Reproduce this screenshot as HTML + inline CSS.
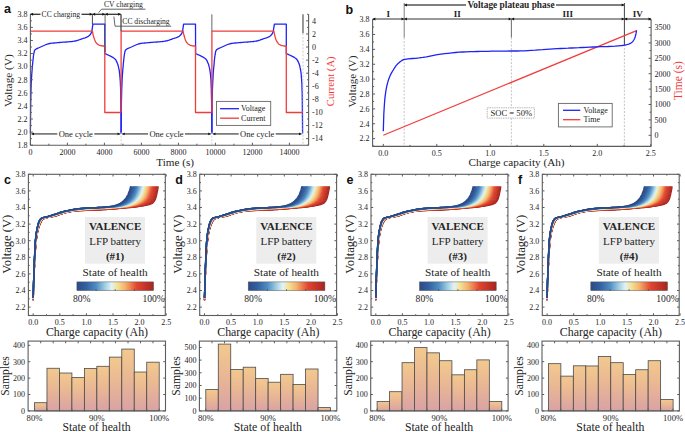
<!DOCTYPE html>
<html><head><meta charset="utf-8"><style>
html,body{margin:0;padding:0;background:#fff;width:685px;height:432px;overflow:hidden;}
svg{display:block;}

</style></head><body>
<svg width="685" height="432" viewBox="0 0 685 432">
<rect width="685" height="432" fill="#ffffff"/>
<path d="M30.4,133.4 30.7,104.0 31,90.5 31.2,83.2 31.5,78.1 31.8,73.7 32.1,70.0 32.3,66.9 32.6,64.0 32.9,61.1 33.2,58.3 33.4,56.0 33.7,54.3 34,52.8 34.3,51.5 34.5,50.6 34.8,50.1 35.1,49.8 35.4,49.6 35.6,49.4 35.9,49.2 36.2,49.0 36.5,48.8 36.7,48.7 37,48.6 37.3,48.4 37.6,48.3 37.8,48.2 38.1,48.1 38.4,48.0 39.5,47.5 40.6,47.0 41.7,46.5 42.8,46.0 44,45.5 45.1,45.0 46.2,44.5 47.3,44.1 48.4,43.8 49.5,43.5 50.6,43.3 51.7,43.2 52.9,43.1 54,43.0 55.1,42.9 56.2,42.8 57.3,42.7 58.4,42.6 59.5,42.5 60.6,42.4 61.8,42.3 62.9,42.2 64,42.1 65.1,42.1 66.2,42.0 67.3,41.9 68.4,41.8 69.5,41.7 70.7,41.6 71.8,41.5 72.9,41.3 74,41.2 75.1,41.0 76.2,40.8 77.3,40.4 78.4,40.1 79.6,39.7 80.7,39.3 81.8,38.9 82.9,38.5 84,38.1 85.1,37.8 86.2,37.4 87.3,36.9 88.5,36.2 89.6,35.3 90.7,34.0 91.8,31.7 92.9,24.1 104.8,24.1 104.8,53.6 105.3,53.8 105.8,54.0 106.3,54.2 106.7,54.4 107.2,54.6 107.7,54.8 108.1,55.0 108.6,55.2 109.1,55.5 109.5,55.7 110,55.9 110.5,56.1 110.9,56.4 111.4,56.6 111.9,56.9 112.3,57.1 112.8,57.4 113.3,57.7 113.7,58.0 114.2,58.3 114.7,58.7 115.1,59.2 115.6,59.7 116.1,60.4 116.5,61.4 117,62.4 117.5,63.6 117.9,64.8 118.4,66.5 118.5,67.1 118.7,67.7 118.8,68.4 119,69.1 119.1,70.0 119.3,70.8 119.4,71.8 119.5,73.0 119.7,74.2 119.8,75.7 120,77.3 120.1,79.1 120.3,81.2 120.4,84.0 120.6,88.4 120.7,94.5 120.8,102.3 121,114.0 121.1,133.4" fill="none" stroke="#1f22f5" stroke-width="1.3" stroke-linejoin="round" />
<path d="M30.4,31.1 30.4,31.1 92.4,31.1 92.9,33.8 93.4,36.0 94,37.9 94.5,39.4 95,40.6 95.5,41.6 96,42.5 96.5,43.1 97.1,43.7 97.6,44.2 98.1,44.5 98.6,44.8 99.1,45.1 99.6,45.3 100.2,45.5 100.7,45.6 101.2,45.7 101.7,45.8 102.2,45.9 102.7,46.0 103.2,46.0 103.8,46.0 104.3,46.1 104.8,46.1 104.8,46.2 104.8,112.5 121.1,112.5" fill="none" stroke="#f03c3c" stroke-width="1.3" stroke-linejoin="round" />
<path d="M121.1,133.4 121.4,104.0 121.7,90.5 122,83.2 122.2,78.1 122.5,73.7 122.8,70.0 123.1,66.9 123.3,64.0 123.6,61.1 123.9,58.3 124.2,56.0 124.4,54.3 124.7,52.8 125,51.5 125.3,50.6 125.5,50.1 125.8,49.8 126.1,49.6 126.4,49.4 126.6,49.2 126.9,49.0 127.2,48.8 127.5,48.7 127.8,48.6 128,48.4 128.3,48.3 128.6,48.2 128.9,48.1 129.1,48.0 130.2,47.5 131.4,47.0 132.5,46.5 133.6,46.0 134.7,45.5 135.8,45.0 136.9,44.5 138,44.1 139.1,43.8 140.3,43.5 141.4,43.3 142.5,43.2 143.6,43.1 144.7,43.0 145.8,42.9 146.9,42.8 148,42.7 149.2,42.6 150.3,42.5 151.4,42.4 152.5,42.3 153.6,42.2 154.7,42.1 155.8,42.1 156.9,42.0 158,41.9 159.2,41.8 160.3,41.7 161.4,41.6 162.5,41.5 163.6,41.3 164.7,41.2 165.8,41.0 166.9,40.8 168.1,40.4 169.2,40.1 170.3,39.7 171.4,39.3 172.5,38.9 173.6,38.5 174.7,38.1 175.8,37.8 177,37.4 178.1,36.9 179.2,36.2 180.3,35.3 181.4,34.0 182.5,31.7 183.6,24.1 195.5,24.1 195.6,53.6 196,53.8 196.5,54.0 197,54.2 197.4,54.4 197.9,54.6 198.4,54.8 198.9,55.0 199.3,55.2 199.8,55.5 200.3,55.7 200.7,55.9 201.2,56.1 201.7,56.4 202.1,56.6 202.6,56.9 203.1,57.1 203.5,57.4 204,57.7 204.5,58.0 204.9,58.3 205.4,58.7 205.9,59.2 206.3,59.7 206.8,60.4 207.3,61.4 207.7,62.4 208.2,63.6 208.7,64.8 209.1,66.5 209.3,67.1 209.4,67.7 209.6,68.4 209.7,69.1 209.8,70.0 210,70.8 210.1,71.8 210.3,73.0 210.4,74.2 210.6,75.7 210.7,77.3 210.9,79.1 211,81.2 211.1,84.0 211.3,88.4 211.4,94.5 211.6,102.3 211.7,114.0 211.9,133.4" fill="none" stroke="#1f22f5" stroke-width="1.3" stroke-linejoin="round" />
<path d="M121.1,112.5 121.1,31.1 183.1,31.1 183.6,33.8 184.2,36.0 184.7,37.9 185.2,39.4 185.7,40.6 186.2,41.6 186.7,42.5 187.3,43.1 187.8,43.7 188.3,44.2 188.8,44.5 189.3,44.8 189.8,45.1 190.4,45.3 190.9,45.5 191.4,45.6 191.9,45.7 192.4,45.8 192.9,45.9 193.5,46.0 194,46.0 194.5,46.0 195,46.1 195.5,46.1 195.5,46.2 195.5,112.5 211.9,112.5" fill="none" stroke="#f03c3c" stroke-width="1.3" stroke-linejoin="round" />
<path d="M211.9,133.4 212.1,104.0 212.4,90.5 212.7,83.2 213,78.1 213.2,73.7 213.5,70.0 213.8,66.9 214.1,64.0 214.3,61.1 214.6,58.3 214.9,56.0 215.2,54.3 215.4,52.8 215.7,51.5 216,50.6 216.3,50.1 216.5,49.8 216.8,49.6 217.1,49.4 217.4,49.2 217.7,49.0 217.9,48.8 218.2,48.7 218.5,48.6 218.8,48.4 219,48.3 219.3,48.2 219.6,48.1 219.9,48.0 221,47.5 222.1,47.0 223.2,46.5 224.3,46.0 225.4,45.5 226.5,45.0 227.6,44.5 228.8,44.1 229.9,43.8 231,43.5 232.1,43.3 233.2,43.2 234.3,43.1 235.4,43.0 236.5,42.9 237.7,42.8 238.8,42.7 239.9,42.6 241,42.5 242.1,42.4 243.2,42.3 244.3,42.2 245.4,42.1 246.6,42.1 247.7,42.0 248.8,41.9 249.9,41.8 251,41.7 252.1,41.6 253.2,41.5 254.3,41.3 255.5,41.2 256.6,41.0 257.7,40.8 258.8,40.4 259.9,40.1 261,39.7 262.1,39.3 263.2,38.9 264.3,38.5 265.5,38.1 266.6,37.8 267.7,37.4 268.8,36.9 269.9,36.2 271,35.3 272.1,34.0 273.2,31.7 274.4,24.1 286.3,24.1 286.3,53.6 286.8,53.8 287.2,54.0 287.7,54.2 288.2,54.4 288.6,54.6 289.1,54.8 289.6,55.0 290,55.2 290.5,55.5 291,55.7 291.4,55.9 291.9,56.1 292.4,56.4 292.9,56.6 293.3,56.9 293.8,57.1 294.3,57.4 294.7,57.7 295.2,58.0 295.7,58.3 296.1,58.7 296.6,59.2 297.1,59.7 297.5,60.4 298,61.4 298.5,62.4 298.9,63.6 299.4,64.8 299.9,66.5 300,67.1 300.1,67.7 300.3,68.4 300.4,69.1 300.6,70.0 300.7,70.8 300.9,71.8 301,73.0 301.2,74.2 301.3,75.7 301.4,77.3 301.6,79.1 301.7,81.2 301.9,84.0 302,88.4 302.2,94.5 302.3,102.3 302.4,114.0 302.6,133.4" fill="none" stroke="#1f22f5" stroke-width="1.3" stroke-linejoin="round" />
<path d="M211.9,112.5 211.9,31.1 273.9,31.1 274.4,33.8 274.9,36.0 275.4,37.9 275.9,39.4 276.4,40.6 277,41.6 277.5,42.5 278,43.1 278.5,43.7 279,44.2 279.5,44.5 280.1,44.8 280.6,45.1 281.1,45.3 281.6,45.5 282.1,45.6 282.6,45.7 283.2,45.8 283.7,45.9 284.2,46.0 284.7,46.0 285.2,46.0 285.7,46.1 286.3,46.1 286.3,46.2 286.3,112.5 302.6,112.5" fill="none" stroke="#f03c3c" stroke-width="1.3" stroke-linejoin="round" />
<line x1="302.99" y1="14.3" x2="302.99" y2="33.28" stroke="#333" stroke-width="1" />
<line x1="302.99" y1="33.28" x2="302.99" y2="145.2" stroke="#c0c0c0" stroke-width="0.8" stroke-dasharray="2,1.5"/>
<line x1="121.13" y1="14.3" x2="121.13" y2="31.06" stroke="#555" stroke-width="0.9" />
<line x1="211.86" y1="14.3" x2="211.86" y2="31.06" stroke="#555" stroke-width="0.9" />
<line x1="121.13" y1="132.11" x2="121.13" y2="145.2" stroke="#c4c4c4" stroke-width="0.8" stroke-dasharray="2,1.5"/>
<line x1="211.86" y1="132.11" x2="211.86" y2="145.2" stroke="#c4c4c4" stroke-width="0.8" stroke-dasharray="2,1.5"/>
<line x1="92.4" y1="14.3" x2="92.4" y2="24.12" stroke="#333" stroke-width="0.9" />
<line x1="105.1" y1="14.3" x2="105.1" y2="52" stroke="#555" stroke-width="0.9" />
<line x1="120.9" y1="14.3" x2="120.9" y2="31.06" stroke="#555" stroke-width="0.9" />
<line x1="30.4" y1="14.3" x2="30.4" y2="145.2" stroke="#5c5c5c" stroke-width="1.1" />
<line x1="30.4" y1="145.2" x2="308.6" y2="145.2" stroke="#5c5c5c" stroke-width="1.1" />
<line x1="308.6" y1="14.3" x2="308.6" y2="145.2" stroke="#5c5c5c" stroke-width="1.1" />
<line x1="30.4" y1="145.2" x2="32.9" y2="145.2" stroke="#5c5c5c" stroke-width="1" />
<line x1="30.4" y1="132.11" x2="32.9" y2="132.11" stroke="#5c5c5c" stroke-width="1" />
<line x1="30.4" y1="119.02" x2="32.9" y2="119.02" stroke="#5c5c5c" stroke-width="1" />
<line x1="30.4" y1="105.93" x2="32.9" y2="105.93" stroke="#5c5c5c" stroke-width="1" />
<line x1="30.4" y1="92.84" x2="32.9" y2="92.84" stroke="#5c5c5c" stroke-width="1" />
<line x1="30.4" y1="79.75" x2="32.9" y2="79.75" stroke="#5c5c5c" stroke-width="1" />
<line x1="30.4" y1="66.66" x2="32.9" y2="66.66" stroke="#5c5c5c" stroke-width="1" />
<line x1="30.4" y1="53.57" x2="32.9" y2="53.57" stroke="#5c5c5c" stroke-width="1" />
<line x1="30.4" y1="40.48" x2="32.9" y2="40.48" stroke="#5c5c5c" stroke-width="1" />
<line x1="30.4" y1="27.39" x2="32.9" y2="27.39" stroke="#5c5c5c" stroke-width="1" />
<line x1="30.4" y1="14.3" x2="32.9" y2="14.3" stroke="#5c5c5c" stroke-width="1" />
<line x1="30.4" y1="138.66" x2="31.9" y2="138.66" stroke="#5c5c5c" stroke-width="1" />
<line x1="30.4" y1="125.56" x2="31.9" y2="125.56" stroke="#5c5c5c" stroke-width="1" />
<line x1="30.4" y1="112.47" x2="31.9" y2="112.47" stroke="#5c5c5c" stroke-width="1" />
<line x1="30.4" y1="99.38" x2="31.9" y2="99.38" stroke="#5c5c5c" stroke-width="1" />
<line x1="30.4" y1="86.29" x2="31.9" y2="86.29" stroke="#5c5c5c" stroke-width="1" />
<line x1="30.4" y1="73.2" x2="31.9" y2="73.2" stroke="#5c5c5c" stroke-width="1" />
<line x1="30.4" y1="60.11" x2="31.9" y2="60.11" stroke="#5c5c5c" stroke-width="1" />
<line x1="30.4" y1="47.03" x2="31.9" y2="47.03" stroke="#5c5c5c" stroke-width="1" />
<line x1="30.4" y1="33.93" x2="31.9" y2="33.93" stroke="#5c5c5c" stroke-width="1" />
<line x1="30.4" y1="20.84" x2="31.9" y2="20.84" stroke="#5c5c5c" stroke-width="1" />
<line x1="30.4" y1="145.2" x2="30.4" y2="142.7" stroke="#5c5c5c" stroke-width="1" />
<line x1="67.4" y1="145.2" x2="67.4" y2="142.7" stroke="#5c5c5c" stroke-width="1" />
<line x1="104.4" y1="145.2" x2="104.4" y2="142.7" stroke="#5c5c5c" stroke-width="1" />
<line x1="141.4" y1="145.2" x2="141.4" y2="142.7" stroke="#5c5c5c" stroke-width="1" />
<line x1="178.4" y1="145.2" x2="178.4" y2="142.7" stroke="#5c5c5c" stroke-width="1" />
<line x1="215.4" y1="145.2" x2="215.4" y2="142.7" stroke="#5c5c5c" stroke-width="1" />
<line x1="252.4" y1="145.2" x2="252.4" y2="142.7" stroke="#5c5c5c" stroke-width="1" />
<line x1="289.4" y1="145.2" x2="289.4" y2="142.7" stroke="#5c5c5c" stroke-width="1" />
<line x1="48.9" y1="145.2" x2="48.9" y2="143.7" stroke="#5c5c5c" stroke-width="1" />
<line x1="85.9" y1="145.2" x2="85.9" y2="143.7" stroke="#5c5c5c" stroke-width="1" />
<line x1="122.9" y1="145.2" x2="122.9" y2="143.7" stroke="#5c5c5c" stroke-width="1" />
<line x1="159.9" y1="145.2" x2="159.9" y2="143.7" stroke="#5c5c5c" stroke-width="1" />
<line x1="196.9" y1="145.2" x2="196.9" y2="143.7" stroke="#5c5c5c" stroke-width="1" />
<line x1="233.9" y1="145.2" x2="233.9" y2="143.7" stroke="#5c5c5c" stroke-width="1" />
<line x1="270.9" y1="145.2" x2="270.9" y2="143.7" stroke="#5c5c5c" stroke-width="1" />
<line x1="308.6" y1="138.66" x2="306.1" y2="138.66" stroke="#5c5c5c" stroke-width="1" />
<line x1="308.6" y1="125.56" x2="306.1" y2="125.56" stroke="#5c5c5c" stroke-width="1" />
<line x1="308.6" y1="112.47" x2="306.1" y2="112.47" stroke="#5c5c5c" stroke-width="1" />
<line x1="308.6" y1="99.38" x2="306.1" y2="99.38" stroke="#5c5c5c" stroke-width="1" />
<line x1="308.6" y1="86.3" x2="306.1" y2="86.3" stroke="#5c5c5c" stroke-width="1" />
<line x1="308.6" y1="73.2" x2="306.1" y2="73.2" stroke="#5c5c5c" stroke-width="1" />
<line x1="308.6" y1="60.11" x2="306.1" y2="60.11" stroke="#5c5c5c" stroke-width="1" />
<line x1="308.6" y1="47.03" x2="306.1" y2="47.03" stroke="#5c5c5c" stroke-width="1" />
<line x1="308.6" y1="33.94" x2="306.1" y2="33.94" stroke="#5c5c5c" stroke-width="1" />
<line x1="308.6" y1="20.84" x2="306.1" y2="20.84" stroke="#5c5c5c" stroke-width="1" />
<line x1="308.6" y1="145.2" x2="307.1" y2="145.2" stroke="#5c5c5c" stroke-width="1" />
<line x1="308.6" y1="132.11" x2="307.1" y2="132.11" stroke="#5c5c5c" stroke-width="1" />
<line x1="308.6" y1="119.02" x2="307.1" y2="119.02" stroke="#5c5c5c" stroke-width="1" />
<line x1="308.6" y1="105.93" x2="307.1" y2="105.93" stroke="#5c5c5c" stroke-width="1" />
<line x1="308.6" y1="92.84" x2="307.1" y2="92.84" stroke="#5c5c5c" stroke-width="1" />
<line x1="308.6" y1="79.75" x2="307.1" y2="79.75" stroke="#5c5c5c" stroke-width="1" />
<line x1="308.6" y1="66.66" x2="307.1" y2="66.66" stroke="#5c5c5c" stroke-width="1" />
<line x1="308.6" y1="53.57" x2="307.1" y2="53.57" stroke="#5c5c5c" stroke-width="1" />
<line x1="308.6" y1="40.48" x2="307.1" y2="40.48" stroke="#5c5c5c" stroke-width="1" />
<line x1="308.6" y1="27.39" x2="307.1" y2="27.39" stroke="#5c5c5c" stroke-width="1" />
<line x1="308.6" y1="14.3" x2="307.1" y2="14.3" stroke="#5c5c5c" stroke-width="1" />
<text x="27.4" y="148" font-size="8" text-anchor="end" fill="#242424" font-weight="normal" font-family='"Liberation Serif", serif' >1.8</text>
<text x="27.4" y="134.91" font-size="8" text-anchor="end" fill="#242424" font-weight="normal" font-family='"Liberation Serif", serif' >2.0</text>
<text x="27.4" y="121.82" font-size="8" text-anchor="end" fill="#242424" font-weight="normal" font-family='"Liberation Serif", serif' >2.2</text>
<text x="27.4" y="108.73" font-size="8" text-anchor="end" fill="#242424" font-weight="normal" font-family='"Liberation Serif", serif' >2.4</text>
<text x="27.4" y="95.64" font-size="8" text-anchor="end" fill="#242424" font-weight="normal" font-family='"Liberation Serif", serif' >2.6</text>
<text x="27.4" y="82.55" font-size="8" text-anchor="end" fill="#242424" font-weight="normal" font-family='"Liberation Serif", serif' >2.8</text>
<text x="27.4" y="69.46" font-size="8" text-anchor="end" fill="#242424" font-weight="normal" font-family='"Liberation Serif", serif' >3.0</text>
<text x="27.4" y="56.37" font-size="8" text-anchor="end" fill="#242424" font-weight="normal" font-family='"Liberation Serif", serif' >3.2</text>
<text x="27.4" y="43.28" font-size="8" text-anchor="end" fill="#242424" font-weight="normal" font-family='"Liberation Serif", serif' >3.4</text>
<text x="27.4" y="30.19" font-size="8" text-anchor="end" fill="#242424" font-weight="normal" font-family='"Liberation Serif", serif' >3.6</text>
<text x="27.4" y="17.1" font-size="8" text-anchor="end" fill="#242424" font-weight="normal" font-family='"Liberation Serif", serif' >3.8</text>
<text x="30.4" y="154.8" font-size="8" text-anchor="middle" fill="#242424" font-weight="normal" font-family='"Liberation Serif", serif' >0</text>
<text x="67.4" y="154.8" font-size="8" text-anchor="middle" fill="#242424" font-weight="normal" font-family='"Liberation Serif", serif' >2000</text>
<text x="104.4" y="154.8" font-size="8" text-anchor="middle" fill="#242424" font-weight="normal" font-family='"Liberation Serif", serif' >4000</text>
<text x="141.4" y="154.8" font-size="8" text-anchor="middle" fill="#242424" font-weight="normal" font-family='"Liberation Serif", serif' >6000</text>
<text x="178.4" y="154.8" font-size="8" text-anchor="middle" fill="#242424" font-weight="normal" font-family='"Liberation Serif", serif' >8000</text>
<text x="215.4" y="154.8" font-size="8" text-anchor="middle" fill="#242424" font-weight="normal" font-family='"Liberation Serif", serif' >10000</text>
<text x="252.4" y="154.8" font-size="8" text-anchor="middle" fill="#242424" font-weight="normal" font-family='"Liberation Serif", serif' >12000</text>
<text x="289.4" y="154.8" font-size="8" text-anchor="middle" fill="#242424" font-weight="normal" font-family='"Liberation Serif", serif' >14000</text>
<text x="312.1" y="141.46" font-size="8" text-anchor="start" fill="#242424" font-weight="normal" font-family='"Liberation Serif", serif' >-14</text>
<text x="312.1" y="128.37" font-size="8" text-anchor="start" fill="#242424" font-weight="normal" font-family='"Liberation Serif", serif' >-12</text>
<text x="312.1" y="115.27" font-size="8" text-anchor="start" fill="#242424" font-weight="normal" font-family='"Liberation Serif", serif' >-10</text>
<text x="312.1" y="102.18" font-size="8" text-anchor="start" fill="#242424" font-weight="normal" font-family='"Liberation Serif", serif' >-8</text>
<text x="312.1" y="89.09" font-size="8" text-anchor="start" fill="#242424" font-weight="normal" font-family='"Liberation Serif", serif' >-6</text>
<text x="312.1" y="76" font-size="8" text-anchor="start" fill="#242424" font-weight="normal" font-family='"Liberation Serif", serif' >-4</text>
<text x="312.1" y="62.91" font-size="8" text-anchor="start" fill="#242424" font-weight="normal" font-family='"Liberation Serif", serif' >-2</text>
<text x="312.1" y="49.83" font-size="8" text-anchor="start" fill="#242424" font-weight="normal" font-family='"Liberation Serif", serif' >0</text>
<text x="312.1" y="36.73" font-size="8" text-anchor="start" fill="#242424" font-weight="normal" font-family='"Liberation Serif", serif' >2</text>
<text x="312.1" y="23.64" font-size="8" text-anchor="start" fill="#242424" font-weight="normal" font-family='"Liberation Serif", serif' >4</text>
<text x="175.2" y="165.8" font-size="11.2" text-anchor="middle" fill="#242424" font-weight="normal" font-family='"Liberation Serif", serif' >Time (s)</text>
<text x="0" y="0" font-size="11.3" text-anchor="middle" fill="#242424" font-weight="normal" font-family='"Liberation Serif", serif' transform="translate(8.4,80.6) rotate(-90)" dominant-baseline="central">Voltage (V)</text>
<text x="0" y="0" font-size="10.6" text-anchor="middle" fill="#f03a3a" font-weight="normal" font-family='"Liberation Serif", serif' transform="translate(330.5,81.3) rotate(-90)" dominant-baseline="central">Current (A)</text>
<text x="4" y="13.4" font-size="12.5" text-anchor="start" fill="#111" font-weight="bold" font-family='"Liberation Sans", sans-serif' >a</text>
<line x1="30.4" y1="14.3" x2="40.5" y2="14.3" stroke="#333" stroke-width="1.3" />
<line x1="81.5" y1="14.3" x2="92.4" y2="14.3" stroke="#333" stroke-width="1.3" />
<line x1="92.4" y1="14.3" x2="105.1" y2="14.3" stroke="#333" stroke-width="1.3" />
<line x1="105.1" y1="14.3" x2="120.9" y2="14.3" stroke="#333" stroke-width="1.3" />
<polygon points="30.6,14.3 33.12,12.86 33.12,15.74" fill="#111"/>
<polygon points="92.2,14.3 89.68,12.86 89.68,15.74" fill="#111"/>
<polygon points="92.6,14.3 95.12,12.86 95.12,15.74" fill="#111"/>
<polygon points="104.9,14.3 102.38,12.86 102.38,15.74" fill="#111"/>
<polygon points="105.3,14.3 107.82,12.86 107.82,15.74" fill="#111"/>
<polygon points="120.7,14.3 118.18,12.86 118.18,15.74" fill="#111"/>
<text x="60.8" y="17" font-size="7.6" text-anchor="middle" fill="#242424" font-weight="normal" font-family='"Liberation Serif", serif' >CC charging</text>
<text x="123.4" y="6.8" font-size="7.6" text-anchor="middle" fill="#242424" font-weight="normal" font-family='"Liberation Serif", serif' >CV charging</text>
<line x1="101.5" y1="9.2" x2="145.5" y2="9.2" stroke="#555" stroke-width="0.9" />
<line x1="101.5" y1="9.2" x2="98.6" y2="12.6" stroke="#555" stroke-width="0.9" />
<text x="146" y="23.6" font-size="7.6" text-anchor="middle" fill="#242424" font-weight="normal" font-family='"Liberation Serif", serif' >CC discharging</text>
<line x1="115" y1="26.2" x2="171.2" y2="26.2" stroke="#555" stroke-width="0.9" />
<line x1="115" y1="26.2" x2="113.9" y2="16.6" stroke="#555" stroke-width="0.9" />
<line x1="31.4" y1="133.9" x2="57.27" y2="133.9" stroke="#6e6e6e" stroke-width="1.6" />
<line x1="94.27" y1="133.9" x2="120.13" y2="133.9" stroke="#6e6e6e" stroke-width="1.6" />
<polygon points="31.6,133.9 33.98,132.54 33.98,135.26" fill="#111"/>
<polygon points="119.93,133.9 117.55,132.54 117.55,135.26" fill="#111"/>
<text x="75.77" y="136.6" font-size="8.5" text-anchor="middle" fill="#242424" font-weight="normal" font-family='"Liberation Serif", serif' >One cycle</text>
<line x1="122.13" y1="133.9" x2="148" y2="133.9" stroke="#6e6e6e" stroke-width="1.6" />
<line x1="185" y1="133.9" x2="210.86" y2="133.9" stroke="#6e6e6e" stroke-width="1.6" />
<polygon points="122.33,133.9 124.71,132.54 124.71,135.26" fill="#111"/>
<polygon points="210.66,133.9 208.28,132.54 208.28,135.26" fill="#111"/>
<text x="166.5" y="136.6" font-size="8.5" text-anchor="middle" fill="#242424" font-weight="normal" font-family='"Liberation Serif", serif' >One cycle</text>
<line x1="212.86" y1="133.9" x2="238.73" y2="133.9" stroke="#6e6e6e" stroke-width="1.6" />
<line x1="275.73" y1="133.9" x2="301.59" y2="133.9" stroke="#6e6e6e" stroke-width="1.6" />
<polygon points="213.06,133.9 215.44,132.54 215.44,135.26" fill="#111"/>
<polygon points="301.39,133.9 299.01,132.54 299.01,135.26" fill="#111"/>
<text x="257.23" y="136.6" font-size="8.5" text-anchor="middle" fill="#242424" font-weight="normal" font-family='"Liberation Serif", serif' >One cycle</text>
<rect x="216.5" y="101.4" width="54.2" height="24" fill="#fff" stroke="#666" stroke-width="0.9"/>
<line x1="220.1" y1="108.7" x2="239" y2="108.7" stroke="#1f22f5" stroke-width="1.3" />
<line x1="220.1" y1="118.2" x2="239" y2="118.2" stroke="#f03c3c" stroke-width="1.3" />
<text x="241.1" y="111.4" font-size="8" text-anchor="start" fill="#242424" font-weight="normal" font-family='"Liberation Serif", serif' >Voltage</text>
<text x="241.1" y="121" font-size="8" text-anchor="start" fill="#242424" font-weight="normal" font-family='"Liberation Serif", serif' >Current</text>
<line x1="404.2" y1="37.5" x2="404.2" y2="146.4" stroke="#b8b8b8" stroke-width="0.8" stroke-dasharray="2,1.5"/>
<line x1="511.4" y1="37.5" x2="511.4" y2="146.4" stroke="#b8b8b8" stroke-width="0.8" stroke-dasharray="2,1.5"/>
<line x1="624.4" y1="37.5" x2="624.4" y2="146.4" stroke="#b8b8b8" stroke-width="0.8" stroke-dasharray="2,1.5"/>
<line x1="404.2" y1="3" x2="404.2" y2="37.5" stroke="#8a8a8a" stroke-width="1.1" />
<line x1="511.4" y1="19.2" x2="511.4" y2="37.5" stroke="#777" stroke-width="1.1" />
<line x1="624.4" y1="3" x2="624.4" y2="45" stroke="#444" stroke-width="1" />
<path d="M383.3,135.3 636.6,30.6" fill="none" stroke="#f03c3c" stroke-width="1.2" stroke-linejoin="round" />
<path d="M383.3,131.2 383.8,114.2 384.4,104.5 384.9,98.1 385.5,93.6 386,90.2 386.6,87.2 387.1,84.7 387.7,82.6 388.2,80.7 388.8,79.0 389.3,77.6 389.9,76.2 390.4,75.0 391,73.9 391.5,72.9 392.1,71.9 392.6,71.0 393.2,70.1 393.7,69.2 394.3,68.4 394.8,67.5 395.4,66.7 395.9,65.9 396.5,65.2 397,64.6 397.6,64.0 398.1,63.5 398.7,63.0 399.2,62.5 399.8,62.0 400.3,61.6 400.9,61.2 401.4,60.8 402,60.4 402.5,60.1 403.1,59.8 403.6,59.6 404.2,59.5 404.7,59.3 404.7,59.3 408.3,58.8 412,58.5 415.6,58.3 419.2,57.9 422.8,57.4 426.5,56.8 430.1,56.1 433.7,55.4 437.3,54.7 441,54.2 444.6,53.7 448.2,53.3 451.9,52.9 455.5,52.5 459.1,52.2 462.7,52.0 466.4,51.9 470,51.7 473.6,51.6 477.2,51.5 480.9,51.4 484.5,51.3 488.1,51.3 491.8,51.2 495.4,51.2 499,51.1 502.6,51.1 506.3,51.1 509.9,51.0 513.5,51.0 517.1,51.0 520.8,50.9 524.4,50.8 528,50.6 531.6,50.4 535.3,50.2 538.9,49.9 542.5,49.7 546.2,49.4 549.8,49.1 553.4,48.9 557,48.7 560.7,48.5 564.3,48.3 567.9,48.2 571.5,48.0 575.2,47.8 578.8,47.7 582.4,47.5 586.1,47.4 589.7,47.2 593.3,47.0 596.9,46.9 600.6,46.7 604.2,46.6 607.8,46.5 611.4,46.3 615.1,46.1 618.7,45.8 618.7,45.8 619.3,45.8 619.9,45.7 620.5,45.7 621.2,45.6 621.8,45.6 622.4,45.5 623,45.4 623.6,45.3 624.2,45.2 624.9,45.1 625.5,45.0 626.1,44.8 626.7,44.7 627.3,44.5 627.9,44.3 628.6,44.1 629.2,43.9 629.8,43.6 630.4,43.3 631,43.0 631.6,42.5 632.3,42.0 632.9,41.4 633.5,40.5 634.1,39.5 634.7,38.2 635.3,36.5 636,33.7 636.6,30.3" fill="none" stroke="#1f22f5" stroke-width="1.3" stroke-linejoin="round" />
<line x1="372.6" y1="19.2" x2="372.6" y2="146.4" stroke="#5c5c5c" stroke-width="1.1" />
<line x1="372.6" y1="146.4" x2="651.1" y2="146.4" stroke="#5c5c5c" stroke-width="1.1" />
<line x1="651.1" y1="19.2" x2="651.1" y2="146.4" stroke="#5c5c5c" stroke-width="1.1" />
<line x1="372.6" y1="138.64" x2="375.1" y2="138.64" stroke="#5c5c5c" stroke-width="1" />
<line x1="372.6" y1="123.76" x2="375.1" y2="123.76" stroke="#5c5c5c" stroke-width="1" />
<line x1="372.6" y1="108.88" x2="375.1" y2="108.88" stroke="#5c5c5c" stroke-width="1" />
<line x1="372.6" y1="94" x2="375.1" y2="94" stroke="#5c5c5c" stroke-width="1" />
<line x1="372.6" y1="79.12" x2="375.1" y2="79.12" stroke="#5c5c5c" stroke-width="1" />
<line x1="372.6" y1="64.24" x2="375.1" y2="64.24" stroke="#5c5c5c" stroke-width="1" />
<line x1="372.6" y1="49.36" x2="375.1" y2="49.36" stroke="#5c5c5c" stroke-width="1" />
<line x1="372.6" y1="34.48" x2="375.1" y2="34.48" stroke="#5c5c5c" stroke-width="1" />
<line x1="372.6" y1="19.6" x2="375.1" y2="19.6" stroke="#5c5c5c" stroke-width="1" />
<line x1="372.6" y1="146.08" x2="374.1" y2="146.08" stroke="#5c5c5c" stroke-width="1" />
<line x1="372.6" y1="131.2" x2="374.1" y2="131.2" stroke="#5c5c5c" stroke-width="1" />
<line x1="372.6" y1="116.32" x2="374.1" y2="116.32" stroke="#5c5c5c" stroke-width="1" />
<line x1="372.6" y1="101.44" x2="374.1" y2="101.44" stroke="#5c5c5c" stroke-width="1" />
<line x1="372.6" y1="86.56" x2="374.1" y2="86.56" stroke="#5c5c5c" stroke-width="1" />
<line x1="372.6" y1="71.68" x2="374.1" y2="71.68" stroke="#5c5c5c" stroke-width="1" />
<line x1="372.6" y1="56.8" x2="374.1" y2="56.8" stroke="#5c5c5c" stroke-width="1" />
<line x1="372.6" y1="41.92" x2="374.1" y2="41.92" stroke="#5c5c5c" stroke-width="1" />
<line x1="372.6" y1="27.04" x2="374.1" y2="27.04" stroke="#5c5c5c" stroke-width="1" />
<line x1="383.3" y1="146.4" x2="383.3" y2="143.9" stroke="#5c5c5c" stroke-width="1" />
<line x1="436.8" y1="146.4" x2="436.8" y2="143.9" stroke="#5c5c5c" stroke-width="1" />
<line x1="490.3" y1="146.4" x2="490.3" y2="143.9" stroke="#5c5c5c" stroke-width="1" />
<line x1="543.8" y1="146.4" x2="543.8" y2="143.9" stroke="#5c5c5c" stroke-width="1" />
<line x1="597.3" y1="146.4" x2="597.3" y2="143.9" stroke="#5c5c5c" stroke-width="1" />
<line x1="650.8" y1="146.4" x2="650.8" y2="143.9" stroke="#5c5c5c" stroke-width="1" />
<line x1="410.05" y1="146.4" x2="410.05" y2="144.9" stroke="#5c5c5c" stroke-width="1" />
<line x1="463.55" y1="146.4" x2="463.55" y2="144.9" stroke="#5c5c5c" stroke-width="1" />
<line x1="517.05" y1="146.4" x2="517.05" y2="144.9" stroke="#5c5c5c" stroke-width="1" />
<line x1="570.55" y1="146.4" x2="570.55" y2="144.9" stroke="#5c5c5c" stroke-width="1" />
<line x1="624.05" y1="146.4" x2="624.05" y2="144.9" stroke="#5c5c5c" stroke-width="1" />
<line x1="372.6" y1="146.4" x2="372.6" y2="144.9" stroke="#5c5c5c" stroke-width="1" />
<line x1="651.1" y1="135.3" x2="648.6" y2="135.3" stroke="#5c5c5c" stroke-width="1" />
<line x1="651.1" y1="119.9" x2="648.6" y2="119.9" stroke="#5c5c5c" stroke-width="1" />
<line x1="651.1" y1="104.5" x2="648.6" y2="104.5" stroke="#5c5c5c" stroke-width="1" />
<line x1="651.1" y1="89.1" x2="648.6" y2="89.1" stroke="#5c5c5c" stroke-width="1" />
<line x1="651.1" y1="73.7" x2="648.6" y2="73.7" stroke="#5c5c5c" stroke-width="1" />
<line x1="651.1" y1="58.3" x2="648.6" y2="58.3" stroke="#5c5c5c" stroke-width="1" />
<line x1="651.1" y1="42.9" x2="648.6" y2="42.9" stroke="#5c5c5c" stroke-width="1" />
<line x1="651.1" y1="27.5" x2="648.6" y2="27.5" stroke="#5c5c5c" stroke-width="1" />
<line x1="651.1" y1="127.6" x2="649.6" y2="127.6" stroke="#5c5c5c" stroke-width="1" />
<line x1="651.1" y1="112.2" x2="649.6" y2="112.2" stroke="#5c5c5c" stroke-width="1" />
<line x1="651.1" y1="96.8" x2="649.6" y2="96.8" stroke="#5c5c5c" stroke-width="1" />
<line x1="651.1" y1="81.4" x2="649.6" y2="81.4" stroke="#5c5c5c" stroke-width="1" />
<line x1="651.1" y1="66" x2="649.6" y2="66" stroke="#5c5c5c" stroke-width="1" />
<line x1="651.1" y1="50.6" x2="649.6" y2="50.6" stroke="#5c5c5c" stroke-width="1" />
<line x1="651.1" y1="35.2" x2="649.6" y2="35.2" stroke="#5c5c5c" stroke-width="1" />
<line x1="651.1" y1="19.8" x2="649.6" y2="19.8" stroke="#5c5c5c" stroke-width="1" />
<text x="369.6" y="141.44" font-size="8" text-anchor="end" fill="#242424" font-weight="normal" font-family='"Liberation Serif", serif' >2.2</text>
<text x="369.6" y="126.56" font-size="8" text-anchor="end" fill="#242424" font-weight="normal" font-family='"Liberation Serif", serif' >2.4</text>
<text x="369.6" y="111.68" font-size="8" text-anchor="end" fill="#242424" font-weight="normal" font-family='"Liberation Serif", serif' >2.6</text>
<text x="369.6" y="96.8" font-size="8" text-anchor="end" fill="#242424" font-weight="normal" font-family='"Liberation Serif", serif' >2.8</text>
<text x="369.6" y="81.92" font-size="8" text-anchor="end" fill="#242424" font-weight="normal" font-family='"Liberation Serif", serif' >3.0</text>
<text x="369.6" y="67.04" font-size="8" text-anchor="end" fill="#242424" font-weight="normal" font-family='"Liberation Serif", serif' >3.2</text>
<text x="369.6" y="52.16" font-size="8" text-anchor="end" fill="#242424" font-weight="normal" font-family='"Liberation Serif", serif' >3.4</text>
<text x="369.6" y="37.28" font-size="8" text-anchor="end" fill="#242424" font-weight="normal" font-family='"Liberation Serif", serif' >3.6</text>
<text x="369.6" y="22.4" font-size="8" text-anchor="end" fill="#242424" font-weight="normal" font-family='"Liberation Serif", serif' >3.8</text>
<text x="383.3" y="156" font-size="8" text-anchor="middle" fill="#242424" font-weight="normal" font-family='"Liberation Serif", serif' >0.0</text>
<text x="436.8" y="156" font-size="8" text-anchor="middle" fill="#242424" font-weight="normal" font-family='"Liberation Serif", serif' >0.5</text>
<text x="490.3" y="156" font-size="8" text-anchor="middle" fill="#242424" font-weight="normal" font-family='"Liberation Serif", serif' >1.0</text>
<text x="543.8" y="156" font-size="8" text-anchor="middle" fill="#242424" font-weight="normal" font-family='"Liberation Serif", serif' >1.5</text>
<text x="597.3" y="156" font-size="8" text-anchor="middle" fill="#242424" font-weight="normal" font-family='"Liberation Serif", serif' >2.0</text>
<text x="650.8" y="156" font-size="8" text-anchor="middle" fill="#242424" font-weight="normal" font-family='"Liberation Serif", serif' >2.5</text>
<text x="654.6" y="138.1" font-size="8" text-anchor="start" fill="#242424" font-weight="normal" font-family='"Liberation Serif", serif' >0</text>
<text x="654.6" y="122.7" font-size="8" text-anchor="start" fill="#242424" font-weight="normal" font-family='"Liberation Serif", serif' >500</text>
<text x="654.6" y="107.3" font-size="8" text-anchor="start" fill="#242424" font-weight="normal" font-family='"Liberation Serif", serif' >1000</text>
<text x="654.6" y="91.9" font-size="8" text-anchor="start" fill="#242424" font-weight="normal" font-family='"Liberation Serif", serif' >1500</text>
<text x="654.6" y="76.5" font-size="8" text-anchor="start" fill="#242424" font-weight="normal" font-family='"Liberation Serif", serif' >2000</text>
<text x="654.6" y="61.1" font-size="8" text-anchor="start" fill="#242424" font-weight="normal" font-family='"Liberation Serif", serif' >2500</text>
<text x="654.6" y="45.7" font-size="8" text-anchor="start" fill="#242424" font-weight="normal" font-family='"Liberation Serif", serif' >3000</text>
<text x="654.6" y="30.3" font-size="8" text-anchor="start" fill="#242424" font-weight="normal" font-family='"Liberation Serif", serif' >3500</text>
<text x="516.5" y="165.8" font-size="11.2" text-anchor="middle" fill="#242424" font-weight="normal" font-family='"Liberation Serif", serif' >Charge capacity (Ah)</text>
<text x="0" y="0" font-size="11.1" text-anchor="middle" fill="#242424" font-weight="normal" font-family='"Liberation Serif", serif' transform="translate(352.4,81.6) rotate(-90)" dominant-baseline="central">Voltage (V)</text>
<text x="0" y="0" font-size="11.5" text-anchor="middle" fill="#f03a3a" font-weight="normal" font-family='"Liberation Serif", serif' transform="translate(677.8,80.6) rotate(-90)" dominant-baseline="central">Time (s)</text>
<text x="345.5" y="13.8" font-size="12.5" text-anchor="start" fill="#111" font-weight="bold" font-family='"Liberation Sans", sans-serif' >b</text>
<line x1="372.6" y1="19" x2="624.4" y2="19" stroke="#333" stroke-width="1.2" />
<line x1="624.4" y1="19" x2="651.1" y2="19" stroke="#333" stroke-width="1.2" />
<polygon points="372.8,19 375.32,17.56 375.32,20.44" fill="#111"/>
<polygon points="404,19 401.48,17.56 401.48,20.44" fill="#111"/>
<polygon points="404.4,19 406.92,17.56 406.92,20.44" fill="#111"/>
<polygon points="511.2,19 508.68,17.56 508.68,20.44" fill="#111"/>
<polygon points="511.6,19 514.12,17.56 514.12,20.44" fill="#111"/>
<polygon points="624.2,19 621.68,17.56 621.68,20.44" fill="#111"/>
<polygon points="624.6,19 627.12,17.56 627.12,20.44" fill="#111"/>
<polygon points="651.1,19 648.58,17.56 648.58,20.44" fill="#111"/>
<text x="388.2" y="16.6" font-size="9" text-anchor="middle" fill="#242424" font-weight="bold" font-family='"Liberation Serif", serif' >I</text>
<text x="457.3" y="16.6" font-size="9" text-anchor="middle" fill="#242424" font-weight="bold" font-family='"Liberation Serif", serif' >II</text>
<text x="567.7" y="16.6" font-size="9" text-anchor="middle" fill="#242424" font-weight="bold" font-family='"Liberation Serif", serif' >III</text>
<text x="637.8" y="16.6" font-size="9" text-anchor="middle" fill="#242424" font-weight="bold" font-family='"Liberation Serif", serif' >IV</text>
<line x1="404.2" y1="5" x2="466" y2="5" stroke="#555" stroke-width="1.3" />
<line x1="556" y1="5" x2="624.4" y2="5" stroke="#555" stroke-width="1.3" />
<polygon points="404.4,5 406.92,3.56 406.92,6.44" fill="#111"/>
<polygon points="624.2,5 621.68,3.56 621.68,6.44" fill="#111"/>
<text x="511" y="7.5" font-size="9.4" text-anchor="middle" fill="#242424" font-weight="bold" font-family='"Liberation Serif", serif' >Voltage plateau phase</text>
<rect x="487.2" y="107.8" width="47.2" height="10.3" fill="#fff" stroke="#999" stroke-width="0.7" stroke-dasharray="1.5,0.8"/>
<text x="511.3" y="116.4" font-size="8.6" text-anchor="middle" fill="#242424" font-weight="normal" font-family='"Liberation Serif", serif' >SOC = 50%</text>
<rect x="558.4" y="103.4" width="53.8" height="23.5" fill="#fff" stroke="#666" stroke-width="0.9"/>
<line x1="563" y1="110.3" x2="580.3" y2="110.3" stroke="#1f22f5" stroke-width="1.3" />
<line x1="563" y1="119.7" x2="580.3" y2="119.7" stroke="#f03c3c" stroke-width="1.3" />
<text x="583.4" y="113" font-size="8" text-anchor="start" fill="#242424" font-weight="normal" font-family='"Liberation Serif", serif' >Voltage</text>
<text x="583.4" y="122.4" font-size="8" text-anchor="start" fill="#242424" font-weight="normal" font-family='"Liberation Serif", serif' >Time</text>
<defs>
<linearGradient id="cbar" x1="0" y1="0" x2="1" y2="0">
<stop offset="0" stop-color="#2c4a86"/>
<stop offset="0.12" stop-color="#33609f"/>
<stop offset="0.25" stop-color="#4f8cc3"/>
<stop offset="0.36" stop-color="#9ccbe1"/>
<stop offset="0.45" stop-color="#e2f3f5"/>
<stop offset="0.53" stop-color="#f3e196"/>
<stop offset="0.63" stop-color="#f4b26c"/>
<stop offset="0.78" stop-color="#e2452f"/>
<stop offset="1" stop-color="#a52520"/>
</linearGradient>
<linearGradient id="barg" x1="0" y1="0" x2="0" y2="1">
<stop offset="0" stop-color="#f3c98e"/><stop offset="0.45" stop-color="#eab893"/><stop offset="1" stop-color="#d9a2a5"/>
</linearGradient>
</defs>
<g>
<path d="M33.2,300.5 33.7,284.7 34.2,271.7 34.8,260.3 35.3,251.2 35.8,245.0 36.3,240.0 36.8,236.1 37.4,233.2 37.9,230.8 38.4,228.7 38.9,227.0 39.5,225.5 40,224.3 40.5,223.2 41,222.1 41.5,221.1 42.1,220.3 42.6,219.6 43.1,219.1 43.6,218.8 44.1,218.6 44.7,218.4 45.2,218.2 45.7,218.1 45.7,218.1 48.1,217.4 50.5,216.9 52.9,216.5 55.3,216.0 57.7,215.4 60.1,214.4 62.5,213.5 64.9,212.8 67.3,212.2 69.7,211.8 72.1,211.4 74.6,211.0 77,210.8 79.4,210.7 81.8,210.6 84.2,210.5 86.6,210.4 89,210.3 91.4,210.3 93.8,210.2 96.2,210.1 98.6,210.0 101,209.9 103.4,209.7 105.8,209.6 108.2,209.4 110.6,209.3 113,209.1 115.4,208.9 117.8,208.6 120.2,208.4 122.6,208.2 125,207.9 127.4,207.7 129.9,207.5 132.3,207.3 134.7,207.0 137.1,206.8 139.5,206.4 139.5,206.4 140,206.4 140.6,206.3 141.1,206.2 141.7,206.1 142.2,206.0 142.8,205.9 143.3,205.8 143.9,205.7 144.4,205.6 145,205.5 145.5,205.4 146.1,205.3 146.6,205.1 147.2,205.0 147.7,204.9 148.3,204.8 148.8,204.6 149.4,204.5 149.9,204.3 150.5,204.1 151,203.9 151.6,203.7 152.2,203.4 152.7,202.9 153.3,202.4 153.8,201.8 154.4,201.0 154.9,200.1 155.5,199.0 156,197.2 156.6,195.1 157.1,192.7 157.7,189.8 158.2,186.3" fill="none" stroke="#a52520" stroke-width="1.35" stroke-linejoin="round" />
<path d="M33.2,300.3 33.7,284.5 34.2,271.6 34.8,260.3 35.3,251.1 35.8,244.8 36.3,239.9 36.8,236.0 37.3,233.1 37.9,230.7 38.4,228.7 38.9,226.9 39.4,225.4 39.9,224.2 40.4,223.1 41,222.0 41.5,221.0 42,220.2 42.5,219.6 43,219.1 43.6,218.8 44.1,218.5 44.6,218.3 45.1,218.2 45.6,218.0 45.6,218.0 48,217.4 50.4,216.9 52.8,216.5 55.2,216.0 57.6,215.3 60,214.4 62.3,213.5 64.7,212.8 67.1,212.3 69.5,211.8 71.9,211.4 74.3,211.0 76.7,210.8 79.1,210.7 81.5,210.5 83.8,210.4 86.2,210.3 88.6,210.3 91,210.2 93.4,210.1 95.8,210.0 98.2,209.9 100.6,209.8 103,209.6 105.4,209.5 107.7,209.3 110.1,209.2 112.5,209.0 114.9,208.8 117.3,208.5 119.7,208.3 122.1,208.1 124.5,207.9 126.9,207.7 129.2,207.5 131.6,207.2 134,207.0 136.4,206.7 138.8,206.4 138.8,206.4 139.3,206.3 139.9,206.2 140.4,206.1 141,206.0 141.5,205.9 142.1,205.8 142.6,205.7 143.2,205.6 143.7,205.5 144.3,205.4 144.8,205.2 145.4,205.1 145.9,205.0 146.5,204.8 147,204.7 147.6,204.6 148.1,204.4 148.7,204.2 149.2,204.1 149.8,203.8 150.3,203.6 150.9,203.3 151.4,203.0 152,202.6 152.5,202.0 153,201.4 153.6,200.6 154.1,199.7 154.7,198.6 155.2,196.9 155.8,194.9 156.3,192.5 156.9,189.7 157.4,186.3" fill="none" stroke="#ad2922" stroke-width="1.35" stroke-linejoin="round" />
<path d="M33.2,300.2 33.7,284.3 34.2,271.5 34.7,260.2 35.3,251.0 35.8,244.7 36.3,239.8 36.8,235.9 37.3,233.0 37.8,230.6 38.3,228.6 38.9,226.8 39.4,225.4 39.9,224.1 40.4,223.0 40.9,221.9 41.4,221.0 41.9,220.2 42.5,219.5 43,219.0 43.5,218.7 44,218.5 44.5,218.3 45,218.1 45.5,218.0 45.5,218.0 47.9,217.4 50.3,216.9 52.7,216.5 55,216.0 57.4,215.3 59.8,214.4 62.2,213.5 64.5,212.8 66.9,212.3 69.3,211.8 71.7,211.4 74,211.0 76.4,210.8 78.8,210.6 81.2,210.5 83.5,210.4 85.9,210.3 88.3,210.2 90.6,210.1 93,210.0 95.4,209.9 97.8,209.8 100.1,209.7 102.5,209.5 104.9,209.4 107.3,209.2 109.6,209.1 112,208.9 114.4,208.7 116.8,208.5 119.1,208.2 121.5,208.0 123.9,207.8 126.3,207.6 128.6,207.4 131,207.2 133.4,206.9 135.8,206.6 138.1,206.3 138.1,206.3 138.7,206.2 139.2,206.1 139.8,206.0 140.3,205.9 140.9,205.8 141.4,205.7 141.9,205.6 142.5,205.5 143,205.3 143.6,205.2 144.1,205.1 144.7,204.9 145.2,204.8 145.8,204.7 146.3,204.5 146.8,204.4 147.4,204.2 147.9,204.0 148.5,203.8 149,203.6 149.6,203.3 150.1,203.0 150.7,202.7 151.2,202.3 151.7,201.7 152.3,201.0 152.8,200.3 153.4,199.4 153.9,198.3 154.5,196.6 155,194.6 155.6,192.3 156.1,189.5 156.6,186.3" fill="none" stroke="#b52d24" stroke-width="1.35" stroke-linejoin="round" />
<path d="M33.2,300.0 33.7,284.1 34.2,271.3 34.7,260.2 35.2,250.9 35.8,244.5 36.3,239.6 36.8,235.8 37.3,232.9 37.8,230.6 38.3,228.5 38.8,226.8 39.3,225.3 39.8,224.0 40.4,222.9 40.9,221.8 41.4,220.9 41.9,220.1 42.4,219.5 42.9,219.0 43.4,218.7 43.9,218.5 44.4,218.3 45,218.1 45.5,218.0 45.5,218.0 47.8,217.4 50.2,216.9 52.5,216.4 54.9,215.9 57.3,215.3 59.6,214.4 62,213.5 64.3,212.8 66.7,212.3 69.1,211.8 71.4,211.4 73.8,211.0 76.1,210.8 78.5,210.6 80.8,210.4 83.2,210.3 85.6,210.2 87.9,210.1 90.3,210.0 92.6,209.9 95,209.8 97.4,209.7 99.7,209.5 102.1,209.4 104.4,209.3 106.8,209.1 109.2,209.0 111.5,208.8 113.9,208.6 116.2,208.4 118.6,208.2 120.9,208.0 123.3,207.8 125.7,207.6 128,207.4 130.4,207.1 132.7,206.9 135.1,206.6 137.5,206.2 137.5,206.2 138,206.1 138.5,206.0 139.1,205.9 139.6,205.8 140.2,205.7 140.7,205.6 141.2,205.5 141.8,205.3 142.3,205.2 142.9,205.1 143.4,204.9 144,204.8 144.5,204.6 145,204.5 145.6,204.3 146.1,204.2 146.7,204.0 147.2,203.8 147.7,203.6 148.3,203.3 148.8,203.0 149.4,202.7 149.9,202.4 150.4,201.9 151,201.4 151.5,200.7 152.1,199.9 152.6,199.0 153.2,197.9 153.7,196.3 154.2,194.4 154.8,192.2 155.3,189.4 155.9,186.3" fill="none" stroke="#bd3126" stroke-width="1.35" stroke-linejoin="round" />
<path d="M33.2,299.9 33.7,284.0 34.2,271.2 34.7,260.1 35.2,250.9 35.7,244.3 36.2,239.5 36.8,235.7 37.3,232.8 37.8,230.5 38.3,228.4 38.8,226.7 39.3,225.2 39.8,223.9 40.3,222.8 40.8,221.8 41.3,220.9 41.8,220.1 42.3,219.4 42.8,219.0 43.4,218.7 43.9,218.4 44.4,218.2 44.9,218.1 45.4,218.0 45.4,218.0 47.7,217.4 50.1,216.9 52.4,216.4 54.8,215.9 57.1,215.3 59.4,214.4 61.8,213.5 64.1,212.9 66.5,212.3 68.8,211.8 71.2,211.4 73.5,211.0 75.9,210.8 78.2,210.6 80.5,210.4 82.9,210.3 85.2,210.1 87.6,210.0 89.9,209.9 92.3,209.8 94.6,209.7 96.9,209.6 99.3,209.4 101.6,209.3 104,209.2 106.3,209.1 108.7,208.9 111,208.7 113.4,208.5 115.7,208.3 118,208.1 120.4,207.9 122.7,207.7 125.1,207.5 127.4,207.3 129.8,207.1 132.1,206.8 134.4,206.5 136.8,206.1 136.8,206.1 137.3,206.0 137.9,205.9 138.4,205.8 138.9,205.7 139.5,205.6 140,205.5 140.6,205.4 141.1,205.2 141.6,205.1 142.2,205.0 142.7,204.8 143.2,204.6 143.8,204.5 144.3,204.3 144.9,204.1 145.4,204.0 145.9,203.8 146.5,203.6 147,203.3 147.5,203.1 148.1,202.8 148.6,202.5 149.2,202.1 149.7,201.6 150.2,201.1 150.8,200.4 151.3,199.6 151.8,198.7 152.4,197.6 152.9,196.0 153.5,194.1 154,192.0 154.5,189.3 155.1,186.3" fill="none" stroke="#c53628" stroke-width="1.35" stroke-linejoin="round" />
<path d="M33.2,299.7 33.7,283.8 34.2,271.1 34.7,260.1 35.2,250.8 35.7,244.2 36.2,239.4 36.7,235.6 37.2,232.8 37.7,230.4 38.2,228.4 38.7,226.6 39.3,225.1 39.8,223.8 40.3,222.7 40.8,221.7 41.3,220.8 41.8,220.0 42.3,219.4 42.8,218.9 43.3,218.6 43.8,218.4 44.3,218.2 44.8,218.1 45.3,217.9 45.3,217.9 47.6,217.4 50,216.9 52.3,216.4 54.6,215.9 57,215.3 59.3,214.4 61.6,213.6 63.9,212.9 66.3,212.3 68.6,211.8 70.9,211.4 73.3,211.0 75.6,210.8 77.9,210.5 80.2,210.4 82.6,210.2 84.9,210.1 87.2,209.9 89.6,209.8 91.9,209.7 94.2,209.6 96.5,209.5 98.9,209.4 101.2,209.2 103.5,209.1 105.8,209.0 108.2,208.8 110.5,208.7 112.8,208.5 115.2,208.3 117.5,208.1 119.8,207.9 122.1,207.7 124.5,207.5 126.8,207.3 129.1,207.0 131.5,206.8 133.8,206.4 136.1,206.1 136.1,206.1 136.7,206.0 137.2,205.8 137.7,205.7 138.3,205.6 138.8,205.5 139.3,205.4 139.9,205.3 140.4,205.1 140.9,205.0 141.5,204.8 142,204.7 142.5,204.5 143.1,204.3 143.6,204.2 144.1,204.0 144.7,203.8 145.2,203.6 145.7,203.3 146.3,203.1 146.8,202.8 147.3,202.5 147.9,202.2 148.4,201.8 148.9,201.3 149.5,200.8 150,200.1 150.5,199.3 151.1,198.4 151.6,197.3 152.1,195.8 152.7,193.9 153.2,191.8 153.7,189.2 154.3,186.3" fill="none" stroke="#cd3a2a" stroke-width="1.35" stroke-linejoin="round" />
<path d="M33.2,299.6 33.7,283.7 34.2,271.0 34.7,260.0 35.2,250.7 35.7,244.0 36.2,239.3 36.7,235.5 37.2,232.7 37.7,230.3 38.2,228.3 38.7,226.5 39.2,225.0 39.7,223.7 40.2,222.6 40.7,221.6 41.2,220.7 41.7,220.0 42.2,219.4 42.7,218.9 43.2,218.6 43.7,218.4 44.2,218.2 44.7,218.0 45.2,217.9 45.2,217.9 47.5,217.4 49.9,216.9 52.2,216.4 54.5,215.9 56.8,215.2 59.1,214.4 61.4,213.6 63.7,212.9 66.1,212.3 68.4,211.8 70.7,211.4 73,211.0 75.3,210.7 77.6,210.5 79.9,210.3 82.2,210.2 84.6,210.0 86.9,209.9 89.2,209.7 91.5,209.6 93.8,209.5 96.1,209.4 98.4,209.3 100.8,209.1 103.1,209.0 105.4,208.9 107.7,208.7 110,208.6 112.3,208.4 114.6,208.2 116.9,208.0 119.3,207.8 121.6,207.6 123.9,207.4 126.2,207.2 128.5,207.0 130.8,206.7 133.1,206.4 135.5,206.0 135.5,206.0 136,205.9 136.5,205.8 137,205.7 137.6,205.5 138.1,205.4 138.6,205.3 139.2,205.2 139.7,205.0 140.2,204.9 140.8,204.7 141.3,204.5 141.8,204.4 142.4,204.2 142.9,204.0 143.4,203.8 143.9,203.6 144.5,203.4 145,203.1 145.5,202.9 146.1,202.6 146.6,202.3 147.1,201.9 147.7,201.5 148.2,201.0 148.7,200.5 149.3,199.8 149.8,199.0 150.3,198.1 150.8,197.0 151.4,195.5 151.9,193.7 152.4,191.6 153,189.2 153.5,186.3" fill="none" stroke="#d53e2c" stroke-width="1.35" stroke-linejoin="round" />
<path d="M33.2,299.5 33.7,283.5 34.2,270.9 34.7,260.0 35.2,250.6 35.7,243.9 36.2,239.1 36.7,235.5 37.2,232.6 37.7,230.3 38.2,228.2 38.7,226.5 39.2,224.9 39.7,223.7 40.2,222.5 40.7,221.6 41.2,220.7 41.7,219.9 42.2,219.3 42.7,218.9 43.2,218.6 43.7,218.3 44.2,218.2 44.7,218.0 45.2,217.9 45.2,217.9 47.4,217.4 49.7,216.9 52,216.4 54.3,215.9 56.6,215.2 58.9,214.4 61.2,213.6 63.5,212.9 65.8,212.4 68.1,211.8 70.4,211.4 72.7,211.0 75,210.7 77.3,210.5 79.6,210.3 81.9,210.1 84.2,210.0 86.5,209.8 88.8,209.7 91.1,209.5 93.4,209.4 95.7,209.3 98,209.2 100.3,209.1 102.6,208.9 104.9,208.8 107.2,208.7 109.5,208.5 111.8,208.3 114.1,208.2 116.4,208.0 118.7,207.8 121,207.6 123.3,207.4 125.6,207.2 127.9,207.0 130.2,206.7 132.5,206.3 134.8,205.9 134.8,205.9 135.3,205.8 135.8,205.7 136.4,205.6 136.9,205.5 137.4,205.3 137.9,205.2 138.5,205.1 139,204.9 139.5,204.8 140.1,204.6 140.6,204.4 141.1,204.2 141.6,204.1 142.2,203.9 142.7,203.6 143.2,203.4 143.7,203.2 144.3,202.9 144.8,202.7 145.3,202.4 145.9,202.0 146.4,201.7 146.9,201.3 147.4,200.8 148,200.2 148.5,199.5 149,198.7 149.5,197.8 150.1,196.7 150.6,195.2 151.1,193.5 151.7,191.5 152.2,189.1 152.7,186.3" fill="none" stroke="#dc422e" stroke-width="1.35" stroke-linejoin="round" />
<path d="M33.2,299.4 33.7,283.4 34.2,270.8 34.7,260.0 35.2,250.5 35.7,243.8 36.2,239.0 36.7,235.4 37.2,232.5 37.7,230.2 38.1,228.2 38.6,226.4 39.1,224.9 39.6,223.6 40.1,222.4 40.6,221.5 41.1,220.6 41.6,219.9 42.1,219.3 42.6,218.8 43.1,218.5 43.6,218.3 44.1,218.1 44.6,218.0 45.1,217.9 45.1,217.9 47.4,217.3 49.6,216.9 51.9,216.4 54.2,215.8 56.5,215.2 58.8,214.4 61.1,213.6 63.3,212.9 65.6,212.4 67.9,211.8 70.2,211.4 72.5,211.0 74.8,210.7 77,210.5 79.3,210.3 81.6,210.1 83.9,209.9 86.2,209.7 88.5,209.6 90.7,209.4 93,209.3 95.3,209.2 97.6,209.1 99.9,209.0 102.1,208.9 104.4,208.7 106.7,208.6 109,208.5 111.3,208.3 113.6,208.1 115.8,207.9 118.1,207.7 120.4,207.5 122.7,207.3 125,207.1 127.3,206.9 129.5,206.6 131.8,206.3 134.1,205.9 134.1,205.9 134.6,205.7 135.2,205.6 135.7,205.5 136.2,205.4 136.7,205.3 137.3,205.1 137.8,205.0 138.3,204.8 138.8,204.7 139.4,204.5 139.9,204.3 140.4,204.1 140.9,203.9 141.4,203.7 142,203.5 142.5,203.3 143,203.0 143.5,202.8 144.1,202.5 144.6,202.2 145.1,201.8 145.6,201.4 146.2,201.0 146.7,200.5 147.2,199.9 147.7,199.2 148.3,198.4 148.8,197.5 149.3,196.4 149.8,195.0 150.3,193.3 150.9,191.3 151.4,189.0 151.9,186.3" fill="none" stroke="#e34b32" stroke-width="1.35" stroke-linejoin="round" />
<path d="M33.2,299.3 33.7,283.2 34.2,270.7 34.7,259.9 35.2,250.5 35.7,243.6 36.1,238.9 36.6,235.3 37.1,232.5 37.6,230.2 38.1,228.1 38.6,226.3 39.1,224.8 39.6,223.5 40.1,222.4 40.6,221.4 41.1,220.6 41.6,219.9 42,219.3 42.5,218.8 43,218.5 43.5,218.3 44,218.1 44.5,218.0 45,217.8 45,217.8 47.3,217.3 49.5,216.9 51.8,216.4 54.1,215.8 56.3,215.2 58.6,214.4 60.9,213.6 63.1,212.9 65.4,212.4 67.7,211.9 69.9,211.4 72.2,211.0 74.5,210.7 76.7,210.5 79,210.2 81.3,210.0 83.5,209.8 85.8,209.7 88.1,209.5 90.4,209.4 92.6,209.2 94.9,209.1 97.2,209.0 99.4,208.9 101.7,208.8 104,208.7 106.2,208.5 108.5,208.4 110.8,208.2 113,208.0 115.3,207.9 117.6,207.7 119.8,207.5 122.1,207.3 124.4,207.1 126.6,206.9 128.9,206.6 131.2,206.2 133.4,205.8 133.4,205.8 134,205.7 134.5,205.6 135,205.4 135.5,205.3 136,205.2 136.6,205.0 137.1,204.9 137.6,204.7 138.1,204.6 138.6,204.4 139.2,204.2 139.7,204.0 140.2,203.8 140.7,203.6 141.2,203.3 141.8,203.1 142.3,202.8 142.8,202.6 143.3,202.3 143.8,202.0 144.4,201.6 144.9,201.2 145.4,200.8 145.9,200.2 146.5,199.6 147,199.0 147.5,198.1 148,197.2 148.5,196.2 149.1,194.8 149.6,193.1 150.1,191.2 150.6,188.9 151.1,186.3" fill="none" stroke="#e6603e" stroke-width="1.35" stroke-linejoin="round" />
<path d="M33.2,299.2 33.7,283.1 34.2,270.7 34.7,259.9 35.2,250.4 35.6,243.5 36.1,238.8 36.6,235.2 37.1,232.4 37.6,230.1 38.1,228.1 38.6,226.3 39.1,224.7 39.5,223.4 40,222.3 40.5,221.4 41,220.6 41.5,219.8 42,219.2 42.5,218.8 43,218.5 43.5,218.3 43.9,218.1 44.4,218.0 44.9,217.8 44.9,217.8 47.2,217.3 49.4,216.9 51.7,216.4 53.9,215.8 56.2,215.2 58.4,214.4 60.7,213.6 62.9,213.0 65.2,212.4 67.4,211.9 69.7,211.4 71.9,211.0 74.2,210.7 76.5,210.4 78.7,210.2 81,210.0 83.2,209.8 85.5,209.6 87.7,209.4 90,209.3 92.2,209.2 94.5,209.0 96.7,208.9 99,208.8 101.2,208.7 103.5,208.6 105.7,208.5 108,208.3 110.2,208.2 112.5,208.0 114.8,207.8 117,207.6 119.3,207.5 121.5,207.3 123.8,207.1 126,206.8 128.3,206.6 130.5,206.2 132.8,205.7 132.8,205.7 133.3,205.6 133.8,205.5 134.3,205.4 134.8,205.2 135.4,205.1 135.9,205.0 136.4,204.8 136.9,204.7 137.4,204.5 137.9,204.3 138.5,204.1 139,203.9 139.5,203.7 140,203.4 140.5,203.2 141,202.9 141.6,202.7 142.1,202.4 142.6,202.1 143.1,201.8 143.6,201.4 144.1,201.0 144.7,200.5 145.2,200.0 145.7,199.4 146.2,198.7 146.7,197.9 147.2,197.0 147.8,195.9 148.3,194.5 148.8,192.9 149.3,191.0 149.8,188.8 150.3,186.3" fill="none" stroke="#ea754a" stroke-width="1.35" stroke-linejoin="round" />
<path d="M33.2,299.1 33.7,283.0 34.2,270.6 34.7,259.9 35.1,250.3 35.6,243.4 36.1,238.7 36.6,235.1 37.1,232.3 37.6,230.0 38,228.0 38.5,226.2 39,224.7 39.5,223.4 40,222.2 40.5,221.3 41,220.5 41.4,219.8 41.9,219.2 42.4,218.8 42.9,218.5 43.4,218.3 43.9,218.1 44.4,217.9 44.8,217.8 44.8,217.8 47.1,217.3 49.3,216.9 51.5,216.3 53.8,215.8 56,215.2 58.3,214.4 60.5,213.6 62.7,213.0 65,212.4 67.2,211.9 69.5,211.4 71.7,211.0 73.9,210.7 76.2,210.4 78.4,210.2 80.6,209.9 82.9,209.7 85.1,209.6 87.4,209.4 89.6,209.2 91.8,209.1 94.1,209.0 96.3,208.9 98.5,208.7 100.8,208.6 103,208.5 105.3,208.4 107.5,208.3 109.7,208.1 112,207.9 114.2,207.8 116.4,207.6 118.7,207.4 120.9,207.2 123.2,207.0 125.4,206.8 127.6,206.5 129.9,206.2 132.1,205.7 132.1,205.7 132.6,205.6 133.1,205.4 133.6,205.3 134.2,205.2 134.7,205.0 135.2,204.9 135.7,204.7 136.2,204.6 136.7,204.4 137.2,204.2 137.8,204.0 138.3,203.8 138.8,203.6 139.3,203.3 139.8,203.1 140.3,202.8 140.8,202.5 141.3,202.2 141.9,201.9 142.4,201.6 142.9,201.2 143.4,200.8 143.9,200.3 144.4,199.8 144.9,199.2 145.5,198.5 146,197.7 146.5,196.7 147,195.7 147.5,194.3 148,192.7 148.5,190.9 149,188.7 149.6,186.3" fill="none" stroke="#ed8a55" stroke-width="1.35" stroke-linejoin="round" />
<path d="M33.2,299.0 33.7,282.9 34.2,270.5 34.6,259.8 35.1,250.3 35.6,243.3 36.1,238.7 36.6,235.1 37.1,232.3 37.5,230.0 38,228.0 38.5,226.2 39,224.6 39.5,223.3 39.9,222.2 40.4,221.3 40.9,220.5 41.4,219.8 41.9,219.2 42.3,218.7 42.8,218.4 43.3,218.2 43.8,218.1 44.3,217.9 44.8,217.8 44.8,217.8 47,217.3 49.2,216.8 51.4,216.3 53.6,215.8 55.9,215.2 58.1,214.4 60.3,213.7 62.5,213.0 64.8,212.4 67,211.9 69.2,211.4 71.4,211.0 73.7,210.7 75.9,210.4 78.1,210.1 80.3,209.9 82.5,209.7 84.8,209.5 87,209.3 89.2,209.2 91.4,209.0 93.7,208.9 95.9,208.8 98.1,208.7 100.3,208.6 102.5,208.5 104.8,208.3 107,208.2 109.2,208.1 111.4,207.9 113.7,207.7 115.9,207.6 118.1,207.4 120.3,207.2 122.5,207.0 124.8,206.8 127,206.5 129.2,206.1 131.4,205.6 131.4,205.6 131.9,205.5 132.5,205.4 133,205.2 133.5,205.1 134,205.0 134.5,204.8 135,204.7 135.5,204.5 136,204.3 136.5,204.1 137,203.9 137.6,203.7 138.1,203.4 138.6,203.2 139.1,202.9 139.6,202.7 140.1,202.4 140.6,202.1 141.1,201.8 141.6,201.4 142.1,201.0 142.7,200.6 143.2,200.1 143.7,199.6 144.2,198.9 144.7,198.2 145.2,197.4 145.7,196.5 146.2,195.5 146.7,194.1 147.2,192.5 147.8,190.8 148.3,188.7 148.8,186.3" fill="none" stroke="#f19e61" stroke-width="1.35" stroke-linejoin="round" />
<path d="M33.2,298.9 33.7,282.7 34.2,270.4 34.6,259.8 35.1,250.2 35.6,243.2 36.1,238.6 36.5,235.0 37,232.2 37.5,229.9 38,227.9 38.5,226.1 38.9,224.6 39.4,223.2 39.9,222.1 40.4,221.2 40.9,220.4 41.3,219.7 41.8,219.2 42.3,218.7 42.8,218.4 43.2,218.2 43.7,218.0 44.2,217.9 44.7,217.8 44.7,217.8 46.9,217.3 49.1,216.8 51.3,216.3 53.5,215.8 55.7,215.1 57.9,214.4 60.1,213.7 62.3,213.0 64.5,212.4 66.8,211.9 69,211.4 71.2,211.0 73.4,210.7 75.6,210.4 77.8,210.1 80,209.9 82.2,209.7 84.4,209.4 86.6,209.3 88.8,209.1 91,209.0 93.2,208.8 95.4,208.7 97.7,208.6 99.9,208.5 102.1,208.4 104.3,208.3 106.5,208.2 108.7,208.0 110.9,207.9 113.1,207.7 115.3,207.5 117.5,207.4 119.7,207.2 121.9,207.0 124.1,206.7 126.4,206.5 128.6,206.1 130.8,205.6 130.8,205.6 131.3,205.5 131.8,205.3 132.3,205.2 132.8,205.0 133.3,204.9 133.8,204.7 134.3,204.6 134.8,204.4 135.3,204.2 135.8,204.0 136.3,203.8 136.8,203.6 137.3,203.3 137.9,203.1 138.4,202.8 138.9,202.5 139.4,202.2 139.9,201.9 140.4,201.6 140.9,201.2 141.4,200.8 141.9,200.4 142.4,199.9 142.9,199.4 143.4,198.7 143.9,198.0 144.4,197.2 144.9,196.3 145.5,195.2 146,193.9 146.5,192.4 147,190.6 147.5,188.6 148,186.3" fill="none" stroke="#f4b36d" stroke-width="1.35" stroke-linejoin="round" />
<path d="M33.2,298.8 33.7,282.6 34.1,270.4 34.6,259.8 35.1,250.2 35.6,243.1 36,238.5 36.5,234.9 37,232.2 37.5,229.9 37.9,227.9 38.4,226.1 38.9,224.5 39.4,223.2 39.8,222.1 40.3,221.2 40.8,220.4 41.3,219.7 41.7,219.1 42.2,218.7 42.7,218.4 43.2,218.2 43.6,218.0 44.1,217.9 44.6,217.8 44.6,217.8 46.8,217.3 49,216.8 51.2,216.3 53.4,215.7 55.6,215.1 57.8,214.4 59.9,213.7 62.1,213.0 64.3,212.4 66.5,211.9 68.7,211.4 70.9,211.0 73.1,210.7 75.3,210.4 77.5,210.1 79.7,209.8 81.9,209.6 84.1,209.4 86.3,209.2 88.4,209.0 90.6,208.9 92.8,208.8 95,208.7 97.2,208.6 99.4,208.5 101.6,208.4 103.8,208.2 106,208.1 108.2,208.0 110.4,207.8 112.6,207.6 114.8,207.5 116.9,207.3 119.1,207.1 121.3,206.9 123.5,206.7 125.7,206.4 127.9,206.0 130.1,205.5 130.1,205.5 130.6,205.4 131.1,205.3 131.6,205.1 132.1,205.0 132.6,204.8 133.1,204.7 133.6,204.5 134.1,204.3 134.6,204.2 135.1,203.9 135.6,203.7 136.1,203.5 136.6,203.2 137.1,203.0 137.6,202.7 138.1,202.4 138.6,202.1 139.2,201.8 139.7,201.5 140.2,201.1 140.7,200.7 141.2,200.2 141.7,199.7 142.2,199.2 142.7,198.5 143.2,197.8 143.7,197.0 144.2,196.1 144.7,195.0 145.2,193.7 145.7,192.2 146.2,190.5 146.7,188.5 147.2,186.3" fill="none" stroke="#f4c079" stroke-width="1.35" stroke-linejoin="round" />
<path d="M33.2,298.7 33.7,282.5 34.1,270.3 34.6,259.7 35.1,250.1 35.6,243.0 36,238.4 36.5,234.9 37,232.1 37.4,229.8 37.9,227.8 38.4,226.0 38.9,224.5 39.3,223.1 39.8,222.0 40.3,221.1 40.7,220.4 41.2,219.7 41.7,219.1 42.2,218.7 42.6,218.4 43.1,218.2 43.6,218.0 44,217.9 44.5,217.7 44.5,217.7 46.7,217.3 48.9,216.8 51.1,216.3 53.2,215.7 55.4,215.1 57.6,214.4 59.8,213.7 61.9,213.0 64.1,212.4 66.3,211.9 68.5,211.4 70.6,211.0 72.8,210.7 75,210.3 77.2,210.1 79.4,209.8 81.5,209.6 83.7,209.4 85.9,209.1 88.1,209.0 90.2,208.8 92.4,208.7 94.6,208.6 96.8,208.5 98.9,208.4 101.1,208.3 103.3,208.2 105.5,208.1 107.7,207.9 109.8,207.8 112,207.6 114.2,207.5 116.4,207.3 118.5,207.1 120.7,206.9 122.9,206.7 125.1,206.4 127.3,206.0 129.4,205.5 129.4,205.5 129.9,205.4 130.4,205.2 130.9,205.1 131.4,204.9 131.9,204.8 132.4,204.6 132.9,204.5 133.4,204.3 133.9,204.1 134.4,203.9 134.9,203.6 135.4,203.4 135.9,203.1 136.4,202.9 136.9,202.6 137.4,202.3 137.9,202.0 138.4,201.7 138.9,201.3 139.4,200.9 139.9,200.5 140.4,200.1 140.9,199.5 141.4,199.0 141.9,198.3 142.4,197.6 142.9,196.8 143.4,195.9 143.9,194.8 144.4,193.6 144.9,192.1 145.4,190.4 145.9,188.5 146.4,186.3" fill="none" stroke="#f3ce85" stroke-width="1.35" stroke-linejoin="round" />
<path d="M33.2,298.6 33.7,282.4 34.1,270.2 34.6,259.7 35.1,250.1 35.5,242.9 36,238.3 36.5,234.8 36.9,232.1 37.4,229.8 37.9,227.8 38.4,226.0 38.8,224.4 39.3,223.1 39.8,222.0 40.2,221.1 40.7,220.3 41.2,219.7 41.6,219.1 42.1,218.7 42.6,218.4 43,218.2 43.5,218.0 44,217.9 44.4,217.7 44.4,217.7 46.6,217.3 48.8,216.8 50.9,216.3 53.1,215.7 55.3,215.1 57.4,214.4 59.6,213.7 61.7,213.0 63.9,212.4 66.1,211.9 68.2,211.4 70.4,211.0 72.5,210.6 74.7,210.3 76.9,210.0 79,209.8 81.2,209.5 83.4,209.3 85.5,209.1 87.7,208.9 89.8,208.8 92,208.7 94.2,208.5 96.3,208.4 98.5,208.3 100.7,208.2 102.8,208.1 105,208.0 107.1,207.9 109.3,207.7 111.5,207.6 113.6,207.4 115.8,207.3 117.9,207.1 120.1,206.9 122.3,206.7 124.4,206.4 126.6,206.0 128.8,205.5 128.8,205.5 129.3,205.3 129.8,205.2 130.2,205.0 130.7,204.9 131.2,204.7 131.7,204.6 132.2,204.4 132.7,204.2 133.2,204.0 133.7,203.8 134.2,203.6 134.7,203.3 135.2,203.1 135.7,202.8 136.2,202.5 136.7,202.2 137.2,201.9 137.7,201.5 138.2,201.2 138.7,200.8 139.2,200.4 139.7,199.9 140.2,199.4 140.7,198.8 141.2,198.2 141.7,197.4 142.2,196.6 142.6,195.7 143.1,194.7 143.6,193.4 144.1,192.0 144.6,190.3 145.1,188.4 145.6,186.3" fill="none" stroke="#f3db91" stroke-width="1.35" stroke-linejoin="round" />
<path d="M33.2,298.5 33.7,282.4 34.1,270.2 34.6,259.7 35.1,250.0 35.5,242.8 36,238.3 36.5,234.8 36.9,232.0 37.4,229.8 37.9,227.8 38.3,226.0 38.8,224.4 39.2,223.0 39.7,221.9 40.2,221.1 40.6,220.3 41.1,219.6 41.6,219.1 42,218.6 42.5,218.3 43,218.1 43.4,218.0 43.9,217.8 44.4,217.7 44.4,217.7 46.5,217.3 48.7,216.8 50.8,216.3 53,215.7 55.1,215.1 57.2,214.4 59.4,213.7 61.5,213.0 63.7,212.5 65.8,211.9 68,211.4 70.1,211.0 72.3,210.6 74.4,210.3 76.6,210.0 78.7,209.7 80.9,209.5 83,209.3 85.2,209.1 87.3,208.9 89.4,208.7 91.6,208.6 93.7,208.5 95.9,208.4 98,208.3 100.2,208.2 102.3,208.1 104.5,208.0 106.6,207.8 108.8,207.7 110.9,207.5 113.1,207.4 115.2,207.2 117.4,207.1 119.5,206.9 121.6,206.6 123.8,206.4 125.9,205.9 128.1,205.4 128.1,205.4 128.6,205.3 129.1,205.1 129.6,205.0 130.1,204.8 130.6,204.7 131,204.5 131.5,204.3 132,204.2 132.5,204.0 133,203.7 133.5,203.5 134,203.2 134.5,203.0 135,202.7 135.5,202.4 136,202.1 136.5,201.8 137,201.4 137.4,201.1 137.9,200.7 138.4,200.2 138.9,199.7 139.4,199.2 139.9,198.6 140.4,198.0 140.9,197.3 141.4,196.4 141.9,195.5 142.4,194.5 142.9,193.3 143.4,191.8 143.8,190.2 144.3,188.4 144.8,186.3" fill="none" stroke="#f0e5a9" stroke-width="1.35" stroke-linejoin="round" />
<path d="M33.2,298.5 33.7,282.3 34.1,270.1 34.6,259.7 35,250.0 35.5,242.7 36,238.2 36.4,234.7 36.9,232.0 37.4,229.7 37.8,227.7 38.3,225.9 38.7,224.3 39.2,223.0 39.7,221.9 40.1,221.0 40.6,220.3 41.1,219.6 41.5,219.1 42,218.6 42.4,218.3 42.9,218.1 43.4,218.0 43.8,217.8 44.3,217.7 44.3,217.7 46.4,217.3 48.5,216.8 50.7,216.3 52.8,215.7 54.9,215.1 57.1,214.4 59.2,213.7 61.3,213.1 63.5,212.5 65.6,211.9 67.7,211.4 69.9,211.0 72,210.6 74.1,210.3 76.3,210.0 78.4,209.7 80.5,209.5 82.7,209.2 84.8,209.0 86.9,208.8 89.1,208.7 91.2,208.5 93.3,208.4 95.4,208.3 97.6,208.3 99.7,208.2 101.8,208.1 104,207.9 106.1,207.8 108.2,207.7 110.4,207.5 112.5,207.4 114.6,207.2 116.8,207.0 118.9,206.8 121,206.6 123.2,206.3 125.3,205.9 127.4,205.4 127.4,205.4 127.9,205.2 128.4,205.1 128.9,204.9 129.4,204.8 129.9,204.6 130.4,204.5 130.8,204.3 131.3,204.1 131.8,203.9 132.3,203.7 132.8,203.4 133.3,203.2 133.8,202.9 134.3,202.6 134.8,202.3 135.2,202.0 135.7,201.7 136.2,201.3 136.7,200.9 137.2,200.5 137.7,200.1 138.2,199.6 138.7,199.1 139.2,198.5 139.6,197.8 140.1,197.1 140.6,196.3 141.1,195.4 141.6,194.3 142.1,193.1 142.6,191.7 143.1,190.1 143.6,188.3 144,186.3" fill="none" stroke="#eaebcb" stroke-width="1.35" stroke-linejoin="round" />
<path d="M33.2,298.4 33.7,282.2 34.1,270.1 34.6,259.6 35,250.0 35.5,242.6 36,238.1 36.4,234.7 36.9,232.0 37.3,229.7 37.8,227.7 38.2,225.9 38.7,224.3 39.2,222.9 39.6,221.8 40.1,221.0 40.5,220.2 41,219.6 41.5,219.0 41.9,218.6 42.4,218.3 42.8,218.1 43.3,218.0 43.7,217.8 44.2,217.7 44.2,217.7 46.3,217.3 48.4,216.8 50.6,216.3 52.7,215.7 54.8,215.1 56.9,214.4 59,213.7 61.1,213.1 63.3,212.5 65.4,211.9 67.5,211.4 69.6,211.0 71.7,210.6 73.8,210.3 76,210.0 78.1,209.7 80.2,209.4 82.3,209.2 84.4,209.0 86.5,208.8 88.7,208.6 90.8,208.5 92.9,208.4 95,208.3 97.1,208.2 99.2,208.1 101.4,208.0 103.5,207.9 105.6,207.8 107.7,207.6 109.8,207.5 111.9,207.3 114.1,207.2 116.2,207.0 118.3,206.8 120.4,206.6 122.5,206.3 124.6,205.9 126.8,205.3 126.8,205.3 127.2,205.2 127.7,205.1 128.2,204.9 128.7,204.7 129.2,204.6 129.7,204.4 130.2,204.2 130.6,204.0 131.1,203.8 131.6,203.6 132.1,203.4 132.6,203.1 133.1,202.8 133.5,202.5 134,202.2 134.5,201.9 135,201.6 135.5,201.2 136,200.8 136.5,200.4 136.9,200.0 137.4,199.5 137.9,198.9 138.4,198.3 138.9,197.7 139.4,197.0 139.9,196.1 140.3,195.2 140.8,194.2 141.3,193.0 141.8,191.6 142.3,190.0 142.8,188.3 143.3,186.3" fill="none" stroke="#e4f1ed" stroke-width="1.35" stroke-linejoin="round" />
<path d="M33.2,298.4 33.7,282.1 34.1,270.0 34.6,259.6 35,249.9 35.5,242.6 35.9,238.1 36.4,234.6 36.8,231.9 37.3,229.7 37.8,227.7 38.2,225.9 38.7,224.2 39.1,222.9 39.6,221.8 40,221.0 40.5,220.2 40.9,219.6 41.4,219.0 41.9,218.6 42.3,218.3 42.8,218.1 43.2,217.9 43.7,217.8 44.1,217.7 44.1,217.7 46.2,217.3 48.3,216.8 50.4,216.3 52.5,215.7 54.6,215.1 56.7,214.4 58.8,213.7 60.9,213.1 63,212.5 65.1,211.9 67.2,211.4 69.3,211.0 71.4,210.6 73.5,210.3 75.6,210.0 77.7,209.7 79.9,209.4 82,209.2 84.1,208.9 86.2,208.7 88.3,208.6 90.4,208.5 92.5,208.4 94.6,208.3 96.7,208.2 98.8,208.1 100.9,208.0 103,207.9 105.1,207.7 107.2,207.6 109.3,207.5 111.4,207.3 113.5,207.2 115.6,207.0 117.7,206.8 119.8,206.6 121.9,206.3 124,205.9 126.1,205.3 126.1,205.3 126.6,205.2 127,205.0 127.5,204.9 128,204.7 128.5,204.5 129,204.4 129.5,204.2 129.9,204.0 130.4,203.8 130.9,203.6 131.4,203.3 131.9,203.0 132.3,202.8 132.8,202.5 133.3,202.1 133.8,201.8 134.3,201.5 134.8,201.1 135.2,200.7 135.7,200.3 136.2,199.9 136.7,199.4 137.2,198.8 137.7,198.2 138.1,197.6 138.6,196.8 139.1,196.0 139.6,195.1 140.1,194.0 140.5,192.9 141,191.5 141.5,190.0 142,188.2 142.5,186.3" fill="none" stroke="#d1e9f0" stroke-width="1.35" stroke-linejoin="round" />
<path d="M33.2,298.3 33.7,282.1 34.1,270.0 34.6,259.6 35,249.9 35.5,242.5 35.9,238.0 36.4,234.6 36.8,231.9 37.3,229.6 37.7,227.6 38.2,225.8 38.6,224.2 39.1,222.8 39.5,221.7 40,220.9 40.4,220.2 40.9,219.5 41.3,219.0 41.8,218.6 42.2,218.3 42.7,218.1 43.1,217.9 43.6,217.8 44,217.7 44,217.7 46.1,217.3 48.2,216.8 50.3,216.3 52.4,215.7 54.5,215.1 56.6,214.4 58.7,213.7 60.7,213.1 62.8,212.5 64.9,211.9 67,211.4 69.1,211.0 71.2,210.6 73.3,210.3 75.3,209.9 77.4,209.6 79.5,209.4 81.6,209.1 83.7,208.9 85.8,208.7 87.9,208.5 89.9,208.4 92,208.3 94.1,208.2 96.2,208.1 98.3,208.0 100.4,207.9 102.5,207.8 104.6,207.7 106.6,207.6 108.7,207.4 110.8,207.3 112.9,207.1 115,207.0 117.1,206.8 119.2,206.6 121.2,206.3 123.3,205.8 125.4,205.3 125.4,205.3 125.9,205.1 126.4,205.0 126.8,204.8 127.3,204.7 127.8,204.5 128.3,204.3 128.8,204.1 129.2,204.0 129.7,203.7 130.2,203.5 130.7,203.3 131.2,203.0 131.6,202.7 132.1,202.4 132.6,202.1 133.1,201.7 133.5,201.4 134,201.0 134.5,200.6 135,200.2 135.5,199.8 135.9,199.2 136.4,198.7 136.9,198.1 137.4,197.4 137.9,196.7 138.3,195.9 138.8,194.9 139.3,193.9 139.8,192.7 140.2,191.4 140.7,189.9 141.2,188.2 141.7,186.3" fill="none" stroke="#bbddea" stroke-width="1.35" stroke-linejoin="round" />
<path d="M33.2,298.3 33.6,282.0 34.1,269.9 34.5,259.6 35,249.9 35.4,242.5 35.9,238.0 36.3,234.6 36.8,231.9 37.2,229.6 37.7,227.6 38.1,225.8 38.6,224.2 39,222.8 39.5,221.7 39.9,220.9 40.4,220.2 40.8,219.5 41.3,219.0 41.7,218.6 42.2,218.3 42.6,218.1 43.1,217.9 43.5,217.8 44,217.7 44,217.7 46,217.2 48.1,216.8 50.2,216.3 52.3,215.7 54.3,215.1 56.4,214.4 58.5,213.7 60.5,213.1 62.6,212.5 64.7,211.9 66.8,211.4 68.8,211.0 70.9,210.6 73,210.3 75,209.9 77.1,209.6 79.2,209.4 81.2,209.1 83.3,208.9 85.4,208.7 87.5,208.5 89.5,208.4 91.6,208.3 93.7,208.2 95.7,208.1 97.8,208.0 99.9,207.9 102,207.8 104,207.7 106.1,207.6 108.2,207.4 110.2,207.3 112.3,207.1 114.4,207.0 116.5,206.8 118.5,206.5 120.6,206.2 122.7,205.8 124.7,205.3 124.7,205.3 125.2,205.1 125.7,205.0 126.2,204.8 126.6,204.6 127.1,204.5 127.6,204.3 128.1,204.1 128.5,203.9 129,203.7 129.5,203.5 130,203.2 130.4,202.9 130.9,202.6 131.4,202.3 131.9,202.0 132.3,201.7 132.8,201.3 133.3,201.0 133.8,200.6 134.2,200.1 134.7,199.7 135.2,199.1 135.7,198.6 136.1,198.0 136.6,197.3 137.1,196.6 137.6,195.7 138,194.8 138.5,193.8 139,192.6 139.5,191.3 139.9,189.8 140.4,188.2 140.9,186.3" fill="none" stroke="#a5d0e4" stroke-width="1.35" stroke-linejoin="round" />
<path d="M33.2,298.2 33.6,281.9 34.1,269.9 34.5,259.6 35,249.8 35.4,242.4 35.9,238.0 36.3,234.5 36.8,231.8 37.2,229.6 37.7,227.6 38.1,225.8 38.5,224.2 39,222.8 39.4,221.7 39.9,220.9 40.3,220.1 40.8,219.5 41.2,219.0 41.7,218.6 42.1,218.3 42.6,218.1 43,217.9 43.4,217.8 43.9,217.7 43.9,217.7 45.9,217.2 48,216.8 50.1,216.2 52.1,215.7 54.2,215.1 56.2,214.4 58.3,213.7 60.3,213.1 62.4,212.5 64.5,211.9 66.5,211.4 68.6,211.0 70.6,210.6 72.7,210.2 74.7,209.9 76.8,209.6 78.8,209.3 80.9,209.1 83,208.8 85,208.6 87.1,208.5 89.1,208.4 91.2,208.2 93.2,208.2 95.3,208.1 97.3,208.0 99.4,207.9 101.5,207.8 103.5,207.7 105.6,207.5 107.6,207.4 109.7,207.3 111.7,207.1 113.8,206.9 115.9,206.7 117.9,206.5 120,206.2 122,205.8 124.1,205.2 124.1,205.2 124.5,205.1 125,204.9 125.5,204.8 126,204.6 126.4,204.4 126.9,204.3 127.4,204.1 127.8,203.9 128.3,203.7 128.8,203.4 129.3,203.2 129.7,202.9 130.2,202.6 130.7,202.3 131.1,202.0 131.6,201.6 132.1,201.2 132.6,200.9 133,200.5 133.5,200.0 134,199.6 134.5,199.0 134.9,198.5 135.4,197.9 135.9,197.2 136.3,196.5 136.8,195.6 137.3,194.7 137.8,193.7 138.2,192.5 138.7,191.2 139.2,189.8 139.6,188.1 140.1,186.3" fill="none" stroke="#90c1dc" stroke-width="1.35" stroke-linejoin="round" />
<path d="M33.2,298.2 33.6,281.9 34.1,269.9 34.5,259.5 35,249.8 35.4,242.4 35.9,237.9 36.3,234.5 36.7,231.8 37.2,229.6 37.6,227.6 38.1,225.8 38.5,224.1 38.9,222.8 39.4,221.7 39.8,220.8 40.3,220.1 40.7,219.5 41.2,219.0 41.6,218.6 42,218.3 42.5,218.1 42.9,217.9 43.4,217.8 43.8,217.6 43.8,217.6 45.9,217.2 47.9,216.8 49.9,216.2 52,215.7 54,215.1 56.1,214.4 58.1,213.7 60.1,213.1 62.2,212.5 64.2,211.9 66.3,211.4 68.3,211.0 70.3,210.6 72.4,210.2 74.4,209.9 76.5,209.6 78.5,209.3 80.5,209.1 82.6,208.8 84.6,208.6 86.7,208.4 88.7,208.3 90.8,208.2 92.8,208.1 94.8,208.0 96.9,208.0 98.9,207.9 101,207.8 103,207.6 105,207.5 107.1,207.4 109.1,207.2 111.2,207.1 113.2,206.9 115.2,206.7 117.3,206.5 119.3,206.2 121.4,205.8 123.4,205.2 123.4,205.2 123.9,205.1 124.3,204.9 124.8,204.7 125.3,204.6 125.7,204.4 126.2,204.2 126.7,204.0 127.2,203.8 127.6,203.6 128.1,203.4 128.6,203.1 129,202.8 129.5,202.5 130,202.2 130.4,201.9 130.9,201.5 131.4,201.2 131.8,200.8 132.3,200.4 132.8,200.0 133.2,199.5 133.7,199.0 134.2,198.4 134.6,197.8 135.1,197.1 135.6,196.4 136,195.5 136.5,194.6 137,193.6 137.5,192.5 137.9,191.2 138.4,189.7 138.9,188.1 139.3,186.3" fill="none" stroke="#7cb1d5" stroke-width="1.35" stroke-linejoin="round" />
<path d="M33.2,298.1 33.6,281.8 34.1,269.9 34.5,259.5 35,249.8 35.4,242.3 35.8,237.9 36.3,234.5 36.7,231.8 37.2,229.5 37.6,227.6 38,225.7 38.5,224.1 38.9,222.7 39.3,221.6 39.8,220.8 40.2,220.1 40.7,219.5 41.1,219.0 41.5,218.5 42,218.2 42.4,218.1 42.9,217.9 43.3,217.8 43.7,217.6 43.7,217.6 45.8,217.2 47.8,216.8 49.8,216.2 51.8,215.6 53.9,215.0 55.9,214.4 57.9,213.7 59.9,213.1 62,212.5 64,211.9 66,211.4 68,211.0 70.1,210.6 72.1,210.2 74.1,209.9 76.1,209.6 78.2,209.3 80.2,209.0 82.2,208.8 84.2,208.6 86.3,208.4 88.3,208.3 90.3,208.2 92.4,208.1 94.4,208.0 96.4,207.9 98.4,207.8 100.5,207.7 102.5,207.6 104.5,207.5 106.5,207.4 108.6,207.2 110.6,207.1 112.6,206.9 114.6,206.7 116.7,206.5 118.7,206.2 120.7,205.8 122.7,205.2 122.7,205.2 123.2,205.0 123.7,204.9 124.1,204.7 124.6,204.6 125.1,204.4 125.5,204.2 126,204.0 126.5,203.8 126.9,203.6 127.4,203.3 127.8,203.1 128.3,202.8 128.8,202.5 129.2,202.2 129.7,201.8 130.2,201.5 130.6,201.1 131.1,200.8 131.6,200.3 132,199.9 132.5,199.4 133,198.9 133.4,198.3 133.9,197.7 134.4,197.0 134.8,196.3 135.3,195.5 135.7,194.5 136.2,193.5 136.7,192.4 137.1,191.1 137.6,189.7 138.1,188.1 138.5,186.3" fill="none" stroke="#68a0cd" stroke-width="1.35" stroke-linejoin="round" />
<path d="M33.2,298.1 33.6,281.8 34.1,269.8 34.5,259.5 34.9,249.8 35.4,242.3 35.8,237.9 36.2,234.5 36.7,231.8 37.1,229.5 37.6,227.5 38,225.7 38.4,224.1 38.9,222.7 39.3,221.6 39.7,220.8 40.2,220.1 40.6,219.5 41,219.0 41.5,218.5 41.9,218.2 42.3,218.0 42.8,217.9 43.2,217.8 43.7,217.6 43.7,217.6 45.7,217.2 47.7,216.8 49.7,216.2 51.7,215.6 53.7,215.0 55.7,214.4 57.7,213.8 59.7,213.1 61.7,212.5 63.8,211.9 65.8,211.4 67.8,211.0 69.8,210.6 71.8,210.2 73.8,209.9 75.8,209.6 77.8,209.3 79.8,209.0 81.9,208.8 83.9,208.6 85.9,208.4 87.9,208.3 89.9,208.2 91.9,208.1 93.9,208.0 95.9,207.9 97.9,207.8 100,207.7 102,207.6 104,207.5 106,207.4 108,207.2 110,207.1 112,206.9 114,206.7 116,206.5 118,206.2 120.1,205.8 122.1,205.2 122.1,205.2 122.5,205.0 123,204.9 123.5,204.7 123.9,204.5 124.4,204.4 124.8,204.2 125.3,204.0 125.8,203.8 126.2,203.6 126.7,203.3 127.1,203.1 127.6,202.8 128.1,202.5 128.5,202.1 129,201.8 129.4,201.5 129.9,201.1 130.4,200.7 130.8,200.3 131.3,199.8 131.8,199.4 132.2,198.8 132.7,198.2 133.1,197.6 133.6,197.0 134.1,196.2 134.5,195.4 135,194.5 135.4,193.4 135.9,192.3 136.4,191.0 136.8,189.6 137.3,188.0 137.7,186.3" fill="none" stroke="#5490c5" stroke-width="1.35" stroke-linejoin="round" />
<path d="M33.2,298.1 33.6,281.8 34.1,269.8 34.5,259.5 34.9,249.7 35.4,242.2 35.8,237.8 36.2,234.4 36.7,231.7 37.1,229.5 37.5,227.5 38,225.7 38.4,224.1 38.8,222.7 39.3,221.6 39.7,220.8 40.1,220.1 40.5,219.5 41,218.9 41.4,218.5 41.8,218.2 42.3,218.0 42.7,217.9 43.1,217.7 43.6,217.6 43.6,217.6 45.6,217.2 47.6,216.8 49.6,216.2 51.6,215.6 53.6,215.0 55.5,214.4 57.5,213.8 59.5,213.1 61.5,212.5 63.5,211.9 65.5,211.4 67.5,211.0 69.5,210.6 71.5,210.2 73.5,209.9 75.5,209.6 77.5,209.3 79.5,209.0 81.5,208.7 83.5,208.5 85.5,208.4 87.5,208.2 89.5,208.1 91.5,208.1 93.5,208.0 95.5,207.9 97.5,207.8 99.4,207.7 101.4,207.6 103.4,207.5 105.4,207.3 107.4,207.2 109.4,207.1 111.4,206.9 113.4,206.7 115.4,206.5 117.4,206.2 119.4,205.7 121.4,205.2 121.4,205.2 121.9,205.0 122.3,204.8 122.8,204.7 123.2,204.5 123.7,204.3 124.1,204.2 124.6,204.0 125.1,203.8 125.5,203.5 126,203.3 126.4,203.0 126.9,202.7 127.3,202.4 127.8,202.1 128.3,201.8 128.7,201.4 129.2,201.0 129.6,200.7 130.1,200.2 130.6,199.8 131,199.3 131.5,198.8 131.9,198.2 132.4,197.6 132.8,196.9 133.3,196.1 133.8,195.3 134.2,194.4 134.7,193.4 135.1,192.3 135.6,191.0 136,189.6 136.5,188.0 137,186.3" fill="none" stroke="#4a85bd" stroke-width="1.35" stroke-linejoin="round" />
<path d="M33.2,298.0 33.6,281.7 34.1,269.8 34.5,259.5 34.9,249.7 35.3,242.2 35.8,237.8 36.2,234.4 36.6,231.7 37.1,229.5 37.5,227.5 37.9,225.7 38.3,224.1 38.8,222.7 39.2,221.6 39.6,220.8 40.1,220.1 40.5,219.5 40.9,218.9 41.4,218.5 41.8,218.2 42.2,218.0 42.6,217.9 43.1,217.7 43.5,217.6 43.5,217.6 45.5,217.2 47.5,216.8 49.4,216.2 51.4,215.6 53.4,215.0 55.4,214.4 57.4,213.8 59.3,213.1 61.3,212.5 63.3,211.9 65.3,211.4 67.3,211.0 69.2,210.6 71.2,210.2 73.2,209.9 75.2,209.5 77.2,209.3 79.1,209.0 81.1,208.7 83.1,208.5 85.1,208.4 87.1,208.2 89,208.1 91,208.0 93,208.0 95,207.9 97,207.8 98.9,207.7 100.9,207.6 102.9,207.5 104.9,207.3 106.9,207.2 108.8,207.1 110.8,206.9 112.8,206.7 114.8,206.5 116.8,206.2 118.7,205.7 120.7,205.1 120.7,205.1 121.2,205.0 121.6,204.8 122.1,204.7 122.5,204.5 123,204.3 123.5,204.1 123.9,203.9 124.4,203.7 124.8,203.5 125.3,203.3 125.7,203.0 126.2,202.7 126.6,202.4 127.1,202.1 127.5,201.7 128,201.4 128.5,201.0 128.9,200.6 129.4,200.2 129.8,199.7 130.3,199.3 130.7,198.7 131.2,198.1 131.6,197.5 132.1,196.8 132.5,196.1 133,195.2 133.4,194.3 133.9,193.3 134.4,192.2 134.8,191.0 135.3,189.5 135.7,188.0 136.2,186.3" fill="none" stroke="#447bb5" stroke-width="1.35" stroke-linejoin="round" />
<path d="M33.2,298.0 33.6,281.7 34.1,269.8 34.5,259.5 34.9,249.7 35.3,242.2 35.8,237.8 36.2,234.4 36.6,231.7 37,229.5 37.5,227.5 37.9,225.7 38.3,224.0 38.7,222.7 39.2,221.6 39.6,220.8 40,220.1 40.4,219.5 40.9,218.9 41.3,218.5 41.7,218.2 42.1,218.0 42.6,217.9 43,217.7 43.4,217.6 43.4,217.6 45.4,217.2 47.3,216.8 49.3,216.2 51.3,215.6 53.2,215.0 55.2,214.4 57.2,213.8 59.1,213.1 61.1,212.5 63.1,211.9 65,211.4 67,211.0 69,210.6 70.9,210.2 72.9,209.9 74.9,209.5 76.8,209.2 78.8,209.0 80.8,208.7 82.7,208.5 84.7,208.3 86.7,208.2 88.6,208.1 90.6,208.0 92.5,207.9 94.5,207.9 96.5,207.8 98.4,207.7 100.4,207.6 102.4,207.4 104.3,207.3 106.3,207.2 108.3,207.0 110.2,206.9 112.2,206.7 114.2,206.5 116.1,206.2 118.1,205.7 120.1,205.1 120.1,205.1 120.5,205.0 121,204.8 121.4,204.7 121.9,204.5 122.3,204.3 122.8,204.1 123.2,203.9 123.7,203.7 124.1,203.5 124.6,203.2 125,203.0 125.5,202.7 125.9,202.4 126.4,202.1 126.8,201.7 127.3,201.3 127.7,201.0 128.2,200.6 128.6,200.2 129.1,199.7 129.5,199.2 130,198.7 130.4,198.1 130.9,197.5 131.3,196.8 131.8,196.0 132.2,195.2 132.7,194.3 133.1,193.3 133.6,192.2 134,190.9 134.5,189.5 134.9,188.0 135.4,186.3" fill="none" stroke="#3e71ad" stroke-width="1.35" stroke-linejoin="round" />
<path d="M33.2,298.0 33.6,281.7 34,269.8 34.5,259.5 34.9,249.7 35.3,242.2 35.7,237.8 36.2,234.4 36.6,231.7 37,229.5 37.4,227.5 37.8,225.7 38.3,224.0 38.7,222.6 39.1,221.6 39.5,220.8 40,220.1 40.4,219.4 40.8,218.9 41.2,218.5 41.6,218.2 42.1,218.0 42.5,217.9 42.9,217.7 43.3,217.6 43.3,217.6 45.3,217.2 47.2,216.8 49.2,216.2 51.1,215.6 53.1,215.0 55,214.4 57,213.8 58.9,213.1 60.9,212.5 62.8,211.9 64.8,211.4 66.7,211.0 68.7,210.6 70.6,210.2 72.6,209.9 74.5,209.5 76.5,209.2 78.4,209.0 80.4,208.7 82.3,208.5 84.3,208.3 86.2,208.2 88.2,208.1 90.1,208.0 92.1,207.9 94,207.9 96,207.8 97.9,207.7 99.9,207.6 101.8,207.4 103.8,207.3 105.7,207.2 107.7,207.0 109.6,206.9 111.6,206.7 113.5,206.5 115.5,206.2 117.4,205.7 119.4,205.1 119.4,205.1 119.8,205.0 120.3,204.8 120.7,204.6 121.2,204.5 121.6,204.3 122.1,204.1 122.5,203.9 123,203.7 123.4,203.5 123.9,203.2 124.3,203.0 124.8,202.7 125.2,202.4 125.7,202.0 126.1,201.7 126.5,201.3 127,200.9 127.4,200.6 127.9,200.1 128.3,199.7 128.8,199.2 129.2,198.6 129.7,198.0 130.1,197.4 130.6,196.7 131,196.0 131.5,195.2 131.9,194.2 132.4,193.2 132.8,192.1 133.3,190.9 133.7,189.5 134.2,188.0 134.6,186.3" fill="none" stroke="#3868a5" stroke-width="1.35" stroke-linejoin="round" />
<path d="M33.2,298.0 33.6,281.7 34,269.7 34.5,259.5 34.9,249.7 35.3,242.2 35.7,237.8 36.1,234.4 36.6,231.7 37,229.5 37.4,227.5 37.8,225.7 38.2,224.0 38.6,222.6 39.1,221.5 39.5,220.8 39.9,220.1 40.3,219.4 40.7,218.9 41.2,218.5 41.6,218.2 42,218.0 42.4,217.9 42.8,217.7 43.3,217.6 43.3,217.6 45.2,217.2 47.1,216.8 49.1,216.2 51,215.6 52.9,215.0 54.9,214.4 56.8,213.8 58.7,213.1 60.7,212.5 62.6,211.9 64.5,211.4 66.5,211.0 68.4,210.6 70.3,210.2 72.3,209.8 74.2,209.5 76.2,209.2 78.1,209.0 80,208.7 82,208.5 83.9,208.3 85.8,208.2 87.8,208.1 89.7,208.0 91.6,207.9 93.6,207.8 95.5,207.8 97.4,207.7 99.4,207.5 101.3,207.4 103.2,207.3 105.2,207.2 107.1,207.0 109,206.9 111,206.7 112.9,206.4 114.9,206.2 116.8,205.7 118.7,205.1 118.7,205.1 119.2,205.0 119.6,204.8 120.1,204.6 120.5,204.5 120.9,204.3 121.4,204.1 121.8,203.9 122.3,203.7 122.7,203.5 123.2,203.2 123.6,202.9 124,202.7 124.5,202.3 124.9,202.0 125.4,201.7 125.8,201.3 126.3,200.9 126.7,200.5 127.2,200.1 127.6,199.7 128,199.2 128.5,198.6 128.9,198.0 129.4,197.4 129.8,196.7 130.3,196.0 130.7,195.1 131.1,194.2 131.6,193.2 132,192.1 132.5,190.9 132.9,189.5 133.4,188.0 133.8,186.3" fill="none" stroke="#335f9e" stroke-width="1.35" stroke-linejoin="round" />
<path d="M33.2,298.0 33.6,281.7 34,269.7 34.4,259.5 34.9,249.7 35.3,242.1 35.7,237.7 36.1,234.4 36.5,231.7 36.9,229.5 37.4,227.5 37.8,225.7 38.2,224.0 38.6,222.6 39,221.5 39.4,220.7 39.9,220.1 40.3,219.4 40.7,218.9 41.1,218.5 41.5,218.2 41.9,218.0 42.4,217.9 42.8,217.7 43.2,217.6 43.2,217.6 45.1,217.2 47,216.8 48.9,216.2 50.9,215.6 52.8,215.0 54.7,214.4 56.6,213.8 58.5,213.1 60.5,212.5 62.4,211.9 64.3,211.4 66.2,211.0 68.1,210.6 70.1,210.2 72,209.8 73.9,209.5 75.8,209.2 77.7,208.9 79.7,208.7 81.6,208.5 83.5,208.3 85.4,208.2 87.3,208.1 89.3,208.0 91.2,207.9 93.1,207.8 95,207.8 96.9,207.7 98.9,207.5 100.8,207.4 102.7,207.3 104.6,207.2 106.5,207.0 108.5,206.9 110.4,206.7 112.3,206.4 114.2,206.2 116.1,205.7 118.1,205.1 118.1,205.1 118.5,205.0 118.9,204.8 119.4,204.6 119.8,204.5 120.3,204.3 120.7,204.1 121.1,203.9 121.6,203.7 122,203.5 122.5,203.2 122.9,202.9 123.3,202.6 123.8,202.3 124.2,202.0 124.7,201.7 125.1,201.3 125.5,200.9 126,200.5 126.4,200.1 126.9,199.6 127.3,199.1 127.7,198.6 128.2,198.0 128.6,197.4 129.1,196.7 129.5,195.9 129.9,195.1 130.4,194.2 130.8,193.2 131.3,192.1 131.7,190.9 132.1,189.5 132.6,188.0 133,186.3" fill="none" stroke="#315a98" stroke-width="1.35" stroke-linejoin="round" />
<path d="M33.2,298.0 33.6,281.7 34,269.7 34.4,259.5 34.9,249.7 35.3,242.1 35.7,237.7 36.1,234.4 36.5,231.7 36.9,229.5 37.3,227.5 37.7,225.7 38.2,224.0 38.6,222.6 39,221.5 39.4,220.7 39.8,220.1 40.2,219.4 40.6,218.9 41,218.5 41.5,218.2 41.9,218.0 42.3,217.9 42.7,217.7 43.1,217.6 43.1,217.6 45,217.2 46.9,216.8 48.8,216.2 50.7,215.6 52.6,215.0 54.5,214.4 56.4,213.8 58.3,213.1 60.2,212.5 62.1,211.9 64.1,211.4 66,211.0 67.9,210.6 69.8,210.2 71.7,209.8 73.6,209.5 75.5,209.2 77.4,208.9 79.3,208.7 81.2,208.5 83.1,208.3 85,208.2 86.9,208.1 88.8,208.0 90.7,207.9 92.6,207.8 94.5,207.8 96.4,207.7 98.3,207.5 100.2,207.4 102.1,207.3 104,207.2 106,207.0 107.9,206.9 109.8,206.7 111.7,206.4 113.6,206.1 115.5,205.7 117.4,205.1 117.4,205.1 117.8,205.0 118.3,204.8 118.7,204.6 119.1,204.4 119.6,204.3 120,204.1 120.4,203.9 120.9,203.7 121.3,203.5 121.8,203.2 122.2,202.9 122.6,202.6 123.1,202.3 123.5,202.0 123.9,201.6 124.4,201.3 124.8,200.9 125.2,200.5 125.7,200.1 126.1,199.6 126.6,199.1 127,198.6 127.4,198.0 127.9,197.4 128.3,196.7 128.7,195.9 129.2,195.1 129.6,194.2 130.1,193.2 130.5,192.1 130.9,190.8 131.4,189.5 131.8,187.9 132.2,186.3" fill="none" stroke="#2f5492" stroke-width="1.35" stroke-linejoin="round" />
<path d="M33.2,298.0 33.6,281.7 34,269.7 34.4,259.5 34.8,249.7 35.2,242.1 35.7,237.7 36.1,234.4 36.5,231.7 36.9,229.5 37.3,227.5 37.7,225.6 38.1,224.0 38.5,222.6 38.9,221.5 39.3,220.7 39.7,220.0 40.2,219.4 40.6,218.9 41,218.5 41.4,218.2 41.8,218.0 42.2,217.9 42.6,217.7 43,217.6 43,217.6 44.9,217.2 46.8,216.8 48.7,216.2 50.6,215.6 52.5,215.0 54.4,214.4 56.3,213.8 58.1,213.1 60,212.5 61.9,211.9 63.8,211.4 65.7,211.0 67.6,210.6 69.5,210.2 71.4,209.8 73.3,209.5 75.1,209.2 77,208.9 78.9,208.7 80.8,208.5 82.7,208.3 84.6,208.2 86.5,208.1 88.4,208.0 90.3,207.9 92.1,207.8 94,207.7 95.9,207.7 97.8,207.5 99.7,207.4 101.6,207.3 103.5,207.2 105.4,207.0 107.3,206.9 109.2,206.7 111,206.4 112.9,206.1 114.8,205.7 116.7,205.1 116.7,205.1 117.1,204.9 117.6,204.8 118,204.6 118.4,204.4 118.9,204.3 119.3,204.1 119.7,203.9 120.2,203.7 120.6,203.5 121,203.2 121.5,202.9 121.9,202.6 122.3,202.3 122.8,202.0 123.2,201.6 123.6,201.3 124.1,200.9 124.5,200.5 124.9,200.1 125.4,199.6 125.8,199.1 126.2,198.6 126.7,198.0 127.1,197.3 127.5,196.7 128,195.9 128.4,195.1 128.8,194.2 129.3,193.1 129.7,192.1 130.1,190.8 130.6,189.5 131,187.9 131.4,186.3" fill="none" stroke="#2e4f8c" stroke-width="1.35" stroke-linejoin="round" />
<path d="M33.2,298.0 33.6,281.7 34,269.7 34.4,259.5 34.8,249.7 35.2,242.1 35.6,237.7 36,234.4 36.4,231.7 36.9,229.5 37.3,227.5 37.7,225.6 38.1,224.0 38.5,222.6 38.9,221.5 39.3,220.7 39.7,220.0 40.1,219.4 40.5,218.9 40.9,218.5 41.3,218.2 41.7,218.0 42.1,217.9 42.5,217.7 42.9,217.6 42.9,217.6 44.8,217.2 46.7,216.8 48.6,216.2 50.4,215.6 52.3,215.0 54.2,214.4 56.1,213.8 57.9,213.1 59.8,212.5 61.7,211.9 63.6,211.4 65.4,211.0 67.3,210.6 69.2,210.2 71.1,209.8 72.9,209.5 74.8,209.2 76.7,208.9 78.6,208.7 80.4,208.5 82.3,208.3 84.2,208.2 86.1,208.1 87.9,208.0 89.8,207.9 91.7,207.8 93.6,207.7 95.4,207.7 97.3,207.5 99.2,207.4 101,207.3 102.9,207.2 104.8,207.0 106.7,206.9 108.5,206.7 110.4,206.4 112.3,206.1 114.2,205.7 116,205.1 116,205.1 116.5,204.9 116.9,204.8 117.3,204.6 117.8,204.4 118.2,204.3 118.6,204.1 119.1,203.9 119.5,203.7 119.9,203.5 120.3,203.2 120.8,202.9 121.2,202.6 121.6,202.3 122.1,202.0 122.5,201.6 122.9,201.3 123.4,200.9 123.8,200.5 124.2,200.1 124.6,199.6 125.1,199.1 125.5,198.6 125.9,198.0 126.4,197.3 126.8,196.7 127.2,195.9 127.7,195.1 128.1,194.2 128.5,193.1 128.9,192.1 129.4,190.8 129.8,189.5 130.2,187.9 130.7,186.3" fill="none" stroke="#2c4a86" stroke-width="1.35" stroke-linejoin="round" />
</g>
<rect x="28.4" y="174.3" width="136.9" height="141.2" fill="none" stroke="#5c5c5c" stroke-width="1.1"/>
<line x1="28.4" y1="307.1" x2="30.6" y2="307.1" stroke="#5c5c5c" stroke-width="1" />
<line x1="28.4" y1="290.5" x2="30.6" y2="290.5" stroke="#5c5c5c" stroke-width="1" />
<line x1="28.4" y1="273.9" x2="30.6" y2="273.9" stroke="#5c5c5c" stroke-width="1" />
<line x1="28.4" y1="257.3" x2="30.6" y2="257.3" stroke="#5c5c5c" stroke-width="1" />
<line x1="28.4" y1="240.7" x2="30.6" y2="240.7" stroke="#5c5c5c" stroke-width="1" />
<line x1="28.4" y1="224.1" x2="30.6" y2="224.1" stroke="#5c5c5c" stroke-width="1" />
<line x1="28.4" y1="207.5" x2="30.6" y2="207.5" stroke="#5c5c5c" stroke-width="1" />
<line x1="28.4" y1="190.9" x2="30.6" y2="190.9" stroke="#5c5c5c" stroke-width="1" />
<line x1="28.4" y1="174.3" x2="30.6" y2="174.3" stroke="#5c5c5c" stroke-width="1" />
<line x1="28.4" y1="315.4" x2="29.7" y2="315.4" stroke="#5c5c5c" stroke-width="1" />
<line x1="28.4" y1="298.8" x2="29.7" y2="298.8" stroke="#5c5c5c" stroke-width="1" />
<line x1="28.4" y1="282.2" x2="29.7" y2="282.2" stroke="#5c5c5c" stroke-width="1" />
<line x1="28.4" y1="265.6" x2="29.7" y2="265.6" stroke="#5c5c5c" stroke-width="1" />
<line x1="28.4" y1="249" x2="29.7" y2="249" stroke="#5c5c5c" stroke-width="1" />
<line x1="28.4" y1="232.4" x2="29.7" y2="232.4" stroke="#5c5c5c" stroke-width="1" />
<line x1="28.4" y1="215.8" x2="29.7" y2="215.8" stroke="#5c5c5c" stroke-width="1" />
<line x1="28.4" y1="199.2" x2="29.7" y2="199.2" stroke="#5c5c5c" stroke-width="1" />
<line x1="28.4" y1="182.6" x2="29.7" y2="182.6" stroke="#5c5c5c" stroke-width="1" />
<line x1="165.3" y1="307.1" x2="163.1" y2="307.1" stroke="#5c5c5c" stroke-width="1" />
<line x1="165.3" y1="290.5" x2="163.1" y2="290.5" stroke="#5c5c5c" stroke-width="1" />
<line x1="165.3" y1="273.9" x2="163.1" y2="273.9" stroke="#5c5c5c" stroke-width="1" />
<line x1="165.3" y1="257.3" x2="163.1" y2="257.3" stroke="#5c5c5c" stroke-width="1" />
<line x1="165.3" y1="240.7" x2="163.1" y2="240.7" stroke="#5c5c5c" stroke-width="1" />
<line x1="165.3" y1="224.1" x2="163.1" y2="224.1" stroke="#5c5c5c" stroke-width="1" />
<line x1="165.3" y1="207.5" x2="163.1" y2="207.5" stroke="#5c5c5c" stroke-width="1" />
<line x1="165.3" y1="190.9" x2="163.1" y2="190.9" stroke="#5c5c5c" stroke-width="1" />
<line x1="165.3" y1="174.3" x2="163.1" y2="174.3" stroke="#5c5c5c" stroke-width="1" />
<line x1="165.3" y1="315.4" x2="164" y2="315.4" stroke="#5c5c5c" stroke-width="1" />
<line x1="165.3" y1="298.8" x2="164" y2="298.8" stroke="#5c5c5c" stroke-width="1" />
<line x1="165.3" y1="282.2" x2="164" y2="282.2" stroke="#5c5c5c" stroke-width="1" />
<line x1="165.3" y1="265.6" x2="164" y2="265.6" stroke="#5c5c5c" stroke-width="1" />
<line x1="165.3" y1="249" x2="164" y2="249" stroke="#5c5c5c" stroke-width="1" />
<line x1="165.3" y1="232.4" x2="164" y2="232.4" stroke="#5c5c5c" stroke-width="1" />
<line x1="165.3" y1="215.8" x2="164" y2="215.8" stroke="#5c5c5c" stroke-width="1" />
<line x1="165.3" y1="199.2" x2="164" y2="199.2" stroke="#5c5c5c" stroke-width="1" />
<line x1="165.3" y1="182.6" x2="164" y2="182.6" stroke="#5c5c5c" stroke-width="1" />
<line x1="33.2" y1="315.5" x2="33.2" y2="313.3" stroke="#5c5c5c" stroke-width="1" />
<line x1="59.8" y1="315.5" x2="59.8" y2="313.3" stroke="#5c5c5c" stroke-width="1" />
<line x1="86.4" y1="315.5" x2="86.4" y2="313.3" stroke="#5c5c5c" stroke-width="1" />
<line x1="113" y1="315.5" x2="113" y2="313.3" stroke="#5c5c5c" stroke-width="1" />
<line x1="139.6" y1="315.5" x2="139.6" y2="313.3" stroke="#5c5c5c" stroke-width="1" />
<line x1="166.2" y1="315.5" x2="166.2" y2="313.3" stroke="#5c5c5c" stroke-width="1" />
<line x1="46.5" y1="315.5" x2="46.5" y2="314.2" stroke="#5c5c5c" stroke-width="1" />
<line x1="73.1" y1="315.5" x2="73.1" y2="314.2" stroke="#5c5c5c" stroke-width="1" />
<line x1="99.7" y1="315.5" x2="99.7" y2="314.2" stroke="#5c5c5c" stroke-width="1" />
<line x1="126.3" y1="315.5" x2="126.3" y2="314.2" stroke="#5c5c5c" stroke-width="1" />
<line x1="152.9" y1="315.5" x2="152.9" y2="314.2" stroke="#5c5c5c" stroke-width="1" />
<line x1="33.2" y1="174.3" x2="33.2" y2="176.5" stroke="#5c5c5c" stroke-width="1" />
<line x1="59.8" y1="174.3" x2="59.8" y2="176.5" stroke="#5c5c5c" stroke-width="1" />
<line x1="86.4" y1="174.3" x2="86.4" y2="176.5" stroke="#5c5c5c" stroke-width="1" />
<line x1="113" y1="174.3" x2="113" y2="176.5" stroke="#5c5c5c" stroke-width="1" />
<line x1="139.6" y1="174.3" x2="139.6" y2="176.5" stroke="#5c5c5c" stroke-width="1" />
<line x1="166.2" y1="174.3" x2="166.2" y2="176.5" stroke="#5c5c5c" stroke-width="1" />
<line x1="46.5" y1="174.3" x2="46.5" y2="175.6" stroke="#5c5c5c" stroke-width="1" />
<line x1="73.1" y1="174.3" x2="73.1" y2="175.6" stroke="#5c5c5c" stroke-width="1" />
<line x1="99.7" y1="174.3" x2="99.7" y2="175.6" stroke="#5c5c5c" stroke-width="1" />
<line x1="126.3" y1="174.3" x2="126.3" y2="175.6" stroke="#5c5c5c" stroke-width="1" />
<line x1="152.9" y1="174.3" x2="152.9" y2="175.6" stroke="#5c5c5c" stroke-width="1" />
<text x="25.4" y="309.9" font-size="8" text-anchor="end" fill="#242424" font-weight="normal" font-family='"Liberation Serif", serif' >2.2</text>
<text x="25.4" y="293.3" font-size="8" text-anchor="end" fill="#242424" font-weight="normal" font-family='"Liberation Serif", serif' >2.4</text>
<text x="25.4" y="276.7" font-size="8" text-anchor="end" fill="#242424" font-weight="normal" font-family='"Liberation Serif", serif' >2.6</text>
<text x="25.4" y="260.1" font-size="8" text-anchor="end" fill="#242424" font-weight="normal" font-family='"Liberation Serif", serif' >2.8</text>
<text x="25.4" y="243.5" font-size="8" text-anchor="end" fill="#242424" font-weight="normal" font-family='"Liberation Serif", serif' >3.0</text>
<text x="25.4" y="226.9" font-size="8" text-anchor="end" fill="#242424" font-weight="normal" font-family='"Liberation Serif", serif' >3.2</text>
<text x="25.4" y="210.3" font-size="8" text-anchor="end" fill="#242424" font-weight="normal" font-family='"Liberation Serif", serif' >3.4</text>
<text x="25.4" y="193.7" font-size="8" text-anchor="end" fill="#242424" font-weight="normal" font-family='"Liberation Serif", serif' >3.6</text>
<text x="25.4" y="177.1" font-size="8" text-anchor="end" fill="#242424" font-weight="normal" font-family='"Liberation Serif", serif' >3.8</text>
<text x="33.2" y="324.8" font-size="8" text-anchor="middle" fill="#242424" font-weight="normal" font-family='"Liberation Serif", serif' >0.0</text>
<text x="59.8" y="324.8" font-size="8" text-anchor="middle" fill="#242424" font-weight="normal" font-family='"Liberation Serif", serif' >0.5</text>
<text x="86.4" y="324.8" font-size="8" text-anchor="middle" fill="#242424" font-weight="normal" font-family='"Liberation Serif", serif' >1.0</text>
<text x="113" y="324.8" font-size="8" text-anchor="middle" fill="#242424" font-weight="normal" font-family='"Liberation Serif", serif' >1.5</text>
<text x="139.6" y="324.8" font-size="8" text-anchor="middle" fill="#242424" font-weight="normal" font-family='"Liberation Serif", serif' >2.0</text>
<text x="166.2" y="324.8" font-size="8" text-anchor="middle" fill="#242424" font-weight="normal" font-family='"Liberation Serif", serif' >2.5</text>
<text x="97" y="336.4" font-size="11.9" text-anchor="middle" fill="#242424" font-weight="normal" font-family='"Liberation Serif", serif' >Charge capacity (Ah)</text>
<text x="0" y="0" font-size="12.6" text-anchor="middle" fill="#242424" font-weight="normal" font-family='"Liberation Serif", serif' transform="translate(7,244.2) rotate(-90)" dominant-baseline="central">Voltage (V)</text>
<text x="4" y="183.8" font-size="12.5" text-anchor="start" fill="#111" font-weight="bold" font-family='"Liberation Sans", sans-serif' >c</text>
<rect x="85" y="217" width="60" height="46.7" fill="#ededed"/>
<text x="115.1" y="229.7" font-size="11" text-anchor="middle" fill="#242424" font-weight="bold" font-family='"Liberation Serif", serif' >VALENCE</text>
<text x="115.1" y="244.7" font-size="11" text-anchor="middle" fill="#242424" font-weight="normal" font-family='"Liberation Serif", serif' >LFP battery</text>
<text x="115.1" y="259.8" font-size="11" text-anchor="middle" fill="#242424" font-weight="bold" font-family='"Liberation Serif", serif' >(#1)</text>
<text x="115.1" y="276" font-size="11.3" text-anchor="middle" fill="#242424" font-weight="normal" font-family='"Liberation Serif", serif' >State of health</text>
<rect x="76.9" y="281.9" width="76.7" height="8.7" fill="url(#cbar)" stroke="#555" stroke-width="0.5"/>
<line x1="96.08" y1="290.6" x2="96.08" y2="289.3" stroke="#333" stroke-width="0.8" />
<line x1="115.25" y1="290.6" x2="115.25" y2="289.3" stroke="#333" stroke-width="0.8" />
<line x1="134.43" y1="290.6" x2="134.43" y2="289.3" stroke="#333" stroke-width="0.8" />
<text x="81.8" y="301.8" font-size="9.6" text-anchor="middle" fill="#242424" font-weight="normal" font-family='"Liberation Serif", serif' >80%</text>
<text x="153.6" y="301.8" font-size="9.6" text-anchor="middle" fill="#242424" font-weight="normal" font-family='"Liberation Serif", serif' >100%</text>
<rect x="34.5" y="402.7" width="12.47" height="8.2" fill="url(#barg)" stroke="#4a4a4a" stroke-width="0.8"/>
<rect x="46.97" y="368.26" width="12.47" height="42.64" fill="url(#barg)" stroke="#4a4a4a" stroke-width="0.8"/>
<rect x="59.44" y="373.02" width="12.47" height="37.88" fill="url(#barg)" stroke="#4a4a4a" stroke-width="0.8"/>
<rect x="71.91" y="377.61" width="12.47" height="33.29" fill="url(#barg)" stroke="#4a4a4a" stroke-width="0.8"/>
<rect x="84.38" y="368.42" width="12.47" height="42.48" fill="url(#barg)" stroke="#4a4a4a" stroke-width="0.8"/>
<rect x="96.85" y="366.29" width="12.47" height="44.61" fill="url(#barg)" stroke="#4a4a4a" stroke-width="0.8"/>
<rect x="109.32" y="357.11" width="12.47" height="53.79" fill="url(#barg)" stroke="#4a4a4a" stroke-width="0.8"/>
<rect x="121.79" y="349.07" width="12.47" height="61.83" fill="url(#barg)" stroke="#4a4a4a" stroke-width="0.8"/>
<rect x="134.26" y="372.03" width="12.47" height="38.87" fill="url(#barg)" stroke="#4a4a4a" stroke-width="0.8"/>
<rect x="146.73" y="362.19" width="12.47" height="48.71" fill="url(#barg)" stroke="#4a4a4a" stroke-width="0.8"/>
<rect x="28.1" y="341.1" width="137.4" height="69.8" fill="none" stroke="#5c5c5c" stroke-width="1.1"/>
<line x1="28.1" y1="410.9" x2="30.3" y2="410.9" stroke="#5c5c5c" stroke-width="1" />
<line x1="28.1" y1="394.5" x2="30.3" y2="394.5" stroke="#5c5c5c" stroke-width="1" />
<line x1="28.1" y1="378.1" x2="30.3" y2="378.1" stroke="#5c5c5c" stroke-width="1" />
<line x1="28.1" y1="361.7" x2="30.3" y2="361.7" stroke="#5c5c5c" stroke-width="1" />
<line x1="28.1" y1="345.3" x2="30.3" y2="345.3" stroke="#5c5c5c" stroke-width="1" />
<line x1="165.5" y1="410.9" x2="163.3" y2="410.9" stroke="#5c5c5c" stroke-width="1" />
<line x1="165.5" y1="394.5" x2="163.3" y2="394.5" stroke="#5c5c5c" stroke-width="1" />
<line x1="165.5" y1="378.1" x2="163.3" y2="378.1" stroke="#5c5c5c" stroke-width="1" />
<line x1="165.5" y1="361.7" x2="163.3" y2="361.7" stroke="#5c5c5c" stroke-width="1" />
<line x1="165.5" y1="345.3" x2="163.3" y2="345.3" stroke="#5c5c5c" stroke-width="1" />
<line x1="40.73" y1="341.1" x2="40.73" y2="343.3" stroke="#5c5c5c" stroke-width="1" />
<line x1="53.2" y1="341.1" x2="53.2" y2="343.3" stroke="#5c5c5c" stroke-width="1" />
<line x1="65.67" y1="341.1" x2="65.67" y2="343.3" stroke="#5c5c5c" stroke-width="1" />
<line x1="78.14" y1="341.1" x2="78.14" y2="343.3" stroke="#5c5c5c" stroke-width="1" />
<line x1="90.61" y1="341.1" x2="90.61" y2="343.3" stroke="#5c5c5c" stroke-width="1" />
<line x1="103.08" y1="341.1" x2="103.08" y2="343.3" stroke="#5c5c5c" stroke-width="1" />
<line x1="115.55" y1="341.1" x2="115.55" y2="343.3" stroke="#5c5c5c" stroke-width="1" />
<line x1="128.02" y1="341.1" x2="128.02" y2="343.3" stroke="#5c5c5c" stroke-width="1" />
<line x1="140.5" y1="341.1" x2="140.5" y2="343.3" stroke="#5c5c5c" stroke-width="1" />
<line x1="152.96" y1="341.1" x2="152.96" y2="343.3" stroke="#5c5c5c" stroke-width="1" />
<line x1="34.5" y1="410.9" x2="34.5" y2="408.7" stroke="#5c5c5c" stroke-width="1" />
<line x1="46.97" y1="410.9" x2="46.97" y2="408.7" stroke="#5c5c5c" stroke-width="1" />
<line x1="59.44" y1="410.9" x2="59.44" y2="408.7" stroke="#5c5c5c" stroke-width="1" />
<line x1="71.91" y1="410.9" x2="71.91" y2="408.7" stroke="#5c5c5c" stroke-width="1" />
<line x1="84.38" y1="410.9" x2="84.38" y2="408.7" stroke="#5c5c5c" stroke-width="1" />
<line x1="96.85" y1="410.9" x2="96.85" y2="408.7" stroke="#5c5c5c" stroke-width="1" />
<line x1="109.32" y1="410.9" x2="109.32" y2="408.7" stroke="#5c5c5c" stroke-width="1" />
<line x1="121.79" y1="410.9" x2="121.79" y2="408.7" stroke="#5c5c5c" stroke-width="1" />
<line x1="134.26" y1="410.9" x2="134.26" y2="408.7" stroke="#5c5c5c" stroke-width="1" />
<line x1="146.73" y1="410.9" x2="146.73" y2="408.7" stroke="#5c5c5c" stroke-width="1" />
<line x1="159.2" y1="410.9" x2="159.2" y2="408.7" stroke="#5c5c5c" stroke-width="1" />
<text x="25.1" y="413.7" font-size="8" text-anchor="end" fill="#242424" font-weight="normal" font-family='"Liberation Serif", serif' >0</text>
<text x="25.1" y="397.3" font-size="8" text-anchor="end" fill="#242424" font-weight="normal" font-family='"Liberation Serif", serif' >100</text>
<text x="25.1" y="380.9" font-size="8" text-anchor="end" fill="#242424" font-weight="normal" font-family='"Liberation Serif", serif' >200</text>
<text x="25.1" y="364.5" font-size="8" text-anchor="end" fill="#242424" font-weight="normal" font-family='"Liberation Serif", serif' >300</text>
<text x="25.1" y="348.1" font-size="8" text-anchor="end" fill="#242424" font-weight="normal" font-family='"Liberation Serif", serif' >400</text>
<text x="34.5" y="420.6" font-size="8.6" text-anchor="middle" fill="#242424" font-weight="normal" font-family='"Liberation Serif", serif' >80%</text>
<text x="96.85" y="420.6" font-size="8.6" text-anchor="middle" fill="#242424" font-weight="normal" font-family='"Liberation Serif", serif' >90%</text>
<text x="159.2" y="420.6" font-size="8.6" text-anchor="middle" fill="#242424" font-weight="normal" font-family='"Liberation Serif", serif' >100%</text>
<text x="96.5" y="430.8" font-size="11.8" text-anchor="middle" fill="#242424" font-weight="normal" font-family='"Liberation Serif", serif' >State of health</text>
<text x="0" y="0" font-size="11.7" text-anchor="middle" fill="#242424" font-weight="normal" font-family='"Liberation Serif", serif' transform="translate(5.4,375.9) rotate(-90)" dominant-baseline="central">Samples</text>
<g>
<path d="M204.5,300.5 205,284.7 205.5,271.7 206.1,260.3 206.6,251.2 207.1,245.0 207.6,240.0 208.1,236.1 208.7,233.2 209.2,230.8 209.7,228.7 210.2,227.0 210.8,225.5 211.3,224.3 211.8,223.2 212.3,222.1 212.8,221.1 213.4,220.3 213.9,219.6 214.4,219.1 214.9,218.8 215.4,218.6 216,218.4 216.5,218.2 217,218.1 217,218.1 219.4,217.4 221.8,216.9 224.2,216.5 226.6,216.0 229,215.4 231.4,214.4 233.8,213.5 236.2,212.8 238.6,212.2 241,211.8 243.4,211.4 245.9,211.0 248.3,210.8 250.7,210.7 253.1,210.6 255.5,210.5 257.9,210.4 260.3,210.3 262.7,210.3 265.1,210.2 267.5,210.1 269.9,210.0 272.3,209.9 274.7,209.7 277.1,209.6 279.5,209.4 281.9,209.3 284.3,209.1 286.7,208.9 289.1,208.6 291.5,208.4 293.9,208.2 296.3,207.9 298.7,207.7 301.2,207.5 303.6,207.3 306,207.0 308.4,206.8 310.8,206.4 310.8,206.4 311.3,206.4 311.9,206.3 312.4,206.2 313,206.1 313.5,206.0 314.1,205.9 314.6,205.8 315.2,205.7 315.7,205.6 316.3,205.5 316.8,205.4 317.4,205.3 317.9,205.1 318.5,205.0 319,204.9 319.6,204.8 320.1,204.6 320.7,204.5 321.2,204.3 321.8,204.1 322.3,203.9 322.9,203.7 323.5,203.4 324,202.9 324.6,202.4 325.1,201.8 325.7,201.0 326.2,200.1 326.8,199.0 327.3,197.2 327.9,195.1 328.4,192.7 329,189.8 329.5,186.3" fill="none" stroke="#a52520" stroke-width="1.35" stroke-linejoin="round" />
<path d="M204.5,300.3 205,284.5 205.5,271.6 206.1,260.3 206.6,251.1 207.1,244.8 207.6,239.9 208.1,236.0 208.6,233.1 209.2,230.7 209.7,228.7 210.2,226.9 210.7,225.4 211.2,224.2 211.7,223.1 212.3,222.0 212.8,221.0 213.3,220.2 213.8,219.6 214.3,219.1 214.9,218.8 215.4,218.5 215.9,218.3 216.4,218.2 216.9,218.0 216.9,218.0 219.3,217.4 221.7,216.9 224.1,216.5 226.5,216.0 228.9,215.3 231.3,214.4 233.6,213.5 236,212.8 238.4,212.3 240.8,211.8 243.2,211.4 245.6,211.0 248,210.8 250.4,210.7 252.8,210.5 255.1,210.4 257.5,210.3 259.9,210.3 262.3,210.2 264.7,210.1 267.1,210.0 269.5,209.9 271.9,209.8 274.3,209.6 276.7,209.5 279,209.3 281.4,209.2 283.8,209.0 286.2,208.8 288.6,208.5 291,208.3 293.4,208.1 295.8,207.9 298.2,207.7 300.5,207.5 302.9,207.2 305.3,207.0 307.7,206.7 310.1,206.4 310.1,206.4 310.6,206.3 311.2,206.2 311.7,206.1 312.3,206.0 312.8,205.9 313.4,205.8 313.9,205.7 314.5,205.6 315,205.5 315.6,205.4 316.1,205.2 316.7,205.1 317.2,205.0 317.8,204.8 318.3,204.7 318.9,204.6 319.4,204.4 320,204.2 320.5,204.1 321.1,203.8 321.6,203.6 322.2,203.3 322.7,203.0 323.3,202.6 323.8,202.0 324.3,201.4 324.9,200.6 325.4,199.7 326,198.6 326.5,196.9 327.1,194.9 327.6,192.5 328.2,189.7 328.7,186.3" fill="none" stroke="#ad2922" stroke-width="1.35" stroke-linejoin="round" />
<path d="M204.5,300.2 205,284.3 205.5,271.5 206,260.2 206.6,251.0 207.1,244.7 207.6,239.8 208.1,235.9 208.6,233.0 209.1,230.6 209.6,228.6 210.2,226.8 210.7,225.4 211.2,224.1 211.7,223.0 212.2,221.9 212.7,221.0 213.2,220.2 213.8,219.5 214.3,219.0 214.8,218.7 215.3,218.5 215.8,218.3 216.3,218.1 216.8,218.0 216.8,218.0 219.2,217.4 221.6,216.9 224,216.5 226.3,216.0 228.7,215.3 231.1,214.4 233.5,213.5 235.8,212.8 238.2,212.3 240.6,211.8 243,211.4 245.3,211.0 247.7,210.8 250.1,210.6 252.5,210.5 254.8,210.4 257.2,210.3 259.6,210.2 261.9,210.1 264.3,210.0 266.7,209.9 269.1,209.8 271.4,209.7 273.8,209.5 276.2,209.4 278.6,209.2 280.9,209.1 283.3,208.9 285.7,208.7 288.1,208.5 290.4,208.2 292.8,208.0 295.2,207.8 297.6,207.6 299.9,207.4 302.3,207.2 304.7,206.9 307.1,206.6 309.4,206.3 309.4,206.3 310,206.2 310.5,206.1 311.1,206.0 311.6,205.9 312.2,205.8 312.7,205.7 313.2,205.6 313.8,205.5 314.3,205.3 314.9,205.2 315.4,205.1 316,204.9 316.5,204.8 317.1,204.7 317.6,204.5 318.1,204.4 318.7,204.2 319.2,204.0 319.8,203.8 320.3,203.6 320.9,203.3 321.4,203.0 322,202.7 322.5,202.3 323,201.7 323.6,201.0 324.1,200.3 324.7,199.4 325.2,198.3 325.8,196.6 326.3,194.6 326.9,192.3 327.4,189.5 327.9,186.3" fill="none" stroke="#b52d24" stroke-width="1.35" stroke-linejoin="round" />
<path d="M204.5,300.0 205,284.1 205.5,271.3 206,260.2 206.5,250.9 207.1,244.5 207.6,239.6 208.1,235.8 208.6,232.9 209.1,230.6 209.6,228.5 210.1,226.8 210.6,225.3 211.1,224.0 211.7,222.9 212.2,221.8 212.7,220.9 213.2,220.1 213.7,219.5 214.2,219.0 214.7,218.7 215.2,218.5 215.7,218.3 216.3,218.1 216.8,218.0 216.8,218.0 219.1,217.4 221.5,216.9 223.8,216.4 226.2,215.9 228.6,215.3 230.9,214.4 233.3,213.5 235.6,212.8 238,212.3 240.4,211.8 242.7,211.4 245.1,211.0 247.4,210.8 249.8,210.6 252.1,210.4 254.5,210.3 256.9,210.2 259.2,210.1 261.6,210.0 263.9,209.9 266.3,209.8 268.7,209.7 271,209.5 273.4,209.4 275.7,209.3 278.1,209.1 280.5,209.0 282.8,208.8 285.2,208.6 287.5,208.4 289.9,208.2 292.2,208.0 294.6,207.8 297,207.6 299.3,207.4 301.7,207.1 304,206.9 306.4,206.6 308.8,206.2 308.8,206.2 309.3,206.1 309.8,206.0 310.4,205.9 310.9,205.8 311.5,205.7 312,205.6 312.5,205.5 313.1,205.3 313.6,205.2 314.2,205.1 314.7,204.9 315.3,204.8 315.8,204.6 316.3,204.5 316.9,204.3 317.4,204.2 318,204.0 318.5,203.8 319,203.6 319.6,203.3 320.1,203.0 320.7,202.7 321.2,202.4 321.7,201.9 322.3,201.4 322.8,200.7 323.4,199.9 323.9,199.0 324.5,197.9 325,196.3 325.5,194.4 326.1,192.2 326.6,189.4 327.2,186.3" fill="none" stroke="#bd3126" stroke-width="1.35" stroke-linejoin="round" />
<path d="M204.5,299.9 205,284.0 205.5,271.2 206,260.1 206.5,250.9 207,244.3 207.5,239.5 208.1,235.7 208.6,232.8 209.1,230.5 209.6,228.4 210.1,226.7 210.6,225.2 211.1,223.9 211.6,222.8 212.1,221.8 212.6,220.9 213.1,220.1 213.6,219.4 214.1,219.0 214.7,218.7 215.2,218.4 215.7,218.2 216.2,218.1 216.7,218.0 216.7,218.0 219,217.4 221.4,216.9 223.7,216.4 226.1,215.9 228.4,215.3 230.7,214.4 233.1,213.5 235.4,212.9 237.8,212.3 240.1,211.8 242.5,211.4 244.8,211.0 247.2,210.8 249.5,210.6 251.8,210.4 254.2,210.3 256.5,210.1 258.9,210.0 261.2,209.9 263.6,209.8 265.9,209.7 268.2,209.6 270.6,209.4 272.9,209.3 275.3,209.2 277.6,209.1 280,208.9 282.3,208.7 284.7,208.5 287,208.3 289.3,208.1 291.7,207.9 294,207.7 296.4,207.5 298.7,207.3 301.1,207.1 303.4,206.8 305.7,206.5 308.1,206.1 308.1,206.1 308.6,206.0 309.2,205.9 309.7,205.8 310.2,205.7 310.8,205.6 311.3,205.5 311.9,205.4 312.4,205.2 312.9,205.1 313.5,205.0 314,204.8 314.5,204.6 315.1,204.5 315.6,204.3 316.2,204.1 316.7,204.0 317.2,203.8 317.8,203.6 318.3,203.3 318.8,203.1 319.4,202.8 319.9,202.5 320.5,202.1 321,201.6 321.5,201.1 322.1,200.4 322.6,199.6 323.1,198.7 323.7,197.6 324.2,196.0 324.8,194.1 325.3,192.0 325.8,189.3 326.4,186.3" fill="none" stroke="#c53628" stroke-width="1.35" stroke-linejoin="round" />
<path d="M204.5,299.7 205,283.8 205.5,271.1 206,260.1 206.5,250.8 207,244.2 207.5,239.4 208,235.6 208.5,232.8 209,230.4 209.5,228.4 210,226.6 210.6,225.1 211.1,223.8 211.6,222.7 212.1,221.7 212.6,220.8 213.1,220.0 213.6,219.4 214.1,218.9 214.6,218.6 215.1,218.4 215.6,218.2 216.1,218.1 216.6,217.9 216.6,217.9 218.9,217.4 221.3,216.9 223.6,216.4 225.9,215.9 228.3,215.3 230.6,214.4 232.9,213.6 235.2,212.9 237.6,212.3 239.9,211.8 242.2,211.4 244.6,211.0 246.9,210.8 249.2,210.5 251.5,210.4 253.9,210.2 256.2,210.1 258.5,209.9 260.9,209.8 263.2,209.7 265.5,209.6 267.8,209.5 270.2,209.4 272.5,209.2 274.8,209.1 277.1,209.0 279.5,208.8 281.8,208.7 284.1,208.5 286.5,208.3 288.8,208.1 291.1,207.9 293.4,207.7 295.8,207.5 298.1,207.3 300.4,207.0 302.8,206.8 305.1,206.4 307.4,206.1 307.4,206.1 308,206.0 308.5,205.8 309,205.7 309.6,205.6 310.1,205.5 310.6,205.4 311.2,205.3 311.7,205.1 312.2,205.0 312.8,204.8 313.3,204.7 313.8,204.5 314.4,204.3 314.9,204.2 315.4,204.0 316,203.8 316.5,203.6 317,203.3 317.6,203.1 318.1,202.8 318.6,202.5 319.2,202.2 319.7,201.8 320.2,201.3 320.8,200.8 321.3,200.1 321.8,199.3 322.4,198.4 322.9,197.3 323.4,195.8 324,193.9 324.5,191.8 325,189.2 325.6,186.3" fill="none" stroke="#cd3a2a" stroke-width="1.35" stroke-linejoin="round" />
<path d="M204.5,299.6 205,283.7 205.5,271.0 206,260.0 206.5,250.7 207,244.0 207.5,239.3 208,235.5 208.5,232.7 209,230.3 209.5,228.3 210,226.5 210.5,225.0 211,223.7 211.5,222.6 212,221.6 212.5,220.7 213,220.0 213.5,219.4 214,218.9 214.5,218.6 215,218.4 215.5,218.2 216,218.0 216.5,217.9 216.5,217.9 218.8,217.4 221.2,216.9 223.5,216.4 225.8,215.9 228.1,215.2 230.4,214.4 232.7,213.6 235,212.9 237.4,212.3 239.7,211.8 242,211.4 244.3,211.0 246.6,210.7 248.9,210.5 251.2,210.3 253.5,210.2 255.9,210.0 258.2,209.9 260.5,209.7 262.8,209.6 265.1,209.5 267.4,209.4 269.7,209.3 272.1,209.1 274.4,209.0 276.7,208.9 279,208.7 281.3,208.6 283.6,208.4 285.9,208.2 288.2,208.0 290.6,207.8 292.9,207.6 295.2,207.4 297.5,207.2 299.8,207.0 302.1,206.7 304.4,206.4 306.8,206.0 306.8,206.0 307.3,205.9 307.8,205.8 308.3,205.7 308.9,205.5 309.4,205.4 309.9,205.3 310.5,205.2 311,205.0 311.5,204.9 312.1,204.7 312.6,204.5 313.1,204.4 313.7,204.2 314.2,204.0 314.7,203.8 315.2,203.6 315.8,203.4 316.3,203.1 316.8,202.9 317.4,202.6 317.9,202.3 318.4,201.9 319,201.5 319.5,201.0 320,200.5 320.6,199.8 321.1,199.0 321.6,198.1 322.1,197.0 322.7,195.5 323.2,193.7 323.7,191.6 324.3,189.2 324.8,186.3" fill="none" stroke="#d53e2c" stroke-width="1.35" stroke-linejoin="round" />
<path d="M204.5,299.5 205,283.5 205.5,270.9 206,260.0 206.5,250.6 207,243.9 207.5,239.1 208,235.5 208.5,232.6 209,230.3 209.5,228.2 210,226.5 210.5,224.9 211,223.7 211.5,222.5 212,221.6 212.5,220.7 213,219.9 213.5,219.3 214,218.9 214.5,218.6 215,218.3 215.5,218.2 216,218.0 216.5,217.9 216.5,217.9 218.7,217.4 221,216.9 223.3,216.4 225.6,215.9 227.9,215.2 230.2,214.4 232.5,213.6 234.8,212.9 237.1,212.4 239.4,211.8 241.7,211.4 244,211.0 246.3,210.7 248.6,210.5 250.9,210.3 253.2,210.1 255.5,210.0 257.8,209.8 260.1,209.7 262.4,209.5 264.7,209.4 267,209.3 269.3,209.2 271.6,209.1 273.9,208.9 276.2,208.8 278.5,208.7 280.8,208.5 283.1,208.3 285.4,208.2 287.7,208.0 290,207.8 292.3,207.6 294.6,207.4 296.9,207.2 299.2,207.0 301.5,206.7 303.8,206.3 306.1,205.9 306.1,205.9 306.6,205.8 307.1,205.7 307.7,205.6 308.2,205.5 308.7,205.3 309.2,205.2 309.8,205.1 310.3,204.9 310.8,204.8 311.4,204.6 311.9,204.4 312.4,204.2 312.9,204.1 313.5,203.9 314,203.6 314.5,203.4 315,203.2 315.6,202.9 316.1,202.7 316.6,202.4 317.2,202.0 317.7,201.7 318.2,201.3 318.7,200.8 319.3,200.2 319.8,199.5 320.3,198.7 320.8,197.8 321.4,196.7 321.9,195.2 322.4,193.5 323,191.5 323.5,189.1 324,186.3" fill="none" stroke="#dc422e" stroke-width="1.35" stroke-linejoin="round" />
<path d="M204.5,299.4 205,283.4 205.5,270.8 206,260.0 206.5,250.5 207,243.8 207.5,239.0 208,235.4 208.5,232.5 209,230.2 209.4,228.2 209.9,226.4 210.4,224.9 210.9,223.6 211.4,222.4 211.9,221.5 212.4,220.6 212.9,219.9 213.4,219.3 213.9,218.8 214.4,218.5 214.9,218.3 215.4,218.1 215.9,218.0 216.4,217.9 216.4,217.9 218.7,217.3 220.9,216.9 223.2,216.4 225.5,215.8 227.8,215.2 230.1,214.4 232.4,213.6 234.6,212.9 236.9,212.4 239.2,211.8 241.5,211.4 243.8,211.0 246.1,210.7 248.3,210.5 250.6,210.3 252.9,210.1 255.2,209.9 257.5,209.7 259.8,209.6 262,209.4 264.3,209.3 266.6,209.2 268.9,209.1 271.2,209.0 273.4,208.9 275.7,208.7 278,208.6 280.3,208.5 282.6,208.3 284.9,208.1 287.1,207.9 289.4,207.7 291.7,207.5 294,207.3 296.3,207.1 298.6,206.9 300.8,206.6 303.1,206.3 305.4,205.9 305.4,205.9 305.9,205.7 306.5,205.6 307,205.5 307.5,205.4 308,205.3 308.6,205.1 309.1,205.0 309.6,204.8 310.1,204.7 310.7,204.5 311.2,204.3 311.7,204.1 312.2,203.9 312.7,203.7 313.3,203.5 313.8,203.3 314.3,203.0 314.8,202.8 315.4,202.5 315.9,202.2 316.4,201.8 316.9,201.4 317.5,201.0 318,200.5 318.5,199.9 319,199.2 319.6,198.4 320.1,197.5 320.6,196.4 321.1,195.0 321.6,193.3 322.2,191.3 322.7,189.0 323.2,186.3" fill="none" stroke="#e34b32" stroke-width="1.35" stroke-linejoin="round" />
<path d="M204.5,299.3 205,283.2 205.5,270.7 206,259.9 206.5,250.5 207,243.6 207.4,238.9 207.9,235.3 208.4,232.5 208.9,230.2 209.4,228.1 209.9,226.3 210.4,224.8 210.9,223.5 211.4,222.4 211.9,221.4 212.4,220.6 212.9,219.9 213.3,219.3 213.8,218.8 214.3,218.5 214.8,218.3 215.3,218.1 215.8,218.0 216.3,217.8 216.3,217.8 218.6,217.3 220.8,216.9 223.1,216.4 225.4,215.8 227.6,215.2 229.9,214.4 232.2,213.6 234.4,212.9 236.7,212.4 239,211.9 241.2,211.4 243.5,211.0 245.8,210.7 248,210.5 250.3,210.2 252.6,210.0 254.8,209.8 257.1,209.7 259.4,209.5 261.7,209.4 263.9,209.2 266.2,209.1 268.5,209.0 270.7,208.9 273,208.8 275.3,208.7 277.5,208.5 279.8,208.4 282.1,208.2 284.3,208.0 286.6,207.9 288.9,207.7 291.1,207.5 293.4,207.3 295.7,207.1 297.9,206.9 300.2,206.6 302.5,206.2 304.7,205.8 304.7,205.8 305.3,205.7 305.8,205.6 306.3,205.4 306.8,205.3 307.3,205.2 307.9,205.0 308.4,204.9 308.9,204.7 309.4,204.6 309.9,204.4 310.5,204.2 311,204.0 311.5,203.8 312,203.6 312.5,203.3 313.1,203.1 313.6,202.8 314.1,202.6 314.6,202.3 315.1,202.0 315.7,201.6 316.2,201.2 316.7,200.8 317.2,200.2 317.8,199.6 318.3,199.0 318.8,198.1 319.3,197.2 319.8,196.2 320.4,194.8 320.9,193.1 321.4,191.2 321.9,188.9 322.4,186.3" fill="none" stroke="#e6603e" stroke-width="1.35" stroke-linejoin="round" />
<path d="M204.5,299.2 205,283.1 205.5,270.7 206,259.9 206.5,250.4 206.9,243.5 207.4,238.8 207.9,235.2 208.4,232.4 208.9,230.1 209.4,228.1 209.9,226.3 210.4,224.7 210.8,223.4 211.3,222.3 211.8,221.4 212.3,220.6 212.8,219.8 213.3,219.2 213.8,218.8 214.3,218.5 214.8,218.3 215.2,218.1 215.7,218.0 216.2,217.8 216.2,217.8 218.5,217.3 220.7,216.9 223,216.4 225.2,215.8 227.5,215.2 229.7,214.4 232,213.6 234.2,213.0 236.5,212.4 238.7,211.9 241,211.4 243.2,211.0 245.5,210.7 247.8,210.4 250,210.2 252.3,210.0 254.5,209.8 256.8,209.6 259,209.4 261.3,209.3 263.5,209.2 265.8,209.0 268,208.9 270.3,208.8 272.5,208.7 274.8,208.6 277,208.5 279.3,208.3 281.5,208.2 283.8,208.0 286.1,207.8 288.3,207.6 290.6,207.5 292.8,207.3 295.1,207.1 297.3,206.8 299.6,206.6 301.8,206.2 304.1,205.7 304.1,205.7 304.6,205.6 305.1,205.5 305.6,205.4 306.1,205.2 306.7,205.1 307.2,205.0 307.7,204.8 308.2,204.7 308.7,204.5 309.2,204.3 309.8,204.1 310.3,203.9 310.8,203.7 311.3,203.4 311.8,203.2 312.3,202.9 312.9,202.7 313.4,202.4 313.9,202.1 314.4,201.8 314.9,201.4 315.4,201.0 316,200.5 316.5,200.0 317,199.4 317.5,198.7 318,197.9 318.5,197.0 319.1,195.9 319.6,194.5 320.1,192.9 320.6,191.0 321.1,188.8 321.6,186.3" fill="none" stroke="#ea754a" stroke-width="1.35" stroke-linejoin="round" />
<path d="M204.5,299.1 205,283.0 205.5,270.6 206,259.9 206.4,250.3 206.9,243.4 207.4,238.7 207.9,235.1 208.4,232.3 208.9,230.0 209.3,228.0 209.8,226.2 210.3,224.7 210.8,223.4 211.3,222.2 211.8,221.3 212.3,220.5 212.7,219.8 213.2,219.2 213.7,218.8 214.2,218.5 214.7,218.3 215.2,218.1 215.7,217.9 216.1,217.8 216.1,217.8 218.4,217.3 220.6,216.9 222.8,216.3 225.1,215.8 227.3,215.2 229.6,214.4 231.8,213.6 234,213.0 236.3,212.4 238.5,211.9 240.8,211.4 243,211.0 245.2,210.7 247.5,210.4 249.7,210.2 251.9,209.9 254.2,209.7 256.4,209.6 258.7,209.4 260.9,209.2 263.1,209.1 265.4,209.0 267.6,208.9 269.8,208.7 272.1,208.6 274.3,208.5 276.6,208.4 278.8,208.3 281,208.1 283.3,207.9 285.5,207.8 287.7,207.6 290,207.4 292.2,207.2 294.5,207.0 296.7,206.8 298.9,206.5 301.2,206.2 303.4,205.7 303.4,205.7 303.9,205.6 304.4,205.4 304.9,205.3 305.5,205.2 306,205.0 306.5,204.9 307,204.7 307.5,204.6 308,204.4 308.5,204.2 309.1,204.0 309.6,203.8 310.1,203.6 310.6,203.3 311.1,203.1 311.6,202.8 312.1,202.5 312.6,202.2 313.2,201.9 313.7,201.6 314.2,201.2 314.7,200.8 315.2,200.3 315.7,199.8 316.2,199.2 316.8,198.5 317.3,197.7 317.8,196.7 318.3,195.7 318.8,194.3 319.3,192.7 319.8,190.9 320.3,188.7 320.9,186.3" fill="none" stroke="#ed8a55" stroke-width="1.35" stroke-linejoin="round" />
<path d="M204.5,299.0 205,282.9 205.5,270.5 205.9,259.8 206.4,250.3 206.9,243.3 207.4,238.7 207.9,235.1 208.4,232.3 208.8,230.0 209.3,228.0 209.8,226.2 210.3,224.6 210.8,223.3 211.2,222.2 211.7,221.3 212.2,220.5 212.7,219.8 213.2,219.2 213.6,218.7 214.1,218.4 214.6,218.2 215.1,218.1 215.6,217.9 216.1,217.8 216.1,217.8 218.3,217.3 220.5,216.8 222.7,216.3 224.9,215.8 227.2,215.2 229.4,214.4 231.6,213.7 233.8,213.0 236.1,212.4 238.3,211.9 240.5,211.4 242.7,211.0 245,210.7 247.2,210.4 249.4,210.1 251.6,209.9 253.8,209.7 256.1,209.5 258.3,209.3 260.5,209.2 262.7,209.0 265,208.9 267.2,208.8 269.4,208.7 271.6,208.6 273.8,208.5 276.1,208.3 278.3,208.2 280.5,208.1 282.7,207.9 285,207.7 287.2,207.6 289.4,207.4 291.6,207.2 293.8,207.0 296.1,206.8 298.3,206.5 300.5,206.1 302.7,205.6 302.7,205.6 303.2,205.5 303.8,205.4 304.3,205.2 304.8,205.1 305.3,205.0 305.8,204.8 306.3,204.7 306.8,204.5 307.3,204.3 307.8,204.1 308.3,203.9 308.9,203.7 309.4,203.4 309.9,203.2 310.4,202.9 310.9,202.7 311.4,202.4 311.9,202.1 312.4,201.8 312.9,201.4 313.4,201.0 314,200.6 314.5,200.1 315,199.6 315.5,198.9 316,198.2 316.5,197.4 317,196.5 317.5,195.5 318,194.1 318.5,192.5 319.1,190.8 319.6,188.7 320.1,186.3" fill="none" stroke="#f19e61" stroke-width="1.35" stroke-linejoin="round" />
<path d="M204.5,298.9 205,282.7 205.5,270.4 205.9,259.8 206.4,250.2 206.9,243.2 207.4,238.6 207.8,235.0 208.3,232.2 208.8,229.9 209.3,227.9 209.8,226.1 210.2,224.6 210.7,223.2 211.2,222.1 211.7,221.2 212.2,220.4 212.6,219.7 213.1,219.2 213.6,218.7 214.1,218.4 214.5,218.2 215,218.0 215.5,217.9 216,217.8 216,217.8 218.2,217.3 220.4,216.8 222.6,216.3 224.8,215.8 227,215.1 229.2,214.4 231.4,213.7 233.6,213.0 235.8,212.4 238.1,211.9 240.3,211.4 242.5,211.0 244.7,210.7 246.9,210.4 249.1,210.1 251.3,209.9 253.5,209.7 255.7,209.4 257.9,209.3 260.1,209.1 262.3,209.0 264.5,208.8 266.7,208.7 269,208.6 271.2,208.5 273.4,208.4 275.6,208.3 277.8,208.2 280,208.0 282.2,207.9 284.4,207.7 286.6,207.5 288.8,207.4 291,207.2 293.2,207.0 295.4,206.7 297.7,206.5 299.9,206.1 302.1,205.6 302.1,205.6 302.6,205.5 303.1,205.3 303.6,205.2 304.1,205.0 304.6,204.9 305.1,204.7 305.6,204.6 306.1,204.4 306.6,204.2 307.1,204.0 307.6,203.8 308.1,203.6 308.6,203.3 309.2,203.1 309.7,202.8 310.2,202.5 310.7,202.2 311.2,201.9 311.7,201.6 312.2,201.2 312.7,200.8 313.2,200.4 313.7,199.9 314.2,199.4 314.7,198.7 315.2,198.0 315.7,197.2 316.2,196.3 316.8,195.2 317.3,193.9 317.8,192.4 318.3,190.6 318.8,188.6 319.3,186.3" fill="none" stroke="#f4b36d" stroke-width="1.35" stroke-linejoin="round" />
<path d="M204.5,298.8 205,282.6 205.4,270.4 205.9,259.8 206.4,250.2 206.9,243.1 207.3,238.5 207.8,234.9 208.3,232.2 208.8,229.9 209.2,227.9 209.7,226.1 210.2,224.5 210.7,223.2 211.1,222.1 211.6,221.2 212.1,220.4 212.6,219.7 213,219.1 213.5,218.7 214,218.4 214.5,218.2 214.9,218.0 215.4,217.9 215.9,217.8 215.9,217.8 218.1,217.3 220.3,216.8 222.5,216.3 224.7,215.7 226.9,215.1 229.1,214.4 231.2,213.7 233.4,213.0 235.6,212.4 237.8,211.9 240,211.4 242.2,211.0 244.4,210.7 246.6,210.4 248.8,210.1 251,209.8 253.2,209.6 255.4,209.4 257.6,209.2 259.7,209.0 261.9,208.9 264.1,208.8 266.3,208.7 268.5,208.6 270.7,208.5 272.9,208.4 275.1,208.2 277.3,208.1 279.5,208.0 281.7,207.8 283.9,207.6 286.1,207.5 288.2,207.3 290.4,207.1 292.6,206.9 294.8,206.7 297,206.4 299.2,206.0 301.4,205.5 301.4,205.5 301.9,205.4 302.4,205.3 302.9,205.1 303.4,205.0 303.9,204.8 304.4,204.7 304.9,204.5 305.4,204.3 305.9,204.2 306.4,203.9 306.9,203.7 307.4,203.5 307.9,203.2 308.4,203.0 308.9,202.7 309.4,202.4 309.9,202.1 310.5,201.8 311,201.5 311.5,201.1 312,200.7 312.5,200.2 313,199.7 313.5,199.2 314,198.5 314.5,197.8 315,197.0 315.5,196.1 316,195.0 316.5,193.7 317,192.2 317.5,190.5 318,188.5 318.5,186.3" fill="none" stroke="#f4c079" stroke-width="1.35" stroke-linejoin="round" />
<path d="M204.5,298.7 205,282.5 205.4,270.3 205.9,259.7 206.4,250.1 206.9,243.0 207.3,238.4 207.8,234.9 208.3,232.1 208.7,229.8 209.2,227.8 209.7,226.0 210.2,224.5 210.6,223.1 211.1,222.0 211.6,221.1 212,220.4 212.5,219.7 213,219.1 213.5,218.7 213.9,218.4 214.4,218.2 214.9,218.0 215.3,217.9 215.8,217.7 215.8,217.7 218,217.3 220.2,216.8 222.4,216.3 224.5,215.7 226.7,215.1 228.9,214.4 231.1,213.7 233.2,213.0 235.4,212.4 237.6,211.9 239.8,211.4 241.9,211.0 244.1,210.7 246.3,210.3 248.5,210.1 250.7,209.8 252.8,209.6 255,209.4 257.2,209.1 259.4,209.0 261.5,208.8 263.7,208.7 265.9,208.6 268.1,208.5 270.2,208.4 272.4,208.3 274.6,208.2 276.8,208.1 279,207.9 281.1,207.8 283.3,207.6 285.5,207.5 287.7,207.3 289.8,207.1 292,206.9 294.2,206.7 296.4,206.4 298.6,206.0 300.7,205.5 300.7,205.5 301.2,205.4 301.7,205.2 302.2,205.1 302.7,204.9 303.2,204.8 303.7,204.6 304.2,204.5 304.7,204.3 305.2,204.1 305.7,203.9 306.2,203.6 306.7,203.4 307.2,203.1 307.7,202.9 308.2,202.6 308.7,202.3 309.2,202.0 309.7,201.7 310.2,201.3 310.7,200.9 311.2,200.5 311.7,200.1 312.2,199.5 312.7,199.0 313.2,198.3 313.7,197.6 314.2,196.8 314.7,195.9 315.2,194.8 315.7,193.6 316.2,192.1 316.7,190.4 317.2,188.5 317.7,186.3" fill="none" stroke="#f3ce85" stroke-width="1.35" stroke-linejoin="round" />
<path d="M204.5,298.6 205,282.4 205.4,270.2 205.9,259.7 206.4,250.1 206.8,242.9 207.3,238.3 207.8,234.8 208.2,232.1 208.7,229.8 209.2,227.8 209.7,226.0 210.1,224.4 210.6,223.1 211.1,222.0 211.5,221.1 212,220.3 212.5,219.7 212.9,219.1 213.4,218.7 213.9,218.4 214.3,218.2 214.8,218.0 215.3,217.9 215.7,217.7 215.7,217.7 217.9,217.3 220.1,216.8 222.2,216.3 224.4,215.7 226.6,215.1 228.7,214.4 230.9,213.7 233,213.0 235.2,212.4 237.4,211.9 239.5,211.4 241.7,211.0 243.8,210.6 246,210.3 248.2,210.0 250.3,209.8 252.5,209.5 254.7,209.3 256.8,209.1 259,208.9 261.1,208.8 263.3,208.7 265.5,208.5 267.6,208.4 269.8,208.3 272,208.2 274.1,208.1 276.3,208.0 278.4,207.9 280.6,207.7 282.8,207.6 284.9,207.4 287.1,207.3 289.2,207.1 291.4,206.9 293.6,206.7 295.7,206.4 297.9,206.0 300.1,205.5 300.1,205.5 300.6,205.3 301.1,205.2 301.5,205.0 302,204.9 302.5,204.7 303,204.6 303.5,204.4 304,204.2 304.5,204.0 305,203.8 305.5,203.6 306,203.3 306.5,203.1 307,202.8 307.5,202.5 308,202.2 308.5,201.9 309,201.5 309.5,201.2 310,200.8 310.5,200.4 311,199.9 311.5,199.4 312,198.8 312.5,198.2 313,197.4 313.5,196.6 313.9,195.7 314.4,194.7 314.9,193.4 315.4,192.0 315.9,190.3 316.4,188.4 316.9,186.3" fill="none" stroke="#f3db91" stroke-width="1.35" stroke-linejoin="round" />
<path d="M204.5,298.5 205,282.4 205.4,270.2 205.9,259.7 206.4,250.0 206.8,242.8 207.3,238.3 207.8,234.8 208.2,232.0 208.7,229.8 209.2,227.8 209.6,226.0 210.1,224.4 210.5,223.0 211,221.9 211.5,221.1 211.9,220.3 212.4,219.6 212.9,219.1 213.3,218.6 213.8,218.3 214.3,218.1 214.7,218.0 215.2,217.8 215.7,217.7 215.7,217.7 217.8,217.3 220,216.8 222.1,216.3 224.3,215.7 226.4,215.1 228.5,214.4 230.7,213.7 232.8,213.0 235,212.5 237.1,211.9 239.3,211.4 241.4,211.0 243.6,210.6 245.7,210.3 247.9,210.0 250,209.7 252.2,209.5 254.3,209.3 256.5,209.1 258.6,208.9 260.7,208.7 262.9,208.6 265,208.5 267.2,208.4 269.3,208.3 271.5,208.2 273.6,208.1 275.8,208.0 277.9,207.8 280.1,207.7 282.2,207.5 284.4,207.4 286.5,207.2 288.7,207.1 290.8,206.9 292.9,206.6 295.1,206.4 297.2,205.9 299.4,205.4 299.4,205.4 299.9,205.3 300.4,205.1 300.9,205.0 301.4,204.8 301.9,204.7 302.3,204.5 302.8,204.3 303.3,204.2 303.8,204.0 304.3,203.7 304.8,203.5 305.3,203.2 305.8,203.0 306.3,202.7 306.8,202.4 307.3,202.1 307.8,201.8 308.3,201.4 308.7,201.1 309.2,200.7 309.7,200.2 310.2,199.7 310.7,199.2 311.2,198.6 311.7,198.0 312.2,197.3 312.7,196.4 313.2,195.5 313.7,194.5 314.2,193.3 314.7,191.8 315.1,190.2 315.6,188.4 316.1,186.3" fill="none" stroke="#f0e5a9" stroke-width="1.35" stroke-linejoin="round" />
<path d="M204.5,298.5 205,282.3 205.4,270.1 205.9,259.7 206.3,250.0 206.8,242.7 207.3,238.2 207.7,234.7 208.2,232.0 208.7,229.7 209.1,227.7 209.6,225.9 210,224.3 210.5,223.0 211,221.9 211.4,221.0 211.9,220.3 212.4,219.6 212.8,219.1 213.3,218.6 213.7,218.3 214.2,218.1 214.7,218.0 215.1,217.8 215.6,217.7 215.6,217.7 217.7,217.3 219.8,216.8 222,216.3 224.1,215.7 226.2,215.1 228.4,214.4 230.5,213.7 232.6,213.1 234.8,212.5 236.9,211.9 239,211.4 241.2,211.0 243.3,210.6 245.4,210.3 247.6,210.0 249.7,209.7 251.8,209.5 254,209.2 256.1,209.0 258.2,208.8 260.4,208.7 262.5,208.5 264.6,208.4 266.7,208.3 268.9,208.3 271,208.2 273.1,208.1 275.3,207.9 277.4,207.8 279.5,207.7 281.7,207.5 283.8,207.4 285.9,207.2 288.1,207.0 290.2,206.8 292.3,206.6 294.5,206.3 296.6,205.9 298.7,205.4 298.7,205.4 299.2,205.2 299.7,205.1 300.2,204.9 300.7,204.8 301.2,204.6 301.7,204.5 302.1,204.3 302.6,204.1 303.1,203.9 303.6,203.7 304.1,203.4 304.6,203.2 305.1,202.9 305.6,202.6 306.1,202.3 306.5,202.0 307,201.7 307.5,201.3 308,200.9 308.5,200.5 309,200.1 309.5,199.6 310,199.1 310.5,198.5 310.9,197.8 311.4,197.1 311.9,196.3 312.4,195.4 312.9,194.3 313.4,193.1 313.9,191.7 314.4,190.1 314.9,188.3 315.3,186.3" fill="none" stroke="#eaebcb" stroke-width="1.35" stroke-linejoin="round" />
<path d="M204.5,298.4 205,282.2 205.4,270.1 205.9,259.6 206.3,250.0 206.8,242.6 207.3,238.1 207.7,234.7 208.2,232.0 208.6,229.7 209.1,227.7 209.5,225.9 210,224.3 210.5,222.9 210.9,221.8 211.4,221.0 211.8,220.2 212.3,219.6 212.8,219.0 213.2,218.6 213.7,218.3 214.1,218.1 214.6,218.0 215,217.8 215.5,217.7 215.5,217.7 217.6,217.3 219.7,216.8 221.9,216.3 224,215.7 226.1,215.1 228.2,214.4 230.3,213.7 232.4,213.1 234.6,212.5 236.7,211.9 238.8,211.4 240.9,211.0 243,210.6 245.1,210.3 247.3,210.0 249.4,209.7 251.5,209.4 253.6,209.2 255.7,209.0 257.8,208.8 260,208.6 262.1,208.5 264.2,208.4 266.3,208.3 268.4,208.2 270.5,208.1 272.7,208.0 274.8,207.9 276.9,207.8 279,207.6 281.1,207.5 283.2,207.3 285.4,207.2 287.5,207.0 289.6,206.8 291.7,206.6 293.8,206.3 295.9,205.9 298.1,205.3 298.1,205.3 298.5,205.2 299,205.1 299.5,204.9 300,204.7 300.5,204.6 301,204.4 301.5,204.2 301.9,204.0 302.4,203.8 302.9,203.6 303.4,203.4 303.9,203.1 304.4,202.8 304.8,202.5 305.3,202.2 305.8,201.9 306.3,201.6 306.8,201.2 307.3,200.8 307.8,200.4 308.2,200.0 308.7,199.5 309.2,198.9 309.7,198.3 310.2,197.7 310.7,197.0 311.2,196.1 311.6,195.2 312.1,194.2 312.6,193.0 313.1,191.6 313.6,190.0 314.1,188.3 314.6,186.3" fill="none" stroke="#e4f1ed" stroke-width="1.35" stroke-linejoin="round" />
<path d="M204.5,298.4 205,282.1 205.4,270.0 205.9,259.6 206.3,249.9 206.8,242.6 207.2,238.1 207.7,234.6 208.1,231.9 208.6,229.7 209.1,227.7 209.5,225.9 210,224.2 210.4,222.9 210.9,221.8 211.3,221.0 211.8,220.2 212.2,219.6 212.7,219.0 213.2,218.6 213.6,218.3 214.1,218.1 214.5,217.9 215,217.8 215.4,217.7 215.4,217.7 217.5,217.3 219.6,216.8 221.7,216.3 223.8,215.7 225.9,215.1 228,214.4 230.1,213.7 232.2,213.1 234.3,212.5 236.4,211.9 238.5,211.4 240.6,211.0 242.7,210.6 244.8,210.3 246.9,210.0 249,209.7 251.2,209.4 253.3,209.2 255.4,208.9 257.5,208.7 259.6,208.6 261.7,208.5 263.8,208.4 265.9,208.3 268,208.2 270.1,208.1 272.2,208.0 274.3,207.9 276.4,207.7 278.5,207.6 280.6,207.5 282.7,207.3 284.8,207.2 286.9,207.0 289,206.8 291.1,206.6 293.2,206.3 295.3,205.9 297.4,205.3 297.4,205.3 297.9,205.2 298.3,205.0 298.8,204.9 299.3,204.7 299.8,204.5 300.3,204.4 300.8,204.2 301.2,204.0 301.7,203.8 302.2,203.6 302.7,203.3 303.2,203.0 303.6,202.8 304.1,202.5 304.6,202.1 305.1,201.8 305.6,201.5 306.1,201.1 306.5,200.7 307,200.3 307.5,199.9 308,199.4 308.5,198.8 309,198.2 309.4,197.6 309.9,196.8 310.4,196.0 310.9,195.1 311.4,194.0 311.8,192.9 312.3,191.5 312.8,190.0 313.3,188.2 313.8,186.3" fill="none" stroke="#d1e9f0" stroke-width="1.35" stroke-linejoin="round" />
<path d="M204.5,298.3 205,282.1 205.4,270.0 205.9,259.6 206.3,249.9 206.8,242.5 207.2,238.0 207.7,234.6 208.1,231.9 208.6,229.6 209,227.6 209.5,225.8 209.9,224.2 210.4,222.8 210.8,221.7 211.3,220.9 211.7,220.2 212.2,219.5 212.6,219.0 213.1,218.6 213.5,218.3 214,218.1 214.4,217.9 214.9,217.8 215.3,217.7 215.3,217.7 217.4,217.3 219.5,216.8 221.6,216.3 223.7,215.7 225.8,215.1 227.9,214.4 230,213.7 232,213.1 234.1,212.5 236.2,211.9 238.3,211.4 240.4,211.0 242.5,210.6 244.6,210.3 246.6,209.9 248.7,209.6 250.8,209.4 252.9,209.1 255,208.9 257.1,208.7 259.2,208.5 261.2,208.4 263.3,208.3 265.4,208.2 267.5,208.1 269.6,208.0 271.7,207.9 273.8,207.8 275.9,207.7 277.9,207.6 280,207.4 282.1,207.3 284.2,207.1 286.3,207.0 288.4,206.8 290.5,206.6 292.5,206.3 294.6,205.8 296.7,205.3 296.7,205.3 297.2,205.1 297.7,205.0 298.1,204.8 298.6,204.7 299.1,204.5 299.6,204.3 300.1,204.1 300.5,204.0 301,203.7 301.5,203.5 302,203.3 302.5,203.0 302.9,202.7 303.4,202.4 303.9,202.1 304.4,201.7 304.8,201.4 305.3,201.0 305.8,200.6 306.3,200.2 306.8,199.8 307.2,199.2 307.7,198.7 308.2,198.1 308.7,197.4 309.2,196.7 309.6,195.9 310.1,194.9 310.6,193.9 311.1,192.7 311.5,191.4 312,189.9 312.5,188.2 313,186.3" fill="none" stroke="#bbddea" stroke-width="1.35" stroke-linejoin="round" />
<path d="M204.5,298.3 204.9,282.0 205.4,269.9 205.8,259.6 206.3,249.9 206.7,242.5 207.2,238.0 207.6,234.6 208.1,231.9 208.5,229.6 209,227.6 209.4,225.8 209.9,224.2 210.3,222.8 210.8,221.7 211.2,220.9 211.7,220.2 212.1,219.5 212.6,219.0 213,218.6 213.5,218.3 213.9,218.1 214.4,217.9 214.8,217.8 215.3,217.7 215.3,217.7 217.3,217.2 219.4,216.8 221.5,216.3 223.6,215.7 225.6,215.1 227.7,214.4 229.8,213.7 231.8,213.1 233.9,212.5 236,211.9 238.1,211.4 240.1,211.0 242.2,210.6 244.3,210.3 246.3,209.9 248.4,209.6 250.5,209.4 252.5,209.1 254.6,208.9 256.7,208.7 258.8,208.5 260.8,208.4 262.9,208.3 265,208.2 267,208.1 269.1,208.0 271.2,207.9 273.3,207.8 275.3,207.7 277.4,207.6 279.5,207.4 281.5,207.3 283.6,207.1 285.7,207.0 287.8,206.8 289.8,206.5 291.9,206.2 294,205.8 296,205.3 296,205.3 296.5,205.1 297,205.0 297.5,204.8 297.9,204.6 298.4,204.5 298.9,204.3 299.4,204.1 299.8,203.9 300.3,203.7 300.8,203.5 301.3,203.2 301.7,202.9 302.2,202.6 302.7,202.3 303.2,202.0 303.6,201.7 304.1,201.3 304.6,201.0 305.1,200.6 305.5,200.1 306,199.7 306.5,199.1 307,198.6 307.4,198.0 307.9,197.3 308.4,196.6 308.9,195.7 309.3,194.8 309.8,193.8 310.3,192.6 310.8,191.3 311.2,189.8 311.7,188.2 312.2,186.3" fill="none" stroke="#a5d0e4" stroke-width="1.35" stroke-linejoin="round" />
<path d="M204.5,298.2 204.9,281.9 205.4,269.9 205.8,259.6 206.3,249.8 206.7,242.4 207.2,238.0 207.6,234.5 208.1,231.8 208.5,229.6 209,227.6 209.4,225.8 209.8,224.2 210.3,222.8 210.7,221.7 211.2,220.9 211.6,220.1 212.1,219.5 212.5,219.0 213,218.6 213.4,218.3 213.9,218.1 214.3,217.9 214.7,217.8 215.2,217.7 215.2,217.7 217.2,217.2 219.3,216.8 221.4,216.2 223.4,215.7 225.5,215.1 227.5,214.4 229.6,213.7 231.6,213.1 233.7,212.5 235.8,211.9 237.8,211.4 239.9,211.0 241.9,210.6 244,210.2 246,209.9 248.1,209.6 250.1,209.3 252.2,209.1 254.3,208.8 256.3,208.6 258.4,208.5 260.4,208.4 262.5,208.2 264.5,208.2 266.6,208.1 268.6,208.0 270.7,207.9 272.8,207.8 274.8,207.7 276.9,207.5 278.9,207.4 281,207.3 283,207.1 285.1,206.9 287.2,206.7 289.2,206.5 291.3,206.2 293.3,205.8 295.4,205.2 295.4,205.2 295.8,205.1 296.3,204.9 296.8,204.8 297.3,204.6 297.7,204.4 298.2,204.3 298.7,204.1 299.1,203.9 299.6,203.7 300.1,203.4 300.6,203.2 301,202.9 301.5,202.6 302,202.3 302.4,202.0 302.9,201.6 303.4,201.2 303.9,200.9 304.3,200.5 304.8,200.0 305.3,199.6 305.8,199.0 306.2,198.5 306.7,197.9 307.2,197.2 307.6,196.5 308.1,195.6 308.6,194.7 309.1,193.7 309.5,192.5 310,191.2 310.5,189.8 310.9,188.1 311.4,186.3" fill="none" stroke="#90c1dc" stroke-width="1.35" stroke-linejoin="round" />
<path d="M204.5,298.2 204.9,281.9 205.4,269.9 205.8,259.5 206.3,249.8 206.7,242.4 207.2,237.9 207.6,234.5 208,231.8 208.5,229.6 208.9,227.6 209.4,225.8 209.8,224.1 210.2,222.8 210.7,221.7 211.1,220.8 211.6,220.1 212,219.5 212.5,219.0 212.9,218.6 213.3,218.3 213.8,218.1 214.2,217.9 214.7,217.8 215.1,217.6 215.1,217.6 217.2,217.2 219.2,216.8 221.2,216.2 223.3,215.7 225.3,215.1 227.4,214.4 229.4,213.7 231.4,213.1 233.5,212.5 235.5,211.9 237.6,211.4 239.6,211.0 241.6,210.6 243.7,210.2 245.7,209.9 247.8,209.6 249.8,209.3 251.8,209.1 253.9,208.8 255.9,208.6 258,208.4 260,208.3 262.1,208.2 264.1,208.1 266.1,208.0 268.2,208.0 270.2,207.9 272.3,207.8 274.3,207.6 276.3,207.5 278.4,207.4 280.4,207.2 282.5,207.1 284.5,206.9 286.5,206.7 288.6,206.5 290.6,206.2 292.7,205.8 294.7,205.2 294.7,205.2 295.2,205.1 295.6,204.9 296.1,204.7 296.6,204.6 297,204.4 297.5,204.2 298,204.0 298.5,203.8 298.9,203.6 299.4,203.4 299.9,203.1 300.3,202.8 300.8,202.5 301.3,202.2 301.7,201.9 302.2,201.5 302.7,201.2 303.1,200.8 303.6,200.4 304.1,200.0 304.5,199.5 305,199.0 305.5,198.4 305.9,197.8 306.4,197.1 306.9,196.4 307.3,195.5 307.8,194.6 308.3,193.6 308.8,192.5 309.2,191.2 309.7,189.7 310.2,188.1 310.6,186.3" fill="none" stroke="#7cb1d5" stroke-width="1.35" stroke-linejoin="round" />
<path d="M204.5,298.1 204.9,281.8 205.4,269.9 205.8,259.5 206.3,249.8 206.7,242.3 207.1,237.9 207.6,234.5 208,231.8 208.5,229.5 208.9,227.6 209.3,225.7 209.8,224.1 210.2,222.7 210.6,221.6 211.1,220.8 211.5,220.1 212,219.5 212.4,219.0 212.8,218.5 213.3,218.2 213.7,218.1 214.2,217.9 214.6,217.8 215,217.6 215,217.6 217.1,217.2 219.1,216.8 221.1,216.2 223.1,215.6 225.2,215.0 227.2,214.4 229.2,213.7 231.2,213.1 233.3,212.5 235.3,211.9 237.3,211.4 239.3,211.0 241.4,210.6 243.4,210.2 245.4,209.9 247.4,209.6 249.5,209.3 251.5,209.0 253.5,208.8 255.5,208.6 257.6,208.4 259.6,208.3 261.6,208.2 263.7,208.1 265.7,208.0 267.7,207.9 269.7,207.8 271.8,207.7 273.8,207.6 275.8,207.5 277.8,207.4 279.9,207.2 281.9,207.1 283.9,206.9 285.9,206.7 288,206.5 290,206.2 292,205.8 294,205.2 294,205.2 294.5,205.0 295,204.9 295.4,204.7 295.9,204.6 296.4,204.4 296.8,204.2 297.3,204.0 297.8,203.8 298.2,203.6 298.7,203.3 299.1,203.1 299.6,202.8 300.1,202.5 300.5,202.2 301,201.8 301.5,201.5 301.9,201.1 302.4,200.8 302.9,200.3 303.3,199.9 303.8,199.4 304.3,198.9 304.7,198.3 305.2,197.7 305.7,197.0 306.1,196.3 306.6,195.5 307,194.5 307.5,193.5 308,192.4 308.4,191.1 308.9,189.7 309.4,188.1 309.8,186.3" fill="none" stroke="#68a0cd" stroke-width="1.35" stroke-linejoin="round" />
<path d="M204.5,298.1 204.9,281.8 205.4,269.8 205.8,259.5 206.2,249.8 206.7,242.3 207.1,237.9 207.5,234.5 208,231.8 208.4,229.5 208.9,227.5 209.3,225.7 209.7,224.1 210.2,222.7 210.6,221.6 211,220.8 211.5,220.1 211.9,219.5 212.3,219.0 212.8,218.5 213.2,218.2 213.6,218.0 214.1,217.9 214.5,217.8 215,217.6 215,217.6 217,217.2 219,216.8 221,216.2 223,215.6 225,215.0 227,214.4 229,213.8 231,213.1 233,212.5 235.1,211.9 237.1,211.4 239.1,211.0 241.1,210.6 243.1,210.2 245.1,209.9 247.1,209.6 249.1,209.3 251.1,209.0 253.2,208.8 255.2,208.6 257.2,208.4 259.2,208.3 261.2,208.2 263.2,208.1 265.2,208.0 267.2,207.9 269.2,207.8 271.3,207.7 273.3,207.6 275.3,207.5 277.3,207.4 279.3,207.2 281.3,207.1 283.3,206.9 285.3,206.7 287.3,206.5 289.3,206.2 291.4,205.8 293.4,205.2 293.4,205.2 293.8,205.0 294.3,204.9 294.8,204.7 295.2,204.5 295.7,204.4 296.1,204.2 296.6,204.0 297.1,203.8 297.5,203.6 298,203.3 298.4,203.1 298.9,202.8 299.4,202.5 299.8,202.1 300.3,201.8 300.7,201.5 301.2,201.1 301.7,200.7 302.1,200.3 302.6,199.8 303.1,199.4 303.5,198.8 304,198.2 304.4,197.6 304.9,197.0 305.4,196.2 305.8,195.4 306.3,194.5 306.7,193.4 307.2,192.3 307.7,191.0 308.1,189.6 308.6,188.0 309,186.3" fill="none" stroke="#5490c5" stroke-width="1.35" stroke-linejoin="round" />
<path d="M204.5,298.1 204.9,281.8 205.4,269.8 205.8,259.5 206.2,249.7 206.7,242.2 207.1,237.8 207.5,234.4 208,231.7 208.4,229.5 208.8,227.5 209.3,225.7 209.7,224.1 210.1,222.7 210.6,221.6 211,220.8 211.4,220.1 211.8,219.5 212.3,218.9 212.7,218.5 213.1,218.2 213.6,218.0 214,217.9 214.4,217.7 214.9,217.6 214.9,217.6 216.9,217.2 218.9,216.8 220.9,216.2 222.9,215.6 224.9,215.0 226.8,214.4 228.8,213.8 230.8,213.1 232.8,212.5 234.8,211.9 236.8,211.4 238.8,211.0 240.8,210.6 242.8,210.2 244.8,209.9 246.8,209.6 248.8,209.3 250.8,209.0 252.8,208.7 254.8,208.5 256.8,208.4 258.8,208.2 260.8,208.1 262.8,208.1 264.8,208.0 266.8,207.9 268.8,207.8 270.7,207.7 272.7,207.6 274.7,207.5 276.7,207.3 278.7,207.2 280.7,207.1 282.7,206.9 284.7,206.7 286.7,206.5 288.7,206.2 290.7,205.7 292.7,205.2 292.7,205.2 293.2,205.0 293.6,204.8 294.1,204.7 294.5,204.5 295,204.3 295.4,204.2 295.9,204.0 296.4,203.8 296.8,203.5 297.3,203.3 297.7,203.0 298.2,202.7 298.6,202.4 299.1,202.1 299.6,201.8 300,201.4 300.5,201.0 300.9,200.7 301.4,200.2 301.9,199.8 302.3,199.3 302.8,198.8 303.2,198.2 303.7,197.6 304.1,196.9 304.6,196.1 305.1,195.3 305.5,194.4 306,193.4 306.4,192.3 306.9,191.0 307.3,189.6 307.8,188.0 308.3,186.3" fill="none" stroke="#4a85bd" stroke-width="1.35" stroke-linejoin="round" />
<path d="M204.5,298.0 204.9,281.7 205.4,269.8 205.8,259.5 206.2,249.7 206.6,242.2 207.1,237.8 207.5,234.4 207.9,231.7 208.4,229.5 208.8,227.5 209.2,225.7 209.6,224.1 210.1,222.7 210.5,221.6 210.9,220.8 211.4,220.1 211.8,219.5 212.2,218.9 212.7,218.5 213.1,218.2 213.5,218.0 213.9,217.9 214.4,217.7 214.8,217.6 214.8,217.6 216.8,217.2 218.8,216.8 220.7,216.2 222.7,215.6 224.7,215.0 226.7,214.4 228.7,213.8 230.6,213.1 232.6,212.5 234.6,211.9 236.6,211.4 238.6,211.0 240.5,210.6 242.5,210.2 244.5,209.9 246.5,209.5 248.5,209.3 250.4,209.0 252.4,208.7 254.4,208.5 256.4,208.4 258.4,208.2 260.3,208.1 262.3,208.0 264.3,208.0 266.3,207.9 268.3,207.8 270.2,207.7 272.2,207.6 274.2,207.5 276.2,207.3 278.2,207.2 280.1,207.1 282.1,206.9 284.1,206.7 286.1,206.5 288.1,206.2 290,205.7 292,205.1 292,205.1 292.5,205.0 292.9,204.8 293.4,204.7 293.8,204.5 294.3,204.3 294.8,204.1 295.2,203.9 295.7,203.7 296.1,203.5 296.6,203.3 297,203.0 297.5,202.7 297.9,202.4 298.4,202.1 298.8,201.7 299.3,201.4 299.8,201.0 300.2,200.6 300.7,200.2 301.1,199.7 301.6,199.3 302,198.7 302.5,198.1 302.9,197.5 303.4,196.8 303.8,196.1 304.3,195.2 304.7,194.3 305.2,193.3 305.7,192.2 306.1,191.0 306.6,189.5 307,188.0 307.5,186.3" fill="none" stroke="#447bb5" stroke-width="1.35" stroke-linejoin="round" />
<path d="M204.5,298.0 204.9,281.7 205.4,269.8 205.8,259.5 206.2,249.7 206.6,242.2 207.1,237.8 207.5,234.4 207.9,231.7 208.3,229.5 208.8,227.5 209.2,225.7 209.6,224.0 210,222.7 210.5,221.6 210.9,220.8 211.3,220.1 211.7,219.5 212.2,218.9 212.6,218.5 213,218.2 213.4,218.0 213.9,217.9 214.3,217.7 214.7,217.6 214.7,217.6 216.7,217.2 218.6,216.8 220.6,216.2 222.6,215.6 224.5,215.0 226.5,214.4 228.5,213.8 230.4,213.1 232.4,212.5 234.4,211.9 236.3,211.4 238.3,211.0 240.3,210.6 242.2,210.2 244.2,209.9 246.2,209.5 248.1,209.2 250.1,209.0 252.1,208.7 254,208.5 256,208.3 258,208.2 259.9,208.1 261.9,208.0 263.8,207.9 265.8,207.9 267.8,207.8 269.7,207.7 271.7,207.6 273.7,207.4 275.6,207.3 277.6,207.2 279.6,207.0 281.5,206.9 283.5,206.7 285.5,206.5 287.4,206.2 289.4,205.7 291.4,205.1 291.4,205.1 291.8,205.0 292.3,204.8 292.7,204.7 293.2,204.5 293.6,204.3 294.1,204.1 294.5,203.9 295,203.7 295.4,203.5 295.9,203.2 296.3,203.0 296.8,202.7 297.2,202.4 297.7,202.1 298.1,201.7 298.6,201.3 299,201.0 299.5,200.6 299.9,200.2 300.4,199.7 300.8,199.2 301.3,198.7 301.7,198.1 302.2,197.5 302.6,196.8 303.1,196.0 303.5,195.2 304,194.3 304.4,193.3 304.9,192.2 305.3,190.9 305.8,189.5 306.2,188.0 306.7,186.3" fill="none" stroke="#3e71ad" stroke-width="1.35" stroke-linejoin="round" />
<path d="M204.5,298.0 204.9,281.7 205.3,269.8 205.8,259.5 206.2,249.7 206.6,242.2 207,237.8 207.5,234.4 207.9,231.7 208.3,229.5 208.7,227.5 209.1,225.7 209.6,224.0 210,222.6 210.4,221.6 210.8,220.8 211.3,220.1 211.7,219.4 212.1,218.9 212.5,218.5 212.9,218.2 213.4,218.0 213.8,217.9 214.2,217.7 214.6,217.6 214.6,217.6 216.6,217.2 218.5,216.8 220.5,216.2 222.4,215.6 224.4,215.0 226.3,214.4 228.3,213.8 230.2,213.1 232.2,212.5 234.1,211.9 236.1,211.4 238,211.0 240,210.6 241.9,210.2 243.9,209.9 245.8,209.5 247.8,209.2 249.7,209.0 251.7,208.7 253.6,208.5 255.6,208.3 257.5,208.2 259.5,208.1 261.4,208.0 263.4,207.9 265.3,207.9 267.3,207.8 269.2,207.7 271.2,207.6 273.1,207.4 275.1,207.3 277,207.2 279,207.0 280.9,206.9 282.9,206.7 284.8,206.5 286.8,206.2 288.7,205.7 290.7,205.1 290.7,205.1 291.1,205.0 291.6,204.8 292,204.6 292.5,204.5 292.9,204.3 293.4,204.1 293.8,203.9 294.3,203.7 294.7,203.5 295.2,203.2 295.6,203.0 296.1,202.7 296.5,202.4 297,202.0 297.4,201.7 297.8,201.3 298.3,200.9 298.7,200.6 299.2,200.1 299.6,199.7 300.1,199.2 300.5,198.6 301,198.0 301.4,197.4 301.9,196.7 302.3,196.0 302.8,195.2 303.2,194.2 303.7,193.2 304.1,192.1 304.6,190.9 305,189.5 305.5,188.0 305.9,186.3" fill="none" stroke="#3868a5" stroke-width="1.35" stroke-linejoin="round" />
<path d="M204.5,298.0 204.9,281.7 205.3,269.7 205.8,259.5 206.2,249.7 206.6,242.2 207,237.8 207.4,234.4 207.9,231.7 208.3,229.5 208.7,227.5 209.1,225.7 209.5,224.0 209.9,222.6 210.4,221.5 210.8,220.8 211.2,220.1 211.6,219.4 212,218.9 212.5,218.5 212.9,218.2 213.3,218.0 213.7,217.9 214.1,217.7 214.6,217.6 214.6,217.6 216.5,217.2 218.4,216.8 220.4,216.2 222.3,215.6 224.2,215.0 226.2,214.4 228.1,213.8 230,213.1 232,212.5 233.9,211.9 235.8,211.4 237.8,211.0 239.7,210.6 241.6,210.2 243.6,209.8 245.5,209.5 247.5,209.2 249.4,209.0 251.3,208.7 253.3,208.5 255.2,208.3 257.1,208.2 259.1,208.1 261,208.0 262.9,207.9 264.9,207.8 266.8,207.8 268.7,207.7 270.7,207.5 272.6,207.4 274.5,207.3 276.5,207.2 278.4,207.0 280.3,206.9 282.3,206.7 284.2,206.4 286.2,206.2 288.1,205.7 290,205.1 290,205.1 290.5,205.0 290.9,204.8 291.4,204.6 291.8,204.5 292.2,204.3 292.7,204.1 293.1,203.9 293.6,203.7 294,203.5 294.5,203.2 294.9,202.9 295.3,202.7 295.8,202.3 296.2,202.0 296.7,201.7 297.1,201.3 297.6,200.9 298,200.5 298.5,200.1 298.9,199.7 299.3,199.2 299.8,198.6 300.2,198.0 300.7,197.4 301.1,196.7 301.6,196.0 302,195.1 302.4,194.2 302.9,193.2 303.3,192.1 303.8,190.9 304.2,189.5 304.7,188.0 305.1,186.3" fill="none" stroke="#335f9e" stroke-width="1.35" stroke-linejoin="round" />
<path d="M204.5,298.0 204.9,281.7 205.3,269.7 205.7,259.5 206.2,249.7 206.6,242.1 207,237.7 207.4,234.4 207.8,231.7 208.2,229.5 208.7,227.5 209.1,225.7 209.5,224.0 209.9,222.6 210.3,221.5 210.7,220.7 211.2,220.1 211.6,219.4 212,218.9 212.4,218.5 212.8,218.2 213.2,218.0 213.7,217.9 214.1,217.7 214.5,217.6 214.5,217.6 216.4,217.2 218.3,216.8 220.2,216.2 222.2,215.6 224.1,215.0 226,214.4 227.9,213.8 229.8,213.1 231.8,212.5 233.7,211.9 235.6,211.4 237.5,211.0 239.4,210.6 241.4,210.2 243.3,209.8 245.2,209.5 247.1,209.2 249,208.9 251,208.7 252.9,208.5 254.8,208.3 256.7,208.2 258.6,208.1 260.6,208.0 262.5,207.9 264.4,207.8 266.3,207.8 268.2,207.7 270.2,207.5 272.1,207.4 274,207.3 275.9,207.2 277.8,207.0 279.8,206.9 281.7,206.7 283.6,206.4 285.5,206.2 287.4,205.7 289.4,205.1 289.4,205.1 289.8,205.0 290.2,204.8 290.7,204.6 291.1,204.5 291.6,204.3 292,204.1 292.4,203.9 292.9,203.7 293.3,203.5 293.8,203.2 294.2,202.9 294.6,202.6 295.1,202.3 295.5,202.0 296,201.7 296.4,201.3 296.8,200.9 297.3,200.5 297.7,200.1 298.2,199.6 298.6,199.1 299,198.6 299.5,198.0 299.9,197.4 300.4,196.7 300.8,195.9 301.2,195.1 301.7,194.2 302.1,193.2 302.6,192.1 303,190.9 303.4,189.5 303.9,188.0 304.3,186.3" fill="none" stroke="#315a98" stroke-width="1.35" stroke-linejoin="round" />
<path d="M204.5,298.0 204.9,281.7 205.3,269.7 205.7,259.5 206.2,249.7 206.6,242.1 207,237.7 207.4,234.4 207.8,231.7 208.2,229.5 208.6,227.5 209,225.7 209.5,224.0 209.9,222.6 210.3,221.5 210.7,220.7 211.1,220.1 211.5,219.4 211.9,218.9 212.3,218.5 212.8,218.2 213.2,218.0 213.6,217.9 214,217.7 214.4,217.6 214.4,217.6 216.3,217.2 218.2,216.8 220.1,216.2 222,215.6 223.9,215.0 225.8,214.4 227.7,213.8 229.6,213.1 231.5,212.5 233.4,211.9 235.4,211.4 237.3,211.0 239.2,210.6 241.1,210.2 243,209.8 244.9,209.5 246.8,209.2 248.7,208.9 250.6,208.7 252.5,208.5 254.4,208.3 256.3,208.2 258.2,208.1 260.1,208.0 262,207.9 263.9,207.8 265.8,207.8 267.7,207.7 269.6,207.5 271.5,207.4 273.4,207.3 275.3,207.2 277.3,207.0 279.2,206.9 281.1,206.7 283,206.4 284.9,206.1 286.8,205.7 288.7,205.1 288.7,205.1 289.1,205.0 289.6,204.8 290,204.6 290.4,204.4 290.9,204.3 291.3,204.1 291.7,203.9 292.2,203.7 292.6,203.5 293.1,203.2 293.5,202.9 293.9,202.6 294.4,202.3 294.8,202.0 295.2,201.6 295.7,201.3 296.1,200.9 296.5,200.5 297,200.1 297.4,199.6 297.9,199.1 298.3,198.6 298.7,198.0 299.2,197.4 299.6,196.7 300,195.9 300.5,195.1 300.9,194.2 301.4,193.2 301.8,192.1 302.2,190.8 302.7,189.5 303.1,187.9 303.5,186.3" fill="none" stroke="#2f5492" stroke-width="1.35" stroke-linejoin="round" />
<path d="M204.5,298.0 204.9,281.7 205.3,269.7 205.7,259.5 206.1,249.7 206.5,242.1 207,237.7 207.4,234.4 207.8,231.7 208.2,229.5 208.6,227.5 209,225.6 209.4,224.0 209.8,222.6 210.2,221.5 210.6,220.7 211,220.0 211.5,219.4 211.9,218.9 212.3,218.5 212.7,218.2 213.1,218.0 213.5,217.9 213.9,217.7 214.3,217.6 214.3,217.6 216.2,217.2 218.1,216.8 220,216.2 221.9,215.6 223.8,215.0 225.7,214.4 227.6,213.8 229.4,213.1 231.3,212.5 233.2,211.9 235.1,211.4 237,211.0 238.9,210.6 240.8,210.2 242.7,209.8 244.6,209.5 246.4,209.2 248.3,208.9 250.2,208.7 252.1,208.5 254,208.3 255.9,208.2 257.8,208.1 259.7,208.0 261.6,207.9 263.4,207.8 265.3,207.7 267.2,207.7 269.1,207.5 271,207.4 272.9,207.3 274.8,207.2 276.7,207.0 278.6,206.9 280.5,206.7 282.3,206.4 284.2,206.1 286.1,205.7 288,205.1 288,205.1 288.4,204.9 288.9,204.8 289.3,204.6 289.7,204.4 290.2,204.3 290.6,204.1 291,203.9 291.5,203.7 291.9,203.5 292.3,203.2 292.8,202.9 293.2,202.6 293.6,202.3 294.1,202.0 294.5,201.6 294.9,201.3 295.4,200.9 295.8,200.5 296.2,200.1 296.7,199.6 297.1,199.1 297.5,198.6 298,198.0 298.4,197.3 298.8,196.7 299.3,195.9 299.7,195.1 300.1,194.2 300.6,193.1 301,192.1 301.4,190.8 301.9,189.5 302.3,187.9 302.7,186.3" fill="none" stroke="#2e4f8c" stroke-width="1.35" stroke-linejoin="round" />
<path d="M204.5,298.0 204.9,281.7 205.3,269.7 205.7,259.5 206.1,249.7 206.5,242.1 206.9,237.7 207.3,234.4 207.7,231.7 208.2,229.5 208.6,227.5 209,225.6 209.4,224.0 209.8,222.6 210.2,221.5 210.6,220.7 211,220.0 211.4,219.4 211.8,218.9 212.2,218.5 212.6,218.2 213,218.0 213.4,217.9 213.8,217.7 214.2,217.6 214.2,217.6 216.1,217.2 218,216.8 219.9,216.2 221.7,215.6 223.6,215.0 225.5,214.4 227.4,213.8 229.2,213.1 231.1,212.5 233,211.9 234.9,211.4 236.7,211.0 238.6,210.6 240.5,210.2 242.4,209.8 244.2,209.5 246.1,209.2 248,208.9 249.9,208.7 251.7,208.5 253.6,208.3 255.5,208.2 257.4,208.1 259.2,208.0 261.1,207.9 263,207.8 264.9,207.7 266.7,207.7 268.6,207.5 270.5,207.4 272.3,207.3 274.2,207.2 276.1,207.0 278,206.9 279.8,206.7 281.7,206.4 283.6,206.1 285.5,205.7 287.3,205.1 287.3,205.1 287.8,204.9 288.2,204.8 288.6,204.6 289.1,204.4 289.5,204.3 289.9,204.1 290.4,203.9 290.8,203.7 291.2,203.5 291.6,203.2 292.1,202.9 292.5,202.6 292.9,202.3 293.4,202.0 293.8,201.6 294.2,201.3 294.7,200.9 295.1,200.5 295.5,200.1 295.9,199.6 296.4,199.1 296.8,198.6 297.2,198.0 297.7,197.3 298.1,196.7 298.5,195.9 299,195.1 299.4,194.2 299.8,193.1 300.2,192.1 300.7,190.8 301.1,189.5 301.5,187.9 302,186.3" fill="none" stroke="#2c4a86" stroke-width="1.35" stroke-linejoin="round" />
</g>
<rect x="199.7" y="174.3" width="136.9" height="141.2" fill="none" stroke="#5c5c5c" stroke-width="1.1"/>
<line x1="199.7" y1="307.1" x2="201.9" y2="307.1" stroke="#5c5c5c" stroke-width="1" />
<line x1="199.7" y1="290.5" x2="201.9" y2="290.5" stroke="#5c5c5c" stroke-width="1" />
<line x1="199.7" y1="273.9" x2="201.9" y2="273.9" stroke="#5c5c5c" stroke-width="1" />
<line x1="199.7" y1="257.3" x2="201.9" y2="257.3" stroke="#5c5c5c" stroke-width="1" />
<line x1="199.7" y1="240.7" x2="201.9" y2="240.7" stroke="#5c5c5c" stroke-width="1" />
<line x1="199.7" y1="224.1" x2="201.9" y2="224.1" stroke="#5c5c5c" stroke-width="1" />
<line x1="199.7" y1="207.5" x2="201.9" y2="207.5" stroke="#5c5c5c" stroke-width="1" />
<line x1="199.7" y1="190.9" x2="201.9" y2="190.9" stroke="#5c5c5c" stroke-width="1" />
<line x1="199.7" y1="174.3" x2="201.9" y2="174.3" stroke="#5c5c5c" stroke-width="1" />
<line x1="199.7" y1="315.4" x2="201" y2="315.4" stroke="#5c5c5c" stroke-width="1" />
<line x1="199.7" y1="298.8" x2="201" y2="298.8" stroke="#5c5c5c" stroke-width="1" />
<line x1="199.7" y1="282.2" x2="201" y2="282.2" stroke="#5c5c5c" stroke-width="1" />
<line x1="199.7" y1="265.6" x2="201" y2="265.6" stroke="#5c5c5c" stroke-width="1" />
<line x1="199.7" y1="249" x2="201" y2="249" stroke="#5c5c5c" stroke-width="1" />
<line x1="199.7" y1="232.4" x2="201" y2="232.4" stroke="#5c5c5c" stroke-width="1" />
<line x1="199.7" y1="215.8" x2="201" y2="215.8" stroke="#5c5c5c" stroke-width="1" />
<line x1="199.7" y1="199.2" x2="201" y2="199.2" stroke="#5c5c5c" stroke-width="1" />
<line x1="199.7" y1="182.6" x2="201" y2="182.6" stroke="#5c5c5c" stroke-width="1" />
<line x1="336.6" y1="307.1" x2="334.4" y2="307.1" stroke="#5c5c5c" stroke-width="1" />
<line x1="336.6" y1="290.5" x2="334.4" y2="290.5" stroke="#5c5c5c" stroke-width="1" />
<line x1="336.6" y1="273.9" x2="334.4" y2="273.9" stroke="#5c5c5c" stroke-width="1" />
<line x1="336.6" y1="257.3" x2="334.4" y2="257.3" stroke="#5c5c5c" stroke-width="1" />
<line x1="336.6" y1="240.7" x2="334.4" y2="240.7" stroke="#5c5c5c" stroke-width="1" />
<line x1="336.6" y1="224.1" x2="334.4" y2="224.1" stroke="#5c5c5c" stroke-width="1" />
<line x1="336.6" y1="207.5" x2="334.4" y2="207.5" stroke="#5c5c5c" stroke-width="1" />
<line x1="336.6" y1="190.9" x2="334.4" y2="190.9" stroke="#5c5c5c" stroke-width="1" />
<line x1="336.6" y1="174.3" x2="334.4" y2="174.3" stroke="#5c5c5c" stroke-width="1" />
<line x1="336.6" y1="315.4" x2="335.3" y2="315.4" stroke="#5c5c5c" stroke-width="1" />
<line x1="336.6" y1="298.8" x2="335.3" y2="298.8" stroke="#5c5c5c" stroke-width="1" />
<line x1="336.6" y1="282.2" x2="335.3" y2="282.2" stroke="#5c5c5c" stroke-width="1" />
<line x1="336.6" y1="265.6" x2="335.3" y2="265.6" stroke="#5c5c5c" stroke-width="1" />
<line x1="336.6" y1="249" x2="335.3" y2="249" stroke="#5c5c5c" stroke-width="1" />
<line x1="336.6" y1="232.4" x2="335.3" y2="232.4" stroke="#5c5c5c" stroke-width="1" />
<line x1="336.6" y1="215.8" x2="335.3" y2="215.8" stroke="#5c5c5c" stroke-width="1" />
<line x1="336.6" y1="199.2" x2="335.3" y2="199.2" stroke="#5c5c5c" stroke-width="1" />
<line x1="336.6" y1="182.6" x2="335.3" y2="182.6" stroke="#5c5c5c" stroke-width="1" />
<line x1="204.5" y1="315.5" x2="204.5" y2="313.3" stroke="#5c5c5c" stroke-width="1" />
<line x1="231.1" y1="315.5" x2="231.1" y2="313.3" stroke="#5c5c5c" stroke-width="1" />
<line x1="257.7" y1="315.5" x2="257.7" y2="313.3" stroke="#5c5c5c" stroke-width="1" />
<line x1="284.3" y1="315.5" x2="284.3" y2="313.3" stroke="#5c5c5c" stroke-width="1" />
<line x1="310.9" y1="315.5" x2="310.9" y2="313.3" stroke="#5c5c5c" stroke-width="1" />
<line x1="337.5" y1="315.5" x2="337.5" y2="313.3" stroke="#5c5c5c" stroke-width="1" />
<line x1="217.8" y1="315.5" x2="217.8" y2="314.2" stroke="#5c5c5c" stroke-width="1" />
<line x1="244.4" y1="315.5" x2="244.4" y2="314.2" stroke="#5c5c5c" stroke-width="1" />
<line x1="271" y1="315.5" x2="271" y2="314.2" stroke="#5c5c5c" stroke-width="1" />
<line x1="297.6" y1="315.5" x2="297.6" y2="314.2" stroke="#5c5c5c" stroke-width="1" />
<line x1="324.2" y1="315.5" x2="324.2" y2="314.2" stroke="#5c5c5c" stroke-width="1" />
<line x1="204.5" y1="174.3" x2="204.5" y2="176.5" stroke="#5c5c5c" stroke-width="1" />
<line x1="231.1" y1="174.3" x2="231.1" y2="176.5" stroke="#5c5c5c" stroke-width="1" />
<line x1="257.7" y1="174.3" x2="257.7" y2="176.5" stroke="#5c5c5c" stroke-width="1" />
<line x1="284.3" y1="174.3" x2="284.3" y2="176.5" stroke="#5c5c5c" stroke-width="1" />
<line x1="310.9" y1="174.3" x2="310.9" y2="176.5" stroke="#5c5c5c" stroke-width="1" />
<line x1="337.5" y1="174.3" x2="337.5" y2="176.5" stroke="#5c5c5c" stroke-width="1" />
<line x1="217.8" y1="174.3" x2="217.8" y2="175.6" stroke="#5c5c5c" stroke-width="1" />
<line x1="244.4" y1="174.3" x2="244.4" y2="175.6" stroke="#5c5c5c" stroke-width="1" />
<line x1="271" y1="174.3" x2="271" y2="175.6" stroke="#5c5c5c" stroke-width="1" />
<line x1="297.6" y1="174.3" x2="297.6" y2="175.6" stroke="#5c5c5c" stroke-width="1" />
<line x1="324.2" y1="174.3" x2="324.2" y2="175.6" stroke="#5c5c5c" stroke-width="1" />
<text x="196.7" y="309.9" font-size="8" text-anchor="end" fill="#242424" font-weight="normal" font-family='"Liberation Serif", serif' >2.2</text>
<text x="196.7" y="293.3" font-size="8" text-anchor="end" fill="#242424" font-weight="normal" font-family='"Liberation Serif", serif' >2.4</text>
<text x="196.7" y="276.7" font-size="8" text-anchor="end" fill="#242424" font-weight="normal" font-family='"Liberation Serif", serif' >2.6</text>
<text x="196.7" y="260.1" font-size="8" text-anchor="end" fill="#242424" font-weight="normal" font-family='"Liberation Serif", serif' >2.8</text>
<text x="196.7" y="243.5" font-size="8" text-anchor="end" fill="#242424" font-weight="normal" font-family='"Liberation Serif", serif' >3.0</text>
<text x="196.7" y="226.9" font-size="8" text-anchor="end" fill="#242424" font-weight="normal" font-family='"Liberation Serif", serif' >3.2</text>
<text x="196.7" y="210.3" font-size="8" text-anchor="end" fill="#242424" font-weight="normal" font-family='"Liberation Serif", serif' >3.4</text>
<text x="196.7" y="193.7" font-size="8" text-anchor="end" fill="#242424" font-weight="normal" font-family='"Liberation Serif", serif' >3.6</text>
<text x="196.7" y="177.1" font-size="8" text-anchor="end" fill="#242424" font-weight="normal" font-family='"Liberation Serif", serif' >3.8</text>
<text x="204.5" y="324.8" font-size="8" text-anchor="middle" fill="#242424" font-weight="normal" font-family='"Liberation Serif", serif' >0.0</text>
<text x="231.1" y="324.8" font-size="8" text-anchor="middle" fill="#242424" font-weight="normal" font-family='"Liberation Serif", serif' >0.5</text>
<text x="257.7" y="324.8" font-size="8" text-anchor="middle" fill="#242424" font-weight="normal" font-family='"Liberation Serif", serif' >1.0</text>
<text x="284.3" y="324.8" font-size="8" text-anchor="middle" fill="#242424" font-weight="normal" font-family='"Liberation Serif", serif' >1.5</text>
<text x="310.9" y="324.8" font-size="8" text-anchor="middle" fill="#242424" font-weight="normal" font-family='"Liberation Serif", serif' >2.0</text>
<text x="337.5" y="324.8" font-size="8" text-anchor="middle" fill="#242424" font-weight="normal" font-family='"Liberation Serif", serif' >2.5</text>
<text x="268.3" y="336.4" font-size="11.9" text-anchor="middle" fill="#242424" font-weight="normal" font-family='"Liberation Serif", serif' >Charge capacity (Ah)</text>
<text x="0" y="0" font-size="12.6" text-anchor="middle" fill="#242424" font-weight="normal" font-family='"Liberation Serif", serif' transform="translate(178.3,244.2) rotate(-90)" dominant-baseline="central">Voltage (V)</text>
<text x="175.3" y="183.8" font-size="12.5" text-anchor="start" fill="#111" font-weight="bold" font-family='"Liberation Sans", sans-serif' >d</text>
<rect x="256.3" y="217" width="60" height="46.7" fill="#ededed"/>
<text x="286.4" y="229.7" font-size="11" text-anchor="middle" fill="#242424" font-weight="bold" font-family='"Liberation Serif", serif' >VALENCE</text>
<text x="286.4" y="244.7" font-size="11" text-anchor="middle" fill="#242424" font-weight="normal" font-family='"Liberation Serif", serif' >LFP battery</text>
<text x="286.4" y="259.8" font-size="11" text-anchor="middle" fill="#242424" font-weight="bold" font-family='"Liberation Serif", serif' >(#2)</text>
<text x="286.4" y="276" font-size="11.3" text-anchor="middle" fill="#242424" font-weight="normal" font-family='"Liberation Serif", serif' >State of health</text>
<rect x="248.2" y="281.9" width="76.7" height="8.7" fill="url(#cbar)" stroke="#555" stroke-width="0.5"/>
<line x1="267.38" y1="290.6" x2="267.38" y2="289.3" stroke="#333" stroke-width="0.8" />
<line x1="286.55" y1="290.6" x2="286.55" y2="289.3" stroke="#333" stroke-width="0.8" />
<line x1="305.73" y1="290.6" x2="305.73" y2="289.3" stroke="#333" stroke-width="0.8" />
<text x="253.1" y="301.8" font-size="9.6" text-anchor="middle" fill="#242424" font-weight="normal" font-family='"Liberation Serif", serif' >80%</text>
<text x="324.9" y="301.8" font-size="9.6" text-anchor="middle" fill="#242424" font-weight="normal" font-family='"Liberation Serif", serif' >100%</text>
<rect x="205.8" y="389.56" width="12.47" height="21.34" fill="url(#barg)" stroke="#4a4a4a" stroke-width="0.8"/>
<rect x="218.27" y="344.1" width="12.47" height="66.8" fill="url(#barg)" stroke="#4a4a4a" stroke-width="0.8"/>
<rect x="230.74" y="369.5" width="12.47" height="41.4" fill="url(#barg)" stroke="#4a4a4a" stroke-width="0.8"/>
<rect x="243.21" y="367.21" width="12.47" height="43.69" fill="url(#barg)" stroke="#4a4a4a" stroke-width="0.8"/>
<rect x="255.68" y="378.39" width="12.47" height="32.51" fill="url(#barg)" stroke="#4a4a4a" stroke-width="0.8"/>
<rect x="268.15" y="382.2" width="12.47" height="28.7" fill="url(#barg)" stroke="#4a4a4a" stroke-width="0.8"/>
<rect x="280.62" y="374.32" width="12.47" height="36.58" fill="url(#barg)" stroke="#4a4a4a" stroke-width="0.8"/>
<rect x="293.09" y="384.48" width="12.47" height="26.42" fill="url(#barg)" stroke="#4a4a4a" stroke-width="0.8"/>
<rect x="305.56" y="368.99" width="12.47" height="41.91" fill="url(#barg)" stroke="#4a4a4a" stroke-width="0.8"/>
<rect x="318.03" y="407.6" width="12.47" height="3.3" fill="url(#barg)" stroke="#4a4a4a" stroke-width="0.8"/>
<rect x="199.4" y="341.1" width="137.4" height="69.8" fill="none" stroke="#5c5c5c" stroke-width="1.1"/>
<line x1="199.4" y1="410.9" x2="201.6" y2="410.9" stroke="#5c5c5c" stroke-width="1" />
<line x1="199.4" y1="398.2" x2="201.6" y2="398.2" stroke="#5c5c5c" stroke-width="1" />
<line x1="199.4" y1="385.5" x2="201.6" y2="385.5" stroke="#5c5c5c" stroke-width="1" />
<line x1="199.4" y1="372.8" x2="201.6" y2="372.8" stroke="#5c5c5c" stroke-width="1" />
<line x1="199.4" y1="360.1" x2="201.6" y2="360.1" stroke="#5c5c5c" stroke-width="1" />
<line x1="199.4" y1="347.4" x2="201.6" y2="347.4" stroke="#5c5c5c" stroke-width="1" />
<line x1="336.8" y1="410.9" x2="334.6" y2="410.9" stroke="#5c5c5c" stroke-width="1" />
<line x1="336.8" y1="398.2" x2="334.6" y2="398.2" stroke="#5c5c5c" stroke-width="1" />
<line x1="336.8" y1="385.5" x2="334.6" y2="385.5" stroke="#5c5c5c" stroke-width="1" />
<line x1="336.8" y1="372.8" x2="334.6" y2="372.8" stroke="#5c5c5c" stroke-width="1" />
<line x1="336.8" y1="360.1" x2="334.6" y2="360.1" stroke="#5c5c5c" stroke-width="1" />
<line x1="336.8" y1="347.4" x2="334.6" y2="347.4" stroke="#5c5c5c" stroke-width="1" />
<line x1="212.04" y1="341.1" x2="212.04" y2="343.3" stroke="#5c5c5c" stroke-width="1" />
<line x1="224.5" y1="341.1" x2="224.5" y2="343.3" stroke="#5c5c5c" stroke-width="1" />
<line x1="236.98" y1="341.1" x2="236.98" y2="343.3" stroke="#5c5c5c" stroke-width="1" />
<line x1="249.44" y1="341.1" x2="249.44" y2="343.3" stroke="#5c5c5c" stroke-width="1" />
<line x1="261.92" y1="341.1" x2="261.92" y2="343.3" stroke="#5c5c5c" stroke-width="1" />
<line x1="274.38" y1="341.1" x2="274.38" y2="343.3" stroke="#5c5c5c" stroke-width="1" />
<line x1="286.86" y1="341.1" x2="286.86" y2="343.3" stroke="#5c5c5c" stroke-width="1" />
<line x1="299.32" y1="341.1" x2="299.32" y2="343.3" stroke="#5c5c5c" stroke-width="1" />
<line x1="311.8" y1="341.1" x2="311.8" y2="343.3" stroke="#5c5c5c" stroke-width="1" />
<line x1="324.26" y1="341.1" x2="324.26" y2="343.3" stroke="#5c5c5c" stroke-width="1" />
<line x1="205.8" y1="410.9" x2="205.8" y2="408.7" stroke="#5c5c5c" stroke-width="1" />
<line x1="218.27" y1="410.9" x2="218.27" y2="408.7" stroke="#5c5c5c" stroke-width="1" />
<line x1="230.74" y1="410.9" x2="230.74" y2="408.7" stroke="#5c5c5c" stroke-width="1" />
<line x1="243.21" y1="410.9" x2="243.21" y2="408.7" stroke="#5c5c5c" stroke-width="1" />
<line x1="255.68" y1="410.9" x2="255.68" y2="408.7" stroke="#5c5c5c" stroke-width="1" />
<line x1="268.15" y1="410.9" x2="268.15" y2="408.7" stroke="#5c5c5c" stroke-width="1" />
<line x1="280.62" y1="410.9" x2="280.62" y2="408.7" stroke="#5c5c5c" stroke-width="1" />
<line x1="293.09" y1="410.9" x2="293.09" y2="408.7" stroke="#5c5c5c" stroke-width="1" />
<line x1="305.56" y1="410.9" x2="305.56" y2="408.7" stroke="#5c5c5c" stroke-width="1" />
<line x1="318.03" y1="410.9" x2="318.03" y2="408.7" stroke="#5c5c5c" stroke-width="1" />
<line x1="330.5" y1="410.9" x2="330.5" y2="408.7" stroke="#5c5c5c" stroke-width="1" />
<text x="196.4" y="413.7" font-size="8" text-anchor="end" fill="#242424" font-weight="normal" font-family='"Liberation Serif", serif' >0</text>
<text x="196.4" y="401" font-size="8" text-anchor="end" fill="#242424" font-weight="normal" font-family='"Liberation Serif", serif' >100</text>
<text x="196.4" y="388.3" font-size="8" text-anchor="end" fill="#242424" font-weight="normal" font-family='"Liberation Serif", serif' >200</text>
<text x="196.4" y="375.6" font-size="8" text-anchor="end" fill="#242424" font-weight="normal" font-family='"Liberation Serif", serif' >300</text>
<text x="196.4" y="362.9" font-size="8" text-anchor="end" fill="#242424" font-weight="normal" font-family='"Liberation Serif", serif' >400</text>
<text x="196.4" y="350.2" font-size="8" text-anchor="end" fill="#242424" font-weight="normal" font-family='"Liberation Serif", serif' >500</text>
<text x="205.8" y="420.6" font-size="8.6" text-anchor="middle" fill="#242424" font-weight="normal" font-family='"Liberation Serif", serif' >80%</text>
<text x="268.15" y="420.6" font-size="8.6" text-anchor="middle" fill="#242424" font-weight="normal" font-family='"Liberation Serif", serif' >90%</text>
<text x="330.5" y="420.6" font-size="8.6" text-anchor="middle" fill="#242424" font-weight="normal" font-family='"Liberation Serif", serif' >100%</text>
<text x="267.8" y="430.8" font-size="11.8" text-anchor="middle" fill="#242424" font-weight="normal" font-family='"Liberation Serif", serif' >State of health</text>
<text x="0" y="0" font-size="11.7" text-anchor="middle" fill="#242424" font-weight="normal" font-family='"Liberation Serif", serif' transform="translate(176.7,375.9) rotate(-90)" dominant-baseline="central">Samples</text>
<g>
<path d="M375.8,300.5 376.3,284.7 376.8,271.7 377.4,260.3 377.9,251.2 378.4,245.0 378.9,240.0 379.4,236.1 380,233.2 380.5,230.8 381,228.7 381.5,227.0 382.1,225.5 382.6,224.3 383.1,223.2 383.6,222.1 384.1,221.1 384.7,220.3 385.2,219.6 385.7,219.1 386.2,218.8 386.7,218.6 387.3,218.4 387.8,218.2 388.3,218.1 388.3,218.1 390.7,217.4 393.1,216.9 395.5,216.5 397.9,216.0 400.3,215.4 402.7,214.4 405.1,213.5 407.5,212.8 409.9,212.2 412.3,211.8 414.7,211.4 417.2,211.0 419.6,210.8 422,210.7 424.4,210.6 426.8,210.5 429.2,210.4 431.6,210.3 434,210.3 436.4,210.2 438.8,210.1 441.2,210.0 443.6,209.9 446,209.7 448.4,209.6 450.8,209.4 453.2,209.3 455.6,209.1 458,208.9 460.4,208.6 462.8,208.4 465.2,208.2 467.6,207.9 470,207.7 472.5,207.5 474.9,207.3 477.3,207.0 479.7,206.8 482.1,206.4 482.1,206.4 482.6,206.4 483.2,206.3 483.7,206.2 484.3,206.1 484.8,206.0 485.4,205.9 485.9,205.8 486.5,205.7 487,205.6 487.6,205.5 488.1,205.4 488.7,205.3 489.2,205.1 489.8,205.0 490.3,204.9 490.9,204.8 491.4,204.6 492,204.5 492.5,204.3 493.1,204.1 493.6,203.9 494.2,203.7 494.8,203.4 495.3,202.9 495.9,202.4 496.4,201.8 497,201.0 497.5,200.1 498.1,199.0 498.6,197.2 499.2,195.1 499.7,192.7 500.3,189.8 500.8,186.3" fill="none" stroke="#a52520" stroke-width="1.35" stroke-linejoin="round" />
<path d="M375.8,300.3 376.3,284.5 376.8,271.6 377.4,260.3 377.9,251.1 378.4,244.8 378.9,239.9 379.4,236.0 379.9,233.1 380.5,230.7 381,228.7 381.5,226.9 382,225.4 382.5,224.2 383,223.1 383.6,222.0 384.1,221.0 384.6,220.2 385.1,219.6 385.6,219.1 386.2,218.8 386.7,218.5 387.2,218.3 387.7,218.2 388.2,218.0 388.2,218.0 390.6,217.4 393,216.9 395.4,216.5 397.8,216.0 400.2,215.3 402.6,214.4 404.9,213.5 407.3,212.8 409.7,212.3 412.1,211.8 414.5,211.4 416.9,211.0 419.3,210.8 421.7,210.7 424.1,210.5 426.4,210.4 428.8,210.3 431.2,210.3 433.6,210.2 436,210.1 438.4,210.0 440.8,209.9 443.2,209.8 445.6,209.6 448,209.5 450.3,209.3 452.7,209.2 455.1,209.0 457.5,208.8 459.9,208.5 462.3,208.3 464.7,208.1 467.1,207.9 469.5,207.7 471.8,207.5 474.2,207.2 476.6,207.0 479,206.7 481.4,206.4 481.4,206.4 481.9,206.3 482.5,206.2 483,206.1 483.6,206.0 484.1,205.9 484.7,205.8 485.2,205.7 485.8,205.6 486.3,205.5 486.9,205.4 487.4,205.2 488,205.1 488.5,205.0 489.1,204.8 489.6,204.7 490.2,204.6 490.7,204.4 491.3,204.2 491.8,204.1 492.4,203.8 492.9,203.6 493.5,203.3 494,203.0 494.6,202.6 495.1,202.0 495.6,201.4 496.2,200.6 496.7,199.7 497.3,198.6 497.8,196.9 498.4,194.9 498.9,192.5 499.5,189.7 500,186.3" fill="none" stroke="#ad2922" stroke-width="1.35" stroke-linejoin="round" />
<path d="M375.8,300.2 376.3,284.3 376.8,271.5 377.3,260.2 377.9,251.0 378.4,244.7 378.9,239.8 379.4,235.9 379.9,233.0 380.4,230.6 380.9,228.6 381.5,226.8 382,225.4 382.5,224.1 383,223.0 383.5,221.9 384,221.0 384.5,220.2 385.1,219.5 385.6,219.0 386.1,218.7 386.6,218.5 387.1,218.3 387.6,218.1 388.1,218.0 388.1,218.0 390.5,217.4 392.9,216.9 395.3,216.5 397.6,216.0 400,215.3 402.4,214.4 404.8,213.5 407.1,212.8 409.5,212.3 411.9,211.8 414.3,211.4 416.6,211.0 419,210.8 421.4,210.6 423.8,210.5 426.1,210.4 428.5,210.3 430.9,210.2 433.2,210.1 435.6,210.0 438,209.9 440.4,209.8 442.7,209.7 445.1,209.5 447.5,209.4 449.9,209.2 452.2,209.1 454.6,208.9 457,208.7 459.4,208.5 461.7,208.2 464.1,208.0 466.5,207.8 468.9,207.6 471.2,207.4 473.6,207.2 476,206.9 478.4,206.6 480.7,206.3 480.7,206.3 481.3,206.2 481.8,206.1 482.4,206.0 482.9,205.9 483.5,205.8 484,205.7 484.5,205.6 485.1,205.5 485.6,205.3 486.2,205.2 486.7,205.1 487.3,204.9 487.8,204.8 488.4,204.7 488.9,204.5 489.4,204.4 490,204.2 490.5,204.0 491.1,203.8 491.6,203.6 492.2,203.3 492.7,203.0 493.3,202.7 493.8,202.3 494.3,201.7 494.9,201.0 495.4,200.3 496,199.4 496.5,198.3 497.1,196.6 497.6,194.6 498.2,192.3 498.7,189.5 499.2,186.3" fill="none" stroke="#b52d24" stroke-width="1.35" stroke-linejoin="round" />
<path d="M375.8,300.0 376.3,284.1 376.8,271.3 377.3,260.2 377.8,250.9 378.4,244.5 378.9,239.6 379.4,235.8 379.9,232.9 380.4,230.6 380.9,228.5 381.4,226.8 381.9,225.3 382.4,224.0 383,222.9 383.5,221.8 384,220.9 384.5,220.1 385,219.5 385.5,219.0 386,218.7 386.5,218.5 387,218.3 387.6,218.1 388.1,218.0 388.1,218.0 390.4,217.4 392.8,216.9 395.1,216.4 397.5,215.9 399.9,215.3 402.2,214.4 404.6,213.5 406.9,212.8 409.3,212.3 411.7,211.8 414,211.4 416.4,211.0 418.7,210.8 421.1,210.6 423.4,210.4 425.8,210.3 428.2,210.2 430.5,210.1 432.9,210.0 435.2,209.9 437.6,209.8 440,209.7 442.3,209.5 444.7,209.4 447,209.3 449.4,209.1 451.8,209.0 454.1,208.8 456.5,208.6 458.8,208.4 461.2,208.2 463.5,208.0 465.9,207.8 468.3,207.6 470.6,207.4 473,207.1 475.3,206.9 477.7,206.6 480.1,206.2 480.1,206.2 480.6,206.1 481.1,206.0 481.7,205.9 482.2,205.8 482.8,205.7 483.3,205.6 483.8,205.5 484.4,205.3 484.9,205.2 485.5,205.1 486,204.9 486.6,204.8 487.1,204.6 487.6,204.5 488.2,204.3 488.7,204.2 489.3,204.0 489.8,203.8 490.3,203.6 490.9,203.3 491.4,203.0 492,202.7 492.5,202.4 493,201.9 493.6,201.4 494.1,200.7 494.7,199.9 495.2,199.0 495.8,197.9 496.3,196.3 496.8,194.4 497.4,192.2 497.9,189.4 498.5,186.3" fill="none" stroke="#bd3126" stroke-width="1.35" stroke-linejoin="round" />
<path d="M375.8,299.9 376.3,284.0 376.8,271.2 377.3,260.1 377.8,250.9 378.3,244.3 378.8,239.5 379.4,235.7 379.9,232.8 380.4,230.5 380.9,228.4 381.4,226.7 381.9,225.2 382.4,223.9 382.9,222.8 383.4,221.8 383.9,220.9 384.4,220.1 384.9,219.4 385.4,219.0 386,218.7 386.5,218.4 387,218.2 387.5,218.1 388,218.0 388,218.0 390.3,217.4 392.7,216.9 395,216.4 397.4,215.9 399.7,215.3 402,214.4 404.4,213.5 406.7,212.9 409.1,212.3 411.4,211.8 413.8,211.4 416.1,211.0 418.5,210.8 420.8,210.6 423.1,210.4 425.5,210.3 427.8,210.1 430.2,210.0 432.5,209.9 434.9,209.8 437.2,209.7 439.5,209.6 441.9,209.4 444.2,209.3 446.6,209.2 448.9,209.1 451.3,208.9 453.6,208.7 456,208.5 458.3,208.3 460.6,208.1 463,207.9 465.3,207.7 467.7,207.5 470,207.3 472.4,207.1 474.7,206.8 477,206.5 479.4,206.1 479.4,206.1 479.9,206.0 480.5,205.9 481,205.8 481.5,205.7 482.1,205.6 482.6,205.5 483.2,205.4 483.7,205.2 484.2,205.1 484.8,205.0 485.3,204.8 485.8,204.6 486.4,204.5 486.9,204.3 487.5,204.1 488,204.0 488.5,203.8 489.1,203.6 489.6,203.3 490.1,203.1 490.7,202.8 491.2,202.5 491.8,202.1 492.3,201.6 492.8,201.1 493.4,200.4 493.9,199.6 494.4,198.7 495,197.6 495.5,196.0 496.1,194.1 496.6,192.0 497.1,189.3 497.7,186.3" fill="none" stroke="#c53628" stroke-width="1.35" stroke-linejoin="round" />
<path d="M375.8,299.7 376.3,283.8 376.8,271.1 377.3,260.1 377.8,250.8 378.3,244.2 378.8,239.4 379.3,235.6 379.8,232.8 380.3,230.4 380.8,228.4 381.3,226.6 381.9,225.1 382.4,223.8 382.9,222.7 383.4,221.7 383.9,220.8 384.4,220.0 384.9,219.4 385.4,218.9 385.9,218.6 386.4,218.4 386.9,218.2 387.4,218.1 387.9,217.9 387.9,217.9 390.2,217.4 392.6,216.9 394.9,216.4 397.2,215.9 399.6,215.3 401.9,214.4 404.2,213.6 406.5,212.9 408.9,212.3 411.2,211.8 413.5,211.4 415.9,211.0 418.2,210.8 420.5,210.5 422.8,210.4 425.2,210.2 427.5,210.1 429.8,209.9 432.2,209.8 434.5,209.7 436.8,209.6 439.1,209.5 441.5,209.4 443.8,209.2 446.1,209.1 448.4,209.0 450.8,208.8 453.1,208.7 455.4,208.5 457.8,208.3 460.1,208.1 462.4,207.9 464.7,207.7 467.1,207.5 469.4,207.3 471.7,207.0 474.1,206.8 476.4,206.4 478.7,206.1 478.7,206.1 479.3,206.0 479.8,205.8 480.3,205.7 480.9,205.6 481.4,205.5 481.9,205.4 482.5,205.3 483,205.1 483.5,205.0 484.1,204.8 484.6,204.7 485.1,204.5 485.7,204.3 486.2,204.2 486.7,204.0 487.3,203.8 487.8,203.6 488.3,203.3 488.9,203.1 489.4,202.8 489.9,202.5 490.5,202.2 491,201.8 491.5,201.3 492.1,200.8 492.6,200.1 493.1,199.3 493.7,198.4 494.2,197.3 494.7,195.8 495.3,193.9 495.8,191.8 496.3,189.2 496.9,186.3" fill="none" stroke="#cd3a2a" stroke-width="1.35" stroke-linejoin="round" />
<path d="M375.8,299.6 376.3,283.7 376.8,271.0 377.3,260.0 377.8,250.7 378.3,244.0 378.8,239.3 379.3,235.5 379.8,232.7 380.3,230.3 380.8,228.3 381.3,226.5 381.8,225.0 382.3,223.7 382.8,222.6 383.3,221.6 383.8,220.7 384.3,220.0 384.8,219.4 385.3,218.9 385.8,218.6 386.3,218.4 386.8,218.2 387.3,218.0 387.8,217.9 387.8,217.9 390.1,217.4 392.5,216.9 394.8,216.4 397.1,215.9 399.4,215.2 401.7,214.4 404,213.6 406.3,212.9 408.7,212.3 411,211.8 413.3,211.4 415.6,211.0 417.9,210.7 420.2,210.5 422.5,210.3 424.8,210.2 427.2,210.0 429.5,209.9 431.8,209.7 434.1,209.6 436.4,209.5 438.7,209.4 441,209.3 443.4,209.1 445.7,209.0 448,208.9 450.3,208.7 452.6,208.6 454.9,208.4 457.2,208.2 459.5,208.0 461.9,207.8 464.2,207.6 466.5,207.4 468.8,207.2 471.1,207.0 473.4,206.7 475.7,206.4 478.1,206.0 478.1,206.0 478.6,205.9 479.1,205.8 479.6,205.7 480.2,205.5 480.7,205.4 481.2,205.3 481.8,205.2 482.3,205.0 482.8,204.9 483.4,204.7 483.9,204.5 484.4,204.4 485,204.2 485.5,204.0 486,203.8 486.5,203.6 487.1,203.4 487.6,203.1 488.1,202.9 488.7,202.6 489.2,202.3 489.7,201.9 490.3,201.5 490.8,201.0 491.3,200.5 491.9,199.8 492.4,199.0 492.9,198.1 493.4,197.0 494,195.5 494.5,193.7 495,191.6 495.6,189.2 496.1,186.3" fill="none" stroke="#d53e2c" stroke-width="1.35" stroke-linejoin="round" />
<path d="M375.8,299.5 376.3,283.5 376.8,270.9 377.3,260.0 377.8,250.6 378.3,243.9 378.8,239.1 379.3,235.5 379.8,232.6 380.3,230.3 380.8,228.2 381.3,226.5 381.8,224.9 382.3,223.7 382.8,222.5 383.3,221.6 383.8,220.7 384.3,219.9 384.8,219.3 385.3,218.9 385.8,218.6 386.3,218.3 386.8,218.2 387.3,218.0 387.8,217.9 387.8,217.9 390,217.4 392.3,216.9 394.6,216.4 396.9,215.9 399.2,215.2 401.5,214.4 403.8,213.6 406.1,212.9 408.4,212.4 410.7,211.8 413,211.4 415.3,211.0 417.6,210.7 419.9,210.5 422.2,210.3 424.5,210.1 426.8,210.0 429.1,209.8 431.4,209.7 433.7,209.5 436,209.4 438.3,209.3 440.6,209.2 442.9,209.1 445.2,208.9 447.5,208.8 449.8,208.7 452.1,208.5 454.4,208.3 456.7,208.2 459,208.0 461.3,207.8 463.6,207.6 465.9,207.4 468.2,207.2 470.5,207.0 472.8,206.7 475.1,206.3 477.4,205.9 477.4,205.9 477.9,205.8 478.4,205.7 479,205.6 479.5,205.5 480,205.3 480.5,205.2 481.1,205.1 481.6,204.9 482.1,204.8 482.7,204.6 483.2,204.4 483.7,204.2 484.2,204.1 484.8,203.9 485.3,203.6 485.8,203.4 486.3,203.2 486.9,202.9 487.4,202.7 487.9,202.4 488.5,202.0 489,201.7 489.5,201.3 490,200.8 490.6,200.2 491.1,199.5 491.6,198.7 492.1,197.8 492.7,196.7 493.2,195.2 493.7,193.5 494.3,191.5 494.8,189.1 495.3,186.3" fill="none" stroke="#dc422e" stroke-width="1.35" stroke-linejoin="round" />
<path d="M375.8,299.4 376.3,283.4 376.8,270.8 377.3,260.0 377.8,250.5 378.3,243.8 378.8,239.0 379.3,235.4 379.8,232.5 380.3,230.2 380.7,228.2 381.2,226.4 381.7,224.9 382.2,223.6 382.7,222.4 383.2,221.5 383.7,220.6 384.2,219.9 384.7,219.3 385.2,218.8 385.7,218.5 386.2,218.3 386.7,218.1 387.2,218.0 387.7,217.9 387.7,217.9 390,217.3 392.2,216.9 394.5,216.4 396.8,215.8 399.1,215.2 401.4,214.4 403.7,213.6 405.9,212.9 408.2,212.4 410.5,211.8 412.8,211.4 415.1,211.0 417.4,210.7 419.6,210.5 421.9,210.3 424.2,210.1 426.5,209.9 428.8,209.7 431.1,209.6 433.3,209.4 435.6,209.3 437.9,209.2 440.2,209.1 442.5,209.0 444.7,208.9 447,208.7 449.3,208.6 451.6,208.5 453.9,208.3 456.2,208.1 458.4,207.9 460.7,207.7 463,207.5 465.3,207.3 467.6,207.1 469.9,206.9 472.1,206.6 474.4,206.3 476.7,205.9 476.7,205.9 477.2,205.7 477.8,205.6 478.3,205.5 478.8,205.4 479.3,205.3 479.9,205.1 480.4,205.0 480.9,204.8 481.4,204.7 482,204.5 482.5,204.3 483,204.1 483.5,203.9 484,203.7 484.6,203.5 485.1,203.3 485.6,203.0 486.1,202.8 486.7,202.5 487.2,202.2 487.7,201.8 488.2,201.4 488.8,201.0 489.3,200.5 489.8,199.9 490.3,199.2 490.9,198.4 491.4,197.5 491.9,196.4 492.4,195.0 492.9,193.3 493.5,191.3 494,189.0 494.5,186.3" fill="none" stroke="#e34b32" stroke-width="1.35" stroke-linejoin="round" />
<path d="M375.8,299.3 376.3,283.2 376.8,270.7 377.3,259.9 377.8,250.5 378.3,243.6 378.7,238.9 379.2,235.3 379.7,232.5 380.2,230.2 380.7,228.1 381.2,226.3 381.7,224.8 382.2,223.5 382.7,222.4 383.2,221.4 383.7,220.6 384.2,219.9 384.6,219.3 385.1,218.8 385.6,218.5 386.1,218.3 386.6,218.1 387.1,218.0 387.6,217.8 387.6,217.8 389.9,217.3 392.1,216.9 394.4,216.4 396.7,215.8 398.9,215.2 401.2,214.4 403.5,213.6 405.7,212.9 408,212.4 410.3,211.9 412.5,211.4 414.8,211.0 417.1,210.7 419.3,210.5 421.6,210.2 423.9,210.0 426.1,209.8 428.4,209.7 430.7,209.5 433,209.4 435.2,209.2 437.5,209.1 439.8,209.0 442,208.9 444.3,208.8 446.6,208.7 448.8,208.5 451.1,208.4 453.4,208.2 455.6,208.0 457.9,207.9 460.2,207.7 462.4,207.5 464.7,207.3 467,207.1 469.2,206.9 471.5,206.6 473.8,206.2 476,205.8 476,205.8 476.6,205.7 477.1,205.6 477.6,205.4 478.1,205.3 478.6,205.2 479.2,205.0 479.7,204.9 480.2,204.7 480.7,204.6 481.2,204.4 481.8,204.2 482.3,204.0 482.8,203.8 483.3,203.6 483.8,203.3 484.4,203.1 484.9,202.8 485.4,202.6 485.9,202.3 486.4,202.0 487,201.6 487.5,201.2 488,200.8 488.5,200.2 489.1,199.6 489.6,199.0 490.1,198.1 490.6,197.2 491.1,196.2 491.7,194.8 492.2,193.1 492.7,191.2 493.2,188.9 493.7,186.3" fill="none" stroke="#e6603e" stroke-width="1.35" stroke-linejoin="round" />
<path d="M375.8,299.2 376.3,283.1 376.8,270.7 377.3,259.9 377.8,250.4 378.2,243.5 378.7,238.8 379.2,235.2 379.7,232.4 380.2,230.1 380.7,228.1 381.2,226.3 381.7,224.7 382.1,223.4 382.6,222.3 383.1,221.4 383.6,220.6 384.1,219.8 384.6,219.2 385.1,218.8 385.6,218.5 386.1,218.3 386.5,218.1 387,218.0 387.5,217.8 387.5,217.8 389.8,217.3 392,216.9 394.3,216.4 396.5,215.8 398.8,215.2 401,214.4 403.3,213.6 405.5,213.0 407.8,212.4 410,211.9 412.3,211.4 414.5,211.0 416.8,210.7 419.1,210.4 421.3,210.2 423.6,210.0 425.8,209.8 428.1,209.6 430.3,209.4 432.6,209.3 434.8,209.2 437.1,209.0 439.3,208.9 441.6,208.8 443.8,208.7 446.1,208.6 448.3,208.5 450.6,208.3 452.8,208.2 455.1,208.0 457.4,207.8 459.6,207.6 461.9,207.5 464.1,207.3 466.4,207.1 468.6,206.8 470.9,206.6 473.1,206.2 475.4,205.7 475.4,205.7 475.9,205.6 476.4,205.5 476.9,205.4 477.4,205.2 478,205.1 478.5,205.0 479,204.8 479.5,204.7 480,204.5 480.5,204.3 481.1,204.1 481.6,203.9 482.1,203.7 482.6,203.4 483.1,203.2 483.6,202.9 484.2,202.7 484.7,202.4 485.2,202.1 485.7,201.8 486.2,201.4 486.7,201.0 487.3,200.5 487.8,200.0 488.3,199.4 488.8,198.7 489.3,197.9 489.8,197.0 490.4,195.9 490.9,194.5 491.4,192.9 491.9,191.0 492.4,188.8 492.9,186.3" fill="none" stroke="#ea754a" stroke-width="1.35" stroke-linejoin="round" />
<path d="M375.8,299.1 376.3,283.0 376.8,270.6 377.3,259.9 377.7,250.3 378.2,243.4 378.7,238.7 379.2,235.1 379.7,232.3 380.2,230.0 380.6,228.0 381.1,226.2 381.6,224.7 382.1,223.4 382.6,222.2 383.1,221.3 383.6,220.5 384,219.8 384.5,219.2 385,218.8 385.5,218.5 386,218.3 386.5,218.1 387,217.9 387.4,217.8 387.4,217.8 389.7,217.3 391.9,216.9 394.1,216.3 396.4,215.8 398.6,215.2 400.9,214.4 403.1,213.6 405.3,213.0 407.6,212.4 409.8,211.9 412.1,211.4 414.3,211.0 416.5,210.7 418.8,210.4 421,210.2 423.2,209.9 425.5,209.7 427.7,209.6 430,209.4 432.2,209.2 434.4,209.1 436.7,209.0 438.9,208.9 441.1,208.7 443.4,208.6 445.6,208.5 447.9,208.4 450.1,208.3 452.3,208.1 454.6,207.9 456.8,207.8 459,207.6 461.3,207.4 463.5,207.2 465.8,207.0 468,206.8 470.2,206.5 472.5,206.2 474.7,205.7 474.7,205.7 475.2,205.6 475.7,205.4 476.2,205.3 476.8,205.2 477.3,205.0 477.8,204.9 478.3,204.7 478.8,204.6 479.3,204.4 479.8,204.2 480.4,204.0 480.9,203.8 481.4,203.6 481.9,203.3 482.4,203.1 482.9,202.8 483.4,202.5 483.9,202.2 484.5,201.9 485,201.6 485.5,201.2 486,200.8 486.5,200.3 487,199.8 487.5,199.2 488.1,198.5 488.6,197.7 489.1,196.7 489.6,195.7 490.1,194.3 490.6,192.7 491.1,190.9 491.6,188.7 492.2,186.3" fill="none" stroke="#ed8a55" stroke-width="1.35" stroke-linejoin="round" />
<path d="M375.8,299.0 376.3,282.9 376.8,270.5 377.2,259.8 377.7,250.3 378.2,243.3 378.7,238.7 379.2,235.1 379.7,232.3 380.1,230.0 380.6,228.0 381.1,226.2 381.6,224.6 382.1,223.3 382.5,222.2 383,221.3 383.5,220.5 384,219.8 384.5,219.2 384.9,218.7 385.4,218.4 385.9,218.2 386.4,218.1 386.9,217.9 387.4,217.8 387.4,217.8 389.6,217.3 391.8,216.8 394,216.3 396.2,215.8 398.5,215.2 400.7,214.4 402.9,213.7 405.1,213.0 407.4,212.4 409.6,211.9 411.8,211.4 414,211.0 416.3,210.7 418.5,210.4 420.7,210.1 422.9,209.9 425.1,209.7 427.4,209.5 429.6,209.3 431.8,209.2 434,209.0 436.3,208.9 438.5,208.8 440.7,208.7 442.9,208.6 445.1,208.5 447.4,208.3 449.6,208.2 451.8,208.1 454,207.9 456.3,207.7 458.5,207.6 460.7,207.4 462.9,207.2 465.1,207.0 467.4,206.8 469.6,206.5 471.8,206.1 474,205.6 474,205.6 474.5,205.5 475.1,205.4 475.6,205.2 476.1,205.1 476.6,205.0 477.1,204.8 477.6,204.7 478.1,204.5 478.6,204.3 479.1,204.1 479.6,203.9 480.2,203.7 480.7,203.4 481.2,203.2 481.7,202.9 482.2,202.7 482.7,202.4 483.2,202.1 483.7,201.8 484.2,201.4 484.7,201.0 485.3,200.6 485.8,200.1 486.3,199.6 486.8,198.9 487.3,198.2 487.8,197.4 488.3,196.5 488.8,195.5 489.3,194.1 489.8,192.5 490.4,190.8 490.9,188.7 491.4,186.3" fill="none" stroke="#f19e61" stroke-width="1.35" stroke-linejoin="round" />
<path d="M375.8,298.9 376.3,282.7 376.8,270.4 377.2,259.8 377.7,250.2 378.2,243.2 378.7,238.6 379.1,235.0 379.6,232.2 380.1,229.9 380.6,227.9 381.1,226.1 381.5,224.6 382,223.2 382.5,222.1 383,221.2 383.5,220.4 383.9,219.7 384.4,219.2 384.9,218.7 385.4,218.4 385.8,218.2 386.3,218.0 386.8,217.9 387.3,217.8 387.3,217.8 389.5,217.3 391.7,216.8 393.9,216.3 396.1,215.8 398.3,215.1 400.5,214.4 402.7,213.7 404.9,213.0 407.1,212.4 409.4,211.9 411.6,211.4 413.8,211.0 416,210.7 418.2,210.4 420.4,210.1 422.6,209.9 424.8,209.7 427,209.4 429.2,209.3 431.4,209.1 433.6,209.0 435.8,208.8 438,208.7 440.3,208.6 442.5,208.5 444.7,208.4 446.9,208.3 449.1,208.2 451.3,208.0 453.5,207.9 455.7,207.7 457.9,207.5 460.1,207.4 462.3,207.2 464.5,207.0 466.7,206.7 469,206.5 471.2,206.1 473.4,205.6 473.4,205.6 473.9,205.5 474.4,205.3 474.9,205.2 475.4,205.0 475.9,204.9 476.4,204.7 476.9,204.6 477.4,204.4 477.9,204.2 478.4,204.0 478.9,203.8 479.4,203.6 479.9,203.3 480.5,203.1 481,202.8 481.5,202.5 482,202.2 482.5,201.9 483,201.6 483.5,201.2 484,200.8 484.5,200.4 485,199.9 485.5,199.4 486,198.7 486.5,198.0 487,197.2 487.5,196.3 488.1,195.2 488.6,193.9 489.1,192.4 489.6,190.6 490.1,188.6 490.6,186.3" fill="none" stroke="#f4b36d" stroke-width="1.35" stroke-linejoin="round" />
<path d="M375.8,298.8 376.3,282.6 376.7,270.4 377.2,259.8 377.7,250.2 378.2,243.1 378.6,238.5 379.1,234.9 379.6,232.2 380.1,229.9 380.5,227.9 381,226.1 381.5,224.5 382,223.2 382.4,222.1 382.9,221.2 383.4,220.4 383.9,219.7 384.3,219.1 384.8,218.7 385.3,218.4 385.8,218.2 386.2,218.0 386.7,217.9 387.2,217.8 387.2,217.8 389.4,217.3 391.6,216.8 393.8,216.3 396,215.7 398.2,215.1 400.4,214.4 402.5,213.7 404.7,213.0 406.9,212.4 409.1,211.9 411.3,211.4 413.5,211.0 415.7,210.7 417.9,210.4 420.1,210.1 422.3,209.8 424.5,209.6 426.7,209.4 428.9,209.2 431,209.0 433.2,208.9 435.4,208.8 437.6,208.7 439.8,208.6 442,208.5 444.2,208.4 446.4,208.2 448.6,208.1 450.8,208.0 453,207.8 455.2,207.6 457.4,207.5 459.5,207.3 461.7,207.1 463.9,206.9 466.1,206.7 468.3,206.4 470.5,206.0 472.7,205.5 472.7,205.5 473.2,205.4 473.7,205.3 474.2,205.1 474.7,205.0 475.2,204.8 475.7,204.7 476.2,204.5 476.7,204.3 477.2,204.2 477.7,203.9 478.2,203.7 478.7,203.5 479.2,203.2 479.7,203.0 480.2,202.7 480.7,202.4 481.2,202.1 481.8,201.8 482.3,201.5 482.8,201.1 483.3,200.7 483.8,200.2 484.3,199.7 484.8,199.2 485.3,198.5 485.8,197.8 486.3,197.0 486.8,196.1 487.3,195.0 487.8,193.7 488.3,192.2 488.8,190.5 489.3,188.5 489.8,186.3" fill="none" stroke="#f4c079" stroke-width="1.35" stroke-linejoin="round" />
<path d="M375.8,298.7 376.3,282.5 376.7,270.3 377.2,259.7 377.7,250.1 378.2,243.0 378.6,238.4 379.1,234.9 379.6,232.1 380,229.8 380.5,227.8 381,226.0 381.5,224.5 381.9,223.1 382.4,222.0 382.9,221.1 383.3,220.4 383.8,219.7 384.3,219.1 384.8,218.7 385.2,218.4 385.7,218.2 386.2,218.0 386.6,217.9 387.1,217.7 387.1,217.7 389.3,217.3 391.5,216.8 393.7,216.3 395.8,215.7 398,215.1 400.2,214.4 402.4,213.7 404.5,213.0 406.7,212.4 408.9,211.9 411.1,211.4 413.2,211.0 415.4,210.7 417.6,210.3 419.8,210.1 422,209.8 424.1,209.6 426.3,209.4 428.5,209.1 430.7,209.0 432.8,208.8 435,208.7 437.2,208.6 439.4,208.5 441.5,208.4 443.7,208.3 445.9,208.2 448.1,208.1 450.3,207.9 452.4,207.8 454.6,207.6 456.8,207.5 459,207.3 461.1,207.1 463.3,206.9 465.5,206.7 467.7,206.4 469.9,206.0 472,205.5 472,205.5 472.5,205.4 473,205.2 473.5,205.1 474,204.9 474.5,204.8 475,204.6 475.5,204.5 476,204.3 476.5,204.1 477,203.9 477.5,203.6 478,203.4 478.5,203.1 479,202.9 479.5,202.6 480,202.3 480.5,202.0 481,201.7 481.5,201.3 482,200.9 482.5,200.5 483,200.1 483.5,199.5 484,199.0 484.5,198.3 485,197.6 485.5,196.8 486,195.9 486.5,194.8 487,193.6 487.5,192.1 488,190.4 488.5,188.5 489,186.3" fill="none" stroke="#f3ce85" stroke-width="1.35" stroke-linejoin="round" />
<path d="M375.8,298.6 376.3,282.4 376.7,270.2 377.2,259.7 377.7,250.1 378.1,242.9 378.6,238.3 379.1,234.8 379.5,232.1 380,229.8 380.5,227.8 381,226.0 381.4,224.4 381.9,223.1 382.4,222.0 382.8,221.1 383.3,220.3 383.8,219.7 384.2,219.1 384.7,218.7 385.2,218.4 385.6,218.2 386.1,218.0 386.6,217.9 387,217.7 387,217.7 389.2,217.3 391.4,216.8 393.5,216.3 395.7,215.7 397.9,215.1 400,214.4 402.2,213.7 404.3,213.0 406.5,212.4 408.7,211.9 410.8,211.4 413,211.0 415.1,210.6 417.3,210.3 419.5,210.0 421.6,209.8 423.8,209.5 426,209.3 428.1,209.1 430.3,208.9 432.4,208.8 434.6,208.7 436.8,208.5 438.9,208.4 441.1,208.3 443.3,208.2 445.4,208.1 447.6,208.0 449.7,207.9 451.9,207.7 454.1,207.6 456.2,207.4 458.4,207.3 460.5,207.1 462.7,206.9 464.9,206.7 467,206.4 469.2,206.0 471.4,205.5 471.4,205.5 471.9,205.3 472.4,205.2 472.8,205.0 473.3,204.9 473.8,204.7 474.3,204.6 474.8,204.4 475.3,204.2 475.8,204.0 476.3,203.8 476.8,203.6 477.3,203.3 477.8,203.1 478.3,202.8 478.8,202.5 479.3,202.2 479.8,201.9 480.3,201.5 480.8,201.2 481.3,200.8 481.8,200.4 482.3,199.9 482.8,199.4 483.3,198.8 483.8,198.2 484.3,197.4 484.8,196.6 485.2,195.7 485.7,194.7 486.2,193.4 486.7,192.0 487.2,190.3 487.7,188.4 488.2,186.3" fill="none" stroke="#f3db91" stroke-width="1.35" stroke-linejoin="round" />
<path d="M375.8,298.5 376.3,282.4 376.7,270.2 377.2,259.7 377.7,250.0 378.1,242.8 378.6,238.3 379.1,234.8 379.5,232.0 380,229.8 380.5,227.8 380.9,226.0 381.4,224.4 381.8,223.0 382.3,221.9 382.8,221.1 383.2,220.3 383.7,219.6 384.2,219.1 384.6,218.6 385.1,218.3 385.6,218.1 386,218.0 386.5,217.8 387,217.7 387,217.7 389.1,217.3 391.3,216.8 393.4,216.3 395.6,215.7 397.7,215.1 399.8,214.4 402,213.7 404.1,213.0 406.3,212.5 408.4,211.9 410.6,211.4 412.7,211.0 414.9,210.6 417,210.3 419.2,210.0 421.3,209.7 423.5,209.5 425.6,209.3 427.8,209.1 429.9,208.9 432,208.7 434.2,208.6 436.3,208.5 438.5,208.4 440.6,208.3 442.8,208.2 444.9,208.1 447.1,208.0 449.2,207.8 451.4,207.7 453.5,207.5 455.7,207.4 457.8,207.2 460,207.1 462.1,206.9 464.2,206.6 466.4,206.4 468.5,205.9 470.7,205.4 470.7,205.4 471.2,205.3 471.7,205.1 472.2,205.0 472.7,204.8 473.2,204.7 473.6,204.5 474.1,204.3 474.6,204.2 475.1,204.0 475.6,203.7 476.1,203.5 476.6,203.2 477.1,203.0 477.6,202.7 478.1,202.4 478.6,202.1 479.1,201.8 479.6,201.4 480,201.1 480.5,200.7 481,200.2 481.5,199.7 482,199.2 482.5,198.6 483,198.0 483.5,197.3 484,196.4 484.5,195.5 485,194.5 485.5,193.3 486,191.8 486.4,190.2 486.9,188.4 487.4,186.3" fill="none" stroke="#f0e5a9" stroke-width="1.35" stroke-linejoin="round" />
<path d="M375.8,298.5 376.3,282.3 376.7,270.1 377.2,259.7 377.6,250.0 378.1,242.7 378.6,238.2 379,234.7 379.5,232.0 380,229.7 380.4,227.7 380.9,225.9 381.3,224.3 381.8,223.0 382.3,221.9 382.7,221.0 383.2,220.3 383.7,219.6 384.1,219.1 384.6,218.6 385,218.3 385.5,218.1 386,218.0 386.4,217.8 386.9,217.7 386.9,217.7 389,217.3 391.1,216.8 393.3,216.3 395.4,215.7 397.5,215.1 399.7,214.4 401.8,213.7 403.9,213.1 406.1,212.5 408.2,211.9 410.3,211.4 412.5,211.0 414.6,210.6 416.7,210.3 418.9,210.0 421,209.7 423.1,209.5 425.3,209.2 427.4,209.0 429.5,208.8 431.7,208.7 433.8,208.5 435.9,208.4 438,208.3 440.2,208.3 442.3,208.2 444.4,208.1 446.6,207.9 448.7,207.8 450.8,207.7 453,207.5 455.1,207.4 457.2,207.2 459.4,207.0 461.5,206.8 463.6,206.6 465.8,206.3 467.9,205.9 470,205.4 470,205.4 470.5,205.2 471,205.1 471.5,204.9 472,204.8 472.5,204.6 473,204.5 473.4,204.3 473.9,204.1 474.4,203.9 474.9,203.7 475.4,203.4 475.9,203.2 476.4,202.9 476.9,202.6 477.4,202.3 477.8,202.0 478.3,201.7 478.8,201.3 479.3,200.9 479.8,200.5 480.3,200.1 480.8,199.6 481.3,199.1 481.8,198.5 482.2,197.8 482.7,197.1 483.2,196.3 483.7,195.4 484.2,194.3 484.7,193.1 485.2,191.7 485.7,190.1 486.2,188.3 486.6,186.3" fill="none" stroke="#eaebcb" stroke-width="1.35" stroke-linejoin="round" />
<path d="M375.8,298.4 376.3,282.2 376.7,270.1 377.2,259.6 377.6,250.0 378.1,242.6 378.6,238.1 379,234.7 379.5,232.0 379.9,229.7 380.4,227.7 380.8,225.9 381.3,224.3 381.8,222.9 382.2,221.8 382.7,221.0 383.1,220.2 383.6,219.6 384.1,219.0 384.5,218.6 385,218.3 385.4,218.1 385.9,218.0 386.3,217.8 386.8,217.7 386.8,217.7 388.9,217.3 391,216.8 393.2,216.3 395.3,215.7 397.4,215.1 399.5,214.4 401.6,213.7 403.7,213.1 405.9,212.5 408,211.9 410.1,211.4 412.2,211.0 414.3,210.6 416.4,210.3 418.6,210.0 420.7,209.7 422.8,209.4 424.9,209.2 427,209.0 429.1,208.8 431.3,208.6 433.4,208.5 435.5,208.4 437.6,208.3 439.7,208.2 441.8,208.1 444,208.0 446.1,207.9 448.2,207.8 450.3,207.6 452.4,207.5 454.5,207.3 456.7,207.2 458.8,207.0 460.9,206.8 463,206.6 465.1,206.3 467.2,205.9 469.4,205.3 469.4,205.3 469.8,205.2 470.3,205.1 470.8,204.9 471.3,204.7 471.8,204.6 472.3,204.4 472.8,204.2 473.2,204.0 473.7,203.8 474.2,203.6 474.7,203.4 475.2,203.1 475.7,202.8 476.1,202.5 476.6,202.2 477.1,201.9 477.6,201.6 478.1,201.2 478.6,200.8 479.1,200.4 479.5,200.0 480,199.5 480.5,198.9 481,198.3 481.5,197.7 482,197.0 482.5,196.1 482.9,195.2 483.4,194.2 483.9,193.0 484.4,191.6 484.9,190.0 485.4,188.3 485.9,186.3" fill="none" stroke="#e4f1ed" stroke-width="1.35" stroke-linejoin="round" />
<path d="M375.8,298.4 376.3,282.1 376.7,270.0 377.2,259.6 377.6,249.9 378.1,242.6 378.5,238.1 379,234.6 379.4,231.9 379.9,229.7 380.4,227.7 380.8,225.9 381.3,224.2 381.7,222.9 382.2,221.8 382.6,221.0 383.1,220.2 383.5,219.6 384,219.0 384.5,218.6 384.9,218.3 385.4,218.1 385.8,217.9 386.3,217.8 386.7,217.7 386.7,217.7 388.8,217.3 390.9,216.8 393,216.3 395.1,215.7 397.2,215.1 399.3,214.4 401.4,213.7 403.5,213.1 405.6,212.5 407.7,211.9 409.8,211.4 411.9,211.0 414,210.6 416.1,210.3 418.2,210.0 420.3,209.7 422.5,209.4 424.6,209.2 426.7,208.9 428.8,208.7 430.9,208.6 433,208.5 435.1,208.4 437.2,208.3 439.3,208.2 441.4,208.1 443.5,208.0 445.6,207.9 447.7,207.7 449.8,207.6 451.9,207.5 454,207.3 456.1,207.2 458.2,207.0 460.3,206.8 462.4,206.6 464.5,206.3 466.6,205.9 468.7,205.3 468.7,205.3 469.2,205.2 469.6,205.0 470.1,204.9 470.6,204.7 471.1,204.5 471.6,204.4 472.1,204.2 472.5,204.0 473,203.8 473.5,203.6 474,203.3 474.5,203.0 474.9,202.8 475.4,202.5 475.9,202.1 476.4,201.8 476.9,201.5 477.4,201.1 477.8,200.7 478.3,200.3 478.8,199.9 479.3,199.4 479.8,198.8 480.3,198.2 480.7,197.6 481.2,196.8 481.7,196.0 482.2,195.1 482.7,194.0 483.1,192.9 483.6,191.5 484.1,190.0 484.6,188.2 485.1,186.3" fill="none" stroke="#d1e9f0" stroke-width="1.35" stroke-linejoin="round" />
<path d="M375.8,298.3 376.3,282.1 376.7,270.0 377.2,259.6 377.6,249.9 378.1,242.5 378.5,238.0 379,234.6 379.4,231.9 379.9,229.6 380.3,227.6 380.8,225.8 381.2,224.2 381.7,222.8 382.1,221.7 382.6,220.9 383,220.2 383.5,219.5 383.9,219.0 384.4,218.6 384.8,218.3 385.3,218.1 385.7,217.9 386.2,217.8 386.6,217.7 386.6,217.7 388.7,217.3 390.8,216.8 392.9,216.3 395,215.7 397.1,215.1 399.2,214.4 401.3,213.7 403.3,213.1 405.4,212.5 407.5,211.9 409.6,211.4 411.7,211.0 413.8,210.6 415.9,210.3 417.9,209.9 420,209.6 422.1,209.4 424.2,209.1 426.3,208.9 428.4,208.7 430.5,208.5 432.5,208.4 434.6,208.3 436.7,208.2 438.8,208.1 440.9,208.0 443,207.9 445.1,207.8 447.2,207.7 449.2,207.6 451.3,207.4 453.4,207.3 455.5,207.1 457.6,207.0 459.7,206.8 461.8,206.6 463.8,206.3 465.9,205.8 468,205.3 468,205.3 468.5,205.1 469,205.0 469.4,204.8 469.9,204.7 470.4,204.5 470.9,204.3 471.4,204.1 471.8,204.0 472.3,203.7 472.8,203.5 473.3,203.3 473.8,203.0 474.2,202.7 474.7,202.4 475.2,202.1 475.7,201.7 476.1,201.4 476.6,201.0 477.1,200.6 477.6,200.2 478.1,199.8 478.5,199.2 479,198.7 479.5,198.1 480,197.4 480.5,196.7 480.9,195.9 481.4,194.9 481.9,193.9 482.4,192.7 482.8,191.4 483.3,189.9 483.8,188.2 484.3,186.3" fill="none" stroke="#bbddea" stroke-width="1.35" stroke-linejoin="round" />
<path d="M375.8,298.3 376.2,282.0 376.7,269.9 377.1,259.6 377.6,249.9 378,242.5 378.5,238.0 378.9,234.6 379.4,231.9 379.8,229.6 380.3,227.6 380.7,225.8 381.2,224.2 381.6,222.8 382.1,221.7 382.5,220.9 383,220.2 383.4,219.5 383.9,219.0 384.3,218.6 384.8,218.3 385.2,218.1 385.7,217.9 386.1,217.8 386.6,217.7 386.6,217.7 388.6,217.2 390.7,216.8 392.8,216.3 394.9,215.7 396.9,215.1 399,214.4 401.1,213.7 403.1,213.1 405.2,212.5 407.3,211.9 409.4,211.4 411.4,211.0 413.5,210.6 415.6,210.3 417.6,209.9 419.7,209.6 421.8,209.4 423.8,209.1 425.9,208.9 428,208.7 430.1,208.5 432.1,208.4 434.2,208.3 436.3,208.2 438.3,208.1 440.4,208.0 442.5,207.9 444.6,207.8 446.6,207.7 448.7,207.6 450.8,207.4 452.8,207.3 454.9,207.1 457,207.0 459.1,206.8 461.1,206.5 463.2,206.2 465.3,205.8 467.3,205.3 467.3,205.3 467.8,205.1 468.3,205.0 468.8,204.8 469.2,204.6 469.7,204.5 470.2,204.3 470.7,204.1 471.1,203.9 471.6,203.7 472.1,203.5 472.6,203.2 473,202.9 473.5,202.6 474,202.3 474.5,202.0 474.9,201.7 475.4,201.3 475.9,201.0 476.4,200.6 476.8,200.1 477.3,199.7 477.8,199.1 478.3,198.6 478.7,198.0 479.2,197.3 479.7,196.6 480.2,195.7 480.6,194.8 481.1,193.8 481.6,192.6 482.1,191.3 482.5,189.8 483,188.2 483.5,186.3" fill="none" stroke="#a5d0e4" stroke-width="1.35" stroke-linejoin="round" />
<path d="M375.8,298.2 376.2,281.9 376.7,269.9 377.1,259.6 377.6,249.8 378,242.4 378.5,238.0 378.9,234.5 379.4,231.8 379.8,229.6 380.3,227.6 380.7,225.8 381.1,224.2 381.6,222.8 382,221.7 382.5,220.9 382.9,220.1 383.4,219.5 383.8,219.0 384.3,218.6 384.7,218.3 385.2,218.1 385.6,217.9 386,217.8 386.5,217.7 386.5,217.7 388.5,217.2 390.6,216.8 392.7,216.2 394.7,215.7 396.8,215.1 398.8,214.4 400.9,213.7 402.9,213.1 405,212.5 407.1,211.9 409.1,211.4 411.2,211.0 413.2,210.6 415.3,210.2 417.3,209.9 419.4,209.6 421.4,209.3 423.5,209.1 425.6,208.8 427.6,208.6 429.7,208.5 431.7,208.4 433.8,208.2 435.8,208.2 437.9,208.1 439.9,208.0 442,207.9 444.1,207.8 446.1,207.7 448.2,207.5 450.2,207.4 452.3,207.3 454.3,207.1 456.4,206.9 458.5,206.7 460.5,206.5 462.6,206.2 464.6,205.8 466.7,205.2 466.7,205.2 467.1,205.1 467.6,204.9 468.1,204.8 468.6,204.6 469,204.4 469.5,204.3 470,204.1 470.4,203.9 470.9,203.7 471.4,203.4 471.9,203.2 472.3,202.9 472.8,202.6 473.3,202.3 473.7,202.0 474.2,201.6 474.7,201.2 475.2,200.9 475.6,200.5 476.1,200.0 476.6,199.6 477.1,199.0 477.5,198.5 478,197.9 478.5,197.2 478.9,196.5 479.4,195.6 479.9,194.7 480.4,193.7 480.8,192.5 481.3,191.2 481.8,189.8 482.2,188.1 482.7,186.3" fill="none" stroke="#90c1dc" stroke-width="1.35" stroke-linejoin="round" />
<path d="M375.8,298.2 376.2,281.9 376.7,269.9 377.1,259.5 377.6,249.8 378,242.4 378.5,237.9 378.9,234.5 379.3,231.8 379.8,229.6 380.2,227.6 380.7,225.8 381.1,224.1 381.5,222.8 382,221.7 382.4,220.8 382.9,220.1 383.3,219.5 383.8,219.0 384.2,218.6 384.6,218.3 385.1,218.1 385.5,217.9 386,217.8 386.4,217.6 386.4,217.6 388.5,217.2 390.5,216.8 392.5,216.2 394.6,215.7 396.6,215.1 398.7,214.4 400.7,213.7 402.7,213.1 404.8,212.5 406.8,211.9 408.9,211.4 410.9,211.0 412.9,210.6 415,210.2 417,209.9 419.1,209.6 421.1,209.3 423.1,209.1 425.2,208.8 427.2,208.6 429.3,208.4 431.3,208.3 433.4,208.2 435.4,208.1 437.4,208.0 439.5,208.0 441.5,207.9 443.6,207.8 445.6,207.6 447.6,207.5 449.7,207.4 451.7,207.2 453.8,207.1 455.8,206.9 457.8,206.7 459.9,206.5 461.9,206.2 464,205.8 466,205.2 466,205.2 466.5,205.1 466.9,204.9 467.4,204.7 467.9,204.6 468.3,204.4 468.8,204.2 469.3,204.0 469.8,203.8 470.2,203.6 470.7,203.4 471.2,203.1 471.6,202.8 472.1,202.5 472.6,202.2 473,201.9 473.5,201.5 474,201.2 474.4,200.8 474.9,200.4 475.4,200.0 475.8,199.5 476.3,199.0 476.8,198.4 477.2,197.8 477.7,197.1 478.2,196.4 478.6,195.5 479.1,194.6 479.6,193.6 480.1,192.5 480.5,191.2 481,189.7 481.5,188.1 481.9,186.3" fill="none" stroke="#7cb1d5" stroke-width="1.35" stroke-linejoin="round" />
<path d="M375.8,298.1 376.2,281.8 376.7,269.9 377.1,259.5 377.6,249.8 378,242.3 378.4,237.9 378.9,234.5 379.3,231.8 379.8,229.5 380.2,227.6 380.6,225.7 381.1,224.1 381.5,222.7 381.9,221.6 382.4,220.8 382.8,220.1 383.3,219.5 383.7,219.0 384.1,218.5 384.6,218.2 385,218.1 385.5,217.9 385.9,217.8 386.3,217.6 386.3,217.6 388.4,217.2 390.4,216.8 392.4,216.2 394.4,215.6 396.5,215.0 398.5,214.4 400.5,213.7 402.5,213.1 404.6,212.5 406.6,211.9 408.6,211.4 410.6,211.0 412.7,210.6 414.7,210.2 416.7,209.9 418.7,209.6 420.8,209.3 422.8,209.0 424.8,208.8 426.8,208.6 428.9,208.4 430.9,208.3 432.9,208.2 435,208.1 437,208.0 439,207.9 441,207.8 443.1,207.7 445.1,207.6 447.1,207.5 449.1,207.4 451.2,207.2 453.2,207.1 455.2,206.9 457.2,206.7 459.3,206.5 461.3,206.2 463.3,205.8 465.3,205.2 465.3,205.2 465.8,205.0 466.3,204.9 466.7,204.7 467.2,204.6 467.7,204.4 468.1,204.2 468.6,204.0 469.1,203.8 469.5,203.6 470,203.3 470.4,203.1 470.9,202.8 471.4,202.5 471.8,202.2 472.3,201.8 472.8,201.5 473.2,201.1 473.7,200.8 474.2,200.3 474.6,199.9 475.1,199.4 475.6,198.9 476,198.3 476.5,197.7 477,197.0 477.4,196.3 477.9,195.5 478.3,194.5 478.8,193.5 479.3,192.4 479.7,191.1 480.2,189.7 480.7,188.1 481.1,186.3" fill="none" stroke="#68a0cd" stroke-width="1.35" stroke-linejoin="round" />
<path d="M375.8,298.1 376.2,281.8 376.7,269.8 377.1,259.5 377.5,249.8 378,242.3 378.4,237.9 378.8,234.5 379.3,231.8 379.7,229.5 380.2,227.5 380.6,225.7 381,224.1 381.5,222.7 381.9,221.6 382.3,220.8 382.8,220.1 383.2,219.5 383.6,219.0 384.1,218.5 384.5,218.2 384.9,218.0 385.4,217.9 385.8,217.8 386.3,217.6 386.3,217.6 388.3,217.2 390.3,216.8 392.3,216.2 394.3,215.6 396.3,215.0 398.3,214.4 400.3,213.8 402.3,213.1 404.3,212.5 406.4,211.9 408.4,211.4 410.4,211.0 412.4,210.6 414.4,210.2 416.4,209.9 418.4,209.6 420.4,209.3 422.4,209.0 424.5,208.8 426.5,208.6 428.5,208.4 430.5,208.3 432.5,208.2 434.5,208.1 436.5,208.0 438.5,207.9 440.5,207.8 442.6,207.7 444.6,207.6 446.6,207.5 448.6,207.4 450.6,207.2 452.6,207.1 454.6,206.9 456.6,206.7 458.6,206.5 460.6,206.2 462.7,205.8 464.7,205.2 464.7,205.2 465.1,205.0 465.6,204.9 466.1,204.7 466.5,204.5 467,204.4 467.4,204.2 467.9,204.0 468.4,203.8 468.8,203.6 469.3,203.3 469.7,203.1 470.2,202.8 470.7,202.5 471.1,202.1 471.6,201.8 472,201.5 472.5,201.1 473,200.7 473.4,200.3 473.9,199.8 474.4,199.4 474.8,198.8 475.3,198.2 475.7,197.6 476.2,197.0 476.7,196.2 477.1,195.4 477.6,194.5 478,193.4 478.5,192.3 479,191.0 479.4,189.6 479.9,188.0 480.3,186.3" fill="none" stroke="#5490c5" stroke-width="1.35" stroke-linejoin="round" />
<path d="M375.8,298.1 376.2,281.8 376.7,269.8 377.1,259.5 377.5,249.7 378,242.2 378.4,237.8 378.8,234.4 379.3,231.7 379.7,229.5 380.1,227.5 380.6,225.7 381,224.1 381.4,222.7 381.9,221.6 382.3,220.8 382.7,220.1 383.1,219.5 383.6,218.9 384,218.5 384.4,218.2 384.9,218.0 385.3,217.9 385.7,217.7 386.2,217.6 386.2,217.6 388.2,217.2 390.2,216.8 392.2,216.2 394.2,215.6 396.2,215.0 398.1,214.4 400.1,213.8 402.1,213.1 404.1,212.5 406.1,211.9 408.1,211.4 410.1,211.0 412.1,210.6 414.1,210.2 416.1,209.9 418.1,209.6 420.1,209.3 422.1,209.0 424.1,208.7 426.1,208.5 428.1,208.4 430.1,208.2 432.1,208.1 434.1,208.1 436.1,208.0 438.1,207.9 440.1,207.8 442,207.7 444,207.6 446,207.5 448,207.3 450,207.2 452,207.1 454,206.9 456,206.7 458,206.5 460,206.2 462,205.7 464,205.2 464,205.2 464.5,205.0 464.9,204.8 465.4,204.7 465.8,204.5 466.3,204.3 466.7,204.2 467.2,204.0 467.7,203.8 468.1,203.5 468.6,203.3 469,203.0 469.5,202.7 469.9,202.4 470.4,202.1 470.9,201.8 471.3,201.4 471.8,201.0 472.2,200.7 472.7,200.2 473.2,199.8 473.6,199.3 474.1,198.8 474.5,198.2 475,197.6 475.4,196.9 475.9,196.1 476.4,195.3 476.8,194.4 477.3,193.4 477.7,192.3 478.2,191.0 478.6,189.6 479.1,188.0 479.6,186.3" fill="none" stroke="#4a85bd" stroke-width="1.35" stroke-linejoin="round" />
<path d="M375.8,298.0 376.2,281.7 376.7,269.8 377.1,259.5 377.5,249.7 377.9,242.2 378.4,237.8 378.8,234.4 379.2,231.7 379.7,229.5 380.1,227.5 380.5,225.7 380.9,224.1 381.4,222.7 381.8,221.6 382.2,220.8 382.7,220.1 383.1,219.5 383.5,218.9 384,218.5 384.4,218.2 384.8,218.0 385.2,217.9 385.7,217.7 386.1,217.6 386.1,217.6 388.1,217.2 390.1,216.8 392,216.2 394,215.6 396,215.0 398,214.4 400,213.8 401.9,213.1 403.9,212.5 405.9,211.9 407.9,211.4 409.9,211.0 411.8,210.6 413.8,210.2 415.8,209.9 417.8,209.5 419.8,209.3 421.7,209.0 423.7,208.7 425.7,208.5 427.7,208.4 429.7,208.2 431.6,208.1 433.6,208.0 435.6,208.0 437.6,207.9 439.6,207.8 441.5,207.7 443.5,207.6 445.5,207.5 447.5,207.3 449.5,207.2 451.4,207.1 453.4,206.9 455.4,206.7 457.4,206.5 459.4,206.2 461.3,205.7 463.3,205.1 463.3,205.1 463.8,205.0 464.2,204.8 464.7,204.7 465.1,204.5 465.6,204.3 466.1,204.1 466.5,203.9 467,203.7 467.4,203.5 467.9,203.3 468.3,203.0 468.8,202.7 469.2,202.4 469.7,202.1 470.1,201.7 470.6,201.4 471.1,201.0 471.5,200.6 472,200.2 472.4,199.7 472.9,199.3 473.3,198.7 473.8,198.1 474.2,197.5 474.7,196.8 475.1,196.1 475.6,195.2 476,194.3 476.5,193.3 477,192.2 477.4,191.0 477.9,189.5 478.3,188.0 478.8,186.3" fill="none" stroke="#447bb5" stroke-width="1.35" stroke-linejoin="round" />
<path d="M375.8,298.0 376.2,281.7 376.7,269.8 377.1,259.5 377.5,249.7 377.9,242.2 378.4,237.8 378.8,234.4 379.2,231.7 379.6,229.5 380.1,227.5 380.5,225.7 380.9,224.0 381.3,222.7 381.8,221.6 382.2,220.8 382.6,220.1 383,219.5 383.5,218.9 383.9,218.5 384.3,218.2 384.7,218.0 385.2,217.9 385.6,217.7 386,217.6 386,217.6 388,217.2 389.9,216.8 391.9,216.2 393.9,215.6 395.8,215.0 397.8,214.4 399.8,213.8 401.7,213.1 403.7,212.5 405.7,211.9 407.6,211.4 409.6,211.0 411.6,210.6 413.5,210.2 415.5,209.9 417.5,209.5 419.4,209.2 421.4,209.0 423.4,208.7 425.3,208.5 427.3,208.3 429.3,208.2 431.2,208.1 433.2,208.0 435.1,207.9 437.1,207.9 439.1,207.8 441,207.7 443,207.6 445,207.4 446.9,207.3 448.9,207.2 450.9,207.0 452.8,206.9 454.8,206.7 456.8,206.5 458.7,206.2 460.7,205.7 462.7,205.1 462.7,205.1 463.1,205.0 463.6,204.8 464,204.7 464.5,204.5 464.9,204.3 465.4,204.1 465.8,203.9 466.3,203.7 466.7,203.5 467.2,203.2 467.6,203.0 468.1,202.7 468.5,202.4 469,202.1 469.4,201.7 469.9,201.3 470.3,201.0 470.8,200.6 471.2,200.2 471.7,199.7 472.1,199.2 472.6,198.7 473,198.1 473.5,197.5 473.9,196.8 474.4,196.0 474.8,195.2 475.3,194.3 475.7,193.3 476.2,192.2 476.6,190.9 477.1,189.5 477.5,188.0 478,186.3" fill="none" stroke="#3e71ad" stroke-width="1.35" stroke-linejoin="round" />
<path d="M375.8,298.0 376.2,281.7 376.6,269.8 377.1,259.5 377.5,249.7 377.9,242.2 378.3,237.8 378.8,234.4 379.2,231.7 379.6,229.5 380,227.5 380.4,225.7 380.9,224.0 381.3,222.6 381.7,221.6 382.1,220.8 382.6,220.1 383,219.4 383.4,218.9 383.8,218.5 384.2,218.2 384.7,218.0 385.1,217.9 385.5,217.7 385.9,217.6 385.9,217.6 387.9,217.2 389.8,216.8 391.8,216.2 393.7,215.6 395.7,215.0 397.6,214.4 399.6,213.8 401.5,213.1 403.5,212.5 405.4,211.9 407.4,211.4 409.3,211.0 411.3,210.6 413.2,210.2 415.2,209.9 417.1,209.5 419.1,209.2 421,209.0 423,208.7 424.9,208.5 426.9,208.3 428.8,208.2 430.8,208.1 432.7,208.0 434.7,207.9 436.6,207.9 438.6,207.8 440.5,207.7 442.5,207.6 444.4,207.4 446.4,207.3 448.3,207.2 450.3,207.0 452.2,206.9 454.2,206.7 456.1,206.5 458.1,206.2 460,205.7 462,205.1 462,205.1 462.4,205.0 462.9,204.8 463.3,204.6 463.8,204.5 464.2,204.3 464.7,204.1 465.1,203.9 465.6,203.7 466,203.5 466.5,203.2 466.9,203.0 467.4,202.7 467.8,202.4 468.3,202.0 468.7,201.7 469.1,201.3 469.6,200.9 470,200.6 470.5,200.1 470.9,199.7 471.4,199.2 471.8,198.6 472.3,198.0 472.7,197.4 473.2,196.7 473.6,196.0 474.1,195.2 474.5,194.2 475,193.2 475.4,192.1 475.9,190.9 476.3,189.5 476.8,188.0 477.2,186.3" fill="none" stroke="#3868a5" stroke-width="1.35" stroke-linejoin="round" />
<path d="M375.8,298.0 376.2,281.7 376.6,269.7 377.1,259.5 377.5,249.7 377.9,242.2 378.3,237.8 378.7,234.4 379.2,231.7 379.6,229.5 380,227.5 380.4,225.7 380.8,224.0 381.2,222.6 381.7,221.5 382.1,220.8 382.5,220.1 382.9,219.4 383.3,218.9 383.8,218.5 384.2,218.2 384.6,218.0 385,217.9 385.4,217.7 385.9,217.6 385.9,217.6 387.8,217.2 389.7,216.8 391.7,216.2 393.6,215.6 395.5,215.0 397.5,214.4 399.4,213.8 401.3,213.1 403.3,212.5 405.2,211.9 407.1,211.4 409.1,211.0 411,210.6 412.9,210.2 414.9,209.8 416.8,209.5 418.8,209.2 420.7,209.0 422.6,208.7 424.6,208.5 426.5,208.3 428.4,208.2 430.4,208.1 432.3,208.0 434.2,207.9 436.2,207.8 438.1,207.8 440,207.7 442,207.5 443.9,207.4 445.8,207.3 447.8,207.2 449.7,207.0 451.6,206.9 453.6,206.7 455.5,206.4 457.5,206.2 459.4,205.7 461.3,205.1 461.3,205.1 461.8,205.0 462.2,204.8 462.7,204.6 463.1,204.5 463.5,204.3 464,204.1 464.4,203.9 464.9,203.7 465.3,203.5 465.8,203.2 466.2,202.9 466.6,202.7 467.1,202.3 467.5,202.0 468,201.7 468.4,201.3 468.9,200.9 469.3,200.5 469.8,200.1 470.2,199.7 470.6,199.2 471.1,198.6 471.5,198.0 472,197.4 472.4,196.7 472.9,196.0 473.3,195.1 473.7,194.2 474.2,193.2 474.6,192.1 475.1,190.9 475.5,189.5 476,188.0 476.4,186.3" fill="none" stroke="#335f9e" stroke-width="1.35" stroke-linejoin="round" />
<path d="M375.8,298.0 376.2,281.7 376.6,269.7 377,259.5 377.5,249.7 377.9,242.1 378.3,237.7 378.7,234.4 379.1,231.7 379.5,229.5 380,227.5 380.4,225.7 380.8,224.0 381.2,222.6 381.6,221.5 382,220.7 382.5,220.1 382.9,219.4 383.3,218.9 383.7,218.5 384.1,218.2 384.5,218.0 385,217.9 385.4,217.7 385.8,217.6 385.8,217.6 387.7,217.2 389.6,216.8 391.5,216.2 393.5,215.6 395.4,215.0 397.3,214.4 399.2,213.8 401.1,213.1 403.1,212.5 405,211.9 406.9,211.4 408.8,211.0 410.7,210.6 412.7,210.2 414.6,209.8 416.5,209.5 418.4,209.2 420.3,208.9 422.3,208.7 424.2,208.5 426.1,208.3 428,208.2 429.9,208.1 431.9,208.0 433.8,207.9 435.7,207.8 437.6,207.8 439.5,207.7 441.5,207.5 443.4,207.4 445.3,207.3 447.2,207.2 449.1,207.0 451.1,206.9 453,206.7 454.9,206.4 456.8,206.2 458.7,205.7 460.7,205.1 460.7,205.1 461.1,205.0 461.5,204.8 462,204.6 462.4,204.5 462.9,204.3 463.3,204.1 463.7,203.9 464.2,203.7 464.6,203.5 465.1,203.2 465.5,202.9 465.9,202.6 466.4,202.3 466.8,202.0 467.3,201.7 467.7,201.3 468.1,200.9 468.6,200.5 469,200.1 469.5,199.6 469.9,199.1 470.3,198.6 470.8,198.0 471.2,197.4 471.7,196.7 472.1,195.9 472.5,195.1 473,194.2 473.4,193.2 473.9,192.1 474.3,190.9 474.7,189.5 475.2,188.0 475.6,186.3" fill="none" stroke="#315a98" stroke-width="1.35" stroke-linejoin="round" />
<path d="M375.8,298.0 376.2,281.7 376.6,269.7 377,259.5 377.5,249.7 377.9,242.1 378.3,237.7 378.7,234.4 379.1,231.7 379.5,229.5 379.9,227.5 380.3,225.7 380.8,224.0 381.2,222.6 381.6,221.5 382,220.7 382.4,220.1 382.8,219.4 383.2,218.9 383.6,218.5 384.1,218.2 384.5,218.0 384.9,217.9 385.3,217.7 385.7,217.6 385.7,217.6 387.6,217.2 389.5,216.8 391.4,216.2 393.3,215.6 395.2,215.0 397.1,214.4 399,213.8 400.9,213.1 402.8,212.5 404.7,211.9 406.7,211.4 408.6,211.0 410.5,210.6 412.4,210.2 414.3,209.8 416.2,209.5 418.1,209.2 420,208.9 421.9,208.7 423.8,208.5 425.7,208.3 427.6,208.2 429.5,208.1 431.4,208.0 433.3,207.9 435.2,207.8 437.1,207.8 439,207.7 440.9,207.5 442.8,207.4 444.7,207.3 446.6,207.2 448.6,207.0 450.5,206.9 452.4,206.7 454.3,206.4 456.2,206.1 458.1,205.7 460,205.1 460,205.1 460.4,205.0 460.9,204.8 461.3,204.6 461.7,204.4 462.2,204.3 462.6,204.1 463,203.9 463.5,203.7 463.9,203.5 464.4,203.2 464.8,202.9 465.2,202.6 465.7,202.3 466.1,202.0 466.5,201.6 467,201.3 467.4,200.9 467.8,200.5 468.3,200.1 468.7,199.6 469.2,199.1 469.6,198.6 470,198.0 470.5,197.4 470.9,196.7 471.3,195.9 471.8,195.1 472.2,194.2 472.7,193.2 473.1,192.1 473.5,190.8 474,189.5 474.4,187.9 474.8,186.3" fill="none" stroke="#2f5492" stroke-width="1.35" stroke-linejoin="round" />
<path d="M375.8,298.0 376.2,281.7 376.6,269.7 377,259.5 377.4,249.7 377.8,242.1 378.3,237.7 378.7,234.4 379.1,231.7 379.5,229.5 379.9,227.5 380.3,225.6 380.7,224.0 381.1,222.6 381.5,221.5 381.9,220.7 382.3,220.0 382.8,219.4 383.2,218.9 383.6,218.5 384,218.2 384.4,218.0 384.8,217.9 385.2,217.7 385.6,217.6 385.6,217.6 387.5,217.2 389.4,216.8 391.3,216.2 393.2,215.6 395.1,215.0 397,214.4 398.9,213.8 400.7,213.1 402.6,212.5 404.5,211.9 406.4,211.4 408.3,211.0 410.2,210.6 412.1,210.2 414,209.8 415.9,209.5 417.7,209.2 419.6,208.9 421.5,208.7 423.4,208.5 425.3,208.3 427.2,208.2 429.1,208.1 431,208.0 432.9,207.9 434.7,207.8 436.6,207.7 438.5,207.7 440.4,207.5 442.3,207.4 444.2,207.3 446.1,207.2 448,207.0 449.9,206.9 451.8,206.7 453.6,206.4 455.5,206.1 457.4,205.7 459.3,205.1 459.3,205.1 459.7,204.9 460.2,204.8 460.6,204.6 461,204.4 461.5,204.3 461.9,204.1 462.3,203.9 462.8,203.7 463.2,203.5 463.6,203.2 464.1,202.9 464.5,202.6 464.9,202.3 465.4,202.0 465.8,201.6 466.2,201.3 466.7,200.9 467.1,200.5 467.5,200.1 468,199.6 468.4,199.1 468.8,198.6 469.3,198.0 469.7,197.3 470.1,196.7 470.6,195.9 471,195.1 471.4,194.2 471.9,193.1 472.3,192.1 472.7,190.8 473.2,189.5 473.6,187.9 474,186.3" fill="none" stroke="#2e4f8c" stroke-width="1.35" stroke-linejoin="round" />
<path d="M375.8,298.0 376.2,281.7 376.6,269.7 377,259.5 377.4,249.7 377.8,242.1 378.2,237.7 378.6,234.4 379,231.7 379.5,229.5 379.9,227.5 380.3,225.6 380.7,224.0 381.1,222.6 381.5,221.5 381.9,220.7 382.3,220.0 382.7,219.4 383.1,218.9 383.5,218.5 383.9,218.2 384.3,218.0 384.7,217.9 385.1,217.7 385.5,217.6 385.5,217.6 387.4,217.2 389.3,216.8 391.2,216.2 393,215.6 394.9,215.0 396.8,214.4 398.7,213.8 400.5,213.1 402.4,212.5 404.3,211.9 406.2,211.4 408,211.0 409.9,210.6 411.8,210.2 413.7,209.8 415.5,209.5 417.4,209.2 419.3,208.9 421.2,208.7 423,208.5 424.9,208.3 426.8,208.2 428.7,208.1 430.5,208.0 432.4,207.9 434.3,207.8 436.2,207.7 438,207.7 439.9,207.5 441.8,207.4 443.6,207.3 445.5,207.2 447.4,207.0 449.3,206.9 451.1,206.7 453,206.4 454.9,206.1 456.8,205.7 458.6,205.1 458.6,205.1 459.1,204.9 459.5,204.8 459.9,204.6 460.4,204.4 460.8,204.3 461.2,204.1 461.7,203.9 462.1,203.7 462.5,203.5 462.9,203.2 463.4,202.9 463.8,202.6 464.2,202.3 464.7,202.0 465.1,201.6 465.5,201.3 466,200.9 466.4,200.5 466.8,200.1 467.2,199.6 467.7,199.1 468.1,198.6 468.5,198.0 469,197.3 469.4,196.7 469.8,195.9 470.3,195.1 470.7,194.2 471.1,193.1 471.5,192.1 472,190.8 472.4,189.5 472.8,187.9 473.3,186.3" fill="none" stroke="#2c4a86" stroke-width="1.35" stroke-linejoin="round" />
</g>
<rect x="371" y="174.3" width="136.9" height="141.2" fill="none" stroke="#5c5c5c" stroke-width="1.1"/>
<line x1="371" y1="307.1" x2="373.2" y2="307.1" stroke="#5c5c5c" stroke-width="1" />
<line x1="371" y1="290.5" x2="373.2" y2="290.5" stroke="#5c5c5c" stroke-width="1" />
<line x1="371" y1="273.9" x2="373.2" y2="273.9" stroke="#5c5c5c" stroke-width="1" />
<line x1="371" y1="257.3" x2="373.2" y2="257.3" stroke="#5c5c5c" stroke-width="1" />
<line x1="371" y1="240.7" x2="373.2" y2="240.7" stroke="#5c5c5c" stroke-width="1" />
<line x1="371" y1="224.1" x2="373.2" y2="224.1" stroke="#5c5c5c" stroke-width="1" />
<line x1="371" y1="207.5" x2="373.2" y2="207.5" stroke="#5c5c5c" stroke-width="1" />
<line x1="371" y1="190.9" x2="373.2" y2="190.9" stroke="#5c5c5c" stroke-width="1" />
<line x1="371" y1="174.3" x2="373.2" y2="174.3" stroke="#5c5c5c" stroke-width="1" />
<line x1="371" y1="315.4" x2="372.3" y2="315.4" stroke="#5c5c5c" stroke-width="1" />
<line x1="371" y1="298.8" x2="372.3" y2="298.8" stroke="#5c5c5c" stroke-width="1" />
<line x1="371" y1="282.2" x2="372.3" y2="282.2" stroke="#5c5c5c" stroke-width="1" />
<line x1="371" y1="265.6" x2="372.3" y2="265.6" stroke="#5c5c5c" stroke-width="1" />
<line x1="371" y1="249" x2="372.3" y2="249" stroke="#5c5c5c" stroke-width="1" />
<line x1="371" y1="232.4" x2="372.3" y2="232.4" stroke="#5c5c5c" stroke-width="1" />
<line x1="371" y1="215.8" x2="372.3" y2="215.8" stroke="#5c5c5c" stroke-width="1" />
<line x1="371" y1="199.2" x2="372.3" y2="199.2" stroke="#5c5c5c" stroke-width="1" />
<line x1="371" y1="182.6" x2="372.3" y2="182.6" stroke="#5c5c5c" stroke-width="1" />
<line x1="507.9" y1="307.1" x2="505.7" y2="307.1" stroke="#5c5c5c" stroke-width="1" />
<line x1="507.9" y1="290.5" x2="505.7" y2="290.5" stroke="#5c5c5c" stroke-width="1" />
<line x1="507.9" y1="273.9" x2="505.7" y2="273.9" stroke="#5c5c5c" stroke-width="1" />
<line x1="507.9" y1="257.3" x2="505.7" y2="257.3" stroke="#5c5c5c" stroke-width="1" />
<line x1="507.9" y1="240.7" x2="505.7" y2="240.7" stroke="#5c5c5c" stroke-width="1" />
<line x1="507.9" y1="224.1" x2="505.7" y2="224.1" stroke="#5c5c5c" stroke-width="1" />
<line x1="507.9" y1="207.5" x2="505.7" y2="207.5" stroke="#5c5c5c" stroke-width="1" />
<line x1="507.9" y1="190.9" x2="505.7" y2="190.9" stroke="#5c5c5c" stroke-width="1" />
<line x1="507.9" y1="174.3" x2="505.7" y2="174.3" stroke="#5c5c5c" stroke-width="1" />
<line x1="507.9" y1="315.4" x2="506.6" y2="315.4" stroke="#5c5c5c" stroke-width="1" />
<line x1="507.9" y1="298.8" x2="506.6" y2="298.8" stroke="#5c5c5c" stroke-width="1" />
<line x1="507.9" y1="282.2" x2="506.6" y2="282.2" stroke="#5c5c5c" stroke-width="1" />
<line x1="507.9" y1="265.6" x2="506.6" y2="265.6" stroke="#5c5c5c" stroke-width="1" />
<line x1="507.9" y1="249" x2="506.6" y2="249" stroke="#5c5c5c" stroke-width="1" />
<line x1="507.9" y1="232.4" x2="506.6" y2="232.4" stroke="#5c5c5c" stroke-width="1" />
<line x1="507.9" y1="215.8" x2="506.6" y2="215.8" stroke="#5c5c5c" stroke-width="1" />
<line x1="507.9" y1="199.2" x2="506.6" y2="199.2" stroke="#5c5c5c" stroke-width="1" />
<line x1="507.9" y1="182.6" x2="506.6" y2="182.6" stroke="#5c5c5c" stroke-width="1" />
<line x1="375.8" y1="315.5" x2="375.8" y2="313.3" stroke="#5c5c5c" stroke-width="1" />
<line x1="402.4" y1="315.5" x2="402.4" y2="313.3" stroke="#5c5c5c" stroke-width="1" />
<line x1="429" y1="315.5" x2="429" y2="313.3" stroke="#5c5c5c" stroke-width="1" />
<line x1="455.6" y1="315.5" x2="455.6" y2="313.3" stroke="#5c5c5c" stroke-width="1" />
<line x1="482.2" y1="315.5" x2="482.2" y2="313.3" stroke="#5c5c5c" stroke-width="1" />
<line x1="508.8" y1="315.5" x2="508.8" y2="313.3" stroke="#5c5c5c" stroke-width="1" />
<line x1="389.1" y1="315.5" x2="389.1" y2="314.2" stroke="#5c5c5c" stroke-width="1" />
<line x1="415.7" y1="315.5" x2="415.7" y2="314.2" stroke="#5c5c5c" stroke-width="1" />
<line x1="442.3" y1="315.5" x2="442.3" y2="314.2" stroke="#5c5c5c" stroke-width="1" />
<line x1="468.9" y1="315.5" x2="468.9" y2="314.2" stroke="#5c5c5c" stroke-width="1" />
<line x1="495.5" y1="315.5" x2="495.5" y2="314.2" stroke="#5c5c5c" stroke-width="1" />
<line x1="375.8" y1="174.3" x2="375.8" y2="176.5" stroke="#5c5c5c" stroke-width="1" />
<line x1="402.4" y1="174.3" x2="402.4" y2="176.5" stroke="#5c5c5c" stroke-width="1" />
<line x1="429" y1="174.3" x2="429" y2="176.5" stroke="#5c5c5c" stroke-width="1" />
<line x1="455.6" y1="174.3" x2="455.6" y2="176.5" stroke="#5c5c5c" stroke-width="1" />
<line x1="482.2" y1="174.3" x2="482.2" y2="176.5" stroke="#5c5c5c" stroke-width="1" />
<line x1="508.8" y1="174.3" x2="508.8" y2="176.5" stroke="#5c5c5c" stroke-width="1" />
<line x1="389.1" y1="174.3" x2="389.1" y2="175.6" stroke="#5c5c5c" stroke-width="1" />
<line x1="415.7" y1="174.3" x2="415.7" y2="175.6" stroke="#5c5c5c" stroke-width="1" />
<line x1="442.3" y1="174.3" x2="442.3" y2="175.6" stroke="#5c5c5c" stroke-width="1" />
<line x1="468.9" y1="174.3" x2="468.9" y2="175.6" stroke="#5c5c5c" stroke-width="1" />
<line x1="495.5" y1="174.3" x2="495.5" y2="175.6" stroke="#5c5c5c" stroke-width="1" />
<text x="368" y="309.9" font-size="8" text-anchor="end" fill="#242424" font-weight="normal" font-family='"Liberation Serif", serif' >2.2</text>
<text x="368" y="293.3" font-size="8" text-anchor="end" fill="#242424" font-weight="normal" font-family='"Liberation Serif", serif' >2.4</text>
<text x="368" y="276.7" font-size="8" text-anchor="end" fill="#242424" font-weight="normal" font-family='"Liberation Serif", serif' >2.6</text>
<text x="368" y="260.1" font-size="8" text-anchor="end" fill="#242424" font-weight="normal" font-family='"Liberation Serif", serif' >2.8</text>
<text x="368" y="243.5" font-size="8" text-anchor="end" fill="#242424" font-weight="normal" font-family='"Liberation Serif", serif' >3.0</text>
<text x="368" y="226.9" font-size="8" text-anchor="end" fill="#242424" font-weight="normal" font-family='"Liberation Serif", serif' >3.2</text>
<text x="368" y="210.3" font-size="8" text-anchor="end" fill="#242424" font-weight="normal" font-family='"Liberation Serif", serif' >3.4</text>
<text x="368" y="193.7" font-size="8" text-anchor="end" fill="#242424" font-weight="normal" font-family='"Liberation Serif", serif' >3.6</text>
<text x="368" y="177.1" font-size="8" text-anchor="end" fill="#242424" font-weight="normal" font-family='"Liberation Serif", serif' >3.8</text>
<text x="375.8" y="324.8" font-size="8" text-anchor="middle" fill="#242424" font-weight="normal" font-family='"Liberation Serif", serif' >0.0</text>
<text x="402.4" y="324.8" font-size="8" text-anchor="middle" fill="#242424" font-weight="normal" font-family='"Liberation Serif", serif' >0.5</text>
<text x="429" y="324.8" font-size="8" text-anchor="middle" fill="#242424" font-weight="normal" font-family='"Liberation Serif", serif' >1.0</text>
<text x="455.6" y="324.8" font-size="8" text-anchor="middle" fill="#242424" font-weight="normal" font-family='"Liberation Serif", serif' >1.5</text>
<text x="482.2" y="324.8" font-size="8" text-anchor="middle" fill="#242424" font-weight="normal" font-family='"Liberation Serif", serif' >2.0</text>
<text x="508.8" y="324.8" font-size="8" text-anchor="middle" fill="#242424" font-weight="normal" font-family='"Liberation Serif", serif' >2.5</text>
<text x="439.6" y="336.4" font-size="11.9" text-anchor="middle" fill="#242424" font-weight="normal" font-family='"Liberation Serif", serif' >Charge capacity (Ah)</text>
<text x="0" y="0" font-size="12.6" text-anchor="middle" fill="#242424" font-weight="normal" font-family='"Liberation Serif", serif' transform="translate(349.6,244.2) rotate(-90)" dominant-baseline="central">Voltage (V)</text>
<text x="346.6" y="183.8" font-size="12.5" text-anchor="start" fill="#111" font-weight="bold" font-family='"Liberation Sans", sans-serif' >e</text>
<rect x="427.6" y="217" width="60" height="46.7" fill="#ededed"/>
<text x="457.7" y="229.7" font-size="11" text-anchor="middle" fill="#242424" font-weight="bold" font-family='"Liberation Serif", serif' >VALENCE</text>
<text x="457.7" y="244.7" font-size="11" text-anchor="middle" fill="#242424" font-weight="normal" font-family='"Liberation Serif", serif' >LFP battery</text>
<text x="457.7" y="259.8" font-size="11" text-anchor="middle" fill="#242424" font-weight="bold" font-family='"Liberation Serif", serif' >(#3)</text>
<text x="457.7" y="276" font-size="11.3" text-anchor="middle" fill="#242424" font-weight="normal" font-family='"Liberation Serif", serif' >State of health</text>
<rect x="419.5" y="281.9" width="76.7" height="8.7" fill="url(#cbar)" stroke="#555" stroke-width="0.5"/>
<line x1="438.68" y1="290.6" x2="438.68" y2="289.3" stroke="#333" stroke-width="0.8" />
<line x1="457.85" y1="290.6" x2="457.85" y2="289.3" stroke="#333" stroke-width="0.8" />
<line x1="477.02" y1="290.6" x2="477.02" y2="289.3" stroke="#333" stroke-width="0.8" />
<text x="424.4" y="301.8" font-size="9.6" text-anchor="middle" fill="#242424" font-weight="normal" font-family='"Liberation Serif", serif' >80%</text>
<text x="496.2" y="301.8" font-size="9.6" text-anchor="middle" fill="#242424" font-weight="normal" font-family='"Liberation Serif", serif' >100%</text>
<rect x="377.1" y="401.55" width="12.47" height="9.35" fill="url(#barg)" stroke="#4a4a4a" stroke-width="0.8"/>
<rect x="389.57" y="391.71" width="12.47" height="19.19" fill="url(#barg)" stroke="#4a4a4a" stroke-width="0.8"/>
<rect x="402.04" y="362.68" width="12.47" height="48.22" fill="url(#barg)" stroke="#4a4a4a" stroke-width="0.8"/>
<rect x="414.51" y="347.6" width="12.47" height="63.3" fill="url(#barg)" stroke="#4a4a4a" stroke-width="0.8"/>
<rect x="426.98" y="352.84" width="12.47" height="58.06" fill="url(#barg)" stroke="#4a4a4a" stroke-width="0.8"/>
<rect x="439.45" y="360.72" width="12.47" height="50.18" fill="url(#barg)" stroke="#4a4a4a" stroke-width="0.8"/>
<rect x="451.92" y="374.82" width="12.47" height="36.08" fill="url(#barg)" stroke="#4a4a4a" stroke-width="0.8"/>
<rect x="464.39" y="369.74" width="12.47" height="41.16" fill="url(#barg)" stroke="#4a4a4a" stroke-width="0.8"/>
<rect x="476.86" y="359.9" width="12.47" height="51" fill="url(#barg)" stroke="#4a4a4a" stroke-width="0.8"/>
<rect x="489.33" y="401.55" width="12.47" height="9.35" fill="url(#barg)" stroke="#4a4a4a" stroke-width="0.8"/>
<rect x="370.7" y="341.1" width="137.4" height="69.8" fill="none" stroke="#5c5c5c" stroke-width="1.1"/>
<line x1="370.7" y1="410.9" x2="372.9" y2="410.9" stroke="#5c5c5c" stroke-width="1" />
<line x1="370.7" y1="394.5" x2="372.9" y2="394.5" stroke="#5c5c5c" stroke-width="1" />
<line x1="370.7" y1="378.1" x2="372.9" y2="378.1" stroke="#5c5c5c" stroke-width="1" />
<line x1="370.7" y1="361.7" x2="372.9" y2="361.7" stroke="#5c5c5c" stroke-width="1" />
<line x1="370.7" y1="345.3" x2="372.9" y2="345.3" stroke="#5c5c5c" stroke-width="1" />
<line x1="508.1" y1="410.9" x2="505.9" y2="410.9" stroke="#5c5c5c" stroke-width="1" />
<line x1="508.1" y1="394.5" x2="505.9" y2="394.5" stroke="#5c5c5c" stroke-width="1" />
<line x1="508.1" y1="378.1" x2="505.9" y2="378.1" stroke="#5c5c5c" stroke-width="1" />
<line x1="508.1" y1="361.7" x2="505.9" y2="361.7" stroke="#5c5c5c" stroke-width="1" />
<line x1="508.1" y1="345.3" x2="505.9" y2="345.3" stroke="#5c5c5c" stroke-width="1" />
<line x1="383.34" y1="341.1" x2="383.34" y2="343.3" stroke="#5c5c5c" stroke-width="1" />
<line x1="395.81" y1="341.1" x2="395.81" y2="343.3" stroke="#5c5c5c" stroke-width="1" />
<line x1="408.28" y1="341.1" x2="408.28" y2="343.3" stroke="#5c5c5c" stroke-width="1" />
<line x1="420.75" y1="341.1" x2="420.75" y2="343.3" stroke="#5c5c5c" stroke-width="1" />
<line x1="433.22" y1="341.1" x2="433.22" y2="343.3" stroke="#5c5c5c" stroke-width="1" />
<line x1="445.69" y1="341.1" x2="445.69" y2="343.3" stroke="#5c5c5c" stroke-width="1" />
<line x1="458.16" y1="341.1" x2="458.16" y2="343.3" stroke="#5c5c5c" stroke-width="1" />
<line x1="470.62" y1="341.1" x2="470.62" y2="343.3" stroke="#5c5c5c" stroke-width="1" />
<line x1="483.1" y1="341.1" x2="483.1" y2="343.3" stroke="#5c5c5c" stroke-width="1" />
<line x1="495.56" y1="341.1" x2="495.56" y2="343.3" stroke="#5c5c5c" stroke-width="1" />
<line x1="377.1" y1="410.9" x2="377.1" y2="408.7" stroke="#5c5c5c" stroke-width="1" />
<line x1="389.57" y1="410.9" x2="389.57" y2="408.7" stroke="#5c5c5c" stroke-width="1" />
<line x1="402.04" y1="410.9" x2="402.04" y2="408.7" stroke="#5c5c5c" stroke-width="1" />
<line x1="414.51" y1="410.9" x2="414.51" y2="408.7" stroke="#5c5c5c" stroke-width="1" />
<line x1="426.98" y1="410.9" x2="426.98" y2="408.7" stroke="#5c5c5c" stroke-width="1" />
<line x1="439.45" y1="410.9" x2="439.45" y2="408.7" stroke="#5c5c5c" stroke-width="1" />
<line x1="451.92" y1="410.9" x2="451.92" y2="408.7" stroke="#5c5c5c" stroke-width="1" />
<line x1="464.39" y1="410.9" x2="464.39" y2="408.7" stroke="#5c5c5c" stroke-width="1" />
<line x1="476.86" y1="410.9" x2="476.86" y2="408.7" stroke="#5c5c5c" stroke-width="1" />
<line x1="489.33" y1="410.9" x2="489.33" y2="408.7" stroke="#5c5c5c" stroke-width="1" />
<line x1="501.8" y1="410.9" x2="501.8" y2="408.7" stroke="#5c5c5c" stroke-width="1" />
<text x="367.7" y="413.7" font-size="8" text-anchor="end" fill="#242424" font-weight="normal" font-family='"Liberation Serif", serif' >0</text>
<text x="367.7" y="397.3" font-size="8" text-anchor="end" fill="#242424" font-weight="normal" font-family='"Liberation Serif", serif' >100</text>
<text x="367.7" y="380.9" font-size="8" text-anchor="end" fill="#242424" font-weight="normal" font-family='"Liberation Serif", serif' >200</text>
<text x="367.7" y="364.5" font-size="8" text-anchor="end" fill="#242424" font-weight="normal" font-family='"Liberation Serif", serif' >300</text>
<text x="367.7" y="348.1" font-size="8" text-anchor="end" fill="#242424" font-weight="normal" font-family='"Liberation Serif", serif' >400</text>
<text x="377.1" y="420.6" font-size="8.6" text-anchor="middle" fill="#242424" font-weight="normal" font-family='"Liberation Serif", serif' >80%</text>
<text x="439.45" y="420.6" font-size="8.6" text-anchor="middle" fill="#242424" font-weight="normal" font-family='"Liberation Serif", serif' >90%</text>
<text x="501.8" y="420.6" font-size="8.6" text-anchor="middle" fill="#242424" font-weight="normal" font-family='"Liberation Serif", serif' >100%</text>
<text x="439.1" y="430.8" font-size="11.8" text-anchor="middle" fill="#242424" font-weight="normal" font-family='"Liberation Serif", serif' >State of health</text>
<text x="0" y="0" font-size="11.7" text-anchor="middle" fill="#242424" font-weight="normal" font-family='"Liberation Serif", serif' transform="translate(348,375.9) rotate(-90)" dominant-baseline="central">Samples</text>
<g>
<path d="M547.1,300.5 547.6,284.7 548.1,271.7 548.7,260.3 549.2,251.2 549.7,245.0 550.2,240.0 550.7,236.1 551.3,233.2 551.8,230.8 552.3,228.7 552.8,227.0 553.4,225.5 553.9,224.3 554.4,223.2 554.9,222.1 555.4,221.1 556,220.3 556.5,219.6 557,219.1 557.5,218.8 558,218.6 558.6,218.4 559.1,218.2 559.6,218.1 559.6,218.1 562,217.4 564.4,216.9 566.8,216.5 569.2,216.0 571.6,215.4 574,214.4 576.4,213.5 578.8,212.8 581.2,212.2 583.6,211.8 586,211.4 588.5,211.0 590.9,210.8 593.3,210.7 595.7,210.6 598.1,210.5 600.5,210.4 602.9,210.3 605.3,210.3 607.7,210.2 610.1,210.1 612.5,210.0 614.9,209.9 617.3,209.7 619.7,209.6 622.1,209.4 624.5,209.3 626.9,209.1 629.3,208.9 631.7,208.6 634.1,208.4 636.5,208.2 638.9,207.9 641.3,207.7 643.8,207.5 646.2,207.3 648.6,207.0 651,206.8 653.4,206.4 653.4,206.4 653.9,206.4 654.5,206.3 655,206.2 655.6,206.1 656.1,206.0 656.7,205.9 657.2,205.8 657.8,205.7 658.3,205.6 658.9,205.5 659.4,205.4 660,205.3 660.5,205.1 661.1,205.0 661.6,204.9 662.2,204.8 662.7,204.6 663.3,204.5 663.8,204.3 664.4,204.1 664.9,203.9 665.5,203.7 666.1,203.4 666.6,202.9 667.2,202.4 667.7,201.8 668.3,201.0 668.8,200.1 669.4,199.0 669.9,197.2 670.5,195.1 671,192.7 671.6,189.8 672.1,186.3" fill="none" stroke="#a52520" stroke-width="1.35" stroke-linejoin="round" />
<path d="M547.1,300.3 547.6,284.5 548.1,271.6 548.7,260.3 549.2,251.1 549.7,244.8 550.2,239.9 550.7,236.0 551.2,233.1 551.8,230.7 552.3,228.7 552.8,226.9 553.3,225.4 553.8,224.2 554.3,223.1 554.9,222.0 555.4,221.0 555.9,220.2 556.4,219.6 556.9,219.1 557.5,218.8 558,218.5 558.5,218.3 559,218.2 559.5,218.0 559.5,218.0 561.9,217.4 564.3,216.9 566.7,216.5 569.1,216.0 571.5,215.3 573.9,214.4 576.2,213.5 578.6,212.8 581,212.3 583.4,211.8 585.8,211.4 588.2,211.0 590.6,210.8 593,210.7 595.4,210.5 597.7,210.4 600.1,210.3 602.5,210.3 604.9,210.2 607.3,210.1 609.7,210.0 612.1,209.9 614.5,209.8 616.9,209.6 619.3,209.5 621.6,209.3 624,209.2 626.4,209.0 628.8,208.8 631.2,208.5 633.6,208.3 636,208.1 638.4,207.9 640.8,207.7 643.1,207.5 645.5,207.2 647.9,207.0 650.3,206.7 652.7,206.4 652.7,206.4 653.2,206.3 653.8,206.2 654.3,206.1 654.9,206.0 655.4,205.9 656,205.8 656.5,205.7 657.1,205.6 657.6,205.5 658.2,205.4 658.7,205.2 659.3,205.1 659.8,205.0 660.4,204.8 660.9,204.7 661.5,204.6 662,204.4 662.6,204.2 663.1,204.1 663.7,203.8 664.2,203.6 664.8,203.3 665.3,203.0 665.9,202.6 666.4,202.0 666.9,201.4 667.5,200.6 668,199.7 668.6,198.6 669.1,196.9 669.7,194.9 670.2,192.5 670.8,189.7 671.3,186.3" fill="none" stroke="#ad2922" stroke-width="1.35" stroke-linejoin="round" />
<path d="M547.1,300.2 547.6,284.3 548.1,271.5 548.6,260.2 549.2,251.0 549.7,244.7 550.2,239.8 550.7,235.9 551.2,233.0 551.7,230.6 552.2,228.6 552.8,226.8 553.3,225.4 553.8,224.1 554.3,223.0 554.8,221.9 555.3,221.0 555.8,220.2 556.4,219.5 556.9,219.0 557.4,218.7 557.9,218.5 558.4,218.3 558.9,218.1 559.4,218.0 559.4,218.0 561.8,217.4 564.2,216.9 566.6,216.5 568.9,216.0 571.3,215.3 573.7,214.4 576.1,213.5 578.4,212.8 580.8,212.3 583.2,211.8 585.6,211.4 587.9,211.0 590.3,210.8 592.7,210.6 595.1,210.5 597.4,210.4 599.8,210.3 602.2,210.2 604.5,210.1 606.9,210.0 609.3,209.9 611.7,209.8 614,209.7 616.4,209.5 618.8,209.4 621.2,209.2 623.5,209.1 625.9,208.9 628.3,208.7 630.7,208.5 633,208.2 635.4,208.0 637.8,207.8 640.2,207.6 642.5,207.4 644.9,207.2 647.3,206.9 649.7,206.6 652,206.3 652,206.3 652.6,206.2 653.1,206.1 653.7,206.0 654.2,205.9 654.8,205.8 655.3,205.7 655.8,205.6 656.4,205.5 656.9,205.3 657.5,205.2 658,205.1 658.6,204.9 659.1,204.8 659.7,204.7 660.2,204.5 660.7,204.4 661.3,204.2 661.8,204.0 662.4,203.8 662.9,203.6 663.5,203.3 664,203.0 664.6,202.7 665.1,202.3 665.6,201.7 666.2,201.0 666.7,200.3 667.3,199.4 667.8,198.3 668.4,196.6 668.9,194.6 669.5,192.3 670,189.5 670.5,186.3" fill="none" stroke="#b52d24" stroke-width="1.35" stroke-linejoin="round" />
<path d="M547.1,300.0 547.6,284.1 548.1,271.3 548.6,260.2 549.1,250.9 549.7,244.5 550.2,239.6 550.7,235.8 551.2,232.9 551.7,230.6 552.2,228.5 552.7,226.8 553.2,225.3 553.7,224.0 554.3,222.9 554.8,221.8 555.3,220.9 555.8,220.1 556.3,219.5 556.8,219.0 557.3,218.7 557.8,218.5 558.3,218.3 558.9,218.1 559.4,218.0 559.4,218.0 561.7,217.4 564.1,216.9 566.4,216.4 568.8,215.9 571.2,215.3 573.5,214.4 575.9,213.5 578.2,212.8 580.6,212.3 583,211.8 585.3,211.4 587.7,211.0 590,210.8 592.4,210.6 594.7,210.4 597.1,210.3 599.5,210.2 601.8,210.1 604.2,210.0 606.5,209.9 608.9,209.8 611.3,209.7 613.6,209.5 616,209.4 618.3,209.3 620.7,209.1 623.1,209.0 625.4,208.8 627.8,208.6 630.1,208.4 632.5,208.2 634.8,208.0 637.2,207.8 639.6,207.6 641.9,207.4 644.3,207.1 646.6,206.9 649,206.6 651.4,206.2 651.4,206.2 651.9,206.1 652.4,206.0 653,205.9 653.5,205.8 654.1,205.7 654.6,205.6 655.1,205.5 655.7,205.3 656.2,205.2 656.8,205.1 657.3,204.9 657.9,204.8 658.4,204.6 658.9,204.5 659.5,204.3 660,204.2 660.6,204.0 661.1,203.8 661.6,203.6 662.2,203.3 662.7,203.0 663.3,202.7 663.8,202.4 664.3,201.9 664.9,201.4 665.4,200.7 666,199.9 666.5,199.0 667.1,197.9 667.6,196.3 668.1,194.4 668.7,192.2 669.2,189.4 669.8,186.3" fill="none" stroke="#bd3126" stroke-width="1.35" stroke-linejoin="round" />
<path d="M547.1,299.9 547.6,284.0 548.1,271.2 548.6,260.1 549.1,250.9 549.6,244.3 550.1,239.5 550.7,235.7 551.2,232.8 551.7,230.5 552.2,228.4 552.7,226.7 553.2,225.2 553.7,223.9 554.2,222.8 554.7,221.8 555.2,220.9 555.7,220.1 556.2,219.4 556.7,219.0 557.3,218.7 557.8,218.4 558.3,218.2 558.8,218.1 559.3,218.0 559.3,218.0 561.6,217.4 564,216.9 566.3,216.4 568.7,215.9 571,215.3 573.3,214.4 575.7,213.5 578,212.9 580.4,212.3 582.7,211.8 585.1,211.4 587.4,211.0 589.8,210.8 592.1,210.6 594.4,210.4 596.8,210.3 599.1,210.1 601.5,210.0 603.8,209.9 606.2,209.8 608.5,209.7 610.8,209.6 613.2,209.4 615.5,209.3 617.9,209.2 620.2,209.1 622.6,208.9 624.9,208.7 627.3,208.5 629.6,208.3 631.9,208.1 634.3,207.9 636.6,207.7 639,207.5 641.3,207.3 643.7,207.1 646,206.8 648.3,206.5 650.7,206.1 650.7,206.1 651.2,206.0 651.8,205.9 652.3,205.8 652.8,205.7 653.4,205.6 653.9,205.5 654.5,205.4 655,205.2 655.5,205.1 656.1,205.0 656.6,204.8 657.1,204.6 657.7,204.5 658.2,204.3 658.8,204.1 659.3,204.0 659.8,203.8 660.4,203.6 660.9,203.3 661.4,203.1 662,202.8 662.5,202.5 663.1,202.1 663.6,201.6 664.1,201.1 664.7,200.4 665.2,199.6 665.7,198.7 666.3,197.6 666.8,196.0 667.4,194.1 667.9,192.0 668.4,189.3 669,186.3" fill="none" stroke="#c53628" stroke-width="1.35" stroke-linejoin="round" />
<path d="M547.1,299.7 547.6,283.8 548.1,271.1 548.6,260.1 549.1,250.8 549.6,244.2 550.1,239.4 550.6,235.6 551.1,232.8 551.6,230.4 552.1,228.4 552.6,226.6 553.2,225.1 553.7,223.8 554.2,222.7 554.7,221.7 555.2,220.8 555.7,220.0 556.2,219.4 556.7,218.9 557.2,218.6 557.7,218.4 558.2,218.2 558.7,218.1 559.2,217.9 559.2,217.9 561.5,217.4 563.9,216.9 566.2,216.4 568.5,215.9 570.9,215.3 573.2,214.4 575.5,213.6 577.8,212.9 580.2,212.3 582.5,211.8 584.8,211.4 587.2,211.0 589.5,210.8 591.8,210.5 594.1,210.4 596.5,210.2 598.8,210.1 601.1,209.9 603.5,209.8 605.8,209.7 608.1,209.6 610.4,209.5 612.8,209.4 615.1,209.2 617.4,209.1 619.7,209.0 622.1,208.8 624.4,208.7 626.7,208.5 629.1,208.3 631.4,208.1 633.7,207.9 636,207.7 638.4,207.5 640.7,207.3 643,207.0 645.4,206.8 647.7,206.4 650,206.1 650,206.1 650.6,206.0 651.1,205.8 651.6,205.7 652.2,205.6 652.7,205.5 653.2,205.4 653.8,205.3 654.3,205.1 654.8,205.0 655.4,204.8 655.9,204.7 656.4,204.5 657,204.3 657.5,204.2 658,204.0 658.6,203.8 659.1,203.6 659.6,203.3 660.2,203.1 660.7,202.8 661.2,202.5 661.8,202.2 662.3,201.8 662.8,201.3 663.4,200.8 663.9,200.1 664.4,199.3 665,198.4 665.5,197.3 666,195.8 666.6,193.9 667.1,191.8 667.6,189.2 668.2,186.3" fill="none" stroke="#cd3a2a" stroke-width="1.35" stroke-linejoin="round" />
<path d="M547.1,299.6 547.6,283.7 548.1,271.0 548.6,260.0 549.1,250.7 549.6,244.0 550.1,239.3 550.6,235.5 551.1,232.7 551.6,230.3 552.1,228.3 552.6,226.5 553.1,225.0 553.6,223.7 554.1,222.6 554.6,221.6 555.1,220.7 555.6,220.0 556.1,219.4 556.6,218.9 557.1,218.6 557.6,218.4 558.1,218.2 558.6,218.0 559.1,217.9 559.1,217.9 561.4,217.4 563.8,216.9 566.1,216.4 568.4,215.9 570.7,215.2 573,214.4 575.3,213.6 577.6,212.9 580,212.3 582.3,211.8 584.6,211.4 586.9,211.0 589.2,210.7 591.5,210.5 593.8,210.3 596.1,210.2 598.5,210.0 600.8,209.9 603.1,209.7 605.4,209.6 607.7,209.5 610,209.4 612.3,209.3 614.7,209.1 617,209.0 619.3,208.9 621.6,208.7 623.9,208.6 626.2,208.4 628.5,208.2 630.8,208.0 633.2,207.8 635.5,207.6 637.8,207.4 640.1,207.2 642.4,207.0 644.7,206.7 647,206.4 649.4,206.0 649.4,206.0 649.9,205.9 650.4,205.8 650.9,205.7 651.5,205.5 652,205.4 652.5,205.3 653.1,205.2 653.6,205.0 654.1,204.9 654.7,204.7 655.2,204.5 655.7,204.4 656.3,204.2 656.8,204.0 657.3,203.8 657.8,203.6 658.4,203.4 658.9,203.1 659.4,202.9 660,202.6 660.5,202.3 661,201.9 661.6,201.5 662.1,201.0 662.6,200.5 663.2,199.8 663.7,199.0 664.2,198.1 664.7,197.0 665.3,195.5 665.8,193.7 666.3,191.6 666.9,189.2 667.4,186.3" fill="none" stroke="#d53e2c" stroke-width="1.35" stroke-linejoin="round" />
<path d="M547.1,299.5 547.6,283.5 548.1,270.9 548.6,260.0 549.1,250.6 549.6,243.9 550.1,239.1 550.6,235.5 551.1,232.6 551.6,230.3 552.1,228.2 552.6,226.5 553.1,224.9 553.6,223.7 554.1,222.5 554.6,221.6 555.1,220.7 555.6,219.9 556.1,219.3 556.6,218.9 557.1,218.6 557.6,218.3 558.1,218.2 558.6,218.0 559.1,217.9 559.1,217.9 561.3,217.4 563.6,216.9 565.9,216.4 568.2,215.9 570.5,215.2 572.8,214.4 575.1,213.6 577.4,212.9 579.7,212.4 582,211.8 584.3,211.4 586.6,211.0 588.9,210.7 591.2,210.5 593.5,210.3 595.8,210.1 598.1,210.0 600.4,209.8 602.7,209.7 605,209.5 607.3,209.4 609.6,209.3 611.9,209.2 614.2,209.1 616.5,208.9 618.8,208.8 621.1,208.7 623.4,208.5 625.7,208.3 628,208.2 630.3,208.0 632.6,207.8 634.9,207.6 637.2,207.4 639.5,207.2 641.8,207.0 644.1,206.7 646.4,206.3 648.7,205.9 648.7,205.9 649.2,205.8 649.7,205.7 650.3,205.6 650.8,205.5 651.3,205.3 651.8,205.2 652.4,205.1 652.9,204.9 653.4,204.8 654,204.6 654.5,204.4 655,204.2 655.5,204.1 656.1,203.9 656.6,203.6 657.1,203.4 657.6,203.2 658.2,202.9 658.7,202.7 659.2,202.4 659.8,202.0 660.3,201.7 660.8,201.3 661.3,200.8 661.9,200.2 662.4,199.5 662.9,198.7 663.4,197.8 664,196.7 664.5,195.2 665,193.5 665.6,191.5 666.1,189.1 666.6,186.3" fill="none" stroke="#dc422e" stroke-width="1.35" stroke-linejoin="round" />
<path d="M547.1,299.4 547.6,283.4 548.1,270.8 548.6,260.0 549.1,250.5 549.6,243.8 550.1,239.0 550.6,235.4 551.1,232.5 551.6,230.2 552,228.2 552.5,226.4 553,224.9 553.5,223.6 554,222.4 554.5,221.5 555,220.6 555.5,219.9 556,219.3 556.5,218.8 557,218.5 557.5,218.3 558,218.1 558.5,218.0 559,217.9 559,217.9 561.3,217.3 563.5,216.9 565.8,216.4 568.1,215.8 570.4,215.2 572.7,214.4 575,213.6 577.2,212.9 579.5,212.4 581.8,211.8 584.1,211.4 586.4,211.0 588.7,210.7 590.9,210.5 593.2,210.3 595.5,210.1 597.8,209.9 600.1,209.7 602.4,209.6 604.6,209.4 606.9,209.3 609.2,209.2 611.5,209.1 613.8,209.0 616,208.9 618.3,208.7 620.6,208.6 622.9,208.5 625.2,208.3 627.5,208.1 629.7,207.9 632,207.7 634.3,207.5 636.6,207.3 638.9,207.1 641.2,206.9 643.4,206.6 645.7,206.3 648,205.9 648,205.9 648.5,205.7 649.1,205.6 649.6,205.5 650.1,205.4 650.6,205.3 651.2,205.1 651.7,205.0 652.2,204.8 652.7,204.7 653.3,204.5 653.8,204.3 654.3,204.1 654.8,203.9 655.3,203.7 655.9,203.5 656.4,203.3 656.9,203.0 657.4,202.8 658,202.5 658.5,202.2 659,201.8 659.5,201.4 660.1,201.0 660.6,200.5 661.1,199.9 661.6,199.2 662.2,198.4 662.7,197.5 663.2,196.4 663.7,195.0 664.2,193.3 664.8,191.3 665.3,189.0 665.8,186.3" fill="none" stroke="#e34b32" stroke-width="1.35" stroke-linejoin="round" />
<path d="M547.1,299.3 547.6,283.2 548.1,270.7 548.6,259.9 549.1,250.5 549.6,243.6 550,238.9 550.5,235.3 551,232.5 551.5,230.2 552,228.1 552.5,226.3 553,224.8 553.5,223.5 554,222.4 554.5,221.4 555,220.6 555.5,219.9 555.9,219.3 556.4,218.8 556.9,218.5 557.4,218.3 557.9,218.1 558.4,218.0 558.9,217.8 558.9,217.8 561.2,217.3 563.4,216.9 565.7,216.4 568,215.8 570.2,215.2 572.5,214.4 574.8,213.6 577,212.9 579.3,212.4 581.6,211.9 583.8,211.4 586.1,211.0 588.4,210.7 590.6,210.5 592.9,210.2 595.2,210.0 597.4,209.8 599.7,209.7 602,209.5 604.3,209.4 606.5,209.2 608.8,209.1 611.1,209.0 613.3,208.9 615.6,208.8 617.9,208.7 620.1,208.5 622.4,208.4 624.7,208.2 626.9,208.0 629.2,207.9 631.5,207.7 633.7,207.5 636,207.3 638.3,207.1 640.5,206.9 642.8,206.6 645.1,206.2 647.3,205.8 647.3,205.8 647.9,205.7 648.4,205.6 648.9,205.4 649.4,205.3 649.9,205.2 650.5,205.0 651,204.9 651.5,204.7 652,204.6 652.5,204.4 653.1,204.2 653.6,204.0 654.1,203.8 654.6,203.6 655.1,203.3 655.7,203.1 656.2,202.8 656.7,202.6 657.2,202.3 657.7,202.0 658.3,201.6 658.8,201.2 659.3,200.8 659.8,200.2 660.4,199.6 660.9,199.0 661.4,198.1 661.9,197.2 662.4,196.2 663,194.8 663.5,193.1 664,191.2 664.5,188.9 665,186.3" fill="none" stroke="#e6603e" stroke-width="1.35" stroke-linejoin="round" />
<path d="M547.1,299.2 547.6,283.1 548.1,270.7 548.6,259.9 549.1,250.4 549.5,243.5 550,238.8 550.5,235.2 551,232.4 551.5,230.1 552,228.1 552.5,226.3 553,224.7 553.4,223.4 553.9,222.3 554.4,221.4 554.9,220.6 555.4,219.8 555.9,219.2 556.4,218.8 556.9,218.5 557.4,218.3 557.8,218.1 558.3,218.0 558.8,217.8 558.8,217.8 561.1,217.3 563.3,216.9 565.6,216.4 567.8,215.8 570.1,215.2 572.3,214.4 574.6,213.6 576.8,213.0 579.1,212.4 581.3,211.9 583.6,211.4 585.8,211.0 588.1,210.7 590.4,210.4 592.6,210.2 594.9,210.0 597.1,209.8 599.4,209.6 601.6,209.4 603.9,209.3 606.1,209.2 608.4,209.0 610.6,208.9 612.9,208.8 615.1,208.7 617.4,208.6 619.6,208.5 621.9,208.3 624.1,208.2 626.4,208.0 628.7,207.8 630.9,207.6 633.2,207.5 635.4,207.3 637.7,207.1 639.9,206.8 642.2,206.6 644.4,206.2 646.7,205.7 646.7,205.7 647.2,205.6 647.7,205.5 648.2,205.4 648.7,205.2 649.3,205.1 649.8,205.0 650.3,204.8 650.8,204.7 651.3,204.5 651.8,204.3 652.4,204.1 652.9,203.9 653.4,203.7 653.9,203.4 654.4,203.2 654.9,202.9 655.5,202.7 656,202.4 656.5,202.1 657,201.8 657.5,201.4 658,201.0 658.6,200.5 659.1,200.0 659.6,199.4 660.1,198.7 660.6,197.9 661.1,197.0 661.7,195.9 662.2,194.5 662.7,192.9 663.2,191.0 663.7,188.8 664.2,186.3" fill="none" stroke="#ea754a" stroke-width="1.35" stroke-linejoin="round" />
<path d="M547.1,299.1 547.6,283.0 548.1,270.6 548.6,259.9 549,250.3 549.5,243.4 550,238.7 550.5,235.1 551,232.3 551.5,230.0 551.9,228.0 552.4,226.2 552.9,224.7 553.4,223.4 553.9,222.2 554.4,221.3 554.9,220.5 555.3,219.8 555.8,219.2 556.3,218.8 556.8,218.5 557.3,218.3 557.8,218.1 558.3,217.9 558.7,217.8 558.7,217.8 561,217.3 563.2,216.9 565.4,216.3 567.7,215.8 569.9,215.2 572.2,214.4 574.4,213.6 576.6,213.0 578.9,212.4 581.1,211.9 583.4,211.4 585.6,211.0 587.8,210.7 590.1,210.4 592.3,210.2 594.5,209.9 596.8,209.7 599,209.6 601.3,209.4 603.5,209.2 605.7,209.1 608,209.0 610.2,208.9 612.4,208.7 614.7,208.6 616.9,208.5 619.2,208.4 621.4,208.3 623.6,208.1 625.9,207.9 628.1,207.8 630.3,207.6 632.6,207.4 634.8,207.2 637.1,207.0 639.3,206.8 641.5,206.5 643.8,206.2 646,205.7 646,205.7 646.5,205.6 647,205.4 647.5,205.3 648.1,205.2 648.6,205.0 649.1,204.9 649.6,204.7 650.1,204.6 650.6,204.4 651.1,204.2 651.7,204.0 652.2,203.8 652.7,203.6 653.2,203.3 653.7,203.1 654.2,202.8 654.7,202.5 655.2,202.2 655.8,201.9 656.3,201.6 656.8,201.2 657.3,200.8 657.8,200.3 658.3,199.8 658.8,199.2 659.4,198.5 659.9,197.7 660.4,196.7 660.9,195.7 661.4,194.3 661.9,192.7 662.4,190.9 662.9,188.7 663.5,186.3" fill="none" stroke="#ed8a55" stroke-width="1.35" stroke-linejoin="round" />
<path d="M547.1,299.0 547.6,282.9 548.1,270.5 548.5,259.8 549,250.3 549.5,243.3 550,238.7 550.5,235.1 551,232.3 551.4,230.0 551.9,228.0 552.4,226.2 552.9,224.6 553.4,223.3 553.8,222.2 554.3,221.3 554.8,220.5 555.3,219.8 555.8,219.2 556.2,218.7 556.7,218.4 557.2,218.2 557.7,218.1 558.2,217.9 558.7,217.8 558.7,217.8 560.9,217.3 563.1,216.8 565.3,216.3 567.5,215.8 569.8,215.2 572,214.4 574.2,213.7 576.4,213.0 578.7,212.4 580.9,211.9 583.1,211.4 585.3,211.0 587.6,210.7 589.8,210.4 592,210.1 594.2,209.9 596.4,209.7 598.7,209.5 600.9,209.3 603.1,209.2 605.3,209.0 607.6,208.9 609.8,208.8 612,208.7 614.2,208.6 616.4,208.5 618.7,208.3 620.9,208.2 623.1,208.1 625.3,207.9 627.6,207.7 629.8,207.6 632,207.4 634.2,207.2 636.4,207.0 638.7,206.8 640.9,206.5 643.1,206.1 645.3,205.6 645.3,205.6 645.8,205.5 646.4,205.4 646.9,205.2 647.4,205.1 647.9,205.0 648.4,204.8 648.9,204.7 649.4,204.5 649.9,204.3 650.4,204.1 650.9,203.9 651.5,203.7 652,203.4 652.5,203.2 653,202.9 653.5,202.7 654,202.4 654.5,202.1 655,201.8 655.5,201.4 656,201.0 656.6,200.6 657.1,200.1 657.6,199.6 658.1,198.9 658.6,198.2 659.1,197.4 659.6,196.5 660.1,195.5 660.6,194.1 661.1,192.5 661.7,190.8 662.2,188.7 662.7,186.3" fill="none" stroke="#f19e61" stroke-width="1.35" stroke-linejoin="round" />
<path d="M547.1,298.9 547.6,282.7 548.1,270.4 548.5,259.8 549,250.2 549.5,243.2 550,238.6 550.4,235.0 550.9,232.2 551.4,229.9 551.9,227.9 552.4,226.1 552.8,224.6 553.3,223.2 553.8,222.1 554.3,221.2 554.8,220.4 555.2,219.7 555.7,219.2 556.2,218.7 556.7,218.4 557.1,218.2 557.6,218.0 558.1,217.9 558.6,217.8 558.6,217.8 560.8,217.3 563,216.8 565.2,216.3 567.4,215.8 569.6,215.1 571.8,214.4 574,213.7 576.2,213.0 578.4,212.4 580.7,211.9 582.9,211.4 585.1,211.0 587.3,210.7 589.5,210.4 591.7,210.1 593.9,209.9 596.1,209.7 598.3,209.4 600.5,209.3 602.7,209.1 604.9,209.0 607.1,208.8 609.3,208.7 611.6,208.6 613.8,208.5 616,208.4 618.2,208.3 620.4,208.2 622.6,208.0 624.8,207.9 627,207.7 629.2,207.5 631.4,207.4 633.6,207.2 635.8,207.0 638,206.7 640.3,206.5 642.5,206.1 644.7,205.6 644.7,205.6 645.2,205.5 645.7,205.3 646.2,205.2 646.7,205.0 647.2,204.9 647.7,204.7 648.2,204.6 648.7,204.4 649.2,204.2 649.7,204.0 650.2,203.8 650.7,203.6 651.2,203.3 651.8,203.1 652.3,202.8 652.8,202.5 653.3,202.2 653.8,201.9 654.3,201.6 654.8,201.2 655.3,200.8 655.8,200.4 656.3,199.9 656.8,199.4 657.3,198.7 657.8,198.0 658.3,197.2 658.8,196.3 659.4,195.2 659.9,193.9 660.4,192.4 660.9,190.6 661.4,188.6 661.9,186.3" fill="none" stroke="#f4b36d" stroke-width="1.35" stroke-linejoin="round" />
<path d="M547.1,298.8 547.6,282.6 548,270.4 548.5,259.8 549,250.2 549.5,243.1 549.9,238.5 550.4,234.9 550.9,232.2 551.4,229.9 551.8,227.9 552.3,226.1 552.8,224.5 553.3,223.2 553.7,222.1 554.2,221.2 554.7,220.4 555.2,219.7 555.6,219.1 556.1,218.7 556.6,218.4 557.1,218.2 557.5,218.0 558,217.9 558.5,217.8 558.5,217.8 560.7,217.3 562.9,216.8 565.1,216.3 567.3,215.7 569.5,215.1 571.7,214.4 573.8,213.7 576,213.0 578.2,212.4 580.4,211.9 582.6,211.4 584.8,211.0 587,210.7 589.2,210.4 591.4,210.1 593.6,209.8 595.8,209.6 598,209.4 600.2,209.2 602.3,209.0 604.5,208.9 606.7,208.8 608.9,208.7 611.1,208.6 613.3,208.5 615.5,208.4 617.7,208.2 619.9,208.1 622.1,208.0 624.3,207.8 626.5,207.6 628.7,207.5 630.8,207.3 633,207.1 635.2,206.9 637.4,206.7 639.6,206.4 641.8,206.0 644,205.5 644,205.5 644.5,205.4 645,205.3 645.5,205.1 646,205.0 646.5,204.8 647,204.7 647.5,204.5 648,204.3 648.5,204.2 649,203.9 649.5,203.7 650,203.5 650.5,203.2 651,203.0 651.5,202.7 652,202.4 652.5,202.1 653.1,201.8 653.6,201.5 654.1,201.1 654.6,200.7 655.1,200.2 655.6,199.7 656.1,199.2 656.6,198.5 657.1,197.8 657.6,197.0 658.1,196.1 658.6,195.0 659.1,193.7 659.6,192.2 660.1,190.5 660.6,188.5 661.1,186.3" fill="none" stroke="#f4c079" stroke-width="1.35" stroke-linejoin="round" />
<path d="M547.1,298.7 547.6,282.5 548,270.3 548.5,259.7 549,250.1 549.5,243.0 549.9,238.4 550.4,234.9 550.9,232.1 551.3,229.8 551.8,227.8 552.3,226.0 552.8,224.5 553.2,223.1 553.7,222.0 554.2,221.1 554.6,220.4 555.1,219.7 555.6,219.1 556.1,218.7 556.5,218.4 557,218.2 557.5,218.0 557.9,217.9 558.4,217.7 558.4,217.7 560.6,217.3 562.8,216.8 565,216.3 567.1,215.7 569.3,215.1 571.5,214.4 573.7,213.7 575.8,213.0 578,212.4 580.2,211.9 582.4,211.4 584.5,211.0 586.7,210.7 588.9,210.3 591.1,210.1 593.3,209.8 595.4,209.6 597.6,209.4 599.8,209.1 602,209.0 604.1,208.8 606.3,208.7 608.5,208.6 610.7,208.5 612.8,208.4 615,208.3 617.2,208.2 619.4,208.1 621.6,207.9 623.7,207.8 625.9,207.6 628.1,207.5 630.3,207.3 632.4,207.1 634.6,206.9 636.8,206.7 639,206.4 641.2,206.0 643.3,205.5 643.3,205.5 643.8,205.4 644.3,205.2 644.8,205.1 645.3,204.9 645.8,204.8 646.3,204.6 646.8,204.5 647.3,204.3 647.8,204.1 648.3,203.9 648.8,203.6 649.3,203.4 649.8,203.1 650.3,202.9 650.8,202.6 651.3,202.3 651.8,202.0 652.3,201.7 652.8,201.3 653.3,200.9 653.8,200.5 654.3,200.1 654.8,199.5 655.3,199.0 655.8,198.3 656.3,197.6 656.8,196.8 657.3,195.9 657.8,194.8 658.3,193.6 658.8,192.1 659.3,190.4 659.8,188.5 660.3,186.3" fill="none" stroke="#f3ce85" stroke-width="1.35" stroke-linejoin="round" />
<path d="M547.1,298.6 547.6,282.4 548,270.2 548.5,259.7 549,250.1 549.4,242.9 549.9,238.3 550.4,234.8 550.8,232.1 551.3,229.8 551.8,227.8 552.3,226.0 552.7,224.4 553.2,223.1 553.7,222.0 554.1,221.1 554.6,220.3 555.1,219.7 555.5,219.1 556,218.7 556.5,218.4 556.9,218.2 557.4,218.0 557.9,217.9 558.3,217.7 558.3,217.7 560.5,217.3 562.7,216.8 564.8,216.3 567,215.7 569.2,215.1 571.3,214.4 573.5,213.7 575.6,213.0 577.8,212.4 580,211.9 582.1,211.4 584.3,211.0 586.4,210.6 588.6,210.3 590.8,210.0 592.9,209.8 595.1,209.5 597.3,209.3 599.4,209.1 601.6,208.9 603.7,208.8 605.9,208.7 608.1,208.5 610.2,208.4 612.4,208.3 614.6,208.2 616.7,208.1 618.9,208.0 621,207.9 623.2,207.7 625.4,207.6 627.5,207.4 629.7,207.3 631.8,207.1 634,206.9 636.2,206.7 638.3,206.4 640.5,206.0 642.7,205.5 642.7,205.5 643.2,205.3 643.7,205.2 644.1,205.0 644.6,204.9 645.1,204.7 645.6,204.6 646.1,204.4 646.6,204.2 647.1,204.0 647.6,203.8 648.1,203.6 648.6,203.3 649.1,203.1 649.6,202.8 650.1,202.5 650.6,202.2 651.1,201.9 651.6,201.5 652.1,201.2 652.6,200.8 653.1,200.4 653.6,199.9 654.1,199.4 654.6,198.8 655.1,198.2 655.6,197.4 656.1,196.6 656.5,195.7 657,194.7 657.5,193.4 658,192.0 658.5,190.3 659,188.4 659.5,186.3" fill="none" stroke="#f3db91" stroke-width="1.35" stroke-linejoin="round" />
<path d="M547.1,298.5 547.6,282.4 548,270.2 548.5,259.7 549,250.0 549.4,242.8 549.9,238.3 550.4,234.8 550.8,232.0 551.3,229.8 551.8,227.8 552.2,226.0 552.7,224.4 553.1,223.0 553.6,221.9 554.1,221.1 554.5,220.3 555,219.6 555.5,219.1 555.9,218.6 556.4,218.3 556.9,218.1 557.3,218.0 557.8,217.8 558.3,217.7 558.3,217.7 560.4,217.3 562.6,216.8 564.7,216.3 566.9,215.7 569,215.1 571.1,214.4 573.3,213.7 575.4,213.0 577.6,212.5 579.7,211.9 581.9,211.4 584,211.0 586.2,210.6 588.3,210.3 590.5,210.0 592.6,209.7 594.8,209.5 596.9,209.3 599.1,209.1 601.2,208.9 603.3,208.7 605.5,208.6 607.6,208.5 609.8,208.4 611.9,208.3 614.1,208.2 616.2,208.1 618.4,208.0 620.5,207.8 622.7,207.7 624.8,207.5 627,207.4 629.1,207.2 631.3,207.1 633.4,206.9 635.5,206.6 637.7,206.4 639.8,205.9 642,205.4 642,205.4 642.5,205.3 643,205.1 643.5,205.0 644,204.8 644.5,204.7 644.9,204.5 645.4,204.3 645.9,204.2 646.4,204.0 646.9,203.7 647.4,203.5 647.9,203.2 648.4,203.0 648.9,202.7 649.4,202.4 649.9,202.1 650.4,201.8 650.9,201.4 651.3,201.1 651.8,200.7 652.3,200.2 652.8,199.7 653.3,199.2 653.8,198.6 654.3,198.0 654.8,197.3 655.3,196.4 655.8,195.5 656.3,194.5 656.8,193.3 657.3,191.8 657.7,190.2 658.2,188.4 658.7,186.3" fill="none" stroke="#f0e5a9" stroke-width="1.35" stroke-linejoin="round" />
<path d="M547.1,298.5 547.6,282.3 548,270.1 548.5,259.7 548.9,250.0 549.4,242.7 549.9,238.2 550.3,234.7 550.8,232.0 551.3,229.7 551.7,227.7 552.2,225.9 552.6,224.3 553.1,223.0 553.6,221.9 554,221.0 554.5,220.3 555,219.6 555.4,219.1 555.9,218.6 556.3,218.3 556.8,218.1 557.3,218.0 557.7,217.8 558.2,217.7 558.2,217.7 560.3,217.3 562.4,216.8 564.6,216.3 566.7,215.7 568.8,215.1 571,214.4 573.1,213.7 575.2,213.1 577.4,212.5 579.5,211.9 581.6,211.4 583.8,211.0 585.9,210.6 588,210.3 590.2,210.0 592.3,209.7 594.4,209.5 596.6,209.2 598.7,209.0 600.8,208.8 603,208.7 605.1,208.5 607.2,208.4 609.3,208.3 611.5,208.3 613.6,208.2 615.7,208.1 617.9,207.9 620,207.8 622.1,207.7 624.3,207.5 626.4,207.4 628.5,207.2 630.7,207.0 632.8,206.8 634.9,206.6 637.1,206.3 639.2,205.9 641.3,205.4 641.3,205.4 641.8,205.2 642.3,205.1 642.8,204.9 643.3,204.8 643.8,204.6 644.3,204.5 644.7,204.3 645.2,204.1 645.7,203.9 646.2,203.7 646.7,203.4 647.2,203.2 647.7,202.9 648.2,202.6 648.7,202.3 649.1,202.0 649.6,201.7 650.1,201.3 650.6,200.9 651.1,200.5 651.6,200.1 652.1,199.6 652.6,199.1 653.1,198.5 653.5,197.8 654,197.1 654.5,196.3 655,195.4 655.5,194.3 656,193.1 656.5,191.7 657,190.1 657.5,188.3 657.9,186.3" fill="none" stroke="#eaebcb" stroke-width="1.35" stroke-linejoin="round" />
<path d="M547.1,298.4 547.6,282.2 548,270.1 548.5,259.6 548.9,250.0 549.4,242.6 549.9,238.1 550.3,234.7 550.8,232.0 551.2,229.7 551.7,227.7 552.1,225.9 552.6,224.3 553.1,222.9 553.5,221.8 554,221.0 554.4,220.2 554.9,219.6 555.4,219.0 555.8,218.6 556.3,218.3 556.7,218.1 557.2,218.0 557.6,217.8 558.1,217.7 558.1,217.7 560.2,217.3 562.3,216.8 564.5,216.3 566.6,215.7 568.7,215.1 570.8,214.4 572.9,213.7 575,213.1 577.2,212.5 579.3,211.9 581.4,211.4 583.5,211.0 585.6,210.6 587.7,210.3 589.9,210.0 592,209.7 594.1,209.4 596.2,209.2 598.3,209.0 600.4,208.8 602.6,208.6 604.7,208.5 606.8,208.4 608.9,208.3 611,208.2 613.1,208.1 615.3,208.0 617.4,207.9 619.5,207.8 621.6,207.6 623.7,207.5 625.8,207.3 628,207.2 630.1,207.0 632.2,206.8 634.3,206.6 636.4,206.3 638.5,205.9 640.7,205.3 640.7,205.3 641.1,205.2 641.6,205.1 642.1,204.9 642.6,204.7 643.1,204.6 643.6,204.4 644.1,204.2 644.5,204.0 645,203.8 645.5,203.6 646,203.4 646.5,203.1 647,202.8 647.4,202.5 647.9,202.2 648.4,201.9 648.9,201.6 649.4,201.2 649.9,200.8 650.4,200.4 650.8,200.0 651.3,199.5 651.8,198.9 652.3,198.3 652.8,197.7 653.3,197.0 653.8,196.1 654.2,195.2 654.7,194.2 655.2,193.0 655.7,191.6 656.2,190.0 656.7,188.3 657.2,186.3" fill="none" stroke="#e4f1ed" stroke-width="1.35" stroke-linejoin="round" />
<path d="M547.1,298.4 547.6,282.1 548,270.0 548.5,259.6 548.9,249.9 549.4,242.6 549.8,238.1 550.3,234.6 550.7,231.9 551.2,229.7 551.7,227.7 552.1,225.9 552.6,224.2 553,222.9 553.5,221.8 553.9,221.0 554.4,220.2 554.8,219.6 555.3,219.0 555.8,218.6 556.2,218.3 556.7,218.1 557.1,217.9 557.6,217.8 558,217.7 558,217.7 560.1,217.3 562.2,216.8 564.3,216.3 566.4,215.7 568.5,215.1 570.6,214.4 572.7,213.7 574.8,213.1 576.9,212.5 579,211.9 581.1,211.4 583.2,211.0 585.3,210.6 587.4,210.3 589.5,210.0 591.6,209.7 593.8,209.4 595.9,209.2 598,208.9 600.1,208.7 602.2,208.6 604.3,208.5 606.4,208.4 608.5,208.3 610.6,208.2 612.7,208.1 614.8,208.0 616.9,207.9 619,207.7 621.1,207.6 623.2,207.5 625.3,207.3 627.4,207.2 629.5,207.0 631.6,206.8 633.7,206.6 635.8,206.3 637.9,205.9 640,205.3 640,205.3 640.5,205.2 640.9,205.0 641.4,204.9 641.9,204.7 642.4,204.5 642.9,204.4 643.4,204.2 643.8,204.0 644.3,203.8 644.8,203.6 645.3,203.3 645.8,203.0 646.2,202.8 646.7,202.5 647.2,202.1 647.7,201.8 648.2,201.5 648.7,201.1 649.1,200.7 649.6,200.3 650.1,199.9 650.6,199.4 651.1,198.8 651.6,198.2 652,197.6 652.5,196.8 653,196.0 653.5,195.1 654,194.0 654.4,192.9 654.9,191.5 655.4,190.0 655.9,188.2 656.4,186.3" fill="none" stroke="#d1e9f0" stroke-width="1.35" stroke-linejoin="round" />
<path d="M547.1,298.3 547.6,282.1 548,270.0 548.5,259.6 548.9,249.9 549.4,242.5 549.8,238.0 550.3,234.6 550.7,231.9 551.2,229.6 551.6,227.6 552.1,225.8 552.5,224.2 553,222.8 553.4,221.7 553.9,220.9 554.3,220.2 554.8,219.5 555.2,219.0 555.7,218.6 556.1,218.3 556.6,218.1 557,217.9 557.5,217.8 557.9,217.7 557.9,217.7 560,217.3 562.1,216.8 564.2,216.3 566.3,215.7 568.4,215.1 570.5,214.4 572.6,213.7 574.6,213.1 576.7,212.5 578.8,211.9 580.9,211.4 583,211.0 585.1,210.6 587.2,210.3 589.2,209.9 591.3,209.6 593.4,209.4 595.5,209.1 597.6,208.9 599.7,208.7 601.8,208.5 603.8,208.4 605.9,208.3 608,208.2 610.1,208.1 612.2,208.0 614.3,207.9 616.4,207.8 618.5,207.7 620.5,207.6 622.6,207.4 624.7,207.3 626.8,207.1 628.9,207.0 631,206.8 633.1,206.6 635.1,206.3 637.2,205.8 639.3,205.3 639.3,205.3 639.8,205.1 640.3,205.0 640.7,204.8 641.2,204.7 641.7,204.5 642.2,204.3 642.7,204.1 643.1,204.0 643.6,203.7 644.1,203.5 644.6,203.3 645.1,203.0 645.5,202.7 646,202.4 646.5,202.1 647,201.7 647.4,201.4 647.9,201.0 648.4,200.6 648.9,200.2 649.4,199.8 649.8,199.2 650.3,198.7 650.8,198.1 651.3,197.4 651.8,196.7 652.2,195.9 652.7,194.9 653.2,193.9 653.7,192.7 654.1,191.4 654.6,189.9 655.1,188.2 655.6,186.3" fill="none" stroke="#bbddea" stroke-width="1.35" stroke-linejoin="round" />
<path d="M547.1,298.3 547.5,282.0 548,269.9 548.4,259.6 548.9,249.9 549.3,242.5 549.8,238.0 550.2,234.6 550.7,231.9 551.1,229.6 551.6,227.6 552,225.8 552.5,224.2 552.9,222.8 553.4,221.7 553.8,220.9 554.3,220.2 554.7,219.5 555.2,219.0 555.6,218.6 556.1,218.3 556.5,218.1 557,217.9 557.4,217.8 557.9,217.7 557.9,217.7 559.9,217.2 562,216.8 564.1,216.3 566.2,215.7 568.2,215.1 570.3,214.4 572.4,213.7 574.4,213.1 576.5,212.5 578.6,211.9 580.7,211.4 582.7,211.0 584.8,210.6 586.9,210.3 588.9,209.9 591,209.6 593.1,209.4 595.1,209.1 597.2,208.9 599.3,208.7 601.4,208.5 603.4,208.4 605.5,208.3 607.6,208.2 609.6,208.1 611.7,208.0 613.8,207.9 615.9,207.8 617.9,207.7 620,207.6 622.1,207.4 624.1,207.3 626.2,207.1 628.3,207.0 630.4,206.8 632.4,206.5 634.5,206.2 636.6,205.8 638.6,205.3 638.6,205.3 639.1,205.1 639.6,205.0 640.1,204.8 640.5,204.6 641,204.5 641.5,204.3 642,204.1 642.4,203.9 642.9,203.7 643.4,203.5 643.9,203.2 644.3,202.9 644.8,202.6 645.3,202.3 645.8,202.0 646.2,201.7 646.7,201.3 647.2,201.0 647.7,200.6 648.1,200.1 648.6,199.7 649.1,199.1 649.6,198.6 650,198.0 650.5,197.3 651,196.6 651.5,195.7 651.9,194.8 652.4,193.8 652.9,192.6 653.4,191.3 653.8,189.8 654.3,188.2 654.8,186.3" fill="none" stroke="#a5d0e4" stroke-width="1.35" stroke-linejoin="round" />
<path d="M547.1,298.2 547.5,281.9 548,269.9 548.4,259.6 548.9,249.8 549.3,242.4 549.8,238.0 550.2,234.5 550.7,231.8 551.1,229.6 551.6,227.6 552,225.8 552.4,224.2 552.9,222.8 553.3,221.7 553.8,220.9 554.2,220.1 554.7,219.5 555.1,219.0 555.6,218.6 556,218.3 556.5,218.1 556.9,217.9 557.3,217.8 557.8,217.7 557.8,217.7 559.8,217.2 561.9,216.8 564,216.2 566,215.7 568.1,215.1 570.1,214.4 572.2,213.7 574.2,213.1 576.3,212.5 578.4,211.9 580.4,211.4 582.5,211.0 584.5,210.6 586.6,210.2 588.6,209.9 590.7,209.6 592.7,209.3 594.8,209.1 596.9,208.8 598.9,208.6 601,208.5 603,208.4 605.1,208.2 607.1,208.2 609.2,208.1 611.2,208.0 613.3,207.9 615.4,207.8 617.4,207.7 619.5,207.5 621.5,207.4 623.6,207.3 625.6,207.1 627.7,206.9 629.8,206.7 631.8,206.5 633.9,206.2 635.9,205.8 638,205.2 638,205.2 638.4,205.1 638.9,204.9 639.4,204.8 639.9,204.6 640.3,204.4 640.8,204.3 641.3,204.1 641.7,203.9 642.2,203.7 642.7,203.4 643.2,203.2 643.6,202.9 644.1,202.6 644.6,202.3 645,202.0 645.5,201.6 646,201.2 646.5,200.9 646.9,200.5 647.4,200.0 647.9,199.6 648.4,199.0 648.8,198.5 649.3,197.9 649.8,197.2 650.2,196.5 650.7,195.6 651.2,194.7 651.7,193.7 652.1,192.5 652.6,191.2 653.1,189.8 653.5,188.1 654,186.3" fill="none" stroke="#90c1dc" stroke-width="1.35" stroke-linejoin="round" />
<path d="M547.1,298.2 547.5,281.9 548,269.9 548.4,259.5 548.9,249.8 549.3,242.4 549.8,237.9 550.2,234.5 550.6,231.8 551.1,229.6 551.5,227.6 552,225.8 552.4,224.1 552.8,222.8 553.3,221.7 553.7,220.8 554.2,220.1 554.6,219.5 555.1,219.0 555.5,218.6 555.9,218.3 556.4,218.1 556.8,217.9 557.3,217.8 557.7,217.6 557.7,217.6 559.8,217.2 561.8,216.8 563.8,216.2 565.9,215.7 567.9,215.1 570,214.4 572,213.7 574,213.1 576.1,212.5 578.1,211.9 580.2,211.4 582.2,211.0 584.2,210.6 586.3,210.2 588.3,209.9 590.4,209.6 592.4,209.3 594.4,209.1 596.5,208.8 598.5,208.6 600.6,208.4 602.6,208.3 604.7,208.2 606.7,208.1 608.7,208.0 610.8,208.0 612.8,207.9 614.9,207.8 616.9,207.6 618.9,207.5 621,207.4 623,207.2 625.1,207.1 627.1,206.9 629.1,206.7 631.2,206.5 633.2,206.2 635.3,205.8 637.3,205.2 637.3,205.2 637.8,205.1 638.2,204.9 638.7,204.7 639.2,204.6 639.6,204.4 640.1,204.2 640.6,204.0 641.1,203.8 641.5,203.6 642,203.4 642.5,203.1 642.9,202.8 643.4,202.5 643.9,202.2 644.3,201.9 644.8,201.5 645.3,201.2 645.7,200.8 646.2,200.4 646.7,200.0 647.1,199.5 647.6,199.0 648.1,198.4 648.5,197.8 649,197.1 649.5,196.4 649.9,195.5 650.4,194.6 650.9,193.6 651.4,192.5 651.8,191.2 652.3,189.7 652.8,188.1 653.2,186.3" fill="none" stroke="#7cb1d5" stroke-width="1.35" stroke-linejoin="round" />
<path d="M547.1,298.1 547.5,281.8 548,269.9 548.4,259.5 548.9,249.8 549.3,242.3 549.7,237.9 550.2,234.5 550.6,231.8 551.1,229.5 551.5,227.6 551.9,225.7 552.4,224.1 552.8,222.7 553.2,221.6 553.7,220.8 554.1,220.1 554.6,219.5 555,219.0 555.4,218.5 555.9,218.2 556.3,218.1 556.8,217.9 557.2,217.8 557.6,217.6 557.6,217.6 559.7,217.2 561.7,216.8 563.7,216.2 565.7,215.6 567.8,215.0 569.8,214.4 571.8,213.7 573.8,213.1 575.9,212.5 577.9,211.9 579.9,211.4 581.9,211.0 584,210.6 586,210.2 588,209.9 590,209.6 592.1,209.3 594.1,209.0 596.1,208.8 598.1,208.6 600.2,208.4 602.2,208.3 604.2,208.2 606.3,208.1 608.3,208.0 610.3,207.9 612.3,207.8 614.4,207.7 616.4,207.6 618.4,207.5 620.4,207.4 622.5,207.2 624.5,207.1 626.5,206.9 628.5,206.7 630.6,206.5 632.6,206.2 634.6,205.8 636.6,205.2 636.6,205.2 637.1,205.0 637.6,204.9 638,204.7 638.5,204.6 639,204.4 639.4,204.2 639.9,204.0 640.4,203.8 640.8,203.6 641.3,203.3 641.7,203.1 642.2,202.8 642.7,202.5 643.1,202.2 643.6,201.8 644.1,201.5 644.5,201.1 645,200.8 645.5,200.3 645.9,199.9 646.4,199.4 646.9,198.9 647.3,198.3 647.8,197.7 648.3,197.0 648.7,196.3 649.2,195.5 649.6,194.5 650.1,193.5 650.6,192.4 651,191.1 651.5,189.7 652,188.1 652.4,186.3" fill="none" stroke="#68a0cd" stroke-width="1.35" stroke-linejoin="round" />
<path d="M547.1,298.1 547.5,281.8 548,269.8 548.4,259.5 548.8,249.8 549.3,242.3 549.7,237.9 550.1,234.5 550.6,231.8 551,229.5 551.5,227.5 551.9,225.7 552.3,224.1 552.8,222.7 553.2,221.6 553.6,220.8 554.1,220.1 554.5,219.5 554.9,219.0 555.4,218.5 555.8,218.2 556.2,218.0 556.7,217.9 557.1,217.8 557.6,217.6 557.6,217.6 559.6,217.2 561.6,216.8 563.6,216.2 565.6,215.6 567.6,215.0 569.6,214.4 571.6,213.8 573.6,213.1 575.6,212.5 577.7,211.9 579.7,211.4 581.7,211.0 583.7,210.6 585.7,210.2 587.7,209.9 589.7,209.6 591.7,209.3 593.7,209.0 595.8,208.8 597.8,208.6 599.8,208.4 601.8,208.3 603.8,208.2 605.8,208.1 607.8,208.0 609.8,207.9 611.8,207.8 613.9,207.7 615.9,207.6 617.9,207.5 619.9,207.4 621.9,207.2 623.9,207.1 625.9,206.9 627.9,206.7 629.9,206.5 631.9,206.2 634,205.8 636,205.2 636,205.2 636.4,205.0 636.9,204.9 637.4,204.7 637.8,204.5 638.3,204.4 638.7,204.2 639.2,204.0 639.7,203.8 640.1,203.6 640.6,203.3 641,203.1 641.5,202.8 642,202.5 642.4,202.1 642.9,201.8 643.3,201.5 643.8,201.1 644.3,200.7 644.7,200.3 645.2,199.8 645.7,199.4 646.1,198.8 646.6,198.2 647,197.6 647.5,197.0 648,196.2 648.4,195.4 648.9,194.5 649.3,193.4 649.8,192.3 650.3,191.0 650.7,189.6 651.2,188.0 651.6,186.3" fill="none" stroke="#5490c5" stroke-width="1.35" stroke-linejoin="round" />
<path d="M547.1,298.1 547.5,281.8 548,269.8 548.4,259.5 548.8,249.7 549.3,242.2 549.7,237.8 550.1,234.4 550.6,231.7 551,229.5 551.4,227.5 551.9,225.7 552.3,224.1 552.7,222.7 553.2,221.6 553.6,220.8 554,220.1 554.4,219.5 554.9,218.9 555.3,218.5 555.7,218.2 556.2,218.0 556.6,217.9 557,217.7 557.5,217.6 557.5,217.6 559.5,217.2 561.5,216.8 563.5,216.2 565.5,215.6 567.5,215.0 569.4,214.4 571.4,213.8 573.4,213.1 575.4,212.5 577.4,211.9 579.4,211.4 581.4,211.0 583.4,210.6 585.4,210.2 587.4,209.9 589.4,209.6 591.4,209.3 593.4,209.0 595.4,208.7 597.4,208.5 599.4,208.4 601.4,208.2 603.4,208.1 605.4,208.1 607.4,208.0 609.4,207.9 611.4,207.8 613.3,207.7 615.3,207.6 617.3,207.5 619.3,207.3 621.3,207.2 623.3,207.1 625.3,206.9 627.3,206.7 629.3,206.5 631.3,206.2 633.3,205.7 635.3,205.2 635.3,205.2 635.8,205.0 636.2,204.8 636.7,204.7 637.1,204.5 637.6,204.3 638,204.2 638.5,204.0 639,203.8 639.4,203.5 639.9,203.3 640.3,203.0 640.8,202.7 641.2,202.4 641.7,202.1 642.2,201.8 642.6,201.4 643.1,201.0 643.5,200.7 644,200.2 644.5,199.8 644.9,199.3 645.4,198.8 645.8,198.2 646.3,197.6 646.7,196.9 647.2,196.1 647.7,195.3 648.1,194.4 648.6,193.4 649,192.3 649.5,191.0 649.9,189.6 650.4,188.0 650.9,186.3" fill="none" stroke="#4a85bd" stroke-width="1.35" stroke-linejoin="round" />
<path d="M547.1,298.0 547.5,281.7 548,269.8 548.4,259.5 548.8,249.7 549.2,242.2 549.7,237.8 550.1,234.4 550.5,231.7 551,229.5 551.4,227.5 551.8,225.7 552.2,224.1 552.7,222.7 553.1,221.6 553.5,220.8 554,220.1 554.4,219.5 554.8,218.9 555.3,218.5 555.7,218.2 556.1,218.0 556.5,217.9 557,217.7 557.4,217.6 557.4,217.6 559.4,217.2 561.4,216.8 563.3,216.2 565.3,215.6 567.3,215.0 569.3,214.4 571.3,213.8 573.2,213.1 575.2,212.5 577.2,211.9 579.2,211.4 581.2,211.0 583.1,210.6 585.1,210.2 587.1,209.9 589.1,209.5 591.1,209.3 593,209.0 595,208.7 597,208.5 599,208.4 601,208.2 602.9,208.1 604.9,208.0 606.9,208.0 608.9,207.9 610.9,207.8 612.8,207.7 614.8,207.6 616.8,207.5 618.8,207.3 620.8,207.2 622.7,207.1 624.7,206.9 626.7,206.7 628.7,206.5 630.7,206.2 632.6,205.7 634.6,205.1 634.6,205.1 635.1,205.0 635.5,204.8 636,204.7 636.4,204.5 636.9,204.3 637.4,204.1 637.8,203.9 638.3,203.7 638.7,203.5 639.2,203.3 639.6,203.0 640.1,202.7 640.5,202.4 641,202.1 641.4,201.7 641.9,201.4 642.4,201.0 642.8,200.6 643.3,200.2 643.7,199.7 644.2,199.3 644.6,198.7 645.1,198.1 645.5,197.5 646,196.8 646.4,196.1 646.9,195.2 647.3,194.3 647.8,193.3 648.3,192.2 648.7,191.0 649.2,189.5 649.6,188.0 650.1,186.3" fill="none" stroke="#447bb5" stroke-width="1.35" stroke-linejoin="round" />
<path d="M547.1,298.0 547.5,281.7 548,269.8 548.4,259.5 548.8,249.7 549.2,242.2 549.7,237.8 550.1,234.4 550.5,231.7 550.9,229.5 551.4,227.5 551.8,225.7 552.2,224.0 552.6,222.7 553.1,221.6 553.5,220.8 553.9,220.1 554.3,219.5 554.8,218.9 555.2,218.5 555.6,218.2 556,218.0 556.5,217.9 556.9,217.7 557.3,217.6 557.3,217.6 559.3,217.2 561.2,216.8 563.2,216.2 565.2,215.6 567.1,215.0 569.1,214.4 571.1,213.8 573,213.1 575,212.5 577,211.9 578.9,211.4 580.9,211.0 582.9,210.6 584.8,210.2 586.8,209.9 588.8,209.5 590.7,209.2 592.7,209.0 594.7,208.7 596.6,208.5 598.6,208.3 600.6,208.2 602.5,208.1 604.5,208.0 606.4,207.9 608.4,207.9 610.4,207.8 612.3,207.7 614.3,207.6 616.3,207.4 618.2,207.3 620.2,207.2 622.2,207.0 624.1,206.9 626.1,206.7 628.1,206.5 630,206.2 632,205.7 634,205.1 634,205.1 634.4,205.0 634.9,204.8 635.3,204.7 635.8,204.5 636.2,204.3 636.7,204.1 637.1,203.9 637.6,203.7 638,203.5 638.5,203.2 638.9,203.0 639.4,202.7 639.8,202.4 640.3,202.1 640.7,201.7 641.2,201.3 641.6,201.0 642.1,200.6 642.5,200.2 643,199.7 643.4,199.2 643.9,198.7 644.3,198.1 644.8,197.5 645.2,196.8 645.7,196.0 646.1,195.2 646.6,194.3 647,193.3 647.5,192.2 647.9,190.9 648.4,189.5 648.8,188.0 649.3,186.3" fill="none" stroke="#3e71ad" stroke-width="1.35" stroke-linejoin="round" />
<path d="M547.1,298.0 547.5,281.7 547.9,269.8 548.4,259.5 548.8,249.7 549.2,242.2 549.6,237.8 550.1,234.4 550.5,231.7 550.9,229.5 551.3,227.5 551.7,225.7 552.2,224.0 552.6,222.6 553,221.6 553.4,220.8 553.9,220.1 554.3,219.4 554.7,218.9 555.1,218.5 555.5,218.2 556,218.0 556.4,217.9 556.8,217.7 557.2,217.6 557.2,217.6 559.2,217.2 561.1,216.8 563.1,216.2 565,215.6 567,215.0 568.9,214.4 570.9,213.8 572.8,213.1 574.8,212.5 576.7,211.9 578.7,211.4 580.6,211.0 582.6,210.6 584.5,210.2 586.5,209.9 588.4,209.5 590.4,209.2 592.3,209.0 594.3,208.7 596.2,208.5 598.2,208.3 600.1,208.2 602.1,208.1 604,208.0 606,207.9 607.9,207.9 609.9,207.8 611.8,207.7 613.8,207.6 615.7,207.4 617.7,207.3 619.6,207.2 621.6,207.0 623.5,206.9 625.5,206.7 627.4,206.5 629.4,206.2 631.3,205.7 633.3,205.1 633.3,205.1 633.7,205.0 634.2,204.8 634.6,204.6 635.1,204.5 635.5,204.3 636,204.1 636.4,203.9 636.9,203.7 637.3,203.5 637.8,203.2 638.2,203.0 638.7,202.7 639.1,202.4 639.6,202.0 640,201.7 640.4,201.3 640.9,200.9 641.3,200.6 641.8,200.1 642.2,199.7 642.7,199.2 643.1,198.6 643.6,198.0 644,197.4 644.5,196.7 644.9,196.0 645.4,195.2 645.8,194.2 646.3,193.2 646.7,192.1 647.2,190.9 647.6,189.5 648.1,188.0 648.5,186.3" fill="none" stroke="#3868a5" stroke-width="1.35" stroke-linejoin="round" />
<path d="M547.1,298.0 547.5,281.7 547.9,269.7 548.4,259.5 548.8,249.7 549.2,242.2 549.6,237.8 550,234.4 550.5,231.7 550.9,229.5 551.3,227.5 551.7,225.7 552.1,224.0 552.5,222.6 553,221.5 553.4,220.8 553.8,220.1 554.2,219.4 554.6,218.9 555.1,218.5 555.5,218.2 555.9,218.0 556.3,217.9 556.7,217.7 557.2,217.6 557.2,217.6 559.1,217.2 561,216.8 563,216.2 564.9,215.6 566.8,215.0 568.8,214.4 570.7,213.8 572.6,213.1 574.6,212.5 576.5,211.9 578.4,211.4 580.4,211.0 582.3,210.6 584.2,210.2 586.2,209.8 588.1,209.5 590.1,209.2 592,209.0 593.9,208.7 595.9,208.5 597.8,208.3 599.7,208.2 601.7,208.1 603.6,208.0 605.5,207.9 607.5,207.8 609.4,207.8 611.3,207.7 613.3,207.5 615.2,207.4 617.1,207.3 619.1,207.2 621,207.0 622.9,206.9 624.9,206.7 626.8,206.4 628.8,206.2 630.7,205.7 632.6,205.1 632.6,205.1 633.1,205.0 633.5,204.8 634,204.6 634.4,204.5 634.8,204.3 635.3,204.1 635.7,203.9 636.2,203.7 636.6,203.5 637.1,203.2 637.5,202.9 637.9,202.7 638.4,202.3 638.8,202.0 639.3,201.7 639.7,201.3 640.2,200.9 640.6,200.5 641.1,200.1 641.5,199.7 641.9,199.2 642.4,198.6 642.8,198.0 643.3,197.4 643.7,196.7 644.2,196.0 644.6,195.1 645,194.2 645.5,193.2 645.9,192.1 646.4,190.9 646.8,189.5 647.3,188.0 647.7,186.3" fill="none" stroke="#335f9e" stroke-width="1.35" stroke-linejoin="round" />
<path d="M547.1,298.0 547.5,281.7 547.9,269.7 548.3,259.5 548.8,249.7 549.2,242.1 549.6,237.7 550,234.4 550.4,231.7 550.8,229.5 551.3,227.5 551.7,225.7 552.1,224.0 552.5,222.6 552.9,221.5 553.3,220.7 553.8,220.1 554.2,219.4 554.6,218.9 555,218.5 555.4,218.2 555.8,218.0 556.3,217.9 556.7,217.7 557.1,217.6 557.1,217.6 559,217.2 560.9,216.8 562.8,216.2 564.8,215.6 566.7,215.0 568.6,214.4 570.5,213.8 572.4,213.1 574.4,212.5 576.3,211.9 578.2,211.4 580.1,211.0 582,210.6 584,210.2 585.9,209.8 587.8,209.5 589.7,209.2 591.6,208.9 593.6,208.7 595.5,208.5 597.4,208.3 599.3,208.2 601.2,208.1 603.2,208.0 605.1,207.9 607,207.8 608.9,207.8 610.8,207.7 612.8,207.5 614.7,207.4 616.6,207.3 618.5,207.2 620.4,207.0 622.4,206.9 624.3,206.7 626.2,206.4 628.1,206.2 630,205.7 632,205.1 632,205.1 632.4,205.0 632.8,204.8 633.3,204.6 633.7,204.5 634.2,204.3 634.6,204.1 635,203.9 635.5,203.7 635.9,203.5 636.4,203.2 636.8,202.9 637.2,202.6 637.7,202.3 638.1,202.0 638.6,201.7 639,201.3 639.4,200.9 639.9,200.5 640.3,200.1 640.8,199.6 641.2,199.1 641.6,198.6 642.1,198.0 642.5,197.4 643,196.7 643.4,195.9 643.8,195.1 644.3,194.2 644.7,193.2 645.2,192.1 645.6,190.9 646,189.5 646.5,188.0 646.9,186.3" fill="none" stroke="#315a98" stroke-width="1.35" stroke-linejoin="round" />
<path d="M547.1,298.0 547.5,281.7 547.9,269.7 548.3,259.5 548.8,249.7 549.2,242.1 549.6,237.7 550,234.4 550.4,231.7 550.8,229.5 551.2,227.5 551.6,225.7 552.1,224.0 552.5,222.6 552.9,221.5 553.3,220.7 553.7,220.1 554.1,219.4 554.5,218.9 554.9,218.5 555.4,218.2 555.8,218.0 556.2,217.9 556.6,217.7 557,217.6 557,217.6 558.9,217.2 560.8,216.8 562.7,216.2 564.6,215.6 566.5,215.0 568.4,214.4 570.3,213.8 572.2,213.1 574.1,212.5 576,211.9 578,211.4 579.9,211.0 581.8,210.6 583.7,210.2 585.6,209.8 587.5,209.5 589.4,209.2 591.3,208.9 593.2,208.7 595.1,208.5 597,208.3 598.9,208.2 600.8,208.1 602.7,208.0 604.6,207.9 606.5,207.8 608.4,207.8 610.3,207.7 612.2,207.5 614.1,207.4 616,207.3 617.9,207.2 619.9,207.0 621.8,206.9 623.7,206.7 625.6,206.4 627.5,206.1 629.4,205.7 631.3,205.1 631.3,205.1 631.7,205.0 632.2,204.8 632.6,204.6 633,204.4 633.5,204.3 633.9,204.1 634.3,203.9 634.8,203.7 635.2,203.5 635.7,203.2 636.1,202.9 636.5,202.6 637,202.3 637.4,202.0 637.8,201.6 638.3,201.3 638.7,200.9 639.1,200.5 639.6,200.1 640,199.6 640.5,199.1 640.9,198.6 641.3,198.0 641.8,197.4 642.2,196.7 642.6,195.9 643.1,195.1 643.5,194.2 644,193.2 644.4,192.1 644.8,190.8 645.3,189.5 645.7,187.9 646.1,186.3" fill="none" stroke="#2f5492" stroke-width="1.35" stroke-linejoin="round" />
<path d="M547.1,298.0 547.5,281.7 547.9,269.7 548.3,259.5 548.7,249.7 549.1,242.1 549.6,237.7 550,234.4 550.4,231.7 550.8,229.5 551.2,227.5 551.6,225.6 552,224.0 552.4,222.6 552.8,221.5 553.2,220.7 553.6,220.0 554.1,219.4 554.5,218.9 554.9,218.5 555.3,218.2 555.7,218.0 556.1,217.9 556.5,217.7 556.9,217.6 556.9,217.6 558.8,217.2 560.7,216.8 562.6,216.2 564.5,215.6 566.4,215.0 568.3,214.4 570.2,213.8 572,213.1 573.9,212.5 575.8,211.9 577.7,211.4 579.6,211.0 581.5,210.6 583.4,210.2 585.3,209.8 587.2,209.5 589,209.2 590.9,208.9 592.8,208.7 594.7,208.5 596.6,208.3 598.5,208.2 600.4,208.1 602.3,208.0 604.2,207.9 606,207.8 607.9,207.7 609.8,207.7 611.7,207.5 613.6,207.4 615.5,207.3 617.4,207.2 619.3,207.0 621.2,206.9 623.1,206.7 624.9,206.4 626.8,206.1 628.7,205.7 630.6,205.1 630.6,205.1 631,204.9 631.5,204.8 631.9,204.6 632.3,204.4 632.8,204.3 633.2,204.1 633.6,203.9 634.1,203.7 634.5,203.5 634.9,203.2 635.4,202.9 635.8,202.6 636.2,202.3 636.7,202.0 637.1,201.6 637.5,201.3 638,200.9 638.4,200.5 638.8,200.1 639.3,199.6 639.7,199.1 640.1,198.6 640.6,198.0 641,197.3 641.4,196.7 641.9,195.9 642.3,195.1 642.7,194.2 643.2,193.1 643.6,192.1 644,190.8 644.5,189.5 644.9,187.9 645.3,186.3" fill="none" stroke="#2e4f8c" stroke-width="1.35" stroke-linejoin="round" />
<path d="M547.1,298.0 547.5,281.7 547.9,269.7 548.3,259.5 548.7,249.7 549.1,242.1 549.5,237.7 549.9,234.4 550.3,231.7 550.8,229.5 551.2,227.5 551.6,225.6 552,224.0 552.4,222.6 552.8,221.5 553.2,220.7 553.6,220.0 554,219.4 554.4,218.9 554.8,218.5 555.2,218.2 555.6,218.0 556,217.9 556.4,217.7 556.8,217.6 556.8,217.6 558.7,217.2 560.6,216.8 562.5,216.2 564.3,215.6 566.2,215.0 568.1,214.4 570,213.8 571.8,213.1 573.7,212.5 575.6,211.9 577.5,211.4 579.3,211.0 581.2,210.6 583.1,210.2 585,209.8 586.8,209.5 588.7,209.2 590.6,208.9 592.5,208.7 594.3,208.5 596.2,208.3 598.1,208.2 600,208.1 601.8,208.0 603.7,207.9 605.6,207.8 607.5,207.7 609.3,207.7 611.2,207.5 613.1,207.4 614.9,207.3 616.8,207.2 618.7,207.0 620.6,206.9 622.4,206.7 624.3,206.4 626.2,206.1 628.1,205.7 629.9,205.1 629.9,205.1 630.4,204.9 630.8,204.8 631.2,204.6 631.7,204.4 632.1,204.3 632.5,204.1 633,203.9 633.4,203.7 633.8,203.5 634.2,203.2 634.7,202.9 635.1,202.6 635.5,202.3 636,202.0 636.4,201.6 636.8,201.3 637.3,200.9 637.7,200.5 638.1,200.1 638.5,199.6 639,199.1 639.4,198.6 639.8,198.0 640.3,197.3 640.7,196.7 641.1,195.9 641.6,195.1 642,194.2 642.4,193.1 642.8,192.1 643.3,190.8 643.7,189.5 644.1,187.9 644.6,186.3" fill="none" stroke="#2c4a86" stroke-width="1.35" stroke-linejoin="round" />
</g>
<rect x="542.3" y="174.3" width="136.9" height="141.2" fill="none" stroke="#5c5c5c" stroke-width="1.1"/>
<line x1="542.3" y1="307.1" x2="544.5" y2="307.1" stroke="#5c5c5c" stroke-width="1" />
<line x1="542.3" y1="290.5" x2="544.5" y2="290.5" stroke="#5c5c5c" stroke-width="1" />
<line x1="542.3" y1="273.9" x2="544.5" y2="273.9" stroke="#5c5c5c" stroke-width="1" />
<line x1="542.3" y1="257.3" x2="544.5" y2="257.3" stroke="#5c5c5c" stroke-width="1" />
<line x1="542.3" y1="240.7" x2="544.5" y2="240.7" stroke="#5c5c5c" stroke-width="1" />
<line x1="542.3" y1="224.1" x2="544.5" y2="224.1" stroke="#5c5c5c" stroke-width="1" />
<line x1="542.3" y1="207.5" x2="544.5" y2="207.5" stroke="#5c5c5c" stroke-width="1" />
<line x1="542.3" y1="190.9" x2="544.5" y2="190.9" stroke="#5c5c5c" stroke-width="1" />
<line x1="542.3" y1="174.3" x2="544.5" y2="174.3" stroke="#5c5c5c" stroke-width="1" />
<line x1="542.3" y1="315.4" x2="543.6" y2="315.4" stroke="#5c5c5c" stroke-width="1" />
<line x1="542.3" y1="298.8" x2="543.6" y2="298.8" stroke="#5c5c5c" stroke-width="1" />
<line x1="542.3" y1="282.2" x2="543.6" y2="282.2" stroke="#5c5c5c" stroke-width="1" />
<line x1="542.3" y1="265.6" x2="543.6" y2="265.6" stroke="#5c5c5c" stroke-width="1" />
<line x1="542.3" y1="249" x2="543.6" y2="249" stroke="#5c5c5c" stroke-width="1" />
<line x1="542.3" y1="232.4" x2="543.6" y2="232.4" stroke="#5c5c5c" stroke-width="1" />
<line x1="542.3" y1="215.8" x2="543.6" y2="215.8" stroke="#5c5c5c" stroke-width="1" />
<line x1="542.3" y1="199.2" x2="543.6" y2="199.2" stroke="#5c5c5c" stroke-width="1" />
<line x1="542.3" y1="182.6" x2="543.6" y2="182.6" stroke="#5c5c5c" stroke-width="1" />
<line x1="679.2" y1="307.1" x2="677" y2="307.1" stroke="#5c5c5c" stroke-width="1" />
<line x1="679.2" y1="290.5" x2="677" y2="290.5" stroke="#5c5c5c" stroke-width="1" />
<line x1="679.2" y1="273.9" x2="677" y2="273.9" stroke="#5c5c5c" stroke-width="1" />
<line x1="679.2" y1="257.3" x2="677" y2="257.3" stroke="#5c5c5c" stroke-width="1" />
<line x1="679.2" y1="240.7" x2="677" y2="240.7" stroke="#5c5c5c" stroke-width="1" />
<line x1="679.2" y1="224.1" x2="677" y2="224.1" stroke="#5c5c5c" stroke-width="1" />
<line x1="679.2" y1="207.5" x2="677" y2="207.5" stroke="#5c5c5c" stroke-width="1" />
<line x1="679.2" y1="190.9" x2="677" y2="190.9" stroke="#5c5c5c" stroke-width="1" />
<line x1="679.2" y1="174.3" x2="677" y2="174.3" stroke="#5c5c5c" stroke-width="1" />
<line x1="679.2" y1="315.4" x2="677.9" y2="315.4" stroke="#5c5c5c" stroke-width="1" />
<line x1="679.2" y1="298.8" x2="677.9" y2="298.8" stroke="#5c5c5c" stroke-width="1" />
<line x1="679.2" y1="282.2" x2="677.9" y2="282.2" stroke="#5c5c5c" stroke-width="1" />
<line x1="679.2" y1="265.6" x2="677.9" y2="265.6" stroke="#5c5c5c" stroke-width="1" />
<line x1="679.2" y1="249" x2="677.9" y2="249" stroke="#5c5c5c" stroke-width="1" />
<line x1="679.2" y1="232.4" x2="677.9" y2="232.4" stroke="#5c5c5c" stroke-width="1" />
<line x1="679.2" y1="215.8" x2="677.9" y2="215.8" stroke="#5c5c5c" stroke-width="1" />
<line x1="679.2" y1="199.2" x2="677.9" y2="199.2" stroke="#5c5c5c" stroke-width="1" />
<line x1="679.2" y1="182.6" x2="677.9" y2="182.6" stroke="#5c5c5c" stroke-width="1" />
<line x1="547.1" y1="315.5" x2="547.1" y2="313.3" stroke="#5c5c5c" stroke-width="1" />
<line x1="573.7" y1="315.5" x2="573.7" y2="313.3" stroke="#5c5c5c" stroke-width="1" />
<line x1="600.3" y1="315.5" x2="600.3" y2="313.3" stroke="#5c5c5c" stroke-width="1" />
<line x1="626.9" y1="315.5" x2="626.9" y2="313.3" stroke="#5c5c5c" stroke-width="1" />
<line x1="653.5" y1="315.5" x2="653.5" y2="313.3" stroke="#5c5c5c" stroke-width="1" />
<line x1="680.1" y1="315.5" x2="680.1" y2="313.3" stroke="#5c5c5c" stroke-width="1" />
<line x1="560.4" y1="315.5" x2="560.4" y2="314.2" stroke="#5c5c5c" stroke-width="1" />
<line x1="587" y1="315.5" x2="587" y2="314.2" stroke="#5c5c5c" stroke-width="1" />
<line x1="613.6" y1="315.5" x2="613.6" y2="314.2" stroke="#5c5c5c" stroke-width="1" />
<line x1="640.2" y1="315.5" x2="640.2" y2="314.2" stroke="#5c5c5c" stroke-width="1" />
<line x1="666.8" y1="315.5" x2="666.8" y2="314.2" stroke="#5c5c5c" stroke-width="1" />
<line x1="547.1" y1="174.3" x2="547.1" y2="176.5" stroke="#5c5c5c" stroke-width="1" />
<line x1="573.7" y1="174.3" x2="573.7" y2="176.5" stroke="#5c5c5c" stroke-width="1" />
<line x1="600.3" y1="174.3" x2="600.3" y2="176.5" stroke="#5c5c5c" stroke-width="1" />
<line x1="626.9" y1="174.3" x2="626.9" y2="176.5" stroke="#5c5c5c" stroke-width="1" />
<line x1="653.5" y1="174.3" x2="653.5" y2="176.5" stroke="#5c5c5c" stroke-width="1" />
<line x1="680.1" y1="174.3" x2="680.1" y2="176.5" stroke="#5c5c5c" stroke-width="1" />
<line x1="560.4" y1="174.3" x2="560.4" y2="175.6" stroke="#5c5c5c" stroke-width="1" />
<line x1="587" y1="174.3" x2="587" y2="175.6" stroke="#5c5c5c" stroke-width="1" />
<line x1="613.6" y1="174.3" x2="613.6" y2="175.6" stroke="#5c5c5c" stroke-width="1" />
<line x1="640.2" y1="174.3" x2="640.2" y2="175.6" stroke="#5c5c5c" stroke-width="1" />
<line x1="666.8" y1="174.3" x2="666.8" y2="175.6" stroke="#5c5c5c" stroke-width="1" />
<text x="539.3" y="309.9" font-size="8" text-anchor="end" fill="#242424" font-weight="normal" font-family='"Liberation Serif", serif' >2.2</text>
<text x="539.3" y="293.3" font-size="8" text-anchor="end" fill="#242424" font-weight="normal" font-family='"Liberation Serif", serif' >2.4</text>
<text x="539.3" y="276.7" font-size="8" text-anchor="end" fill="#242424" font-weight="normal" font-family='"Liberation Serif", serif' >2.6</text>
<text x="539.3" y="260.1" font-size="8" text-anchor="end" fill="#242424" font-weight="normal" font-family='"Liberation Serif", serif' >2.8</text>
<text x="539.3" y="243.5" font-size="8" text-anchor="end" fill="#242424" font-weight="normal" font-family='"Liberation Serif", serif' >3.0</text>
<text x="539.3" y="226.9" font-size="8" text-anchor="end" fill="#242424" font-weight="normal" font-family='"Liberation Serif", serif' >3.2</text>
<text x="539.3" y="210.3" font-size="8" text-anchor="end" fill="#242424" font-weight="normal" font-family='"Liberation Serif", serif' >3.4</text>
<text x="539.3" y="193.7" font-size="8" text-anchor="end" fill="#242424" font-weight="normal" font-family='"Liberation Serif", serif' >3.6</text>
<text x="539.3" y="177.1" font-size="8" text-anchor="end" fill="#242424" font-weight="normal" font-family='"Liberation Serif", serif' >3.8</text>
<text x="547.1" y="324.8" font-size="8" text-anchor="middle" fill="#242424" font-weight="normal" font-family='"Liberation Serif", serif' >0.0</text>
<text x="573.7" y="324.8" font-size="8" text-anchor="middle" fill="#242424" font-weight="normal" font-family='"Liberation Serif", serif' >0.5</text>
<text x="600.3" y="324.8" font-size="8" text-anchor="middle" fill="#242424" font-weight="normal" font-family='"Liberation Serif", serif' >1.0</text>
<text x="626.9" y="324.8" font-size="8" text-anchor="middle" fill="#242424" font-weight="normal" font-family='"Liberation Serif", serif' >1.5</text>
<text x="653.5" y="324.8" font-size="8" text-anchor="middle" fill="#242424" font-weight="normal" font-family='"Liberation Serif", serif' >2.0</text>
<text x="680.1" y="324.8" font-size="8" text-anchor="middle" fill="#242424" font-weight="normal" font-family='"Liberation Serif", serif' >2.5</text>
<text x="610.9" y="336.4" font-size="11.9" text-anchor="middle" fill="#242424" font-weight="normal" font-family='"Liberation Serif", serif' >Charge capacity (Ah)</text>
<text x="0" y="0" font-size="12.6" text-anchor="middle" fill="#242424" font-weight="normal" font-family='"Liberation Serif", serif' transform="translate(520.9,244.2) rotate(-90)" dominant-baseline="central">Voltage (V)</text>
<text x="517.9" y="183.8" font-size="12.5" text-anchor="start" fill="#111" font-weight="bold" font-family='"Liberation Sans", sans-serif' >f</text>
<rect x="598.9" y="217" width="60" height="46.7" fill="#ededed"/>
<text x="629" y="229.7" font-size="11" text-anchor="middle" fill="#242424" font-weight="bold" font-family='"Liberation Serif", serif' >VALENCE</text>
<text x="629" y="244.7" font-size="11" text-anchor="middle" fill="#242424" font-weight="normal" font-family='"Liberation Serif", serif' >LFP battery</text>
<text x="629" y="259.8" font-size="11" text-anchor="middle" fill="#242424" font-weight="bold" font-family='"Liberation Serif", serif' >(#4)</text>
<text x="629" y="276" font-size="11.3" text-anchor="middle" fill="#242424" font-weight="normal" font-family='"Liberation Serif", serif' >State of health</text>
<rect x="590.8" y="281.9" width="76.7" height="8.7" fill="url(#cbar)" stroke="#555" stroke-width="0.5"/>
<line x1="609.98" y1="290.6" x2="609.98" y2="289.3" stroke="#333" stroke-width="0.8" />
<line x1="629.15" y1="290.6" x2="629.15" y2="289.3" stroke="#333" stroke-width="0.8" />
<line x1="648.33" y1="290.6" x2="648.33" y2="289.3" stroke="#333" stroke-width="0.8" />
<text x="595.7" y="301.8" font-size="9.6" text-anchor="middle" fill="#242424" font-weight="normal" font-family='"Liberation Serif", serif' >80%</text>
<text x="667.5" y="301.8" font-size="9.6" text-anchor="middle" fill="#242424" font-weight="normal" font-family='"Liberation Serif", serif' >100%</text>
<rect x="548.4" y="363.67" width="12.47" height="47.23" fill="url(#barg)" stroke="#4a4a4a" stroke-width="0.8"/>
<rect x="560.87" y="376.13" width="12.47" height="34.77" fill="url(#barg)" stroke="#4a4a4a" stroke-width="0.8"/>
<rect x="573.34" y="365.8" width="12.47" height="45.1" fill="url(#barg)" stroke="#4a4a4a" stroke-width="0.8"/>
<rect x="585.81" y="365.96" width="12.47" height="44.94" fill="url(#barg)" stroke="#4a4a4a" stroke-width="0.8"/>
<rect x="598.28" y="356.45" width="12.47" height="54.45" fill="url(#barg)" stroke="#4a4a4a" stroke-width="0.8"/>
<rect x="610.75" y="362.68" width="12.47" height="48.22" fill="url(#barg)" stroke="#4a4a4a" stroke-width="0.8"/>
<rect x="623.22" y="374.49" width="12.47" height="36.41" fill="url(#barg)" stroke="#4a4a4a" stroke-width="0.8"/>
<rect x="635.69" y="369.74" width="12.47" height="41.16" fill="url(#barg)" stroke="#4a4a4a" stroke-width="0.8"/>
<rect x="648.16" y="360.72" width="12.47" height="50.18" fill="url(#barg)" stroke="#4a4a4a" stroke-width="0.8"/>
<rect x="660.63" y="399.58" width="12.47" height="11.32" fill="url(#barg)" stroke="#4a4a4a" stroke-width="0.8"/>
<rect x="542" y="341.1" width="137.4" height="69.8" fill="none" stroke="#5c5c5c" stroke-width="1.1"/>
<line x1="542" y1="410.9" x2="544.2" y2="410.9" stroke="#5c5c5c" stroke-width="1" />
<line x1="542" y1="394.5" x2="544.2" y2="394.5" stroke="#5c5c5c" stroke-width="1" />
<line x1="542" y1="378.1" x2="544.2" y2="378.1" stroke="#5c5c5c" stroke-width="1" />
<line x1="542" y1="361.7" x2="544.2" y2="361.7" stroke="#5c5c5c" stroke-width="1" />
<line x1="542" y1="345.3" x2="544.2" y2="345.3" stroke="#5c5c5c" stroke-width="1" />
<line x1="679.4" y1="410.9" x2="677.2" y2="410.9" stroke="#5c5c5c" stroke-width="1" />
<line x1="679.4" y1="394.5" x2="677.2" y2="394.5" stroke="#5c5c5c" stroke-width="1" />
<line x1="679.4" y1="378.1" x2="677.2" y2="378.1" stroke="#5c5c5c" stroke-width="1" />
<line x1="679.4" y1="361.7" x2="677.2" y2="361.7" stroke="#5c5c5c" stroke-width="1" />
<line x1="679.4" y1="345.3" x2="677.2" y2="345.3" stroke="#5c5c5c" stroke-width="1" />
<line x1="554.64" y1="341.1" x2="554.64" y2="343.3" stroke="#5c5c5c" stroke-width="1" />
<line x1="567.11" y1="341.1" x2="567.11" y2="343.3" stroke="#5c5c5c" stroke-width="1" />
<line x1="579.58" y1="341.1" x2="579.58" y2="343.3" stroke="#5c5c5c" stroke-width="1" />
<line x1="592.05" y1="341.1" x2="592.05" y2="343.3" stroke="#5c5c5c" stroke-width="1" />
<line x1="604.52" y1="341.1" x2="604.52" y2="343.3" stroke="#5c5c5c" stroke-width="1" />
<line x1="616.99" y1="341.1" x2="616.99" y2="343.3" stroke="#5c5c5c" stroke-width="1" />
<line x1="629.46" y1="341.1" x2="629.46" y2="343.3" stroke="#5c5c5c" stroke-width="1" />
<line x1="641.93" y1="341.1" x2="641.93" y2="343.3" stroke="#5c5c5c" stroke-width="1" />
<line x1="654.4" y1="341.1" x2="654.4" y2="343.3" stroke="#5c5c5c" stroke-width="1" />
<line x1="666.87" y1="341.1" x2="666.87" y2="343.3" stroke="#5c5c5c" stroke-width="1" />
<line x1="548.4" y1="410.9" x2="548.4" y2="408.7" stroke="#5c5c5c" stroke-width="1" />
<line x1="560.87" y1="410.9" x2="560.87" y2="408.7" stroke="#5c5c5c" stroke-width="1" />
<line x1="573.34" y1="410.9" x2="573.34" y2="408.7" stroke="#5c5c5c" stroke-width="1" />
<line x1="585.81" y1="410.9" x2="585.81" y2="408.7" stroke="#5c5c5c" stroke-width="1" />
<line x1="598.28" y1="410.9" x2="598.28" y2="408.7" stroke="#5c5c5c" stroke-width="1" />
<line x1="610.75" y1="410.9" x2="610.75" y2="408.7" stroke="#5c5c5c" stroke-width="1" />
<line x1="623.22" y1="410.9" x2="623.22" y2="408.7" stroke="#5c5c5c" stroke-width="1" />
<line x1="635.69" y1="410.9" x2="635.69" y2="408.7" stroke="#5c5c5c" stroke-width="1" />
<line x1="648.16" y1="410.9" x2="648.16" y2="408.7" stroke="#5c5c5c" stroke-width="1" />
<line x1="660.63" y1="410.9" x2="660.63" y2="408.7" stroke="#5c5c5c" stroke-width="1" />
<line x1="673.1" y1="410.9" x2="673.1" y2="408.7" stroke="#5c5c5c" stroke-width="1" />
<text x="539" y="413.7" font-size="8" text-anchor="end" fill="#242424" font-weight="normal" font-family='"Liberation Serif", serif' >0</text>
<text x="539" y="397.3" font-size="8" text-anchor="end" fill="#242424" font-weight="normal" font-family='"Liberation Serif", serif' >100</text>
<text x="539" y="380.9" font-size="8" text-anchor="end" fill="#242424" font-weight="normal" font-family='"Liberation Serif", serif' >200</text>
<text x="539" y="364.5" font-size="8" text-anchor="end" fill="#242424" font-weight="normal" font-family='"Liberation Serif", serif' >300</text>
<text x="539" y="348.1" font-size="8" text-anchor="end" fill="#242424" font-weight="normal" font-family='"Liberation Serif", serif' >400</text>
<text x="548.4" y="420.6" font-size="8.6" text-anchor="middle" fill="#242424" font-weight="normal" font-family='"Liberation Serif", serif' >80%</text>
<text x="610.75" y="420.6" font-size="8.6" text-anchor="middle" fill="#242424" font-weight="normal" font-family='"Liberation Serif", serif' >90%</text>
<text x="673.1" y="420.6" font-size="8.6" text-anchor="middle" fill="#242424" font-weight="normal" font-family='"Liberation Serif", serif' >100%</text>
<text x="610.4" y="430.8" font-size="11.8" text-anchor="middle" fill="#242424" font-weight="normal" font-family='"Liberation Serif", serif' >State of health</text>
<text x="0" y="0" font-size="11.7" text-anchor="middle" fill="#242424" font-weight="normal" font-family='"Liberation Serif", serif' transform="translate(519.3,375.9) rotate(-90)" dominant-baseline="central">Samples</text>
</svg>
</body></html>
